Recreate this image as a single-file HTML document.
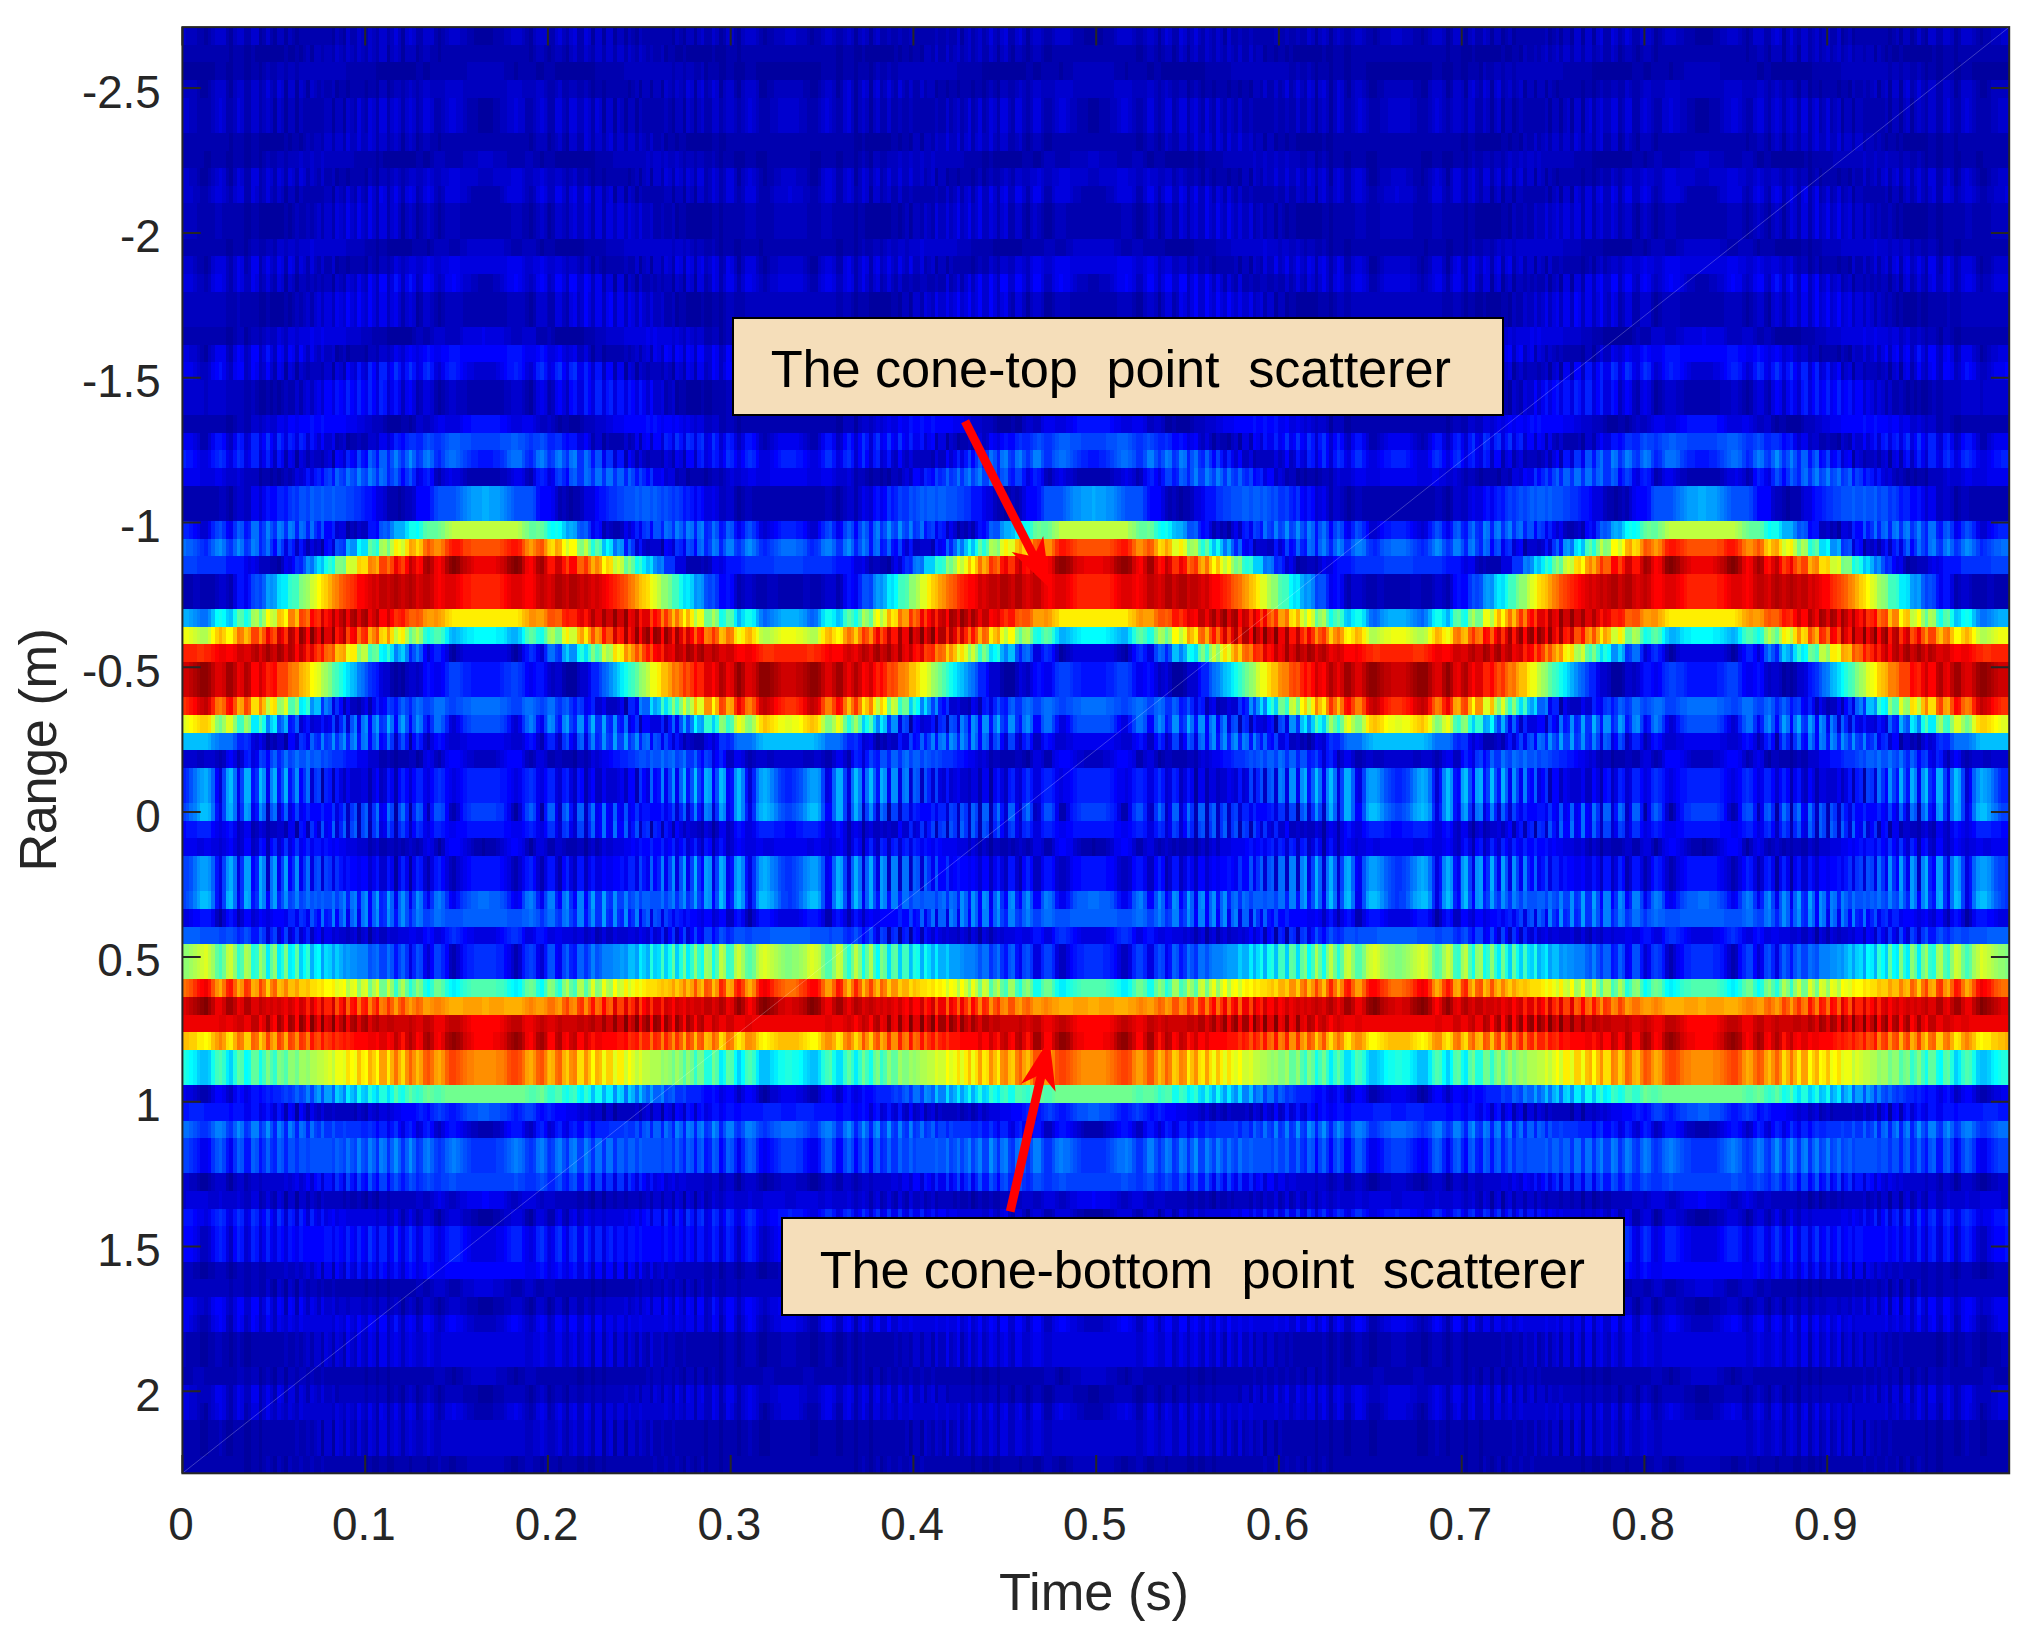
<!DOCTYPE html>
<html lang="en"><head><meta charset="utf-8"><title>Range-time image</title>
<style>
html,body{margin:0;padding:0;background:#fff}
body{width:2044px;height:1640px;position:relative;overflow:hidden;font-family:"Liberation Sans",sans-serif;color:#262626}
#hm{position:absolute;left:182.4px;top:27.1px;width:1826.8px;height:1446.2px;overflow:hidden;background:#0000a0}
.r{position:absolute;left:0;width:500px;transform:scaleX(3.65360);transform-origin:0 0}
.r i{position:absolute;top:0;height:100%;width:51px}
.ov{position:absolute;left:0;top:0}
.xt{position:absolute;top:1499.5px;width:200px;text-align:center;font-size:45.8px;line-height:50px;white-space:nowrap}
.yt{position:absolute;left:0;width:160.8px;text-align:right;font-size:45.8px;line-height:60px;height:60px;white-space:nowrap}
.xl{position:absolute;left:894px;width:400px;top:1562px;text-align:center;font-size:52.4px;line-height:60px;white-space:nowrap}
.yl{position:absolute;left:-162.2px;top:719.5px;letter-spacing:-0.5px;width:400px;height:60px;text-align:center;font-size:52.4px;line-height:60px;white-space:nowrap;transform:rotate(-90deg);transform-origin:50% 50%}
.box{position:absolute;box-sizing:content-box;border:2.2px solid #000;background:#f5deba;color:#000}
.box span{position:absolute;letter-spacing:-0.145px;font-size:52.4px;line-height:60px;white-space:pre}
</style></head>
<body>
<div id="hm">
<div class="r" style="top:0.00px;height:18.24px"><i style="left:0px;background:linear-gradient(90deg,#0000cf 0 1px,#0000bf 0 4px,#0000af 0 6px,#00009f 0 7px,#0000af 0 8px,#0000bf 0 9px,#0000cf 0 12px,#0000af 0 13px,#00009f 0 14px,#0000bf 0 15px,#0000cf 0 17px,#0000af 0 19px,#0000cf 0 21px,#00009f 0 22px,#0000af 0 23px,#0000cf 0 24px,#0000af 0 25px,#00009f 0 26px,#0000bf 0 28px,#00009f 0 29px,#0000bf 0 30px,#0000af 0 31px,#00009f 0 32px,#0000af 0 41px,#00009f 0 42px,#0000bf 0 43px,#0000af 0 44px,#00009f 0 45px,#0000cf 0 46px,#0000af 0 48px,#0000cf 0 49px,#0000bf 0)"></i><i style="left:50px;background:linear-gradient(90deg,#0000af 0 1px,#0000cf 0 2px,#0000bf 0 3px,#0000af 0 4px,#0000cf 0 6px,#0000af 0 7px,#0000bf 0 8px,#0000df 0 9px,#0000bf 0 10px,#00009f 0 11px,#0000cf 0 12px,#0000df 0 13px,#0000cf 0 14px,#0000af 0 16px,#0000cf 0 19px,#0000af 0 20px,#00009f 0 21px,#0000af 0 22px,#0000bf 0 23px,#0000cf 0 26px,#0000bf 0 28px,#0000af 0 30px,#00009f 0 35px,#0000af 0 38px,#0000bf 0 40px,#0000cf 0 43px,#0000bf 0 44px,#0000af 0 45px,#00009f 0 46px,#0000bf 0 47px,#0000cf 0)"></i><i style="left:100px;background:linear-gradient(90deg,#0000af 0 2px,#0000cf 0 3px,#0000df 0 4px,#0000bf 0 5px,#0000af 0 6px,#0000cf 0 7px,#0000df 0 8px,#0000af 0 10px,#0000df 0 11px,#0000cf 0 12px,#00009f 0 13px,#0000cf 0 15px,#00009f 0 16px,#0000cf 0 18px,#00009f 0 19px,#0000bf 0 21px,#00009f 0 22px,#0000bf 0 23px,#0000af 0 24px,#00009f 0 25px,#0000bf 0 26px,#0000af 0 34px,#00009f 0 35px,#0000bf 0 36px,#0000af 0 37px,#00009f 0 38px,#0000bf 0 40px,#00009f 0 41px,#0000bf 0 42px,#0000cf 0 43px,#0000af 0 45px,#0000cf 0 46px,#0000bf 0 47px,#00009f 0 48px,#0000af 0 49px,#0000cf 0)"></i><i style="left:150px;background:linear-gradient(90deg,#0000cf 0 1px,#0000af 0 2px,#00009f 0 3px,#0000bf 0 4px,#0000cf 0 7px,#0000bf 0 8px,#0000af 0 9px,#00009f 0 10px,#0000af 0 12px,#0000bf 0 15px,#0000cf 0 18px,#0000bf 0 21px,#0000af 0 22px,#00009f 0 23px,#0000af 0 25px,#0000bf 0 26px,#0000cf 0 28px,#0000bf 0 29px,#0000af 0 31px,#0000bf 0 32px,#0000cf 0 33px,#0000bf 0 34px,#00009f 0 35px,#0000bf 0 36px,#0000cf 0 37px,#0000bf 0 38px,#00009f 0 39px,#0000bf 0 40px,#0000cf 0 41px,#0000af 0 43px,#0000bf 0 44px,#0000af 0 46px,#0000bf 0 47px,#0000af 0 49px,#0000bf 0)"></i><i style="left:200px;background:linear-gradient(90deg,#0000af 0 6px,#0000bf 0 7px,#0000af 0 9px,#0000bf 0 10px,#0000af 0 12px,#0000cf 0 13px,#00009f 0 14px,#0000bf 0 15px,#0000cf 0 16px,#0000af 0 17px,#0000bf 0 18px,#0000cf 0 19px,#0000af 0 20px,#0000bf 0 21px,#0000df 0 22px,#0000bf 0 23px,#0000af 0 24px,#0000cf 0 25px,#0000df 0 26px,#0000af 0 28px,#0000cf 0 29px,#0000df 0 30px,#0000bf 0 31px,#00009f 0 32px,#0000bf 0 33px,#0000cf 0 35px,#0000bf 0 36px,#0000af 0 38px,#0000bf 0 39px,#0000cf 0 43px,#0000bf 0 44px,#0000af 0 47px,#00009f 0)"></i><i style="left:250px;background:linear-gradient(90deg,#00009f 0 2px,#0000af 0 5px,#0000bf 0 6px,#0000cf 0 10px,#0000bf 0 11px,#0000af 0 13px,#0000bf 0 14px,#0000cf 0 16px,#0000bf 0 17px,#00009f 0 18px,#0000bf 0 19px,#0000df 0 20px,#0000cf 0 21px,#0000af 0 23px,#0000df 0 24px,#0000cf 0 25px,#0000af 0 26px,#0000bf 0 27px,#0000df 0 28px,#0000bf 0 29px,#0000af 0 30px,#0000cf 0 31px,#0000bf 0 32px,#0000af 0 33px,#0000cf 0 34px,#0000bf 0 35px,#00009f 0 36px,#0000cf 0 37px,#0000af 0 39px,#0000bf 0 40px,#0000af 0 42px,#0000bf 0 43px,#0000af 0 49px,#0000bf 0)"></i><i style="left:300px;background:linear-gradient(90deg,#0000af 0 2px,#0000bf 0 3px,#0000af 0 5px,#0000bf 0 6px,#0000af 0 8px,#0000cf 0 9px,#0000bf 0 10px,#00009f 0 11px,#0000bf 0 12px,#0000cf 0 13px,#0000bf 0 14px,#00009f 0 15px,#0000bf 0 16px,#0000cf 0 17px,#0000bf 0 18px,#0000af 0 20px,#0000bf 0 21px,#0000cf 0 23px,#0000bf 0 24px,#0000af 0 26px,#00009f 0 27px,#0000af 0 28px,#0000bf 0 31px,#0000cf 0 34px,#0000bf 0 37px,#0000af 0 39px,#00009f 0 40px,#0000af 0 41px,#0000bf 0 42px,#0000cf 0 45px,#0000bf 0 46px,#00009f 0 47px,#0000af 0 48px,#0000cf 0)"></i><i style="left:350px;background:linear-gradient(90deg,#0000af 0 1px,#00009f 0 2px,#0000bf 0 3px,#0000cf 0 4px,#0000af 0 6px,#0000cf 0 7px,#0000bf 0 8px,#00009f 0 9px,#0000bf 0 11px,#00009f 0 12px,#0000af 0 13px,#0000bf 0 14px,#00009f 0 15px,#0000af 0 23px,#0000bf 0 24px,#00009f 0 25px,#0000af 0 26px,#0000bf 0 27px,#00009f 0 28px,#0000bf 0 30px,#00009f 0 31px,#0000cf 0 33px,#00009f 0 34px,#0000cf 0 36px,#00009f 0 37px,#0000cf 0 38px,#0000df 0 39px,#0000af 0 41px,#0000df 0 42px,#0000cf 0 43px,#0000af 0 44px,#0000bf 0 45px,#0000df 0 46px,#0000cf 0 47px,#0000af 0 49px,#0000cf 0)"></i><i style="left:400px;background:linear-gradient(90deg,#0000cf 0 2px,#0000bf 0 3px,#00009f 0 4px,#0000af 0 5px,#0000bf 0 6px,#0000cf 0 9px,#0000bf 0 11px,#0000af 0 14px,#00009f 0 19px,#0000af 0 21px,#0000bf 0 23px,#0000cf 0 26px,#0000bf 0 27px,#0000af 0 28px,#00009f 0 29px,#0000af 0 30px,#0000cf 0 33px,#0000af 0 35px,#0000cf 0 36px,#0000df 0 37px,#0000cf 0 38px,#00009f 0 39px,#0000bf 0 40px,#0000df 0 41px,#0000bf 0 42px,#0000af 0 43px,#0000cf 0 45px,#0000af 0 46px,#0000bf 0 47px,#0000cf 0 48px,#0000af 0 49px,#0000bf 0)"></i><i style="left:450px;background:linear-gradient(90deg,#0000cf 0 1px,#0000af 0 3px,#0000cf 0 4px,#00009f 0 5px,#0000af 0 6px,#0000bf 0 7px,#00009f 0 8px,#0000af 0 17px,#00009f 0 18px,#0000af 0 19px,#0000bf 0 20px,#00009f 0 21px,#0000bf 0 23px,#00009f 0 24px,#0000af 0 25px,#0000cf 0 26px,#0000af 0 27px,#00009f 0 28px,#0000cf 0 30px,#0000af 0 32px,#0000cf 0 34px,#0000bf 0 35px,#00009f 0 36px,#0000af 0 37px,#0000cf 0 40px,#0000bf 0 41px,#0000af 0 42px,#00009f 0 43px,#0000af 0 45px,#0000bf 0 48px,#0000cf 0)"></i></div>
<div class="r" style="top:17.64px;height:18.24px"><i style="left:0px;background:linear-gradient(90deg,#0000af 0 13px,#00009f 0 14px,#0000af 0 17px,#00009f 0 19px,#0000af 0 20px,#00009f 0 28px,#0000af 0 29px,#00009f 0 31px,#0000af 0 32px,#00009f 0 33px,#0000af 0 34px,#0000bf 0 35px,#00009f 0 36px,#0000bf 0 38px,#0000af 0 39px,#0000bf 0 41px,#0000af 0 42px,#0000cf 0 43px,#0000bf 0 44px,#0000af 0 45px,#0000cf 0 46px,#0000bf 0 47px,#0000af 0 48px,#0000cf 0 49px,#0000bf 0)"></i><i style="left:50px;background:linear-gradient(90deg,#0000af 0 1px,#0000cf 0 2px,#0000bf 0 3px,#0000af 0 4px,#0000cf 0 6px,#00009f 0 7px,#0000bf 0 8px,#0000cf 0 9px,#0000bf 0 10px,#00009f 0 11px,#0000bf 0 14px,#00009f 0 15px,#0000af 0 16px,#0000bf 0 18px,#0000af 0 20px,#00009f 0 21px,#0000af 0 45px,#00009f 0 46px,#0000af 0 47px,#0000bf 0 49px,#0000af 0)"></i><i style="left:100px;background:linear-gradient(90deg,#00009f 0 1px,#0000af 0 2px,#0000bf 0 4px,#0000af 0 5px,#00009f 0 6px,#0000bf 0 7px,#0000cf 0 8px,#0000af 0 10px,#0000cf 0 11px,#0000bf 0 12px,#0000af 0 13px,#0000cf 0 15px,#0000af 0 16px,#0000cf 0 18px,#0000af 0 19px,#0000cf 0 21px,#0000af 0 22px,#0000cf 0 23px,#0000bf 0 24px,#0000af 0 25px,#0000cf 0 26px,#0000bf 0 27px,#0000af 0 28px,#0000bf 0 29px,#0000af 0 31px,#0000bf 0 32px,#00009f 0 33px,#0000af 0 35px,#00009f 0 37px,#0000af 0 38px,#00009f 0 45px,#0000af 0 46px,#00009f 0 49px,#0000af 0)"></i><i style="left:150px;background:linear-gradient(90deg,#0000af 0 2px,#00009f 0 3px,#0000af 0 29px,#00009f 0 31px,#0000af 0 34px,#00009f 0 36px,#0000af 0 37px,#00009f 0 45px,#0000af 0 46px,#00009f 0 47px,#0000af 0 49px,#00009f 0)"></i><i style="left:200px;background:linear-gradient(90deg,#0000af 0 2px,#00009f 0 3px,#0000bf 0 5px,#0000af 0 6px,#0000cf 0 7px,#0000af 0 9px,#0000cf 0 10px,#0000af 0 11px,#0000bf 0 12px,#0000cf 0 13px,#0000af 0 14px,#0000bf 0 15px,#0000cf 0 16px,#0000af 0 17px,#0000bf 0 18px,#0000cf 0 19px,#0000af 0 21px,#0000cf 0 22px,#0000bf 0 23px,#00009f 0 24px,#0000bf 0 25px,#0000cf 0 26px,#0000af 0 27px,#00009f 0 28px,#0000bf 0 30px,#0000af 0 31px,#00009f 0 32px,#0000af 0 33px,#0000bf 0 35px,#0000af 0 36px,#00009f 0 38px,#0000af 0)"></i><i style="left:250px;background:linear-gradient(90deg,#0000af 0 11px,#00009f 0 13px,#0000af 0 14px,#0000bf 0 16px,#0000af 0 17px,#00009f 0 18px,#0000af 0 19px,#0000bf 0 21px,#00009f 0 22px,#0000af 0 23px,#0000cf 0 24px,#0000bf 0 25px,#00009f 0 26px,#0000bf 0 27px,#0000cf 0 28px,#0000af 0 30px,#0000cf 0 31px,#0000bf 0 32px,#0000af 0 33px,#0000cf 0 34px,#0000bf 0 35px,#0000af 0 36px,#0000cf 0 37px,#0000bf 0 38px,#0000af 0 39px,#0000cf 0 40px,#0000af 0 42px,#0000cf 0 43px,#0000af 0 44px,#0000bf 0 46px,#00009f 0 47px,#0000af 0 49px,#00009f 0)"></i><i style="left:300px;background:linear-gradient(90deg,#0000af 0 2px,#00009f 0 3px,#0000af 0 4px,#00009f 0 12px,#0000af 0 13px,#00009f 0 15px,#0000af 0 18px,#00009f 0 20px,#0000af 0 46px,#00009f 0 47px,#0000af 0)"></i><i style="left:350px;background:linear-gradient(90deg,#00009f 0 3px,#0000af 0 4px,#00009f 0 11px,#0000af 0 12px,#00009f 0 14px,#0000af 0 16px,#00009f 0 17px,#0000bf 0 18px,#0000af 0 20px,#0000bf 0 21px,#0000af 0 22px,#0000bf 0 23px,#0000cf 0 24px,#0000af 0 25px,#0000bf 0 26px,#0000cf 0 27px,#0000af 0 28px,#0000cf 0 30px,#0000af 0 31px,#0000cf 0 33px,#0000af 0 34px,#0000cf 0 36px,#0000af 0 37px,#0000bf 0 38px,#0000cf 0 39px,#0000af 0 41px,#0000cf 0 42px,#0000bf 0 43px,#00009f 0 44px,#0000af 0 45px,#0000bf 0 47px,#0000af 0 48px,#00009f 0 49px,#0000af 0)"></i><i style="left:400px;background:linear-gradient(90deg,#0000bf 0 2px,#0000af 0 3px,#00009f 0 4px,#0000af 0 28px,#00009f 0 29px,#0000af 0 31px,#0000bf 0 33px,#0000af 0 34px,#00009f 0 35px,#0000bf 0 38px,#00009f 0 39px,#0000bf 0 40px,#0000cf 0 41px,#0000bf 0 42px,#00009f 0 43px,#0000cf 0 45px,#0000af 0 46px,#0000bf 0 47px,#0000cf 0 48px,#0000af 0 49px,#0000bf 0)"></i><i style="left:450px;background:linear-gradient(90deg,#0000cf 0 1px,#0000af 0 2px,#0000bf 0 3px,#0000cf 0 4px,#0000af 0 5px,#0000bf 0 6px,#0000cf 0 7px,#0000af 0 8px,#0000bf 0 10px,#0000af 0 11px,#0000bf 0 13px,#00009f 0 14px,#0000bf 0 15px,#0000af 0 16px,#00009f 0 17px,#0000af 0 18px,#00009f 0 20px,#0000af 0 21px,#00009f 0 29px,#0000af 0 30px,#00009f 0 32px,#0000af 0 35px,#00009f 0 36px,#0000af 0)"></i></div>
<div class="r" style="top:35.27px;height:18.24px"><i style="left:0px;background:linear-gradient(90deg,#00009f 0 9px,#0000af 0 12px,#00009f 0 14px,#0000af 0 17px,#00009f 0 19px,#0000af 0 21px,#00009f 0 22px,#0000af 0 23px,#0000bf 0 24px,#0000af 0 26px,#0000bf 0 28px,#0000af 0 29px,#0000bf 0 31px,#0000af 0 32px,#0000bf 0 45px,#0000af 0)"></i><i style="left:50px;background:linear-gradient(90deg,#0000af 0 3px,#00009f 0 14px,#0000af 0 16px,#00009f 0 18px,#0000af 0 28px,#0000bf 0 38px,#0000af 0 41px,#00009f 0 42px,#0000af 0 47px,#00009f 0 49px,#0000af 0)"></i><i style="left:100px;background:linear-gradient(90deg,#0000af 0 2px,#00009f 0 13px,#0000af 0 21px,#0000bf 0 34px,#0000af 0 35px,#0000bf 0 37px,#0000af 0 38px,#0000bf 0 40px,#0000af 0 42px,#0000bf 0 43px,#00009f 0 44px,#0000af 0 47px,#00009f 0 49px,#0000af 0)"></i><i style="left:150px;background:linear-gradient(90deg,#0000af 0 1px,#00009f 0 4px,#0000af 0 7px,#00009f 0 25px,#0000af 0 29px,#00009f 0 31px,#0000af 0 34px,#00009f 0 35px,#0000af 0 38px,#00009f 0 39px,#0000af 0 40px,#0000bf 0 41px,#0000af 0 43px,#0000bf 0 44px,#0000af 0 46px,#0000bf 0)"></i><i style="left:200px;background:linear-gradient(90deg,#0000bf 0 12px,#0000af 0 19px,#00009f 0 31px,#0000af 0 33px,#00009f 0 35px,#0000af 0 40px,#00009f 0 41px,#0000af 0 44px,#0000bf 0)"></i><i style="left:250px;background:linear-gradient(90deg,#0000bf 0 5px,#0000af 0 8px,#00009f 0 9px,#0000af 0 14px,#00009f 0 16px,#0000af 0 18px,#00009f 0 30px,#0000af 0 37px,#0000bf 0)"></i><i style="left:300px;background:linear-gradient(90deg,#0000bf 0 3px,#0000af 0 5px,#0000bf 0 6px,#0000af 0 8px,#0000bf 0 9px,#0000af 0 10px,#00009f 0 11px,#0000af 0 14px,#00009f 0 15px,#0000af 0 18px,#00009f 0 20px,#0000af 0 24px,#00009f 0 42px,#0000af 0 45px,#00009f 0 48px,#0000af 0)"></i><i style="left:350px;background:linear-gradient(90deg,#00009f 0 2px,#0000af 0 5px,#00009f 0 6px,#0000bf 0 7px,#0000af 0 9px,#0000bf 0 11px,#0000af 0 12px,#0000bf 0 14px,#0000af 0 15px,#0000bf 0 28px,#0000af 0 36px,#00009f 0 47px,#0000af 0)"></i><i style="left:400px;background:linear-gradient(90deg,#00009f 0 2px,#0000af 0 7px,#00009f 0 8px,#0000af 0 11px,#0000bf 0 21px,#0000af 0 31px,#00009f 0 33px,#0000af 0 35px,#00009f 0 46px,#0000af 0)"></i><i style="left:450px;background:linear-gradient(90deg,#0000af 0 4px,#0000bf 0 17px,#0000af 0 18px,#0000bf 0 20px,#0000af 0 21px,#0000bf 0 23px,#0000af 0 25px,#0000bf 0 26px,#0000af 0 27px,#00009f 0 28px,#0000af 0 30px,#00009f 0 32px,#0000af 0 35px,#00009f 0 37px,#0000af 0 40px,#00009f 0)"></i></div>
<div class="r" style="top:52.91px;height:18.24px"><i style="left:0px;background:linear-gradient(90deg,#0000bf 0 4px,#0000af 0 5px,#00009f 0 7px,#0000af 0 8px,#0000bf 0 9px,#0000cf 0 12px,#0000af 0 13px,#00009f 0 14px,#0000bf 0 15px,#0000cf 0 17px,#0000af 0 19px,#0000cf 0 21px,#0000af 0 22px,#0000bf 0 23px,#0000df 0 24px,#0000bf 0 25px,#0000af 0 26px,#0000df 0 27px,#0000cf 0 28px,#00009f 0 29px,#0000cf 0 31px,#00009f 0 32px,#0000cf 0 33px,#0000bf 0 34px,#00009f 0 35px,#0000cf 0 36px,#0000bf 0 37px,#0000af 0 38px,#0000bf 0 39px,#0000af 0 41px,#0000bf 0 42px,#00009f 0 43px,#0000af 0 45px,#00009f 0 46px,#0000af 0)"></i><i style="left:50px;background:linear-gradient(90deg,#00009f 0 1px,#0000af 0 3px,#00009f 0 4px,#0000bf 0 6px,#00009f 0 7px,#0000af 0 8px,#0000bf 0 10px,#0000af 0 11px,#0000bf 0 12px,#0000cf 0 13px,#0000bf 0 14px,#0000af 0 15px,#0000bf 0 16px,#0000cf 0 18px,#0000bf 0 22px,#0000cf 0 27px,#0000bf 0 39px,#0000cf 0 43px,#0000bf 0 47px,#0000cf 0 49px,#0000bf 0)"></i><i style="left:100px;background:linear-gradient(90deg,#0000af 0 2px,#0000bf 0 3px,#0000cf 0 4px,#0000af 0 6px,#0000bf 0 8px,#0000af 0 10px,#0000bf 0 11px,#0000af 0 12px,#00009f 0 13px,#0000af 0 15px,#00009f 0 16px,#0000af 0 22px,#00009f 0 23px,#0000af 0 24px,#0000bf 0 25px,#00009f 0 26px,#0000bf 0 28px,#00009f 0 29px,#0000bf 0 31px,#00009f 0 32px,#0000cf 0 33px,#0000bf 0 34px,#0000af 0 35px,#0000cf 0 36px,#0000bf 0 37px,#0000af 0 38px,#0000df 0 39px,#0000cf 0 40px,#00009f 0 41px,#0000cf 0 42px,#0000df 0 43px,#0000af 0 44px,#0000bf 0 45px,#0000df 0 46px,#0000cf 0 47px,#00009f 0 48px,#0000bf 0 49px,#0000cf 0)"></i><i style="left:150px;background:linear-gradient(90deg,#0000cf 0 1px,#0000af 0 2px,#00009f 0 3px,#0000bf 0 4px,#0000cf 0 7px,#0000bf 0 8px,#00009f 0 10px,#0000af 0 12px,#0000bf 0 20px,#0000af 0 22px,#00009f 0 24px,#0000af 0 25px,#0000bf 0 26px,#0000cf 0 28px,#0000bf 0 29px,#00009f 0 30px,#0000af 0 31px,#0000cf 0 32px,#0000df 0 33px,#0000bf 0 34px,#00009f 0 35px,#0000bf 0 36px,#0000df 0 37px,#0000cf 0 38px,#00009f 0 39px,#0000cf 0 40px,#0000df 0 41px,#0000af 0 42px,#0000bf 0 43px,#0000df 0 44px,#0000bf 0 45px,#0000af 0 46px,#0000df 0 47px,#0000bf 0 48px,#0000af 0 49px,#0000cf 0)"></i><i style="left:200px;background:linear-gradient(90deg,#0000af 0 2px,#0000cf 0 3px,#0000af 0 4px,#0000bf 0 6px,#00009f 0 7px,#0000af 0 9px,#00009f 0 10px,#0000af 0 12px,#00009f 0 13px,#0000af 0 16px,#00009f 0 17px,#0000af 0 19px,#00009f 0 20px,#0000af 0 21px,#0000bf 0 22px,#0000af 0 23px,#00009f 0 24px,#0000bf 0 26px,#0000af 0 28px,#0000bf 0 29px,#0000cf 0 30px,#0000bf 0 31px,#0000af 0 32px,#0000bf 0 33px,#0000cf 0 35px,#0000bf 0 39px,#0000cf 0 44px,#0000bf 0)"></i><i style="left:250px;background:linear-gradient(90deg,#0000bf 0 5px,#0000cf 0 10px,#0000bf 0 14px,#0000cf 0 16px,#0000bf 0 17px,#0000af 0 18px,#0000bf 0 19px,#0000cf 0 20px,#0000bf 0 21px,#0000af 0 23px,#0000bf 0 25px,#00009f 0 26px,#0000af 0 27px,#0000bf 0 28px,#0000af 0 29px,#00009f 0 30px,#0000af 0 32px,#00009f 0 33px,#0000af 0 36px,#00009f 0 37px,#0000af 0 39px,#00009f 0 40px,#0000af 0 42px,#00009f 0 43px,#0000bf 0 45px,#0000af 0 46px,#0000cf 0 47px,#0000af 0 49px,#0000cf 0)"></i><i style="left:300px;background:linear-gradient(90deg,#0000af 0 1px,#0000bf 0 2px,#0000df 0 3px,#0000af 0 4px,#0000bf 0 5px,#0000df 0 6px,#0000bf 0 7px,#0000af 0 8px,#0000df 0 9px,#0000cf 0 10px,#00009f 0 11px,#0000cf 0 12px,#0000df 0 13px,#0000bf 0 14px,#00009f 0 15px,#0000bf 0 16px,#0000df 0 17px,#0000cf 0 18px,#0000af 0 19px,#00009f 0 20px,#0000bf 0 21px,#0000cf 0 23px,#0000bf 0 24px,#0000af 0 25px,#00009f 0 27px,#0000af 0 29px,#0000bf 0 37px,#0000af 0 39px,#00009f 0 41px,#0000bf 0 42px,#0000cf 0 45px,#0000bf 0 46px,#00009f 0 47px,#0000af 0 48px,#0000cf 0)"></i><i style="left:350px;background:linear-gradient(90deg,#0000bf 0 1px,#00009f 0 2px,#0000cf 0 3px,#0000df 0 4px,#0000bf 0 5px,#0000af 0 6px,#0000df 0 7px,#0000cf 0 8px,#00009f 0 9px,#0000cf 0 10px,#0000df 0 11px,#0000af 0 12px,#0000bf 0 13px,#0000cf 0 14px,#0000af 0 15px,#0000bf 0 16px,#0000cf 0 17px,#00009f 0 18px,#0000bf 0 20px,#00009f 0 21px,#0000bf 0 23px,#00009f 0 24px,#0000bf 0 25px,#0000af 0 26px,#00009f 0 27px,#0000af 0 33px,#00009f 0 34px,#0000af 0 36px,#00009f 0 37px,#0000af 0 38px,#0000bf 0 39px,#0000af 0 41px,#0000bf 0 43px,#0000af 0 45px,#0000cf 0 46px,#0000bf 0 47px,#0000af 0 49px,#0000bf 0)"></i><i style="left:400px;background:linear-gradient(90deg,#0000cf 0 2px,#0000bf 0 6px,#0000cf 0 10px,#0000bf 0 22px,#0000cf 0 27px,#0000bf 0 31px,#0000cf 0 33px,#0000bf 0 34px,#0000af 0 35px,#0000bf 0 36px,#0000cf 0 37px,#0000bf 0 38px,#0000af 0 39px,#0000bf 0 41px,#0000af 0 42px,#00009f 0 43px,#0000bf 0 45px,#00009f 0 46px,#0000af 0 48px,#00009f 0 49px,#0000af 0)"></i><i style="left:450px;background:linear-gradient(90deg,#0000af 0 3px,#00009f 0 4px,#0000af 0 6px,#00009f 0 7px,#0000bf 0 8px,#0000af 0 10px,#0000bf 0 11px,#0000af 0 12px,#0000bf 0 13px,#0000cf 0 14px,#00009f 0 15px,#0000bf 0 16px,#0000cf 0 17px,#00009f 0 18px,#0000cf 0 20px,#00009f 0 21px,#0000cf 0 22px,#0000df 0 23px,#0000af 0 24px,#0000bf 0 25px,#0000df 0 26px,#0000bf 0 27px,#0000af 0 28px,#0000cf 0 30px,#0000af 0 32px,#0000cf 0 34px,#0000bf 0 35px,#00009f 0 36px,#0000af 0 37px,#0000cf 0 40px,#0000bf 0 41px,#0000af 0 42px,#00009f 0 44px,#0000af 0 45px,#0000bf 0)"></i></div>
<div class="r" style="top:70.55px;height:35.87px"><i style="left:0px;background:linear-gradient(90deg,#0000cf 0 2px,#0000bf 0 4px,#0000af 0 8px,#0000bf 0 9px,#0000cf 0 10px,#0000df 0 11px,#0000cf 0 12px,#0000af 0 14px,#0000bf 0 15px,#0000df 0 16px,#0000cf 0 17px,#0000af 0 19px,#0000cf 0 21px,#0000af 0 22px,#0000bf 0 23px,#0000cf 0 24px,#0000bf 0 25px,#00009f 0 26px,#0000cf 0 27px,#0000bf 0 28px,#00009f 0 29px,#0000bf 0 31px,#00009f 0 32px,#0000bf 0 33px,#0000af 0 39px,#0000bf 0 41px,#00009f 0 42px,#0000bf 0 44px,#00009f 0 45px,#0000cf 0 46px,#0000bf 0 47px,#0000af 0 48px,#0000df 0 49px,#0000bf 0)"></i><i style="left:50px;background:linear-gradient(90deg,#0000af 0 1px,#0000df 0 2px,#0000cf 0 3px,#0000af 0 4px,#0000df 0 6px,#0000af 0 7px,#0000cf 0 8px,#0000df 0 9px,#0000cf 0 10px,#0000af 0 11px,#0000cf 0 12px,#0000df 0 13px,#0000cf 0 14px,#0000af 0 15px,#0000bf 0 16px,#0000df 0 18px,#0000cf 0 19px,#0000af 0 21px,#0000bf 0 22px,#0000cf 0 23px,#0000df 0 25px,#0000cf 0 27px,#0000bf 0 28px,#0000af 0 31px,#00009f 0 35px,#0000af 0 37px,#0000bf 0 39px,#0000cf 0 41px,#0000df 0 42px,#0000cf 0 44px,#0000af 0 46px,#0000bf 0 47px,#0000cf 0 48px,#0000df 0 49px,#0000cf 0)"></i><i style="left:100px;background:linear-gradient(90deg,#0000af 0 2px,#0000df 0 4px,#0000bf 0 5px,#0000af 0 6px,#0000df 0 8px,#0000bf 0 10px,#0000df 0 11px,#0000cf 0 12px,#0000af 0 13px,#0000df 0 14px,#0000cf 0 15px,#00009f 0 16px,#0000cf 0 18px,#00009f 0 19px,#0000cf 0 20px,#0000bf 0 21px,#00009f 0 22px,#0000bf 0 24px,#00009f 0 25px,#0000bf 0 26px,#0000af 0 32px,#0000bf 0 33px,#0000af 0 34px,#00009f 0 35px,#0000bf 0 37px,#00009f 0 38px,#0000cf 0 39px,#0000bf 0 40px,#00009f 0 41px,#0000bf 0 42px,#0000cf 0 43px,#0000af 0 45px,#0000cf 0 47px,#0000af 0 48px,#0000bf 0 49px,#0000cf 0)"></i><i style="left:150px;background:linear-gradient(90deg,#0000cf 0 1px,#0000bf 0 2px,#0000af 0 3px,#0000bf 0 4px,#0000cf 0 5px,#0000df 0 6px,#0000cf 0 7px,#0000bf 0 8px,#0000af 0 11px,#0000bf 0 13px,#0000cf 0 19px,#0000bf 0 21px,#0000af 0 24px,#0000bf 0 25px,#0000cf 0 26px,#0000df 0 27px,#0000cf 0 28px,#0000bf 0 29px,#0000af 0 31px,#0000cf 0 32px,#0000df 0 33px,#0000bf 0 34px,#00009f 0 35px,#0000bf 0 36px,#0000cf 0 37px,#0000bf 0 38px,#00009f 0 39px,#0000bf 0 40px,#0000cf 0 41px,#0000af 0 43px,#0000cf 0 44px,#0000af 0 46px,#0000bf 0 47px,#0000af 0 49px,#0000bf 0)"></i><i style="left:200px;background:linear-gradient(90deg,#0000af 0 6px,#0000bf 0 7px,#0000af 0 9px,#0000cf 0 10px,#0000af 0 11px,#0000bf 0 12px,#0000cf 0 13px,#0000af 0 14px,#0000bf 0 15px,#0000df 0 16px,#0000af 0 17px,#0000bf 0 18px,#0000df 0 19px,#0000af 0 20px,#0000bf 0 21px,#0000df 0 22px,#0000cf 0 23px,#0000af 0 24px,#0000df 0 26px,#0000bf 0 27px,#0000af 0 28px,#0000df 0 30px,#0000bf 0 31px,#0000af 0 32px,#0000bf 0 33px,#0000df 0 35px,#0000bf 0 36px,#0000af 0 38px,#0000bf 0 39px,#0000cf 0 40px,#0000df 0 42px,#0000cf 0 43px,#0000bf 0 45px,#0000af 0 48px,#00009f 0)"></i><i style="left:250px;background:linear-gradient(90deg,#00009f 0 1px,#0000af 0 4px,#0000bf 0 6px,#0000cf 0 7px,#0000df 0 9px,#0000cf 0 10px,#0000bf 0 11px,#0000af 0 13px,#0000bf 0 14px,#0000df 0 16px,#0000bf 0 17px,#0000af 0 18px,#0000bf 0 19px,#0000df 0 21px,#0000af 0 22px,#0000bf 0 23px,#0000df 0 25px,#0000af 0 26px,#0000cf 0 27px,#0000df 0 28px,#0000bf 0 29px,#0000af 0 30px,#0000df 0 31px,#0000bf 0 32px,#0000af 0 33px,#0000df 0 34px,#0000bf 0 35px,#0000af 0 36px,#0000cf 0 37px,#0000bf 0 38px,#0000af 0 39px,#0000cf 0 40px,#0000af 0 42px,#0000bf 0 43px,#0000af 0 49px,#0000bf 0)"></i><i style="left:300px;background:linear-gradient(90deg,#0000af 0 2px,#0000bf 0 3px,#0000af 0 5px,#0000cf 0 6px,#0000af 0 8px,#0000cf 0 9px,#0000bf 0 10px,#00009f 0 11px,#0000bf 0 12px,#0000cf 0 13px,#0000bf 0 14px,#00009f 0 15px,#0000bf 0 16px,#0000df 0 17px,#0000cf 0 18px,#0000af 0 20px,#0000bf 0 21px,#0000cf 0 22px,#0000df 0 23px,#0000cf 0 24px,#0000bf 0 25px,#0000af 0 28px,#0000bf 0 30px,#0000cf 0 36px,#0000bf 0 38px,#0000af 0 41px,#0000bf 0 42px,#0000cf 0 43px,#0000df 0 44px,#0000cf 0 45px,#0000bf 0 46px,#0000af 0 47px,#0000bf 0 48px,#0000cf 0)"></i><i style="left:350px;background:linear-gradient(90deg,#0000bf 0 1px,#0000af 0 2px,#0000cf 0 4px,#0000af 0 6px,#0000cf 0 7px,#0000bf 0 8px,#00009f 0 9px,#0000bf 0 10px,#0000cf 0 11px,#00009f 0 12px,#0000bf 0 14px,#00009f 0 15px,#0000af 0 16px,#0000bf 0 17px,#0000af 0 23px,#0000bf 0 24px,#00009f 0 25px,#0000bf 0 27px,#00009f 0 28px,#0000bf 0 29px,#0000cf 0 30px,#00009f 0 31px,#0000cf 0 33px,#00009f 0 34px,#0000cf 0 35px,#0000df 0 36px,#0000af 0 37px,#0000cf 0 38px,#0000df 0 39px,#0000bf 0 41px,#0000df 0 43px,#0000af 0 44px,#0000bf 0 45px,#0000df 0 47px,#0000af 0 49px,#0000cf 0)"></i><i style="left:400px;background:linear-gradient(90deg,#0000df 0 1px,#0000cf 0 2px,#0000bf 0 3px,#0000af 0 5px,#0000cf 0 7px,#0000df 0 8px,#0000cf 0 10px,#0000bf 0 12px,#0000af 0 14px,#00009f 0 18px,#0000af 0 21px,#0000bf 0 22px,#0000cf 0 24px,#0000df 0 26px,#0000cf 0 27px,#0000bf 0 28px,#0000af 0 30px,#0000cf 0 31px,#0000df 0 33px,#0000bf 0 34px,#0000af 0 35px,#0000cf 0 36px,#0000df 0 37px,#0000cf 0 38px,#0000af 0 39px,#0000cf 0 40px,#0000df 0 41px,#0000cf 0 42px,#0000af 0 43px,#0000df 0 45px,#0000af 0 46px,#0000cf 0 47px,#0000df 0 48px,#0000af 0 49px,#0000bf 0)"></i><i style="left:450px;background:linear-gradient(90deg,#0000df 0 1px,#0000af 0 2px,#0000bf 0 3px,#0000cf 0 4px,#00009f 0 5px,#0000bf 0 7px,#00009f 0 8px,#0000bf 0 10px,#0000af 0 16px,#0000bf 0 17px,#00009f 0 18px,#0000bf 0 20px,#00009f 0 21px,#0000bf 0 22px,#0000cf 0 23px,#00009f 0 24px,#0000bf 0 25px,#0000cf 0 26px,#0000bf 0 27px,#0000af 0 28px,#0000cf 0 30px,#0000af 0 32px,#0000cf 0 33px,#0000df 0 34px,#0000bf 0 35px,#0000af 0 37px,#0000cf 0 38px,#0000df 0 39px,#0000cf 0 40px,#0000bf 0 41px,#0000af 0 45px,#0000bf 0 47px,#0000cf 0)"></i></div>
<div class="r" style="top:105.82px;height:18.24px"><i style="left:0px;background:linear-gradient(90deg,#0000af 0 13px,#00009f 0 14px,#0000af 0 17px,#00009f 0 19px,#0000af 0 21px,#00009f 0 28px,#0000af 0 29px,#00009f 0 30px,#0000af 0 32px,#00009f 0 33px,#0000af 0 34px,#0000bf 0 35px,#0000af 0 36px,#0000bf 0 38px,#0000af 0 39px,#0000cf 0 41px,#0000af 0 42px,#0000cf 0 44px,#0000af 0 45px,#0000df 0 46px,#0000bf 0 48px,#0000df 0 49px,#0000bf 0)"></i><i style="left:50px;background:linear-gradient(90deg,#0000bf 0 1px,#0000df 0 2px,#0000cf 0 3px,#0000af 0 4px,#0000cf 0 6px,#0000af 0 7px,#0000bf 0 8px,#0000cf 0 9px,#0000bf 0 10px,#00009f 0 11px,#0000bf 0 12px,#0000cf 0 13px,#0000bf 0 14px,#00009f 0 15px,#0000af 0 16px,#0000bf 0 18px,#0000af 0 20px,#00009f 0 21px,#0000af 0 45px,#00009f 0 46px,#0000af 0 47px,#0000bf 0)"></i><i style="left:100px;background:linear-gradient(90deg,#00009f 0 1px,#0000af 0 2px,#0000bf 0 3px,#0000cf 0 4px,#0000af 0 5px,#00009f 0 6px,#0000cf 0 8px,#0000af 0 10px,#0000df 0 11px,#0000cf 0 12px,#0000af 0 13px,#0000cf 0 15px,#0000af 0 16px,#0000cf 0 17px,#0000df 0 18px,#0000af 0 19px,#0000cf 0 21px,#0000af 0 22px,#0000cf 0 24px,#0000af 0 25px,#0000cf 0 26px,#0000bf 0 27px,#0000af 0 28px,#0000cf 0 29px,#0000af 0 31px,#0000bf 0 32px,#00009f 0 33px,#0000af 0 35px,#00009f 0 36px,#0000af 0 38px,#00009f 0 45px,#0000af 0 47px,#00009f 0 49px,#0000af 0)"></i><i style="left:150px;background:linear-gradient(90deg,#0000af 0 34px,#00009f 0 36px,#0000af 0 37px,#00009f 0 44px,#0000af 0 46px,#00009f 0 47px,#0000af 0 49px,#00009f 0)"></i><i style="left:200px;background:linear-gradient(90deg,#0000bf 0 2px,#00009f 0 3px,#0000bf 0 5px,#0000af 0 6px,#0000cf 0 7px,#0000bf 0 9px,#0000df 0 10px,#0000bf 0 12px,#0000df 0 13px,#0000af 0 14px,#0000cf 0 15px,#0000df 0 16px,#0000af 0 17px,#0000cf 0 18px,#0000df 0 19px,#0000bf 0 21px,#0000df 0 22px,#0000bf 0 23px,#0000af 0 24px,#0000cf 0 26px,#0000af 0 28px,#0000bf 0 29px,#0000cf 0 30px,#0000af 0 31px,#00009f 0 32px,#0000af 0 33px,#0000bf 0 35px,#0000af 0 36px,#00009f 0 38px,#0000af 0)"></i><i style="left:250px;background:linear-gradient(90deg,#0000af 0 11px,#00009f 0 13px,#0000af 0 14px,#0000bf 0 16px,#0000af 0 17px,#00009f 0 18px,#0000af 0 19px,#0000cf 0 20px,#0000bf 0 21px,#0000af 0 23px,#0000cf 0 25px,#0000af 0 26px,#0000bf 0 27px,#0000df 0 28px,#0000bf 0 30px,#0000df 0 31px,#0000cf 0 32px,#0000af 0 33px,#0000df 0 34px,#0000cf 0 35px,#0000af 0 36px,#0000df 0 37px,#0000bf 0 39px,#0000df 0 40px,#0000bf 0 42px,#0000cf 0 43px,#0000af 0 44px,#0000bf 0 46px,#00009f 0 47px,#0000bf 0 49px,#00009f 0)"></i><i style="left:300px;background:linear-gradient(90deg,#0000af 0 2px,#00009f 0 3px,#0000af 0 5px,#00009f 0 12px,#0000af 0 13px,#00009f 0 15px,#0000af 0)"></i><i style="left:350px;background:linear-gradient(90deg,#00009f 0 2px,#0000af 0 4px,#00009f 0 11px,#0000af 0 13px,#00009f 0 14px,#0000af 0 16px,#00009f 0 17px,#0000bf 0 18px,#0000af 0 20px,#0000cf 0 21px,#0000af 0 22px,#0000bf 0 23px,#0000cf 0 24px,#0000af 0 25px,#0000cf 0 27px,#0000af 0 28px,#0000cf 0 30px,#0000af 0 31px,#0000df 0 32px,#0000cf 0 33px,#0000af 0 34px,#0000cf 0 36px,#0000af 0 37px,#0000cf 0 38px,#0000df 0 39px,#0000af 0 41px,#0000cf 0 43px,#00009f 0 44px,#0000af 0 45px,#0000cf 0 46px,#0000bf 0 47px,#0000af 0 48px,#00009f 0 49px,#0000bf 0)"></i><i style="left:400px;background:linear-gradient(90deg,#0000bf 0 2px,#0000af 0 3px,#00009f 0 4px,#0000af 0 28px,#00009f 0 29px,#0000af 0 31px,#0000bf 0 33px,#0000af 0 34px,#00009f 0 35px,#0000bf 0 36px,#0000cf 0 37px,#0000bf 0 38px,#00009f 0 39px,#0000bf 0 40px,#0000cf 0 41px,#0000bf 0 42px,#0000af 0 43px,#0000cf 0 45px,#0000af 0 46px,#0000cf 0 47px,#0000df 0 48px,#0000bf 0)"></i><i style="left:450px;background:linear-gradient(90deg,#0000df 0 1px,#0000bf 0 3px,#0000df 0 4px,#0000af 0 5px,#0000cf 0 7px,#0000af 0 8px,#0000cf 0 10px,#0000af 0 11px,#0000bf 0 13px,#0000af 0 14px,#0000bf 0 15px,#0000af 0 16px,#00009f 0 17px,#0000af 0 19px,#00009f 0 20px,#0000af 0 21px,#00009f 0 28px,#0000af 0 30px,#00009f 0 32px,#0000af 0 35px,#00009f 0 36px,#0000af 0)"></i></div>
<div class="r" style="top:123.46px;height:18.24px"><i style="left:0px;background:linear-gradient(90deg,#0000af 0 6px,#00009f 0 8px,#0000af 0 12px,#00009f 0 14px,#0000af 0 17px,#00009f 0 19px,#0000af 0 21px,#00009f 0 22px,#0000af 0 23px,#0000bf 0 24px,#0000af 0 26px,#0000bf 0 28px,#0000af 0 29px,#0000bf 0 32px,#0000cf 0 33px,#0000bf 0 35px,#0000cf 0 36px,#0000bf 0 38px,#0000cf 0 39px,#0000bf 0 47px,#0000af 0)"></i><i style="left:50px;background:linear-gradient(90deg,#0000af 0 3px,#00009f 0 4px,#0000af 0 5px,#00009f 0 14px,#0000af 0 16px,#00009f 0 18px,#0000af 0 19px,#0000bf 0 22px,#0000af 0 27px,#0000bf 0 31px,#0000cf 0 35px,#0000bf 0 39px,#0000af 0 44px,#0000bf 0 46px,#0000af 0 48px,#00009f 0 49px,#0000af 0)"></i><i style="left:100px;background:linear-gradient(90deg,#0000af 0 2px,#00009f 0 13px,#0000af 0 18px,#0000bf 0 27px,#0000cf 0 28px,#0000bf 0 29px,#0000cf 0 31px,#0000bf 0 32px,#0000cf 0 33px,#0000bf 0 35px,#0000cf 0 36px,#0000bf 0 37px,#0000af 0 38px,#0000bf 0 40px,#0000af 0 41px,#0000bf 0 43px,#0000af 0 45px,#0000bf 0 46px,#0000af 0 47px,#00009f 0 48px,#0000af 0)"></i><i style="left:150px;background:linear-gradient(90deg,#0000af 0 1px,#00009f 0 4px,#0000af 0 7px,#00009f 0 10px,#0000af 0 22px,#00009f 0 25px,#0000af 0 29px,#00009f 0 31px,#0000af 0 34px,#00009f 0 35px,#0000af 0 36px,#0000bf 0 37px,#0000af 0 38px,#00009f 0 39px,#0000bf 0 41px,#0000af 0 43px,#0000bf 0 46px,#0000cf 0 47px,#0000bf 0 49px,#0000cf 0)"></i><i style="left:200px;background:linear-gradient(90deg,#0000bf 0 2px,#0000cf 0 3px,#0000bf 0 5px,#0000cf 0 6px,#0000bf 0 14px,#0000af 0 19px,#00009f 0 21px,#0000af 0 22px,#00009f 0 30px,#0000af 0 33px,#00009f 0 35px,#0000af 0 36px,#0000bf 0 39px,#0000af 0 43px,#0000bf 0 48px,#0000cf 0)"></i><i style="left:250px;background:linear-gradient(90deg,#0000cf 0 1px,#0000bf 0 6px,#0000af 0 10px,#0000bf 0 13px,#0000af 0 14px,#00009f 0 16px,#0000af 0 19px,#00009f 0 27px,#0000af 0 28px,#00009f 0 30px,#0000af 0 35px,#0000bf 0 43px,#0000cf 0 44px,#0000bf 0 46px,#0000cf 0 47px,#0000bf 0 49px,#0000cf 0)"></i><i style="left:300px;background:linear-gradient(90deg,#0000bf 0 2px,#0000cf 0 3px,#0000bf 0 6px,#0000af 0 8px,#0000bf 0 10px,#00009f 0 11px,#0000af 0 12px,#0000bf 0 13px,#0000af 0 14px,#00009f 0 15px,#0000af 0 18px,#00009f 0 20px,#0000af 0 24px,#00009f 0 27px,#0000af 0 39px,#00009f 0 42px,#0000af 0 45px,#00009f 0 48px,#0000af 0)"></i><i style="left:350px;background:linear-gradient(90deg,#0000af 0 1px,#00009f 0 2px,#0000af 0 3px,#0000bf 0 4px,#0000af 0 6px,#0000bf 0 8px,#0000af 0 9px,#0000bf 0 11px,#0000af 0 12px,#0000bf 0 13px,#0000cf 0 14px,#0000bf 0 16px,#0000cf 0 17px,#0000bf 0 18px,#0000cf 0 20px,#0000bf 0 21px,#0000cf 0 22px,#0000bf 0 31px,#0000af 0 36px,#00009f 0 47px,#0000af 0)"></i><i style="left:400px;background:linear-gradient(90deg,#00009f 0 1px,#0000af 0 3px,#0000bf 0 5px,#0000af 0 10px,#0000bf 0 14px,#0000cf 0 18px,#0000bf 0 22px,#0000af 0 27px,#0000bf 0 30px,#0000af 0 31px,#00009f 0 33px,#0000af 0 35px,#00009f 0 44px,#0000af 0 45px,#00009f 0 46px,#0000af 0)"></i><i style="left:450px;background:linear-gradient(90deg,#0000af 0 2px,#0000bf 0 10px,#0000cf 0 11px,#0000bf 0 13px,#0000cf 0 14px,#0000bf 0 16px,#0000cf 0 17px,#0000bf 0 20px,#0000af 0 21px,#0000bf 0 23px,#0000af 0 25px,#0000bf 0 26px,#0000af 0 27px,#00009f 0 28px,#0000af 0 30px,#00009f 0 32px,#0000af 0 35px,#00009f 0 37px,#0000af 0 41px,#00009f 0 43px,#0000af 0)"></i></div>
<div class="r" style="top:141.09px;height:18.24px"><i style="left:0px;background:linear-gradient(90deg,#0000cf 0 2px,#0000bf 0 4px,#0000af 0 5px,#00009f 0 7px,#0000af 0 8px,#0000bf 0 9px,#0000cf 0 10px,#0000df 0 11px,#0000cf 0 12px,#0000af 0 13px,#00009f 0 14px,#0000bf 0 15px,#0000df 0 16px,#0000cf 0 17px,#0000af 0 19px,#0000df 0 21px,#0000af 0 22px,#0000bf 0 23px,#0000df 0 24px,#0000cf 0 25px,#0000af 0 26px,#0000df 0 27px,#0000cf 0 28px,#0000af 0 29px,#0000df 0 30px,#0000cf 0 31px,#0000af 0 32px,#0000df 0 33px,#0000cf 0 34px,#0000af 0 35px,#0000cf 0 36px,#0000bf 0 37px,#0000af 0 38px,#0000cf 0 39px,#0000af 0 41px,#0000bf 0 42px,#00009f 0 43px,#0000af 0 45px,#00009f 0 46px,#0000af 0)"></i><i style="left:50px;background:linear-gradient(90deg,#00009f 0 1px,#0000bf 0 2px,#0000af 0 3px,#00009f 0 4px,#0000bf 0 6px,#0000af 0 7px,#0000bf 0 8px,#0000cf 0 9px,#0000bf 0 10px,#0000af 0 11px,#0000bf 0 12px,#0000cf 0 14px,#0000bf 0 16px,#0000cf 0 17px,#0000df 0 18px,#0000cf 0 19px,#0000bf 0 21px,#0000cf 0 23px,#0000df 0 26px,#0000cf 0 31px,#0000bf 0 35px,#0000cf 0 40px,#0000df 0 43px,#0000cf 0 44px,#0000bf 0 46px,#0000cf 0 48px,#0000df 0 49px,#0000cf 0)"></i><i style="left:100px;background:linear-gradient(90deg,#0000bf 0 2px,#0000cf 0 4px,#0000bf 0 5px,#0000af 0 6px,#0000bf 0 7px,#0000cf 0 8px,#0000af 0 10px,#0000bf 0 11px,#0000af 0 12px,#00009f 0 13px,#0000af 0 15px,#00009f 0 16px,#0000af 0 22px,#00009f 0 23px,#0000af 0 24px,#0000bf 0 25px,#00009f 0 26px,#0000bf 0 27px,#0000cf 0 28px,#00009f 0 29px,#0000cf 0 31px,#0000af 0 32px,#0000df 0 33px,#0000cf 0 34px,#0000af 0 35px,#0000df 0 36px,#0000cf 0 37px,#0000af 0 38px,#0000df 0 39px,#0000cf 0 40px,#0000af 0 41px,#0000df 0 43px,#0000af 0 44px,#0000bf 0 45px,#0000df 0 46px,#0000cf 0 47px,#0000af 0 48px,#0000bf 0 49px,#0000df 0)"></i><i style="left:150px;background:linear-gradient(90deg,#0000df 0 1px,#0000bf 0 2px,#00009f 0 3px,#0000bf 0 4px,#0000cf 0 5px,#0000df 0 6px,#0000cf 0 7px,#0000bf 0 8px,#0000af 0 9px,#00009f 0 10px,#0000af 0 12px,#0000bf 0 14px,#0000cf 0 18px,#0000bf 0 21px,#0000af 0 22px,#00009f 0 24px,#0000af 0 25px,#0000cf 0 26px,#0000df 0 28px,#0000cf 0 29px,#0000af 0 31px,#0000cf 0 32px,#0000df 0 33px,#0000cf 0 34px,#00009f 0 35px,#0000bf 0 36px,#0000df 0 37px,#0000cf 0 38px,#0000af 0 39px,#0000cf 0 40px,#0000df 0 41px,#0000af 0 42px,#0000bf 0 43px,#0000df 0 44px,#0000bf 0 46px,#0000df 0 47px,#0000bf 0 49px,#0000df 0)"></i><i style="left:200px;background:linear-gradient(90deg,#0000bf 0 2px,#0000cf 0 3px,#0000af 0 4px,#0000bf 0 5px,#0000cf 0 6px,#00009f 0 7px,#0000bf 0 9px,#00009f 0 10px,#0000af 0 12px,#00009f 0 13px,#0000af 0 16px,#00009f 0 17px,#0000af 0 18px,#0000bf 0 19px,#00009f 0 20px,#0000af 0 21px,#0000bf 0 22px,#0000af 0 24px,#0000bf 0 25px,#0000cf 0 26px,#0000bf 0 27px,#0000af 0 28px,#0000cf 0 30px,#0000bf 0 32px,#0000cf 0 34px,#0000df 0 35px,#0000cf 0 36px,#0000bf 0 38px,#0000cf 0 40px,#0000df 0 43px,#0000cf 0 48px,#0000bf 0)"></i><i style="left:250px;background:linear-gradient(90deg,#0000bf 0 1px,#0000cf 0 6px,#0000df 0 9px,#0000cf 0 11px,#0000bf 0 13px,#0000cf 0 14px,#0000df 0 15px,#0000cf 0 17px,#0000bf 0 19px,#0000cf 0 21px,#0000af 0 22px,#0000bf 0 23px,#0000cf 0 24px,#0000bf 0 25px,#0000af 0 27px,#0000bf 0 28px,#0000af 0 29px,#00009f 0 30px,#0000bf 0 31px,#0000af 0 32px,#00009f 0 33px,#0000af 0 36px,#00009f 0 37px,#0000af 0 39px,#00009f 0 40px,#0000bf 0 42px,#00009f 0 43px,#0000cf 0 44px,#0000bf 0 45px,#0000af 0 46px,#0000cf 0 47px,#0000bf 0 49px,#0000df 0)"></i><i style="left:300px;background:linear-gradient(90deg,#0000bf 0 2px,#0000df 0 3px,#0000bf 0 5px,#0000df 0 6px,#0000bf 0 7px,#0000af 0 8px,#0000df 0 9px,#0000cf 0 10px,#0000af 0 11px,#0000cf 0 12px,#0000df 0 13px,#0000bf 0 14px,#00009f 0 15px,#0000cf 0 16px,#0000df 0 17px,#0000cf 0 18px,#0000af 0 20px,#0000cf 0 21px,#0000df 0 23px,#0000cf 0 24px,#0000af 0 25px,#00009f 0 27px,#0000af 0 28px,#0000bf 0 31px,#0000cf 0 35px,#0000bf 0 37px,#0000af 0 39px,#00009f 0 40px,#0000af 0 41px,#0000bf 0 42px,#0000cf 0 43px,#0000df 0 44px,#0000cf 0 45px,#0000bf 0 46px,#00009f 0 47px,#0000bf 0 48px,#0000df 0)"></i><i style="left:350px;background:linear-gradient(90deg,#0000bf 0 1px,#0000af 0 2px,#0000cf 0 3px,#0000df 0 4px,#0000bf 0 5px,#0000af 0 6px,#0000df 0 8px,#0000af 0 9px,#0000cf 0 10px,#0000df 0 11px,#0000af 0 12px,#0000cf 0 13px,#0000df 0 14px,#0000af 0 15px,#0000cf 0 16px,#0000df 0 17px,#0000af 0 18px,#0000cf 0 20px,#00009f 0 21px,#0000cf 0 22px,#0000bf 0 23px,#00009f 0 24px,#0000bf 0 25px,#0000af 0 26px,#00009f 0 27px,#0000af 0 33px,#00009f 0 34px,#0000af 0 36px,#00009f 0 37px,#0000af 0 38px,#0000bf 0 39px,#0000af 0 41px,#0000cf 0 42px,#0000bf 0 43px,#0000af 0 44px,#0000bf 0 45px,#0000cf 0 47px,#0000bf 0 49px,#0000cf 0)"></i><i style="left:400px;background:linear-gradient(90deg,#0000df 0 1px,#0000cf 0 3px,#0000bf 0 5px,#0000cf 0 6px,#0000df 0 9px,#0000cf 0 14px,#0000bf 0 18px,#0000cf 0 23px,#0000df 0 26px,#0000cf 0 28px,#0000bf 0 30px,#0000cf 0 31px,#0000df 0 32px,#0000cf 0 33px,#0000bf 0 35px,#0000cf 0 37px,#0000bf 0 38px,#0000af 0 39px,#0000bf 0 40px,#0000cf 0 41px,#0000bf 0 42px,#0000af 0 43px,#0000bf 0 45px,#00009f 0 46px,#0000af 0 47px,#0000bf 0 48px,#00009f 0 49px,#0000af 0)"></i><i style="left:450px;background:linear-gradient(90deg,#0000af 0 3px,#00009f 0 4px,#0000af 0 6px,#00009f 0 7px,#0000bf 0 8px,#0000af 0 10px,#0000cf 0 11px,#0000af 0 12px,#0000bf 0 13px,#0000cf 0 14px,#0000af 0 15px,#0000cf 0 16px,#0000df 0 17px,#0000af 0 18px,#0000cf 0 19px,#0000df 0 20px,#0000af 0 21px,#0000cf 0 22px,#0000df 0 23px,#0000af 0 24px,#0000cf 0 25px,#0000df 0 26px,#0000bf 0 27px,#0000af 0 28px,#0000df 0 30px,#0000af 0 32px,#0000cf 0 33px,#0000df 0 34px,#0000bf 0 35px,#00009f 0 36px,#0000af 0 37px,#0000cf 0 38px,#0000df 0 39px,#0000cf 0 40px,#0000bf 0 41px,#0000af 0 42px,#00009f 0 44px,#0000af 0 45px,#0000bf 0 47px,#0000cf 0)"></i></div>
<div class="r" style="top:158.73px;height:18.24px"><i style="left:0px;background:linear-gradient(90deg,#0000cf 0 3px,#0000bf 0 5px,#0000af 0 7px,#0000bf 0 8px,#0000cf 0 9px,#0000df 0 11px,#0000cf 0 12px,#0000bf 0 13px,#0000af 0 14px,#0000cf 0 15px,#0000df 0 17px,#0000af 0 19px,#0000df 0 20px,#0000cf 0 21px,#0000af 0 22px,#0000bf 0 23px,#0000df 0 24px,#0000bf 0 25px,#0000af 0 26px,#0000cf 0 27px,#0000bf 0 28px,#00009f 0 29px,#0000bf 0 31px,#00009f 0 32px,#0000bf 0 33px,#0000af 0 39px,#0000bf 0 41px,#00009f 0 42px,#0000cf 0 43px,#0000bf 0 44px,#0000af 0 45px,#0000df 0 46px,#0000bf 0 47px,#0000af 0 48px,#0000df 0 49px,#0000bf 0)"></i><i style="left:50px;background:linear-gradient(90deg,#0000af 0 1px,#0000ef 0 2px,#0000cf 0 3px,#0000af 0 4px,#0000ef 0 5px,#0000df 0 6px,#0000af 0 7px,#0000cf 0 8px,#0000ef 0 9px,#0000cf 0 10px,#0000af 0 11px,#0000df 0 12px,#0000ef 0 13px,#0000df 0 14px,#0000af 0 15px,#0000bf 0 16px,#0000df 0 17px,#0000ef 0 18px,#0000df 0 19px,#0000bf 0 20px,#0000af 0 21px,#0000bf 0 22px,#0000df 0 26px,#0000cf 0 28px,#0000bf 0 29px,#0000af 0 37px,#0000bf 0 38px,#0000cf 0 39px,#0000df 0 43px,#0000cf 0 44px,#0000bf 0 45px,#0000af 0 46px,#0000bf 0 47px,#0000df 0 48px,#0000ef 0 49px,#0000df 0)"></i><i style="left:100px;background:linear-gradient(90deg,#0000bf 0 2px,#0000ef 0 4px,#0000cf 0 5px,#0000af 0 6px,#0000df 0 7px,#0000ef 0 8px,#0000bf 0 10px,#0000ef 0 11px,#0000df 0 12px,#0000af 0 13px,#0000df 0 15px,#0000af 0 16px,#0000cf 0 17px,#0000df 0 18px,#00009f 0 19px,#0000cf 0 21px,#00009f 0 22px,#0000cf 0 23px,#0000bf 0 24px,#00009f 0 25px,#0000bf 0 26px,#0000af 0 32px,#0000bf 0 34px,#00009f 0 35px,#0000bf 0 37px,#00009f 0 38px,#0000cf 0 39px,#0000bf 0 40px,#00009f 0 41px,#0000cf 0 43px,#0000af 0 44px,#0000bf 0 45px,#0000df 0 46px,#0000cf 0 47px,#0000af 0 48px,#0000bf 0 49px,#0000df 0)"></i><i style="left:150px;background:linear-gradient(90deg,#0000df 0 1px,#0000bf 0 2px,#0000af 0 3px,#0000bf 0 4px,#0000df 0 7px,#0000bf 0 8px,#0000af 0 11px,#0000bf 0 12px,#0000cf 0 16px,#0000df 0 17px,#0000cf 0 20px,#0000bf 0 22px,#0000af 0 24px,#0000bf 0 25px,#0000cf 0 26px,#0000df 0 28px,#0000cf 0 29px,#0000af 0 31px,#0000cf 0 32px,#0000df 0 33px,#0000cf 0 34px,#0000af 0 35px,#0000bf 0 36px,#0000df 0 37px,#0000cf 0 38px,#00009f 0 39px,#0000cf 0 41px,#0000af 0 42px,#0000bf 0 43px,#0000cf 0 44px,#0000af 0 46px,#0000cf 0 47px,#0000af 0 49px,#0000bf 0)"></i><i style="left:200px;background:linear-gradient(90deg,#0000af 0 6px,#0000bf 0 7px,#0000af 0 9px,#0000cf 0 10px,#0000af 0 11px,#0000bf 0 12px,#0000df 0 13px,#0000af 0 14px,#0000cf 0 15px,#0000df 0 16px,#0000af 0 17px,#0000cf 0 18px,#0000ef 0 19px,#0000bf 0 21px,#0000ef 0 22px,#0000cf 0 23px,#0000af 0 24px,#0000df 0 25px,#0000ef 0 26px,#0000bf 0 28px,#0000ef 0 30px,#0000cf 0 31px,#0000af 0 32px,#0000cf 0 33px,#0000ef 0 35px,#0000cf 0 36px,#0000af 0 38px,#0000cf 0 39px,#0000df 0 43px,#0000cf 0 44px,#0000bf 0 46px,#0000af 0)"></i><i style="left:250px;background:linear-gradient(90deg,#0000af 0 3px,#0000bf 0 5px,#0000cf 0 6px,#0000df 0 10px,#0000cf 0 11px,#0000af 0 13px,#0000cf 0 14px,#0000ef 0 16px,#0000cf 0 17px,#0000af 0 18px,#0000cf 0 19px,#0000ef 0 21px,#0000bf 0 23px,#0000ef 0 24px,#0000df 0 25px,#0000af 0 26px,#0000cf 0 27px,#0000ef 0 28px,#0000bf 0 30px,#0000ef 0 31px,#0000cf 0 32px,#0000af 0 33px,#0000df 0 34px,#0000cf 0 35px,#0000af 0 36px,#0000df 0 37px,#0000bf 0 38px,#0000af 0 39px,#0000cf 0 40px,#0000af 0 42px,#0000bf 0 43px,#0000af 0 49px,#0000bf 0)"></i><i style="left:300px;background:linear-gradient(90deg,#0000af 0 2px,#0000cf 0 3px,#0000af 0 5px,#0000cf 0 6px,#0000bf 0 7px,#0000af 0 8px,#0000cf 0 10px,#00009f 0 11px,#0000cf 0 12px,#0000df 0 13px,#0000bf 0 14px,#0000af 0 15px,#0000cf 0 16px,#0000df 0 17px,#0000cf 0 18px,#0000af 0 20px,#0000cf 0 21px,#0000df 0 23px,#0000cf 0 24px,#0000bf 0 25px,#0000af 0 27px,#0000bf 0 29px,#0000cf 0 32px,#0000df 0 33px,#0000cf 0 37px,#0000bf 0 38px,#0000af 0 41px,#0000bf 0 42px,#0000df 0 45px,#0000bf 0 46px,#0000af 0 47px,#0000bf 0 48px,#0000df 0)"></i><i style="left:350px;background:linear-gradient(90deg,#0000bf 0 1px,#0000af 0 2px,#0000cf 0 3px,#0000df 0 4px,#0000bf 0 5px,#0000af 0 6px,#0000cf 0 8px,#00009f 0 9px,#0000bf 0 10px,#0000cf 0 11px,#00009f 0 12px,#0000bf 0 14px,#00009f 0 15px,#0000bf 0 17px,#0000af 0 23px,#0000bf 0 24px,#00009f 0 25px,#0000bf 0 26px,#0000cf 0 27px,#00009f 0 28px,#0000cf 0 30px,#00009f 0 31px,#0000df 0 32px,#0000cf 0 33px,#0000af 0 34px,#0000df 0 36px,#0000af 0 37px,#0000df 0 38px,#0000ef 0 39px,#0000bf 0 41px,#0000ef 0 42px,#0000df 0 43px,#0000af 0 44px,#0000cf 0 45px,#0000ef 0 47px,#0000bf 0 49px,#0000df 0)"></i><i style="left:400px;background:linear-gradient(90deg,#0000ef 0 1px,#0000df 0 2px,#0000bf 0 3px,#0000af 0 4px,#0000bf 0 5px,#0000cf 0 6px,#0000df 0 10px,#0000cf 0 11px,#0000bf 0 12px,#0000af 0 20px,#0000bf 0 21px,#0000cf 0 23px,#0000df 0 27px,#0000bf 0 28px,#0000af 0 29px,#0000bf 0 30px,#0000df 0 31px,#0000ef 0 32px,#0000df 0 33px,#0000bf 0 34px,#0000af 0 35px,#0000df 0 36px,#0000ef 0 37px,#0000df 0 38px,#0000af 0 39px,#0000cf 0 40px,#0000ef 0 41px,#0000cf 0 42px,#0000af 0 43px,#0000df 0 44px,#0000ef 0 45px,#0000af 0 46px,#0000cf 0 47px,#0000ef 0 48px,#0000af 0 49px,#0000bf 0)"></i><i style="left:450px;background:linear-gradient(90deg,#0000df 0 1px,#0000af 0 2px,#0000bf 0 3px,#0000df 0 4px,#0000af 0 5px,#0000bf 0 6px,#0000cf 0 7px,#00009f 0 8px,#0000bf 0 10px,#0000af 0 16px,#0000bf 0 17px,#00009f 0 18px,#0000bf 0 20px,#00009f 0 21px,#0000bf 0 22px,#0000cf 0 23px,#0000af 0 24px,#0000bf 0 25px,#0000df 0 26px,#0000bf 0 27px,#0000af 0 28px,#0000cf 0 29px,#0000df 0 30px,#0000af 0 32px,#0000df 0 34px,#0000cf 0 35px,#0000af 0 36px,#0000bf 0 37px,#0000cf 0 38px,#0000df 0 40px,#0000cf 0 41px,#0000bf 0 42px,#0000af 0 44px,#0000bf 0 46px,#0000cf 0 49px,#0000df 0)"></i></div>
<div class="r" style="top:176.37px;height:35.87px"><i style="left:0px;background:linear-gradient(90deg,#0000bf 0 4px,#0000af 0 9px,#0000bf 0 11px,#0000af 0 17px,#00009f 0 19px,#0000af 0 21px,#00009f 0 28px,#0000af 0 29px,#00009f 0 30px,#0000af 0 31px,#0000bf 0 32px,#0000af 0 34px,#0000bf 0 35px,#0000af 0 36px,#0000bf 0 37px,#0000cf 0 38px,#0000af 0 39px,#0000cf 0 41px,#0000af 0 42px,#0000df 0 43px,#0000cf 0 44px,#0000bf 0 45px,#0000ef 0 46px,#0000cf 0 47px,#0000bf 0 48px,#0000ef 0 49px,#0000cf 0)"></i><i style="left:50px;background:linear-gradient(90deg,#0000bf 0 1px,#0000ef 0 2px,#0000cf 0 3px,#0000af 0 4px,#0000df 0 6px,#0000af 0 7px,#0000cf 0 8px,#0000df 0 9px,#0000bf 0 10px,#00009f 0 11px,#0000bf 0 12px,#0000cf 0 13px,#0000bf 0 14px,#00009f 0 15px,#0000af 0 16px,#0000bf 0 17px,#0000cf 0 18px,#0000bf 0 19px,#0000af 0 20px,#00009f 0 21px,#0000af 0 22px,#0000bf 0 26px,#0000af 0 40px,#0000bf 0 43px,#0000af 0 45px,#00009f 0 46px,#0000af 0 47px,#0000bf 0 48px,#0000cf 0 49px,#0000bf 0)"></i><i style="left:100px;background:linear-gradient(90deg,#00009f 0 1px,#0000af 0 2px,#0000cf 0 4px,#0000bf 0 5px,#0000af 0 6px,#0000cf 0 7px,#0000df 0 8px,#0000bf 0 10px,#0000df 0 11px,#0000cf 0 12px,#0000af 0 13px,#0000df 0 15px,#0000af 0 16px,#0000df 0 18px,#0000bf 0 19px,#0000df 0 21px,#0000bf 0 22px,#0000df 0 23px,#0000cf 0 24px,#0000bf 0 25px,#0000df 0 26px,#0000bf 0 28px,#0000cf 0 29px,#0000af 0 31px,#0000bf 0 32px,#0000af 0 34px,#0000bf 0 35px,#00009f 0 36px,#0000af 0 38px,#00009f 0 45px,#0000af 0 47px,#00009f 0 48px,#0000af 0)"></i><i style="left:150px;background:linear-gradient(90deg,#0000af 0 4px,#0000bf 0 7px,#0000af 0 12px,#0000bf 0 21px,#0000af 0 25px,#0000bf 0 28px,#0000af 0 34px,#00009f 0 35px,#0000af 0 37px,#00009f 0 44px,#0000af 0 46px,#00009f 0 47px,#0000af 0 48px,#0000bf 0 49px,#00009f 0)"></i><i style="left:200px;background:linear-gradient(90deg,#0000bf 0 2px,#0000af 0 3px,#0000cf 0 4px,#0000bf 0 5px,#0000af 0 6px,#0000df 0 7px,#0000bf 0 9px,#0000df 0 10px,#0000bf 0 11px,#0000cf 0 12px,#0000ef 0 13px,#0000bf 0 14px,#0000cf 0 15px,#0000ef 0 16px,#0000bf 0 17px,#0000cf 0 18px,#0000ef 0 19px,#0000bf 0 21px,#0000df 0 22px,#0000cf 0 23px,#0000af 0 24px,#0000cf 0 25px,#0000df 0 26px,#0000af 0 28px,#0000cf 0 30px,#0000af 0 31px,#00009f 0 32px,#0000bf 0 33px,#0000cf 0 34px,#0000bf 0 35px,#0000af 0 36px,#00009f 0 38px,#0000af 0 39px,#0000bf 0 42px,#0000af 0)"></i><i style="left:250px;background:linear-gradient(90deg,#0000af 0 7px,#0000bf 0 10px,#0000af 0 11px,#00009f 0 13px,#0000af 0 14px,#0000bf 0 15px,#0000cf 0 16px,#0000bf 0 17px,#00009f 0 18px,#0000af 0 19px,#0000cf 0 21px,#0000af 0 23px,#0000df 0 24px,#0000cf 0 25px,#0000af 0 26px,#0000cf 0 27px,#0000df 0 28px,#0000bf 0 30px,#0000ef 0 31px,#0000cf 0 32px,#0000bf 0 33px,#0000ef 0 34px,#0000cf 0 35px,#0000bf 0 36px,#0000ef 0 37px,#0000cf 0 38px,#0000bf 0 39px,#0000df 0 40px,#0000bf 0 42px,#0000df 0 43px,#0000af 0 44px,#0000bf 0 45px,#0000cf 0 46px,#0000af 0 47px,#0000bf 0 49px,#00009f 0)"></i><i style="left:300px;background:linear-gradient(90deg,#0000bf 0 1px,#0000af 0 2px,#00009f 0 3px,#0000af 0 5px,#00009f 0 12px,#0000af 0 14px,#00009f 0 15px,#0000af 0 21px,#0000bf 0 24px,#0000af 0 28px,#0000bf 0 37px,#0000af 0 42px,#0000bf 0 45px,#0000af 0)"></i><i style="left:350px;background:linear-gradient(90deg,#0000af 0 1px,#00009f 0 2px,#0000af 0 4px,#00009f 0 11px,#0000af 0 13px,#00009f 0 14px,#0000bf 0 15px,#0000af 0 17px,#0000bf 0 18px,#0000af 0 20px,#0000cf 0 21px,#0000bf 0 23px,#0000df 0 24px,#0000bf 0 25px,#0000cf 0 26px,#0000df 0 27px,#0000bf 0 28px,#0000df 0 30px,#0000bf 0 31px,#0000df 0 33px,#0000af 0 34px,#0000df 0 36px,#0000af 0 37px,#0000cf 0 38px,#0000df 0 39px,#0000bf 0 41px,#0000df 0 42px,#0000cf 0 43px,#0000af 0 44px,#0000bf 0 45px,#0000cf 0 47px,#0000af 0 48px,#00009f 0 49px,#0000bf 0)"></i><i style="left:400px;background:linear-gradient(90deg,#0000cf 0 1px,#0000bf 0 2px,#0000af 0 3px,#00009f 0 4px,#0000af 0 6px,#0000bf 0 9px,#0000af 0 23px,#0000bf 0 27px,#0000af 0 28px,#00009f 0 29px,#0000af 0 30px,#0000bf 0 31px,#0000cf 0 32px,#0000bf 0 33px,#0000af 0 34px,#00009f 0 35px,#0000bf 0 36px,#0000cf 0 37px,#0000bf 0 38px,#00009f 0 39px,#0000bf 0 40px,#0000df 0 41px,#0000cf 0 42px,#0000af 0 43px,#0000df 0 45px,#0000af 0 46px,#0000cf 0 47px,#0000ef 0 48px,#0000bf 0 49px,#0000cf 0)"></i><i style="left:450px;background:linear-gradient(90deg,#0000ef 0 1px,#0000bf 0 2px,#0000cf 0 3px,#0000ef 0 4px,#0000bf 0 5px,#0000cf 0 6px,#0000df 0 7px,#0000af 0 8px,#0000cf 0 10px,#0000af 0 11px,#0000cf 0 12px,#0000bf 0 13px,#0000af 0 14px,#0000bf 0 15px,#0000af 0 17px,#0000bf 0 18px,#0000af 0 19px,#00009f 0 20px,#0000af 0 21px,#00009f 0 28px,#0000af 0 30px,#00009f 0 32px,#0000af 0 38px,#0000bf 0 40px,#0000af 0 45px,#0000bf 0)"></i></div>
<div class="r" style="top:211.64px;height:18.24px"><i style="left:0px;background:linear-gradient(90deg,#0000af 0 12px,#00009f 0 14px,#0000af 0 17px,#00009f 0 18px,#0000af 0 19px,#0000bf 0 21px,#0000af 0 23px,#0000bf 0 25px,#0000af 0 26px,#0000cf 0 28px,#0000bf 0 29px,#0000cf 0 31px,#0000bf 0 32px,#0000cf 0 35px,#0000df 0 36px,#0000cf 0 45px,#0000bf 0)"></i><i style="left:50px;background:linear-gradient(90deg,#0000af 0 3px,#00009f 0 4px,#0000af 0 6px,#00009f 0 13px,#0000af 0 17px,#00009f 0 18px,#0000af 0 19px,#0000bf 0 23px,#0000af 0 26px,#0000bf 0 28px,#0000cf 0 38px,#0000bf 0 40px,#0000af 0 43px,#0000bf 0 47px,#0000af 0 48px,#00009f 0 49px,#0000af 0)"></i><i style="left:100px;background:linear-gradient(90deg,#0000af 0 2px,#00009f 0 10px,#0000af 0 16px,#0000bf 0 21px,#0000cf 0 34px,#0000bf 0 35px,#0000cf 0 37px,#0000bf 0 38px,#0000cf 0 39px,#0000bf 0 40px,#0000af 0 41px,#0000bf 0 43px,#0000af 0 45px,#0000bf 0 46px,#0000af 0 47px,#00009f 0 48px,#0000af 0)"></i><i style="left:150px;background:linear-gradient(90deg,#0000af 0 1px,#00009f 0 3px,#0000af 0 8px,#00009f 0 9px,#0000af 0 29px,#00009f 0 31px,#0000af 0 34px,#00009f 0 35px,#0000af 0 36px,#0000bf 0 37px,#0000af 0 39px,#0000bf 0 41px,#0000af 0 42px,#0000bf 0 43px,#0000cf 0 44px,#0000bf 0 46px,#0000cf 0 48px,#0000bf 0 49px,#0000cf 0)"></i><i style="left:200px;background:linear-gradient(90deg,#0000cf 0 2px,#0000df 0 3px,#0000cf 0 12px,#0000bf 0 16px,#0000af 0 22px,#00009f 0 30px,#0000af 0 36px,#0000bf 0 39px,#0000af 0 42px,#0000bf 0 44px,#0000cf 0)"></i><i style="left:250px;background:linear-gradient(90deg,#0000cf 0 5px,#0000bf 0 7px,#0000af 0 10px,#0000bf 0 13px,#0000af 0 19px,#00009f 0 27px,#0000af 0 33px,#0000bf 0 37px,#0000cf 0 46px,#0000df 0 47px,#0000cf 0)"></i><i style="left:300px;background:linear-gradient(90deg,#0000bf 0 1px,#0000cf 0 3px,#0000bf 0 5px,#0000cf 0 6px,#0000bf 0 7px,#0000af 0 8px,#0000bf 0 10px,#0000af 0 12px,#0000bf 0 13px,#0000af 0 14px,#00009f 0 15px,#0000af 0 18px,#00009f 0 20px,#0000af 0 40px,#00009f 0 41px,#0000af 0 46px,#00009f 0 48px,#0000af 0)"></i><i style="left:350px;background:linear-gradient(90deg,#0000af 0 1px,#00009f 0 2px,#0000af 0 3px,#0000bf 0 4px,#0000af 0 6px,#0000bf 0 8px,#0000af 0 9px,#0000bf 0 10px,#0000cf 0 11px,#0000bf 0 12px,#0000cf 0 14px,#0000bf 0 15px,#0000cf 0 28px,#0000bf 0 33px,#0000af 0 39px,#00009f 0 47px,#0000af 0)"></i><i style="left:400px;background:linear-gradient(90deg,#00009f 0 1px,#0000af 0 2px,#0000bf 0 6px,#0000af 0 9px,#0000bf 0 11px,#0000cf 0 21px,#0000bf 0 23px,#0000af 0 26px,#0000bf 0 30px,#0000af 0 31px,#00009f 0 32px,#0000af 0 36px,#00009f 0 43px,#0000af 0 45px,#00009f 0 46px,#0000af 0 49px,#0000bf 0)"></i><i style="left:450px;background:linear-gradient(90deg,#0000bf 0 4px,#0000cf 0 13px,#0000df 0 14px,#0000cf 0 17px,#0000bf 0 18px,#0000cf 0 20px,#0000bf 0 21px,#0000cf 0 23px,#0000af 0 24px,#0000bf 0 26px,#0000af 0 28px,#0000bf 0 30px,#0000af 0 31px,#00009f 0 32px,#0000af 0 35px,#00009f 0 37px,#0000af 0)"></i></div>
<div class="r" style="top:229.28px;height:18.24px"><i style="left:0px;background:linear-gradient(90deg,#0000cf 0 3px,#0000bf 0 4px,#0000af 0 6px,#00009f 0 7px,#0000af 0 8px,#0000cf 0 9px,#0000df 0 12px,#0000bf 0 13px,#0000af 0 14px,#0000cf 0 15px,#0000ef 0 16px,#0000df 0 17px,#0000af 0 18px,#0000bf 0 19px,#0000ef 0 21px,#0000af 0 22px,#0000cf 0 23px,#0000ef 0 24px,#0000cf 0 25px,#0000bf 0 26px,#0000ef 0 27px,#0000df 0 28px,#0000af 0 29px,#0000ef 0 30px,#0000df 0 31px,#0000af 0 32px,#0000df 0 33px,#0000cf 0 34px,#0000af 0 35px,#0000df 0 36px,#0000bf 0 37px,#0000af 0 38px,#0000cf 0 39px,#0000af 0 41px,#0000cf 0 42px,#00009f 0 43px,#0000af 0 45px,#00009f 0 46px,#0000af 0)"></i><i style="left:50px;background:linear-gradient(90deg,#00009f 0 1px,#0000bf 0 2px,#0000af 0 3px,#00009f 0 4px,#0000bf 0 6px,#0000af 0 7px,#0000bf 0 8px,#0000df 0 9px,#0000cf 0 10px,#0000bf 0 11px,#0000cf 0 12px,#0000df 0 14px,#0000cf 0 16px,#0000df 0 17px,#0000ef 0 18px,#0000df 0 19px,#0000cf 0 21px,#0000df 0 23px,#0000ef 0 26px,#0000df 0 39px,#0000ef 0 43px,#0000df 0 44px,#0000cf 0 46px,#0000df 0 48px,#0000ef 0 49px,#0000df 0)"></i><i style="left:100px;background:linear-gradient(90deg,#0000cf 0 2px,#0000df 0 4px,#0000cf 0 5px,#0000bf 0 6px,#0000cf 0 8px,#0000bf 0 9px,#0000af 0 10px,#0000cf 0 11px,#0000bf 0 12px,#00009f 0 13px,#0000bf 0 14px,#0000af 0 15px,#00009f 0 16px,#0000af 0 21px,#0000bf 0 22px,#0000af 0 24px,#0000cf 0 25px,#00009f 0 26px,#0000bf 0 27px,#0000cf 0 28px,#00009f 0 29px,#0000cf 0 31px,#0000af 0 32px,#0000df 0 33px,#0000cf 0 34px,#0000af 0 35px,#0000ef 0 36px,#0000df 0 37px,#0000af 0 38px,#0000ef 0 39px,#0000df 0 40px,#0000af 0 41px,#0000df 0 42px,#0000ef 0 43px,#0000bf 0 44px,#0000cf 0 45px,#0000ef 0 46px,#0000df 0 47px,#0000af 0 48px,#0000bf 0 49px,#0000ef 0)"></i><i style="left:150px;background:linear-gradient(90deg,#0000df 0 1px,#0000bf 0 2px,#00009f 0 3px,#0000bf 0 4px,#0000df 0 7px,#0000bf 0 8px,#0000af 0 9px,#00009f 0 10px,#0000af 0 11px,#0000bf 0 13px,#0000cf 0 20px,#0000bf 0 21px,#0000af 0 22px,#00009f 0 24px,#0000bf 0 25px,#0000cf 0 26px,#0000df 0 28px,#0000cf 0 29px,#0000af 0 31px,#0000df 0 32px,#0000ef 0 33px,#0000cf 0 34px,#0000af 0 35px,#0000cf 0 36px,#0000ef 0 37px,#0000df 0 38px,#0000af 0 39px,#0000df 0 40px,#0000ef 0 41px,#0000bf 0 42px,#0000cf 0 43px,#0000ef 0 44px,#0000cf 0 45px,#0000bf 0 46px,#0000ef 0 47px,#0000cf 0 48px,#0000bf 0 49px,#0000ef 0)"></i><i style="left:200px;background:linear-gradient(90deg,#0000bf 0 2px,#0000df 0 3px,#0000af 0 4px,#0000bf 0 5px,#0000cf 0 6px,#00009f 0 7px,#0000bf 0 9px,#00009f 0 10px,#0000bf 0 11px,#0000af 0 16px,#00009f 0 17px,#0000af 0 18px,#0000bf 0 19px,#0000af 0 21px,#0000cf 0 22px,#0000bf 0 23px,#0000af 0 24px,#0000cf 0 26px,#0000bf 0 28px,#0000df 0 30px,#0000cf 0 31px,#0000bf 0 32px,#0000df 0 33px,#0000ef 0 35px,#0000df 0 36px,#0000cf 0 38px,#0000df 0 39px,#0000ef 0 43px,#0000df 0)"></i><i style="left:250px;background:linear-gradient(90deg,#0000df 0 6px,#0000ef 0 10px,#0000df 0 11px,#0000cf 0 13px,#0000df 0 14px,#0000ef 0 16px,#0000df 0 17px,#0000bf 0 18px,#0000cf 0 19px,#0000df 0 21px,#0000bf 0 23px,#0000cf 0 25px,#0000af 0 26px,#0000bf 0 27px,#0000cf 0 28px,#0000af 0 30px,#0000bf 0 31px,#0000af 0 32px,#00009f 0 33px,#0000af 0 38px,#0000bf 0 39px,#00009f 0 40px,#0000bf 0 42px,#00009f 0 43px,#0000cf 0 44px,#0000bf 0 45px,#0000af 0 46px,#0000df 0 47px,#0000bf 0 49px,#0000ef 0)"></i><i style="left:300px;background:linear-gradient(90deg,#0000bf 0 1px,#0000cf 0 2px,#0000ef 0 3px,#0000bf 0 4px,#0000cf 0 5px,#0000ef 0 6px,#0000cf 0 7px,#0000bf 0 8px,#0000ef 0 9px,#0000df 0 10px,#0000af 0 11px,#0000df 0 12px,#0000ef 0 13px,#0000cf 0 14px,#0000af 0 15px,#0000cf 0 16px,#0000ef 0 17px,#0000df 0 18px,#0000af 0 20px,#0000cf 0 21px,#0000df 0 23px,#0000cf 0 24px,#0000bf 0 25px,#00009f 0 27px,#0000af 0 28px,#0000bf 0 29px,#0000cf 0 36px,#0000bf 0 38px,#0000af 0 39px,#00009f 0 40px,#0000af 0 41px,#0000bf 0 42px,#0000df 0 45px,#0000bf 0 46px,#00009f 0 47px,#0000bf 0 48px,#0000df 0 49px,#0000ef 0)"></i><i style="left:350px;background:linear-gradient(90deg,#0000bf 0 1px,#0000af 0 2px,#0000df 0 3px,#0000ef 0 4px,#0000cf 0 5px,#0000bf 0 6px,#0000ef 0 7px,#0000df 0 8px,#0000af 0 9px,#0000df 0 10px,#0000ef 0 11px,#0000af 0 12px,#0000df 0 13px,#0000ef 0 14px,#0000af 0 15px,#0000cf 0 16px,#0000df 0 17px,#0000af 0 18px,#0000cf 0 20px,#00009f 0 21px,#0000cf 0 22px,#0000bf 0 23px,#00009f 0 24px,#0000cf 0 25px,#0000af 0 27px,#0000bf 0 28px,#0000af 0 33px,#00009f 0 34px,#0000af 0 35px,#0000bf 0 36px,#00009f 0 37px,#0000bf 0 38px,#0000cf 0 39px,#0000af 0 40px,#0000bf 0 41px,#0000cf 0 43px,#0000bf 0 44px,#0000cf 0 45px,#0000df 0 47px,#0000cf 0 49px,#0000df 0)"></i><i style="left:400px;background:linear-gradient(90deg,#0000ef 0 1px,#0000df 0 3px,#0000cf 0 5px,#0000df 0 6px,#0000ef 0 10px,#0000df 0 23px,#0000ef 0 26px,#0000df 0 28px,#0000cf 0 30px,#0000df 0 31px,#0000ef 0 32px,#0000df 0 33px,#0000cf 0 35px,#0000df 0 37px,#0000cf 0 38px,#0000bf 0 39px,#0000cf 0 40px,#0000df 0 41px,#0000bf 0 42px,#0000af 0 43px,#0000bf 0 45px,#00009f 0 46px,#0000af 0 47px,#0000bf 0 48px,#00009f 0 49px,#0000af 0)"></i><i style="left:450px;background:linear-gradient(90deg,#0000af 0 3px,#00009f 0 4px,#0000af 0 6px,#00009f 0 7px,#0000cf 0 8px,#0000af 0 10px,#0000cf 0 11px,#0000af 0 12px,#0000bf 0 13px,#0000df 0 14px,#0000af 0 15px,#0000cf 0 16px,#0000df 0 17px,#0000af 0 18px,#0000df 0 19px,#0000ef 0 20px,#0000af 0 21px,#0000df 0 22px,#0000ef 0 23px,#0000bf 0 24px,#0000cf 0 25px,#0000ef 0 26px,#0000cf 0 27px,#0000af 0 28px,#0000ef 0 30px,#0000bf 0 31px,#0000af 0 32px,#0000df 0 33px,#0000ef 0 34px,#0000cf 0 35px,#0000af 0 36px,#0000bf 0 37px,#0000df 0 40px,#0000cf 0 41px,#0000af 0 42px,#00009f 0 43px,#0000af 0 45px,#0000bf 0 46px,#0000cf 0)"></i></div>
<div class="r" style="top:246.91px;height:18.24px"><i style="left:0px;background:linear-gradient(90deg,#0000df 0 3px,#0000cf 0 4px,#0000bf 0 6px,#0000af 0 7px,#0000bf 0 8px,#0000df 0 9px,#0000ef 0 11px,#0000df 0 12px,#0000bf 0 13px,#0000af 0 14px,#0000cf 0 15px,#0000ef 0 16px,#0000df 0 17px,#0000bf 0 19px,#0000ef 0 20px,#0000df 0 21px,#0000af 0 22px,#0000bf 0 23px,#0000df 0 24px,#0000bf 0 25px,#0000af 0 26px,#0000df 0 27px,#0000cf 0 28px,#00009f 0 29px,#0000cf 0 30px,#0000bf 0 31px,#00009f 0 32px,#0000bf 0 34px,#0000af 0 35px,#0000bf 0 36px,#0000af 0 37px,#0000bf 0 38px,#0000af 0 39px,#0000bf 0 41px,#00009f 0 42px,#0000cf 0 43px,#0000bf 0 44px,#0000af 0 45px,#0000df 0 46px,#0000cf 0 47px,#0000bf 0 48px,#0000ef 0 49px,#0000cf 0)"></i><i style="left:50px;background:linear-gradient(90deg,#0000bf 0 1px,#00f 0 2px,#0000df 0 3px,#0000bf 0 4px,#00f 0 6px,#0000bf 0 7px,#0000df 0 8px,#0010ff 0 9px,#0000ef 0 10px,#0000bf 0 11px,#0000ef 0 12px,#0010ff 0 13px,#0000ef 0 14px,#0000bf 0 15px,#0000cf 0 16px,#00f 0 18px,#0000ef 0 19px,#0000cf 0 20px,#0000bf 0 21px,#0000cf 0 22px,#0000ef 0 24px,#00f 0 25px,#0000ef 0 26px,#0000df 0 27px,#0000cf 0 29px,#0000bf 0 31px,#0000af 0 35px,#0000bf 0 37px,#0000cf 0 38px,#0000df 0 39px,#0000ef 0 41px,#00f 0 42px,#0000ef 0 43px,#0000df 0 44px,#0000cf 0 45px,#0000bf 0 46px,#0000cf 0 47px,#0000ef 0 48px,#00f 0 49px,#0000ef 0)"></i><i style="left:100px;background:linear-gradient(90deg,#0000bf 0 1px,#0000cf 0 2px,#00f 0 4px,#0000df 0 5px,#0000bf 0 6px,#00f 0 8px,#0000cf 0 10px,#00f 0 11px,#0000ef 0 12px,#0000bf 0 13px,#0000ef 0 15px,#0000af 0 16px,#0000df 0 18px,#00009f 0 19px,#0000df 0 21px,#00009f 0 22px,#0000cf 0 23px,#0000bf 0 24px,#00009f 0 25px,#0000cf 0 26px,#0000af 0 28px,#0000bf 0 29px,#0000af 0 30px,#0000bf 0 31px,#0000af 0 32px,#0000bf 0 34px,#00009f 0 35px,#0000cf 0 36px,#0000bf 0 37px,#00009f 0 38px,#0000df 0 39px,#0000cf 0 40px,#00009f 0 41px,#0000df 0 43px,#0000af 0 44px,#0000bf 0 45px,#0000ef 0 46px,#0000df 0 47px,#0000af 0 48px,#0000cf 0 49px,#0000ef 0)"></i><i style="left:150px;background:linear-gradient(90deg,#0000ef 0 1px,#0000cf 0 2px,#0000af 0 3px,#0000cf 0 4px,#0000ef 0 6px,#0000df 0 7px,#0000cf 0 8px,#0000bf 0 9px,#0000af 0 10px,#0000bf 0 11px,#0000cf 0 13px,#0000df 0 20px,#0000cf 0 21px,#0000bf 0 22px,#0000af 0 24px,#0000cf 0 25px,#0000df 0 26px,#0000ef 0 28px,#0000df 0 29px,#0000bf 0 31px,#0000df 0 32px,#0000ef 0 33px,#0000df 0 34px,#0000af 0 35px,#0000cf 0 36px,#0000ef 0 37px,#0000cf 0 38px,#0000af 0 39px,#0000cf 0 40px,#0000df 0 41px,#0000af 0 42px,#0000bf 0 43px,#0000df 0 44px,#0000bf 0 45px,#0000af 0 46px,#0000cf 0 47px,#0000af 0 49px,#0000bf 0)"></i><i style="left:200px;background:linear-gradient(90deg,#0000af 0 2px,#0000bf 0 4px,#0000af 0 6px,#0000bf 0 7px,#0000af 0 9px,#0000df 0 10px,#0000af 0 11px,#0000bf 0 12px,#0000df 0 13px,#0000af 0 14px,#0000cf 0 15px,#0000ef 0 16px,#0000bf 0 17px,#0000df 0 18px,#00f 0 19px,#0000cf 0 21px,#00f 0 22px,#0000df 0 23px,#0000bf 0 24px,#00f 0 26px,#0000cf 0 28px,#00f 0 30px,#0000df 0 31px,#0000bf 0 32px,#0000df 0 33px,#00f 0 35px,#0000df 0 36px,#0000bf 0 38px,#0000df 0 39px,#0000ef 0 40px,#00f 0 41px,#0000ef 0 43px,#0000df 0 44px,#0000cf 0 45px,#0000bf 0 48px,#0000af 0)"></i><i style="left:250px;background:linear-gradient(90deg,#0000af 0 1px,#0000bf 0 4px,#0000cf 0 5px,#0000df 0 6px,#0000ef 0 8px,#00f 0 9px,#0000ef 0 10px,#0000df 0 11px,#0000bf 0 13px,#0000df 0 14px,#00f 0 16px,#0000df 0 17px,#0000bf 0 18px,#0000df 0 19px,#00f 0 21px,#0000cf 0 23px,#00f 0 25px,#0000bf 0 26px,#0000df 0 27px,#00f 0 28px,#0000cf 0 30px,#00f 0 31px,#0000df 0 32px,#0000bf 0 33px,#0000ef 0 34px,#0000cf 0 35px,#0000af 0 36px,#0000df 0 37px,#0000bf 0 38px,#0000af 0 39px,#0000df 0 40px,#0000af 0 42px,#0000bf 0 43px,#0000af 0 45px,#0000bf 0 47px,#0000af 0 49px,#0000bf 0)"></i><i style="left:300px;background:linear-gradient(90deg,#0000af 0 2px,#0000cf 0 3px,#0000af 0 4px,#0000bf 0 5px,#0000df 0 6px,#0000bf 0 7px,#0000af 0 8px,#0000df 0 9px,#0000cf 0 10px,#0000af 0 11px,#0000cf 0 12px,#0000ef 0 13px,#0000cf 0 14px,#0000af 0 15px,#0000df 0 16px,#0000ef 0 17px,#0000df 0 18px,#0000bf 0 20px,#0000df 0 21px,#0000ef 0 23px,#0000df 0 24px,#0000cf 0 25px,#0000af 0 27px,#0000bf 0 28px,#0000cf 0 29px,#0000df 0 36px,#0000cf 0 38px,#0000bf 0 39px,#0000af 0 40px,#0000bf 0 41px,#0000cf 0 42px,#0000df 0 43px,#0000ef 0 45px,#0000cf 0 46px,#0000af 0 47px,#0000cf 0 48px,#0000ef 0)"></i><i style="left:350px;background:linear-gradient(90deg,#0000cf 0 1px,#0000af 0 2px,#0000df 0 3px,#0000ef 0 4px,#0000bf 0 5px,#0000af 0 6px,#0000df 0 8px,#00009f 0 9px,#0000cf 0 10px,#0000df 0 11px,#00009f 0 12px,#0000bf 0 13px,#0000cf 0 14px,#00009f 0 15px,#0000bf 0 17px,#0000af 0 18px,#0000bf 0 19px,#0000af 0 20px,#0000bf 0 21px,#0000af 0 23px,#0000cf 0 24px,#00009f 0 25px,#0000bf 0 26px,#0000cf 0 27px,#00009f 0 28px,#0000df 0 30px,#00009f 0 31px,#0000df 0 33px,#0000af 0 34px,#0000ef 0 36px,#0000bf 0 37px,#0000ef 0 38px,#00f 0 39px,#0000cf 0 41px,#00f 0 43px,#0000bf 0 44px,#0000df 0 45px,#00f 0 47px,#0000cf 0 48px,#0000bf 0 49px,#0000ef 0)"></i><i style="left:400px;background:linear-gradient(90deg,#00f 0 1px,#0000ef 0 2px,#0000cf 0 3px,#0000bf 0 4px,#0000cf 0 5px,#0000df 0 6px,#0000ef 0 7px,#00f 0 8px,#0000ef 0 10px,#0000df 0 11px,#0000cf 0 12px,#0000bf 0 14px,#0000af 0 18px,#0000bf 0 20px,#0000cf 0 22px,#0000df 0 23px,#0000ef 0 24px,#00f 0 25px,#0000ef 0 27px,#0000cf 0 28px,#0000bf 0 29px,#0000cf 0 30px,#0000ef 0 31px,#00f 0 33px,#0000cf 0 34px,#0000bf 0 35px,#0000ef 0 36px,#0010ff 0 37px,#0000ef 0 38px,#0000bf 0 39px,#0000ef 0 40px,#0010ff 0 41px,#0000df 0 42px,#0000bf 0 43px,#00f 0 45px,#0000bf 0 46px,#0000df 0 47px,#00f 0 48px,#0000bf 0 49px,#0000cf 0)"></i><i style="left:450px;background:linear-gradient(90deg,#0000ef 0 1px,#0000bf 0 2px,#0000cf 0 3px,#0000df 0 4px,#0000af 0 5px,#0000bf 0 6px,#0000cf 0 7px,#00009f 0 8px,#0000bf 0 10px,#0000af 0 11px,#0000bf 0 12px,#0000af 0 13px,#0000bf 0 14px,#0000af 0 15px,#0000bf 0 17px,#00009f 0 18px,#0000bf 0 19px,#0000cf 0 20px,#00009f 0 21px,#0000cf 0 22px,#0000df 0 23px,#0000af 0 24px,#0000bf 0 25px,#0000df 0 26px,#0000bf 0 27px,#0000af 0 28px,#0000df 0 29px,#0000ef 0 30px,#0000bf 0 32px,#0000df 0 33px,#0000ef 0 34px,#0000cf 0 35px,#0000af 0 36px,#0000bf 0 37px,#0000df 0 38px,#0000ef 0 40px,#0000df 0 41px,#0000bf 0 42px,#0000af 0 43px,#0000bf 0 45px,#0000cf 0 46px,#0000df 0)"></i></div>
<div class="r" style="top:264.55px;height:35.87px"><i style="left:0px;background:linear-gradient(90deg,#0000bf 0 12px,#0000af 0 15px,#0000bf 0 16px,#0000af 0 21px,#00009f 0 23px,#0000af 0 24px,#00009f 0 28px,#0000af 0 29px,#00009f 0 30px,#0000af 0 31px,#0000bf 0 32px,#0000af 0 33px,#0000bf 0 34px,#0000cf 0 35px,#0000af 0 36px,#0000cf 0 37px,#0000df 0 38px,#0000bf 0 39px,#0000df 0 41px,#0000bf 0 42px,#0000ef 0 43px,#0000df 0 44px,#0000cf 0 45px,#00f 0 46px,#0000df 0 47px,#0000cf 0 48px,#00f 0 49px,#0000df 0)"></i><i style="left:50px;background:linear-gradient(90deg,#0000cf 0 1px,#00f 0 2px,#0000df 0 3px,#0000bf 0 4px,#0000ef 0 6px,#0000bf 0 7px,#0000df 0 8px,#0000ef 0 9px,#0000cf 0 10px,#0000af 0 11px,#0000cf 0 12px,#0000df 0 13px,#0000cf 0 14px,#00009f 0 15px,#0000af 0 16px,#0000cf 0 18px,#0000bf 0 19px,#0000af 0 20px,#00009f 0 21px,#0000af 0 22px,#0000bf 0 27px,#0000af 0 39px,#0000bf 0 44px,#0000af 0 45px,#00009f 0 46px,#0000af 0 47px,#0000cf 0)"></i><i style="left:100px;background:linear-gradient(90deg,#0000af 0 2px,#0000df 0 4px,#0000bf 0 5px,#0000af 0 6px,#0000df 0 7px,#0000ef 0 8px,#0000bf 0 9px,#0000cf 0 10px,#00f 0 11px,#0000df 0 12px,#0000bf 0 13px,#0000ef 0 15px,#0000bf 0 16px,#0000ef 0 17px,#00f 0 18px,#0000bf 0 19px,#0000ef 0 21px,#0000bf 0 22px,#0000ef 0 23px,#0000df 0 24px,#0000bf 0 25px,#0000ef 0 26px,#0000cf 0 27px,#0000bf 0 28px,#0000df 0 29px,#0000bf 0 31px,#0000cf 0 32px,#0000af 0 34px,#0000bf 0 35px,#00009f 0 36px,#0000af 0 38px,#00009f 0 42px,#0000af 0 43px,#00009f 0 45px,#0000af 0 47px,#00009f 0 48px,#0000af 0 49px,#0000bf 0)"></i><i style="left:150px;background:linear-gradient(90deg,#0000bf 0 1px,#0000af 0 4px,#0000bf 0 29px,#0000af 0 31px,#0000bf 0 33px,#0000af 0 34px,#00009f 0 35px,#0000af 0 38px,#00009f 0 44px,#0000af 0 46px,#00009f 0 47px,#0000bf 0 49px,#00009f 0)"></i><i style="left:200px;background:linear-gradient(90deg,#0000cf 0 2px,#0000af 0 3px,#0000df 0 4px,#0000cf 0 5px,#0000bf 0 6px,#0000ef 0 7px,#0000cf 0 9px,#0000ef 0 10px,#0000cf 0 11px,#0000df 0 12px,#00f 0 13px,#0000cf 0 14px,#0000df 0 15px,#00f 0 16px,#0000cf 0 17px,#0000df 0 18px,#00f 0 19px,#0000cf 0 21px,#00f 0 22px,#0000df 0 23px,#0000bf 0 24px,#0000df 0 25px,#0000ef 0 26px,#0000bf 0 27px,#0000af 0 28px,#0000df 0 30px,#0000bf 0 31px,#00009f 0 32px,#0000bf 0 33px,#0000cf 0 35px,#0000bf 0 36px,#00009f 0 38px,#0000af 0 39px,#0000bf 0 43px,#0000af 0)"></i><i style="left:250px;background:linear-gradient(90deg,#0000af 0 6px,#0000bf 0 10px,#0000af 0 11px,#00009f 0 13px,#0000bf 0 14px,#0000cf 0 16px,#0000bf 0 17px,#00009f 0 18px,#0000bf 0 19px,#0000df 0 21px,#0000af 0 22px,#0000bf 0 23px,#0000ef 0 24px,#0000df 0 25px,#0000bf 0 26px,#0000df 0 27px,#00f 0 28px,#0000cf 0 30px,#00f 0 31px,#0000df 0 32px,#0000cf 0 33px,#00f 0 34px,#0000df 0 35px,#0000cf 0 36px,#00f 0 37px,#0000df 0 38px,#0000cf 0 39px,#0000ef 0 40px,#0000cf 0 42px,#0000ef 0 43px,#0000bf 0 44px,#0000cf 0 45px,#0000df 0 46px,#0000af 0 47px,#0000cf 0 49px,#00009f 0)"></i><i style="left:300px;background:linear-gradient(90deg,#0000bf 0 2px,#00009f 0 3px,#0000af 0 5px,#00009f 0 11px,#0000af 0 14px,#00009f 0 15px,#0000af 0 16px,#0000bf 0 18px,#0000af 0 20px,#0000bf 0 45px,#0000af 0 48px,#0000bf 0)"></i><i style="left:350px;background:linear-gradient(90deg,#0000af 0 1px,#00009f 0 2px,#0000af 0 4px,#00009f 0 6px,#0000af 0 7px,#00009f 0 11px,#0000af 0 13px,#00009f 0 14px,#0000bf 0 15px,#0000af 0 17px,#0000cf 0 18px,#0000bf 0 20px,#0000df 0 21px,#0000bf 0 22px,#0000cf 0 23px,#0000ef 0 24px,#0000bf 0 25px,#0000df 0 26px,#0000ef 0 27px,#0000bf 0 28px,#0000ef 0 30px,#0000bf 0 31px,#00f 0 32px,#0000ef 0 33px,#0000bf 0 34px,#0000ef 0 36px,#0000bf 0 37px,#0000df 0 38px,#00f 0 39px,#0000cf 0 40px,#0000bf 0 41px,#0000ef 0 42px,#0000df 0 43px,#0000af 0 44px,#0000bf 0 45px,#0000df 0 47px,#0000af 0 49px,#0000cf 0)"></i><i style="left:400px;background:linear-gradient(90deg,#0000cf 0 2px,#0000af 0 3px,#00009f 0 4px,#0000af 0 5px,#0000bf 0 10px,#0000af 0 22px,#0000bf 0 27px,#0000af 0 28px,#00009f 0 29px,#0000af 0 30px,#0000bf 0 31px,#0000cf 0 33px,#0000af 0 34px,#00009f 0 35px,#0000cf 0 36px,#0000df 0 37px,#0000cf 0 38px,#0000af 0 39px,#0000cf 0 40px,#0000ef 0 41px,#0000df 0 42px,#0000bf 0 43px,#0000ef 0 45px,#0000bf 0 46px,#0000df 0 47px,#00f 0 48px,#0000cf 0 49px,#0000df 0)"></i><i style="left:450px;background:linear-gradient(90deg,#00f 0 1px,#0000cf 0 2px,#0000df 0 3px,#00f 0 4px,#0000cf 0 5px,#0000df 0 6px,#0000ef 0 7px,#0000bf 0 8px,#0000df 0 10px,#0000bf 0 11px,#0000df 0 12px,#0000cf 0 13px,#0000af 0 14px,#0000cf 0 15px,#0000bf 0 16px,#0000af 0 17px,#0000bf 0 18px,#0000af 0 19px,#00009f 0 20px,#0000af 0 21px,#00009f 0 25px,#0000af 0 26px,#00009f 0 28px,#0000af 0 33px,#0000bf 0 34px,#0000af 0 37px,#0000bf 0)"></i></div>
<div class="r" style="top:299.82px;height:18.24px"><i style="left:0px;background:linear-gradient(90deg,#0000af 0 12px,#00009f 0 14px,#0000af 0 15px,#0000bf 0 17px,#00009f 0 18px,#0000af 0 19px,#0000bf 0 21px,#0000af 0 22px,#0000bf 0 23px,#0000cf 0 24px,#0000bf 0 26px,#0000df 0 27px,#0000cf 0 28px,#0000bf 0 29px,#0000df 0 31px,#0000cf 0 32px,#0000df 0 35px,#0000ef 0 36px,#0000df 0 38px,#0000ef 0 39px,#0000df 0 45px,#0000cf 0 49px,#0000bf 0)"></i><i style="left:50px;background:linear-gradient(90deg,#0000bf 0 2px,#0000af 0 6px,#00009f 0 13px,#0000af 0 14px,#0000bf 0 16px,#0000af 0 18px,#0000bf 0 19px,#0000cf 0 22px,#0000bf 0 26px,#0000cf 0 27px,#0000df 0 32px,#0000ef 0 33px,#0000df 0 38px,#0000cf 0 40px,#0000bf 0 43px,#0000cf 0 47px,#0000af 0)"></i><i style="left:100px;background:linear-gradient(90deg,#0000bf 0 1px,#0000af 0 2px,#00009f 0 10px,#0000af 0 13px,#0000bf 0 16px,#0000cf 0 21px,#0000df 0 27px,#0000ef 0 28px,#0000df 0 29px,#0000ef 0 30px,#0000df 0 34px,#0000cf 0 35px,#0000df 0 36px,#0000cf 0 37px,#0000bf 0 38px,#0000df 0 39px,#0000cf 0 40px,#0000bf 0 41px,#0000cf 0 43px,#0000af 0 45px,#0000bf 0 47px,#00009f 0 48px,#0000af 0 49px,#0000bf 0)"></i><i style="left:150px;background:linear-gradient(90deg,#0000af 0 2px,#00009f 0 3px,#0000af 0 29px,#00009f 0 31px,#0000af 0 32px,#0000bf 0 33px,#0000af 0 34px,#00009f 0 35px,#0000af 0 36px,#0000bf 0 38px,#0000af 0 39px,#0000bf 0 40px,#0000cf 0 41px,#0000bf 0 43px,#0000df 0 44px,#0000cf 0 46px,#0000df 0 47px,#0000cf 0 49px,#0000ef 0)"></i><i style="left:200px;background:linear-gradient(90deg,#0000df 0 2px,#0000ef 0 3px,#0000df 0 5px,#0000ef 0 6px,#0000df 0 12px,#0000cf 0 16px,#0000bf 0 19px,#0000af 0 23px,#00009f 0 27px,#0000af 0 28px,#00009f 0 30px,#0000af 0 31px,#0000bf 0 33px,#0000af 0 35px,#0000bf 0 36px,#0000cf 0 39px,#0000bf 0 42px,#0000cf 0 44px,#0000df 0 49px,#0000ef 0)"></i><i style="left:250px;background:linear-gradient(90deg,#0000df 0 5px,#0000cf 0 7px,#0000bf 0 10px,#0000cf 0 13px,#0000bf 0 14px,#0000af 0 16px,#0000bf 0 18px,#0000af 0 19px,#00009f 0 21px,#0000af 0 22px,#00009f 0 26px,#0000af 0 30px,#0000bf 0 33px,#0000cf 0 37px,#0000df 0 43px,#0000ef 0 44px,#0000df 0 46px,#0000ef 0 47px,#0000df 0 49px,#0000ef 0)"></i><i style="left:300px;background:linear-gradient(90deg,#0000cf 0 2px,#0000df 0 3px,#0000cf 0 5px,#0000df 0 6px,#0000bf 0 8px,#0000cf 0 9px,#0000bf 0 10px,#0000af 0 11px,#0000bf 0 13px,#0000af 0 14px,#00009f 0 15px,#0000af 0 16px,#0000bf 0 17px,#0000af 0 18px,#00009f 0 20px,#0000af 0 46px,#00009f 0 47px,#0000af 0 49px,#0000bf 0)"></i><i style="left:350px;background:linear-gradient(90deg,#0000af 0 1px,#00009f 0 2px,#0000bf 0 4px,#0000af 0 6px,#0000cf 0 8px,#0000bf 0 9px,#0000cf 0 10px,#0000df 0 11px,#0000bf 0 12px,#0000cf 0 13px,#0000df 0 14px,#0000cf 0 15px,#0000df 0 19px,#0000ef 0 20px,#0000df 0 21px,#0000ef 0 22px,#0000df 0 28px,#0000cf 0 33px,#0000bf 0 36px,#0000af 0 39px,#00009f 0 47px,#0000af 0 48px,#0000bf 0 49px,#0000af 0)"></i><i style="left:400px;background:linear-gradient(90deg,#0000af 0 2px,#0000cf 0 6px,#0000bf 0 9px,#0000cf 0 11px,#0000df 0 16px,#0000ef 0 17px,#0000df 0 22px,#0000cf 0 23px,#0000bf 0 27px,#0000cf 0 30px,#0000bf 0 31px,#0000af 0 33px,#0000bf 0 35px,#0000af 0 36px,#00009f 0 43px,#0000af 0 47px,#0000bf 0)"></i><i style="left:450px;background:linear-gradient(90deg,#0000cf 0 4px,#0000df 0 10px,#0000ef 0 11px,#0000df 0 13px,#0000ef 0 14px,#0000df 0 17px,#0000cf 0 18px,#0000df 0 20px,#0000bf 0 21px,#0000cf 0 22px,#0000df 0 23px,#0000bf 0 25px,#0000cf 0 26px,#0000bf 0 27px,#0000af 0 28px,#0000bf 0 30px,#0000af 0 31px,#00009f 0 32px,#0000bf 0 34px,#0000af 0 35px,#00009f 0 37px,#0000af 0)"></i></div>
<div class="r" style="top:317.46px;height:18.24px"><i style="left:0px;background:linear-gradient(90deg,#0000df 0 2px,#0000cf 0 4px,#0000bf 0 5px,#0000af 0 6px,#00009f 0 7px,#0000bf 0 8px,#0000cf 0 9px,#0000ef 0 12px,#0000bf 0 13px,#0000af 0 14px,#0000df 0 15px,#00f 0 16px,#0000ef 0 17px,#0000bf 0 18px,#0000cf 0 19px,#00f 0 21px,#0000bf 0 22px,#0000df 0 23px,#0010ff 0 24px,#0000df 0 25px,#0000bf 0 26px,#00f 0 27px,#0000ef 0 28px,#0000bf 0 29px,#00f 0 30px,#0000ef 0 31px,#0000bf 0 32px,#00f 0 33px,#0000df 0 34px,#0000bf 0 35px,#0000ef 0 36px,#0000cf 0 37px,#0000bf 0 38px,#0000df 0 39px,#0000bf 0 41px,#0000cf 0 42px,#00009f 0 43px,#0000af 0 44px,#0000bf 0 45px,#00009f 0 46px,#0000af 0)"></i><i style="left:50px;background:linear-gradient(90deg,#00009f 0 1px,#0000bf 0 3px,#0000af 0 4px,#0000cf 0 6px,#0000bf 0 7px,#0000cf 0 8px,#0000ef 0 9px,#0000df 0 10px,#0000cf 0 11px,#0000ef 0 12px,#00f 0 13px,#0000ef 0 14px,#0000df 0 15px,#0000ef 0 16px,#00f 0 17px,#0010ff 0 18px,#00f 0 19px,#0000ef 0 21px,#00f 0 23px,#0010ff 0 26px,#00f 0 39px,#0010ff 0 43px,#00f 0 44px,#0000ef 0 47px,#00f 0 48px,#0010ff 0 49px,#00f 0)"></i><i style="left:100px;background:linear-gradient(90deg,#0000df 0 2px,#0000ef 0 3px,#00f 0 4px,#0000df 0 5px,#0000cf 0 6px,#0000df 0 7px,#0000ef 0 8px,#0000bf 0 10px,#0000df 0 11px,#0000bf 0 12px,#00009f 0 13px,#0000bf 0 15px,#00009f 0 16px,#0000af 0 21px,#0000bf 0 22px,#0000af 0 23px,#0000bf 0 24px,#0000cf 0 25px,#0000af 0 26px,#0000cf 0 27px,#0000df 0 28px,#0000af 0 29px,#0000ef 0 30px,#0000df 0 31px,#0000bf 0 32px,#00f 0 33px,#0000ef 0 34px,#0000bf 0 35px,#00f 0 36px,#0000ef 0 37px,#0000bf 0 38px,#00f 0 39px,#0000ef 0 40px,#0000bf 0 41px,#00f 0 43px,#0000cf 0 45px,#00f 0 46px,#0000ef 0 47px,#0000bf 0 48px,#0000cf 0 49px,#00f 0)"></i><i style="left:150px;background:linear-gradient(90deg,#0000ef 0 1px,#0000cf 0 2px,#0000af 0 3px,#0000cf 0 4px,#0000ef 0 7px,#0000cf 0 8px,#0000af 0 9px,#00009f 0 10px,#0000af 0 11px,#0000bf 0 12px,#0000cf 0 13px,#0000df 0 19px,#0000cf 0 20px,#0000bf 0 21px,#0000af 0 24px,#0000bf 0 25px,#0000df 0 26px,#0000ef 0 28px,#0000df 0 29px,#0000af 0 30px,#0000bf 0 31px,#0000ef 0 32px,#00f 0 33px,#0000df 0 34px,#0000af 0 35px,#0000df 0 36px,#00f 0 37px,#0000ef 0 38px,#0000bf 0 39px,#0000ef 0 40px,#00f 0 41px,#0000cf 0 42px,#0000df 0 43px,#0010ff 0 44px,#0000df 0 45px,#0000cf 0 46px,#00f 0 47px,#0000df 0 48px,#0000cf 0 49px,#00f 0)"></i><i style="left:200px;background:linear-gradient(90deg,#0000cf 0 2px,#0000ef 0 3px,#0000bf 0 4px,#0000cf 0 5px,#0000df 0 6px,#00009f 0 7px,#0000cf 0 9px,#00009f 0 10px,#0000bf 0 11px,#0000af 0 16px,#00009f 0 17px,#0000af 0 18px,#0000cf 0 19px,#0000af 0 20px,#0000bf 0 21px,#0000df 0 22px,#0000cf 0 23px,#0000bf 0 24px,#0000df 0 25px,#0000ef 0 26px,#0000cf 0 28px,#0000ef 0 29px,#00f 0 30px,#0000ef 0 31px,#0000df 0 32px,#0000ef 0 33px,#00f 0 36px,#0000ef 0 38px,#00f 0 39px,#0010ff 0 43px,#00f 0)"></i><i style="left:250px;background:linear-gradient(90deg,#00f 0 6px,#0010ff 0 10px,#00f 0 11px,#0000ef 0 13px,#00f 0 16px,#0000ef 0 17px,#0000df 0 18px,#0000ef 0 19px,#00f 0 20px,#0000ef 0 21px,#0000cf 0 23px,#0000ef 0 24px,#0000df 0 25px,#0000bf 0 26px,#0000cf 0 27px,#0000df 0 28px,#0000bf 0 29px,#0000af 0 30px,#0000cf 0 31px,#0000af 0 32px,#00009f 0 33px,#0000af 0 38px,#0000bf 0 39px,#00009f 0 40px,#0000cf 0 42px,#00009f 0 43px,#0000df 0 44px,#0000cf 0 45px,#0000bf 0 46px,#0000ef 0 47px,#0000cf 0 49px,#00f 0)"></i><i style="left:300px;background:linear-gradient(90deg,#0000cf 0 1px,#0000df 0 2px,#00f 0 3px,#0000cf 0 4px,#0000df 0 5px,#0010ff 0 6px,#0000df 0 7px,#0000cf 0 8px,#00f 0 9px,#0000ef 0 10px,#0000bf 0 11px,#0000ef 0 12px,#00f 0 13px,#0000df 0 14px,#0000af 0 15px,#0000df 0 16px,#00f 0 17px,#0000ef 0 18px,#0000bf 0 19px,#0000af 0 20px,#0000df 0 21px,#0000ef 0 23px,#0000df 0 24px,#0000bf 0 25px,#0000af 0 28px,#0000bf 0 29px,#0000cf 0 30px,#0000df 0 36px,#0000cf 0 37px,#0000bf 0 38px,#0000af 0 39px,#00009f 0 40px,#0000af 0 41px,#0000cf 0 42px,#0000ef 0 45px,#0000cf 0 46px,#0000af 0 47px,#0000cf 0 48px,#0000ef 0 49px,#00f 0)"></i><i style="left:350px;background:linear-gradient(90deg,#0000cf 0 1px,#0000bf 0 2px,#0000ef 0 3px,#00f 0 4px,#0000cf 0 6px,#00f 0 8px,#0000bf 0 9px,#0000ef 0 10px,#00f 0 11px,#0000bf 0 12px,#0000ef 0 13px,#00f 0 14px,#0000bf 0 15px,#0000ef 0 16px,#00f 0 17px,#0000bf 0 18px,#0000df 0 19px,#0000ef 0 20px,#0000af 0 21px,#0000df 0 22px,#0000cf 0 23px,#0000af 0 24px,#0000cf 0 25px,#0000bf 0 26px,#0000af 0 27px,#0000bf 0 28px,#0000af 0 33px,#00009f 0 34px,#0000bf 0 36px,#00009f 0 37px,#0000bf 0 38px,#0000df 0 39px,#0000bf 0 41px,#0000ef 0 42px,#0000df 0 43px,#0000cf 0 44px,#0000df 0 45px,#00f 0 46px,#0000ef 0 47px,#0000df 0 49px,#00f 0)"></i><i style="left:400px;background:linear-gradient(90deg,#0010ff 0 1px,#00f 0 2px,#0000ef 0 5px,#00f 0 6px,#0010ff 0 10px,#00f 0 23px,#0010ff 0 26px,#00f 0 28px,#0000ef 0 30px,#00f 0 31px,#0010ff 0 32px,#00f 0 33px,#0000ef 0 34px,#0000df 0 35px,#0000ef 0 36px,#00f 0 37px,#0000ef 0 38px,#0000cf 0 39px,#0000df 0 40px,#0000ef 0 41px,#0000cf 0 42px,#0000bf 0 43px,#0000cf 0 45px,#0000af 0 46px,#0000bf 0 48px,#00009f 0 49px,#0000af 0)"></i><i style="left:450px;background:linear-gradient(90deg,#0000af 0 3px,#00009f 0 4px,#0000bf 0 5px,#0000af 0 6px,#00009f 0 7px,#0000cf 0 8px,#0000bf 0 10px,#0000df 0 11px,#0000bf 0 12px,#0000cf 0 13px,#0000ef 0 14px,#0000bf 0 15px,#0000df 0 16px,#00f 0 17px,#0000bf 0 18px,#0000ef 0 19px,#00f 0 20px,#0000bf 0 21px,#0000ef 0 22px,#00f 0 23px,#0000bf 0 24px,#0000df 0 25px,#0010ff 0 26px,#0000df 0 27px,#0000bf 0 28px,#00f 0 30px,#0000cf 0 31px,#0000bf 0 32px,#0000ef 0 33px,#00f 0 34px,#0000df 0 35px,#0000af 0 36px,#0000bf 0 37px,#0000ef 0 40px,#0000cf 0 41px,#0000bf 0 42px,#00009f 0 43px,#0000af 0 44px,#0000bf 0 45px,#0000cf 0 47px,#0000df 0)"></i></div>
<div class="r" style="top:335.10px;height:18.24px"><i style="left:0px;background:linear-gradient(90deg,#0000ef 0 3px,#0000df 0 4px,#0000cf 0 5px,#0000bf 0 7px,#0000cf 0 8px,#0000ef 0 9px,#00f 0 10px,#0010ff 0 11px,#0000ef 0 12px,#0000cf 0 13px,#0000bf 0 14px,#0000ef 0 15px,#00f 0 17px,#0000bf 0 18px,#0000cf 0 19px,#00f 0 20px,#0000ef 0 21px,#0000bf 0 22px,#0000cf 0 23px,#00f 0 24px,#0000cf 0 25px,#0000af 0 26px,#0000ef 0 27px,#0000df 0 28px,#00009f 0 29px,#0000df 0 30px,#0000cf 0 31px,#00009f 0 32px,#0000cf 0 33px,#0000bf 0 34px,#0000af 0 35px,#0000bf 0 38px,#0000af 0 39px,#0000cf 0 41px,#00009f 0 42px,#0000df 0 43px,#0000cf 0 44px,#0000af 0 45px,#00f 0 46px,#0000df 0 47px,#0000cf 0 48px,#0010ff 0 49px,#0000df 0)"></i><i style="left:50px;background:linear-gradient(90deg,#0000cf 0 1px,#0020ff 0 2px,#00f 0 3px,#0000cf 0 4px,#0020ff 0 6px,#0000df 0 7px,#00f 0 8px,#0030ff 0 9px,#0010ff 0 10px,#0000df 0 11px,#0010ff 0 12px,#0030ff 0 13px,#0010ff 0 14px,#0000df 0 15px,#0000ef 0 16px,#0020ff 0 17px,#0030ff 0 18px,#0010ff 0 19px,#0000df 0 20px,#0000cf 0 21px,#0000ef 0 22px,#0010ff 0 23px,#0020ff 0 25px,#0010ff 0 26px,#00f 0 27px,#0000ef 0 28px,#0000df 0 30px,#0000cf 0 36px,#0000df 0 37px,#0000ef 0 38px,#00f 0 39px,#0010ff 0 41px,#0020ff 0 42px,#0010ff 0 43px,#00f 0 44px,#0000df 0 45px,#0000cf 0 46px,#0000ef 0 47px,#0020ff 0 48px,#0030ff 0 49px,#0010ff 0)"></i><i style="left:100px;background:linear-gradient(90deg,#0000df 0 1px,#0000ef 0 2px,#0020ff 0 3px,#0030ff 0 4px,#00f 0 5px,#0000df 0 6px,#0020ff 0 7px,#0030ff 0 8px,#0000ef 0 10px,#0020ff 0 11px,#00f 0 12px,#0000cf 0 13px,#0010ff 0 15px,#0000bf 0 16px,#00f 0 18px,#0000af 0 19px,#0000ef 0 21px,#00009f 0 22px,#0000df 0 23px,#0000cf 0 24px,#00009f 0 25px,#0000cf 0 26px,#0000bf 0 27px,#0000af 0 28px,#0000bf 0 31px,#0000af 0 32px,#0000cf 0 33px,#0000bf 0 34px,#00009f 0 35px,#0000df 0 36px,#0000cf 0 37px,#0000af 0 38px,#0000ef 0 39px,#0000df 0 40px,#0000af 0 41px,#0000ef 0 43px,#0000bf 0 44px,#0000cf 0 45px,#00f 0 46px,#0000ef 0 47px,#0000bf 0 48px,#0000df 0 49px,#00f 0)"></i><i style="left:150px;background:linear-gradient(90deg,#00f 0 1px,#0000df 0 2px,#0000bf 0 3px,#0000df 0 4px,#00f 0 5px,#0010ff 0 6px,#00f 0 7px,#0000df 0 8px,#0000cf 0 9px,#0000bf 0 10px,#0000cf 0 11px,#0000df 0 13px,#0000ef 0 15px,#00f 0 17px,#0000ef 0 20px,#0000df 0 21px,#0000cf 0 22px,#0000bf 0 24px,#0000df 0 25px,#0000ef 0 26px,#00f 0 28px,#0000ef 0 29px,#0000bf 0 30px,#0000cf 0 31px,#0000ef 0 32px,#00f 0 33px,#0000ef 0 34px,#0000bf 0 35px,#0000df 0 36px,#00f 0 37px,#0000df 0 38px,#0000af 0 39px,#0000ef 0 41px,#0000bf 0 42px,#0000cf 0 43px,#0000ef 0 44px,#0000bf 0 45px,#0000af 0 46px,#0000df 0 47px,#0000bf 0 48px,#0000af 0 49px,#0000cf 0)"></i><i style="left:200px;background:linear-gradient(90deg,#0000af 0 2px,#0000bf 0 5px,#0000af 0 6px,#0000cf 0 7px,#0000bf 0 9px,#0000df 0 10px,#0000bf 0 11px,#0000cf 0 12px,#00f 0 13px,#0000bf 0 14px,#0000df 0 15px,#0010ff 0 16px,#0000cf 0 17px,#0000ef 0 18px,#0020ff 0 19px,#0000df 0 20px,#0000ef 0 21px,#0020ff 0 22px,#00f 0 23px,#0000df 0 24px,#0020ff 0 25px,#0030ff 0 26px,#0000ef 0 28px,#0020ff 0 29px,#0030ff 0 30px,#00f 0 31px,#0000df 0 32px,#00f 0 33px,#0020ff 0 35px,#00f 0 36px,#0000df 0 38px,#00f 0 39px,#0010ff 0 40px,#0020ff 0 42px,#0010ff 0 43px,#00f 0 44px,#0000ef 0 45px,#0000df 0 46px,#0000cf 0)"></i><i style="left:250px;background:linear-gradient(90deg,#0000cf 0 3px,#0000df 0 4px,#0000ef 0 5px,#00f 0 6px,#0010ff 0 7px,#0020ff 0 9px,#0010ff 0 10px,#00f 0 11px,#0000df 0 13px,#00f 0 14px,#0020ff 0 16px,#00f 0 17px,#0000df 0 18px,#00f 0 19px,#0030ff 0 20px,#0020ff 0 21px,#0000ef 0 23px,#0030ff 0 24px,#0020ff 0 25px,#0000df 0 26px,#00f 0 27px,#0020ff 0 28px,#0000ef 0 29px,#0000df 0 30px,#0020ff 0 31px,#0000ef 0 32px,#0000cf 0 33px,#0010ff 0 34px,#0000df 0 35px,#0000bf 0 36px,#00f 0 37px,#0000cf 0 38px,#0000bf 0 39px,#0000df 0 40px,#0000bf 0 42px,#0000cf 0 43px,#0000af 0 44px,#0000bf 0 47px,#0000af 0 49px,#0000cf 0)"></i><i style="left:300px;background:linear-gradient(90deg,#0000af 0 1px,#0000bf 0 2px,#0000df 0 3px,#0000af 0 4px,#0000bf 0 5px,#0000ef 0 6px,#0000cf 0 7px,#0000bf 0 8px,#0000ef 0 10px,#0000af 0 11px,#0000df 0 12px,#00f 0 13px,#0000df 0 14px,#0000bf 0 15px,#0000ef 0 16px,#00f 0 17px,#0000ef 0 18px,#0000cf 0 19px,#0000bf 0 20px,#0000ef 0 21px,#00f 0 23px,#0000ef 0 24px,#0000df 0 25px,#0000bf 0 27px,#0000cf 0 28px,#0000df 0 29px,#0000ef 0 32px,#00f 0 34px,#0000ef 0 36px,#0000df 0 38px,#0000cf 0 39px,#0000bf 0 40px,#0000cf 0 41px,#0000df 0 42px,#00f 0 43px,#0010ff 0 44px,#00f 0 45px,#0000df 0 46px,#0000bf 0 47px,#0000df 0 48px,#00f 0)"></i><i style="left:350px;background:linear-gradient(90deg,#0000df 0 1px,#0000bf 0 2px,#0000ef 0 3px,#00f 0 4px,#0000cf 0 5px,#0000bf 0 6px,#0000ef 0 8px,#0000af 0 9px,#0000df 0 10px,#0000ef 0 11px,#0000af 0 12px,#0000cf 0 13px,#0000df 0 14px,#00009f 0 15px,#0000bf 0 16px,#0000cf 0 17px,#0000af 0 18px,#0000bf 0 21px,#0000af 0 22px,#0000bf 0 23px,#0000cf 0 24px,#00009f 0 25px,#0000cf 0 26px,#0000df 0 27px,#00009f 0 28px,#0000ef 0 30px,#0000af 0 31px,#00f 0 33px,#0000bf 0 34px,#0010ff 0 36px,#0000cf 0 37px,#00f 0 38px,#0020ff 0 39px,#0000ef 0 41px,#0030ff 0 42px,#0020ff 0 43px,#0000df 0 44px,#00f 0 45px,#0030ff 0 46px,#0020ff 0 47px,#0000ef 0 48px,#0000df 0 49px,#0010ff 0)"></i><i style="left:400px;background:linear-gradient(90deg,#0030ff 0 1px,#0020ff 0 2px,#0000ef 0 3px,#0000cf 0 4px,#0000df 0 5px,#00f 0 6px,#0010ff 0 7px,#0020ff 0 8px,#0010ff 0 10px,#00f 0 11px,#0000ef 0 12px,#0000df 0 13px,#0000cf 0 19px,#0000df 0 21px,#0000ef 0 22px,#00f 0 23px,#0010ff 0 24px,#0020ff 0 26px,#0010ff 0 27px,#0000ef 0 28px,#0000cf 0 29px,#0000df 0 30px,#0010ff 0 31px,#0030ff 0 32px,#0020ff 0 33px,#0000ef 0 34px,#0000df 0 35px,#0010ff 0 36px,#0030ff 0 37px,#0010ff 0 38px,#0000df 0 39px,#0010ff 0 40px,#0030ff 0 41px,#00f 0 42px,#0000df 0 43px,#0020ff 0 45px,#0000cf 0 46px,#00f 0 47px,#0020ff 0 48px,#0000cf 0 49px,#0000df 0)"></i><i style="left:450px;background:linear-gradient(90deg,#0010ff 0 1px,#0000cf 0 2px,#0000df 0 3px,#00f 0 4px,#0000af 0 5px,#0000cf 0 6px,#0000df 0 7px,#00009f 0 8px,#0000cf 0 10px,#0000af 0 11px,#0000bf 0 14px,#0000af 0 15px,#0000bf 0 16px,#0000cf 0 17px,#00009f 0 18px,#0000cf 0 19px,#0000df 0 20px,#00009f 0 21px,#0000df 0 22px,#0000ef 0 23px,#0000af 0 24px,#0000cf 0 25px,#00f 0 26px,#0000cf 0 27px,#0000bf 0 28px,#0000ef 0 29px,#00f 0 30px,#0000cf 0 31px,#0000bf 0 32px,#00f 0 34px,#0000ef 0 35px,#0000bf 0 36px,#0000cf 0 37px,#0000ef 0 38px,#0010ff 0 39px,#00f 0 40px,#0000ef 0 41px,#0000cf 0 42px,#0000bf 0 44px,#0000cf 0 45px,#0000df 0 46px,#0000ef 0 49px,#00f 0)"></i></div>
<div class="r" style="top:352.73px;height:35.87px"><i style="left:0px;background:linear-gradient(90deg,#0000cf 0 6px,#0000bf 0 7px,#0000cf 0 12px,#0000bf 0 17px,#0000af 0 19px,#0000bf 0 20px,#0000af 0 21px,#00009f 0 23px,#0000af 0 24px,#00009f 0 25px,#0000af 0 26px,#00009f 0 27px,#0000af 0 28px,#0000bf 0 29px,#0000af 0 31px,#0000cf 0 32px,#0000af 0 33px,#0000cf 0 34px,#0000df 0 35px,#0000bf 0 36px,#0000df 0 37px,#0000ef 0 38px,#0000cf 0 39px,#00f 0 41px,#0000df 0 42px,#0010ff 0 43px,#00f 0 44px,#0000ef 0 45px,#0020ff 0 46px,#00f 0 47px,#0000ef 0 48px,#0020ff 0 49px,#00f 0)"></i><i style="left:50px;background:linear-gradient(90deg,#0000ef 0 1px,#0020ff 0 2px,#00f 0 3px,#0000df 0 4px,#0020ff 0 5px,#0010ff 0 6px,#0000cf 0 7px,#0000ef 0 8px,#0010ff 0 9px,#0000ef 0 10px,#0000bf 0 11px,#0000ef 0 12px,#00f 0 13px,#0000df 0 14px,#0000af 0 15px,#0000bf 0 16px,#0000df 0 18px,#0000cf 0 19px,#0000af 0 20px,#00009f 0 21px,#0000af 0 22px,#0000bf 0 23px,#0000cf 0 25px,#0000bf 0 28px,#0000af 0 38px,#0000bf 0 40px,#0000cf 0 43px,#0000bf 0 44px,#0000af 0 45px,#00009f 0 46px,#0000bf 0 47px,#0000df 0 48px,#0000ef 0 49px,#0000df 0)"></i><i style="left:100px;background:linear-gradient(90deg,#0000af 0 1px,#0000bf 0 2px,#0000ef 0 3px,#00f 0 4px,#0000df 0 5px,#0000bf 0 6px,#00f 0 7px,#0010ff 0 8px,#0000df 0 10px,#0020ff 0 11px,#00f 0 12px,#0000df 0 13px,#0020ff 0 15px,#0000df 0 16px,#0010ff 0 17px,#0020ff 0 18px,#0000df 0 19px,#0010ff 0 21px,#0000df 0 22px,#0010ff 0 23px,#00f 0 24px,#0000df 0 25px,#0010ff 0 26px,#0000ef 0 27px,#0000cf 0 28px,#00f 0 29px,#0000cf 0 31px,#0000df 0 32px,#0000af 0 33px,#0000bf 0 34px,#0000cf 0 35px,#00009f 0 36px,#0000af 0 38px,#00009f 0 42px,#0000af 0 43px,#00009f 0 45px,#0000af 0 49px,#0000bf 0)"></i><i style="left:150px;background:linear-gradient(90deg,#0000bf 0 4px,#0000cf 0 8px,#0000bf 0 10px,#0000cf 0 23px,#0000bf 0 24px,#0000cf 0 28px,#0000bf 0 34px,#0000af 0 36px,#0000bf 0 37px,#0000af 0 38px,#00009f 0 39px,#0000af 0 41px,#00009f 0 42px,#0000af 0 43px,#00009f 0 44px,#0000af 0 45px,#0000bf 0 46px,#00009f 0 47px,#0000bf 0 48px,#0000cf 0 49px,#0000af 0)"></i><i style="left:200px;background:linear-gradient(90deg,#0000df 0 2px,#0000bf 0 3px,#0000ef 0 4px,#0000df 0 5px,#0000cf 0 6px,#0010ff 0 7px,#0000ef 0 9px,#0020ff 0 10px,#0000ef 0 11px,#00f 0 12px,#0020ff 0 13px,#0000ef 0 14px,#0010ff 0 15px,#0020ff 0 16px,#0000ef 0 17px,#00f 0 18px,#0020ff 0 19px,#0000ef 0 21px,#0020ff 0 22px,#00f 0 23px,#0000cf 0 24px,#00f 0 25px,#0010ff 0 26px,#0000df 0 27px,#0000cf 0 28px,#00f 0 30px,#0000cf 0 31px,#0000af 0 32px,#0000cf 0 33px,#0000ef 0 34px,#0000df 0 35px,#0000bf 0 36px,#00009f 0 38px,#0000bf 0 39px,#0000cf 0 42px,#0000bf 0 44px,#0000af 0)"></i><i style="left:250px;background:linear-gradient(90deg,#0000af 0 5px,#0000bf 0 7px,#0000cf 0 10px,#0000bf 0 11px,#00009f 0 13px,#0000bf 0 14px,#0000df 0 15px,#0000ef 0 16px,#0000cf 0 17px,#0000af 0 18px,#0000cf 0 19px,#00f 0 21px,#0000cf 0 22px,#0000df 0 23px,#0010ff 0 24px,#00f 0 25px,#0000cf 0 26px,#00f 0 27px,#0020ff 0 28px,#0000ef 0 30px,#0020ff 0 31px,#00f 0 32px,#0000ef 0 33px,#0020ff 0 34px,#0010ff 0 35px,#0000ef 0 36px,#0020ff 0 37px,#00f 0 38px,#0000ef 0 39px,#0020ff 0 40px,#0000ef 0 42px,#0010ff 0 43px,#0000cf 0 44px,#0000df 0 45px,#0000ef 0 46px,#0000bf 0 47px,#0000df 0 49px,#0000af 0)"></i><i style="left:300px;background:linear-gradient(90deg,#0000cf 0 1px,#0000bf 0 2px,#00009f 0 3px,#0000bf 0 4px,#0000af 0 5px,#00009f 0 6px,#0000af 0 7px,#00009f 0 8px,#0000af 0 10px,#00009f 0 11px,#0000af 0 12px,#0000bf 0 13px,#0000af 0 15px,#0000bf 0 21px,#0000cf 0 25px,#0000bf 0 26px,#0000cf 0 39px,#0000bf 0 41px,#0000cf 0 45px,#0000bf 0)"></i><i style="left:350px;background:linear-gradient(90deg,#0000af 0 4px,#00009f 0 6px,#0000af 0 7px,#00009f 0 11px,#0000af 0 13px,#00009f 0 14px,#0000cf 0 15px,#0000bf 0 16px,#0000af 0 17px,#0000df 0 18px,#0000cf 0 20px,#00f 0 21px,#0000cf 0 22px,#0000ef 0 23px,#0010ff 0 24px,#0000df 0 25px,#00f 0 26px,#0010ff 0 27px,#0000df 0 28px,#0010ff 0 30px,#0000df 0 31px,#0020ff 0 32px,#0010ff 0 33px,#0000df 0 34px,#0020ff 0 36px,#0000df 0 37px,#00f 0 38px,#0020ff 0 39px,#0000df 0 41px,#0010ff 0 42px,#00f 0 43px,#0000bf 0 44px,#0000df 0 45px,#00f 0 46px,#0000ef 0 47px,#0000bf 0 48px,#0000af 0 49px,#0000df 0)"></i><i style="left:400px;background:linear-gradient(90deg,#0000ef 0 1px,#0000df 0 2px,#0000bf 0 3px,#00009f 0 4px,#0000af 0 5px,#0000bf 0 6px,#0000cf 0 9px,#0000bf 0 11px,#0000af 0 21px,#0000bf 0 24px,#0000cf 0 26px,#0000bf 0 27px,#0000af 0 28px,#00009f 0 29px,#0000af 0 30px,#0000cf 0 31px,#0000df 0 33px,#0000bf 0 34px,#0000af 0 35px,#0000df 0 36px,#00f 0 37px,#0000ef 0 38px,#0000bf 0 39px,#0000ef 0 40px,#0010ff 0 41px,#0000ef 0 42px,#0000cf 0 43px,#0010ff 0 44px,#0020ff 0 45px,#0000df 0 46px,#00f 0 47px,#0020ff 0 48px,#0000ef 0 49px,#00f 0)"></i><i style="left:450px;background:linear-gradient(90deg,#0020ff 0 1px,#0000ef 0 2px,#00f 0 3px,#0020ff 0 4px,#0000ef 0 5px,#00f 0 6px,#0010ff 0 7px,#0000df 0 8px,#00f 0 10px,#0000cf 0 11px,#0000ef 0 12px,#0000df 0 13px,#0000bf 0 14px,#0000df 0 15px,#0000cf 0 16px,#0000af 0 17px,#0000cf 0 18px,#0000af 0 20px,#0000bf 0 21px,#0000af 0 22px,#00009f 0 23px,#0000af 0 24px,#00009f 0 25px,#0000af 0 26px,#00009f 0 28px,#0000af 0 29px,#0000bf 0 30px,#0000af 0 32px,#0000bf 0 37px,#0000cf 0 42px,#0000bf 0 43px,#0000cf 0)"></i></div>
<div class="r" style="top:388.00px;height:18.24px"><i style="left:0px;background:linear-gradient(90deg,#0000af 0 12px,#00009f 0 14px,#0000af 0 15px,#0000bf 0 17px,#0000af 0 19px,#0000cf 0 21px,#0000bf 0 22px,#0000cf 0 23px,#0000df 0 24px,#0000cf 0 26px,#0000ef 0 28px,#0000df 0 29px,#00f 0 31px,#0000ef 0 32px,#00f 0 35px,#0010ff 0 36px,#00f 0 38px,#0010ff 0 39px,#00f 0 45px,#0000ef 0 48px,#0000df 0)"></i><i style="left:50px;background:linear-gradient(90deg,#0000cf 0 2px,#0000bf 0 5px,#0000af 0 6px,#00009f 0 10px,#0000af 0 12px,#00009f 0 13px,#0000af 0 14px,#0000cf 0 16px,#0000bf 0 18px,#0000cf 0 19px,#0000df 0 20px,#0000ef 0 22px,#0000df 0 26px,#0000ef 0 27px,#00f 0 29px,#0010ff 0 37px,#00f 0 39px,#0000ef 0 40px,#0000df 0 43px,#0000ef 0 46px,#0000df 0 47px,#0000cf 0 48px,#0000bf 0)"></i><i style="left:100px;background:linear-gradient(90deg,#0000cf 0 1px,#0000bf 0 2px,#0000af 0 3px,#00009f 0 4px,#0000af 0 6px,#00009f 0 9px,#0000af 0 10px,#0000bf 0 13px,#0000cf 0 16px,#0000df 0 18px,#0000ef 0 21px,#00f 0 27px,#0010ff 0 28px,#00f 0 29px,#0010ff 0 30px,#00f 0 31px,#0000ef 0 32px,#00f 0 34px,#0000ef 0 35px,#00f 0 36px,#0000ef 0 37px,#0000df 0 38px,#0000ef 0 39px,#0000df 0 40px,#0000cf 0 41px,#0000df 0 43px,#0000bf 0 45px,#0000cf 0 47px,#0000af 0 49px,#0000bf 0)"></i><i style="left:150px;background:linear-gradient(90deg,#0000bf 0 1px,#0000af 0 2px,#00009f 0 3px,#0000af 0 29px,#00009f 0 31px,#0000bf 0 34px,#00009f 0 35px,#0000bf 0 36px,#0000cf 0 38px,#0000bf 0 39px,#0000cf 0 40px,#0000df 0 41px,#0000cf 0 42px,#0000df 0 43px,#0000ef 0 44px,#0000df 0 46px,#00f 0 47px,#0000ef 0 49px,#0010ff 0)"></i><i style="left:200px;background:linear-gradient(90deg,#00f 0 2px,#0010ff 0 3px,#00f 0 5px,#0010ff 0 6px,#00f 0 11px,#0000ef 0 14px,#0000df 0 16px,#0000cf 0 19px,#0000bf 0 22px,#0000af 0 23px,#00009f 0 27px,#0000af 0 28px,#00009f 0 30px,#0000bf 0 31px,#0000cf 0 33px,#0000bf 0 35px,#0000df 0 36px,#0000ef 0 39px,#0000df 0 42px,#0000ef 0 44px,#00f 0 45px,#0010ff 0)"></i><i style="left:250px;background:linear-gradient(90deg,#0010ff 0 4px,#00f 0 5px,#0000ef 0 7px,#0000df 0 10px,#0000ef 0 13px,#0000df 0 14px,#0000bf 0 16px,#0000cf 0 18px,#0000bf 0 19px,#00009f 0 21px,#0000af 0 22px,#00009f 0 26px,#0000af 0 27px,#0000bf 0 30px,#0000cf 0 33px,#0000df 0 35px,#0000ef 0 38px,#00f 0 43px,#0010ff 0 44px,#00f 0 46px,#0010ff 0 47px,#00f 0 49px,#0010ff 0)"></i><i style="left:300px;background:linear-gradient(90deg,#0000ef 0 2px,#00f 0 3px,#0000df 0 5px,#0000ef 0 6px,#0000df 0 7px,#0000cf 0 8px,#0000df 0 9px,#0000cf 0 10px,#0000bf 0 11px,#0000cf 0 13px,#0000bf 0 14px,#00009f 0 15px,#0000bf 0 18px,#00009f 0 20px,#0000af 0 46px,#00009f 0 47px,#0000af 0 48px,#0000bf 0)"></i><i style="left:350px;background:linear-gradient(90deg,#0000af 0 2px,#0000cf 0 4px,#0000bf 0 6px,#0000df 0 8px,#0000cf 0 9px,#0000df 0 10px,#0000ef 0 11px,#0000df 0 12px,#0000ef 0 13px,#00f 0 14px,#0000ef 0 15px,#00f 0 17px,#0000ef 0 18px,#00f 0 19px,#0010ff 0 20px,#00f 0 21px,#0010ff 0 22px,#00f 0 28px,#0000ef 0 31px,#0000df 0 33px,#0000cf 0 36px,#0000bf 0 39px,#0000af 0 40px,#00009f 0 43px,#0000af 0 45px,#00009f 0 46px,#0000af 0 47px,#0000bf 0 48px,#0000cf 0 49px,#0000bf 0)"></i><i style="left:400px;background:linear-gradient(90deg,#0000bf 0 1px,#0000cf 0 2px,#0000df 0 3px,#0000ef 0 6px,#0000df 0 9px,#0000ef 0 10px,#00f 0 12px,#0010ff 0 20px,#00f 0 22px,#0000ef 0 23px,#0000df 0 27px,#0000ef 0 29px,#0000df 0 30px,#0000cf 0 31px,#0000bf 0 33px,#0000cf 0 35px,#0000af 0 36px,#00009f 0 37px,#0000af 0 39px,#00009f 0 43px,#0000af 0 44px,#0000bf 0 47px,#0000cf 0 49px,#0000df 0)"></i><i style="left:450px;background:linear-gradient(90deg,#0000df 0 1px,#0000ef 0 4px,#00f 0 10px,#0010ff 0 11px,#00f 0 13px,#0010ff 0 14px,#00f 0 17px,#0000ef 0 18px,#00f 0 20px,#0000df 0 21px,#0000ef 0 23px,#0000cf 0 25px,#0000df 0 26px,#0000cf 0 27px,#0000bf 0 28px,#0000cf 0 30px,#0000af 0 32px,#0000bf 0 34px,#0000af 0 35px,#00009f 0 37px,#0000af 0)"></i></div>
<div class="r" style="top:405.64px;height:18.24px"><i style="left:0px;background:linear-gradient(90deg,#0000ef 0 3px,#0000df 0 4px,#0000cf 0 5px,#0000af 0 7px,#0000cf 0 8px,#0000ef 0 9px,#0010ff 0 11px,#00f 0 12px,#0000cf 0 13px,#0000bf 0 14px,#0000ef 0 15px,#0020ff 0 16px,#0010ff 0 17px,#0000cf 0 18px,#0000df 0 19px,#0020ff 0 21px,#0000df 0 22px,#00f 0 23px,#0030ff 0 24px,#00f 0 25px,#0000df 0 26px,#0030ff 0 27px,#0010ff 0 28px,#0000df 0 29px,#0020ff 0 30px,#0010ff 0 31px,#0000df 0 32px,#0020ff 0 33px,#0010ff 0 34px,#0000cf 0 35px,#0010ff 0 36px,#0000ef 0 37px,#0000cf 0 38px,#00f 0 39px,#0000cf 0 41px,#0000ef 0 42px,#0000af 0 43px,#0000bf 0 44px,#0000cf 0 45px,#00009f 0 46px,#0000af 0 48px,#0000bf 0 49px,#0000af 0)"></i><i style="left:50px;background:linear-gradient(90deg,#0000af 0 1px,#0000cf 0 3px,#0000bf 0 4px,#0000ef 0 6px,#0000cf 0 7px,#0000ef 0 8px,#0020ff 0 9px,#0010ff 0 10px,#00f 0 11px,#0020ff 0 12px,#0030ff 0 14px,#0020ff 0 16px,#0040ff 0 17px,#0050ff 0 18px,#0040ff 0 19px,#0030ff 0 21px,#0040ff 0 22px,#0050ff 0 23px,#0060ff 0 26px,#0050ff 0 29px,#0040ff 0 37px,#0050ff 0 40px,#0060ff 0 42px,#0050ff 0 44px,#0040ff 0 45px,#0030ff 0 46px,#0040ff 0 48px,#0050ff 0 49px,#0040ff 0)"></i><i style="left:100px;background:linear-gradient(90deg,#0020ff 0 2px,#0030ff 0 4px,#0010ff 0 5px,#00f 0 6px,#0010ff 0 8px,#0000df 0 10px,#00f 0 11px,#0000df 0 12px,#0000af 0 13px,#0000cf 0 15px,#00009f 0 16px,#0000bf 0 17px,#0000af 0 21px,#0000cf 0 22px,#0000af 0 23px,#0000bf 0 24px,#0000ef 0 25px,#0000af 0 26px,#0000ef 0 27px,#00f 0 28px,#0000bf 0 29px,#00f 0 31px,#0000cf 0 32px,#0020ff 0 33px,#0010ff 0 34px,#0000df 0 35px,#0030ff 0 36px,#0010ff 0 37px,#0000df 0 38px,#0030ff 0 39px,#0020ff 0 40px,#0000df 0 41px,#0020ff 0 42px,#0030ff 0 43px,#0000df 0 44px,#0000ef 0 45px,#0030ff 0 46px,#0010ff 0 47px,#0000cf 0 48px,#0000ef 0 49px,#0020ff 0)"></i><i style="left:150px;background:linear-gradient(90deg,#0010ff 0 1px,#0000df 0 2px,#0000bf 0 3px,#0000df 0 4px,#0010ff 0 6px,#00f 0 7px,#0000df 0 8px,#0000bf 0 9px,#0000af 0 10px,#0000bf 0 11px,#0000cf 0 12px,#0000df 0 13px,#0000ef 0 19px,#0000df 0 20px,#0000cf 0 21px,#0000bf 0 22px,#0000af 0 24px,#0000cf 0 25px,#0000ef 0 26px,#0010ff 0 28px,#0000ef 0 29px,#0000bf 0 30px,#0000cf 0 31px,#00f 0 32px,#0020ff 0 33px,#00f 0 34px,#0000cf 0 35px,#00f 0 36px,#0030ff 0 37px,#0010ff 0 38px,#0000cf 0 39px,#0010ff 0 40px,#0030ff 0 41px,#0000ef 0 42px,#00f 0 43px,#0030ff 0 44px,#00f 0 45px,#0000ef 0 46px,#0030ff 0 47px,#00f 0 48px,#0000ef 0 49px,#0020ff 0)"></i><i style="left:200px;background:linear-gradient(90deg,#0000ef 0 2px,#0010ff 0 3px,#0000cf 0 4px,#0000ef 0 5px,#00f 0 6px,#0000af 0 7px,#0000df 0 9px,#00009f 0 10px,#0000cf 0 11px,#0000bf 0 12px,#00009f 0 13px,#0000af 0 15px,#0000bf 0 16px,#00009f 0 17px,#0000bf 0 18px,#0000df 0 19px,#0000bf 0 20px,#0000cf 0 21px,#00f 0 22px,#0000ef 0 23px,#0000df 0 24px,#00f 0 25px,#0010ff 0 26px,#00f 0 28px,#0020ff 0 29px,#0030ff 0 30px,#0020ff 0 32px,#0030ff 0 33px,#0040ff 0 34px,#0050ff 0 35px,#0040ff 0 36px,#0030ff 0 38px,#0040ff 0 39px,#0050ff 0 40px,#0060ff 0 43px,#0050ff 0 46px,#0040ff 0)"></i><i style="left:250px;background:linear-gradient(90deg,#0040ff 0 3px,#0050ff 0 6px,#0060ff 0 9px,#0050ff 0 10px,#0040ff 0 11px,#0030ff 0 13px,#0040ff 0 14px,#0050ff 0 15px,#0040ff 0 16px,#0030ff 0 17px,#0020ff 0 19px,#0030ff 0 20px,#0020ff 0 21px,#00f 0 23px,#0010ff 0 24px,#00f 0 25px,#0000df 0 26px,#0000ef 0 27px,#00f 0 28px,#0000cf 0 29px,#0000bf 0 30px,#0000df 0 31px,#0000bf 0 32px,#00009f 0 33px,#0000bf 0 34px,#0000af 0 36px,#00009f 0 37px,#0000bf 0 38px,#0000cf 0 39px,#00009f 0 40px,#0000df 0 42px,#0000af 0 43px,#00f 0 44px,#0000ef 0 45px,#0000cf 0 46px,#0010ff 0 47px,#0000ef 0 49px,#0020ff 0)"></i><i style="left:300px;background:linear-gradient(90deg,#0000ef 0 1px,#00f 0 2px,#0030ff 0 3px,#0000ef 0 4px,#00f 0 5px,#0030ff 0 6px,#00f 0 7px,#0000ef 0 8px,#0030ff 0 9px,#0010ff 0 10px,#0000cf 0 11px,#0010ff 0 12px,#0030ff 0 13px,#00f 0 14px,#0000cf 0 15px,#00f 0 16px,#0020ff 0 17px,#00f 0 18px,#0000cf 0 19px,#0000bf 0 20px,#0000ef 0 21px,#0010ff 0 23px,#0000ef 0 24px,#0000cf 0 25px,#0000af 0 27px,#0000bf 0 28px,#0000cf 0 29px,#0000df 0 30px,#0000ef 0 36px,#0000df 0 37px,#0000cf 0 38px,#0000bf 0 39px,#0000af 0 40px,#0000bf 0 41px,#0000df 0 42px,#00f 0 43px,#0010ff 0 45px,#0000df 0 46px,#0000bf 0 47px,#0000df 0 48px,#0010ff 0 49px,#0020ff 0)"></i><i style="left:350px;background:linear-gradient(90deg,#0000ef 0 1px,#0000cf 0 2px,#0010ff 0 3px,#0030ff 0 4px,#0000ef 0 5px,#0000df 0 6px,#0030ff 0 7px,#0020ff 0 8px,#0000df 0 9px,#0020ff 0 10px,#0030ff 0 11px,#0000df 0 12px,#0010ff 0 13px,#0030ff 0 14px,#0000df 0 15px,#0010ff 0 16px,#0020ff 0 17px,#0000cf 0 18px,#00f 0 20px,#0000bf 0 21px,#00f 0 22px,#0000ef 0 23px,#0000af 0 24px,#0000ef 0 25px,#0000bf 0 26px,#0000af 0 27px,#0000cf 0 28px,#0000af 0 32px,#0000bf 0 33px,#00009f 0 34px,#0000cf 0 36px,#0000af 0 37px,#0000df 0 38px,#00f 0 39px,#0000df 0 41px,#0010ff 0 43px,#00f 0 44px,#0010ff 0 45px,#0030ff 0 47px,#0020ff 0 49px,#0040ff 0)"></i><i style="left:400px;background:linear-gradient(90deg,#0050ff 0 1px,#0040ff 0 3px,#0030ff 0 4px,#0040ff 0 5px,#0050ff 0 7px,#0060ff 0 9px,#0050ff 0 12px,#0040ff 0 20px,#0050ff 0 23px,#0060ff 0 26px,#0050ff 0 27px,#0040ff 0 28px,#0030ff 0 30px,#0040ff 0 31px,#0050ff 0 32px,#0040ff 0 33px,#0020ff 0 35px,#0030ff 0 37px,#0020ff 0 38px,#00f 0 39px,#0010ff 0 40px,#0020ff 0 41px,#0000ef 0 42px,#0000cf 0 43px,#0000ef 0 45px,#0000bf 0 46px,#0000cf 0 48px,#0000af 0)"></i><i style="left:450px;background:linear-gradient(90deg,#0000bf 0 1px,#0000af 0 3px,#00009f 0 4px,#0000cf 0 5px,#0000bf 0 6px,#0000af 0 7px,#0000ef 0 8px,#0000cf 0 10px,#00f 0 11px,#0000cf 0 12px,#0000ef 0 13px,#0010ff 0 14px,#0000cf 0 15px,#0010ff 0 16px,#0020ff 0 17px,#0000df 0 18px,#0010ff 0 19px,#0020ff 0 20px,#0000df 0 21px,#0010ff 0 22px,#0030ff 0 23px,#0000df 0 24px,#00f 0 25px,#0030ff 0 26px,#00f 0 27px,#0000df 0 28px,#0020ff 0 30px,#0000df 0 31px,#0000cf 0 32px,#0010ff 0 33px,#0020ff 0 34px,#0000ef 0 35px,#0000bf 0 36px,#0000cf 0 37px,#00f 0 38px,#0010ff 0 40px,#0000ef 0 41px,#0000cf 0 42px,#0000af 0 44px,#0000cf 0 45px,#0000df 0 46px,#0000ef 0)"></i></div>
<div class="r" style="top:423.28px;height:18.24px"><i style="left:0px;background:linear-gradient(90deg,#0020ff 0 1px,#0010ff 0 3px,#00f 0 4px,#0000ef 0 5px,#0000df 0 7px,#0000ef 0 8px,#0010ff 0 9px,#0020ff 0 10px,#0030ff 0 11px,#0020ff 0 12px,#0000ef 0 13px,#0000df 0 14px,#0010ff 0 15px,#0030ff 0 16px,#0020ff 0 17px,#0000df 0 18px,#0000ef 0 19px,#0020ff 0 21px,#0000cf 0 22px,#0000ef 0 23px,#0020ff 0 24px,#0000ef 0 25px,#0000bf 0 26px,#0010ff 0 27px,#0000ef 0 28px,#0000af 0 29px,#0000ef 0 30px,#0000df 0 31px,#00009f 0 32px,#0000df 0 33px,#0000cf 0 34px,#0000af 0 35px,#0000cf 0 36px,#0000bf 0 38px,#0000af 0 39px,#0000cf 0 40px,#0000df 0 41px,#00009f 0 42px,#00f 0 43px,#0000ef 0 44px,#0000cf 0 45px,#0020ff 0 46px,#00f 0 47px,#0000ef 0 48px,#0040ff 0 49px,#0010ff 0)"></i><i style="left:50px;background:linear-gradient(90deg,#00f 0 1px,#0060ff 0 2px,#0040ff 0 3px,#0010ff 0 4px,#0060ff 0 6px,#0020ff 0 7px,#0050ff 0 8px,#0080ff 0 9px,#0050ff 0 10px,#0030ff 0 11px,#0060ff 0 12px,#008fff 0 13px,#0060ff 0 14px,#0030ff 0 15px,#0040ff 0 16px,#0070ff 0 17px,#0080ff 0 18px,#0060ff 0 19px,#0030ff 0 20px,#0020ff 0 21px,#0040ff 0 22px,#0060ff 0 23px,#0070ff 0 25px,#0060ff 0 26px,#0050ff 0 27px,#0040ff 0 28px,#0030ff 0 29px,#0020ff 0 31px,#0010ff 0 35px,#0020ff 0 37px,#0030ff 0 38px,#0040ff 0 39px,#0060ff 0 40px,#0070ff 0 43px,#0050ff 0 44px,#0030ff 0 45px,#0020ff 0 46px,#0040ff 0 47px,#0070ff 0 48px,#0080ff 0 49px,#0060ff 0)"></i><i style="left:100px;background:linear-gradient(90deg,#0030ff 0 1px,#0040ff 0 2px,#0070ff 0 3px,#0080ff 0 4px,#0050ff 0 5px,#0030ff 0 6px,#0070ff 0 7px,#0080ff 0 8px,#0030ff 0 10px,#0070ff 0 11px,#0050ff 0 12px,#0010ff 0 13px,#0050ff 0 15px,#0000ef 0 16px,#0030ff 0 18px,#0000cf 0 19px,#0010ff 0 21px,#0000af 0 22px,#00f 0 23px,#0000df 0 24px,#0000af 0 25px,#0000df 0 26px,#0000bf 0 27px,#0000af 0 28px,#0000bf 0 31px,#0000af 0 32px,#0000df 0 33px,#0000cf 0 34px,#0000af 0 35px,#0000ef 0 36px,#0000df 0 37px,#0000af 0 38px,#00f 0 40px,#0000bf 0 41px,#0010ff 0 42px,#0020ff 0 43px,#0000df 0 44px,#0000ef 0 45px,#0020ff 0 46px,#0010ff 0 47px,#0000df 0 48px,#00f 0 49px,#0030ff 0)"></i><i style="left:150px;background:linear-gradient(90deg,#0020ff 0 1px,#00f 0 2px,#0000df 0 3px,#00f 0 4px,#0020ff 0 5px,#0030ff 0 6px,#0020ff 0 7px,#00f 0 8px,#0000df 0 11px,#0000ef 0 12px,#00f 0 13px,#0010ff 0 14px,#0020ff 0 18px,#0010ff 0 20px,#00f 0 21px,#0000ef 0 22px,#0000df 0 24px,#0000ef 0 25px,#0010ff 0 26px,#0030ff 0 28px,#0010ff 0 29px,#0000df 0 30px,#0000ef 0 31px,#0020ff 0 32px,#0030ff 0 33px,#0010ff 0 34px,#0000cf 0 35px,#00f 0 36px,#0030ff 0 37px,#00f 0 38px,#0000cf 0 39px,#0010ff 0 40px,#0020ff 0 41px,#0000cf 0 42px,#0000df 0 43px,#0010ff 0 44px,#0000cf 0 45px,#0000bf 0 46px,#00f 0 47px,#0000cf 0 48px,#0000bf 0 49px,#0000df 0)"></i><i style="left:200px;background:linear-gradient(90deg,#0000bf 0 5px,#0000af 0 6px,#0000df 0 7px,#0000bf 0 9px,#00f 0 10px,#0000cf 0 11px,#0000ef 0 12px,#0020ff 0 13px,#0000df 0 14px,#0010ff 0 15px,#0040ff 0 16px,#00f 0 17px,#0030ff 0 18px,#0060ff 0 19px,#0020ff 0 20px,#0030ff 0 21px,#0070ff 0 22px,#0050ff 0 23px,#0020ff 0 24px,#0070ff 0 25px,#0080ff 0 26px,#0040ff 0 27px,#0030ff 0 28px,#0070ff 0 29px,#0080ff 0 30px,#0050ff 0 31px,#0030ff 0 32px,#0050ff 0 33px,#0080ff 0 35px,#0050ff 0 36px,#0030ff 0 38px,#0050ff 0 39px,#0060ff 0 40px,#0070ff 0 42px,#0060ff 0 43px,#0050ff 0 44px,#0040ff 0 45px,#0030ff 0 46px,#0020ff 0 48px,#0010ff 0)"></i><i style="left:250px;background:linear-gradient(90deg,#0010ff 0 1px,#0020ff 0 3px,#0030ff 0 4px,#0040ff 0 5px,#0050ff 0 6px,#0060ff 0 7px,#0070ff 0 9px,#0060ff 0 10px,#0050ff 0 11px,#0030ff 0 13px,#0050ff 0 14px,#0080ff 0 16px,#0050ff 0 17px,#0030ff 0 18px,#0050ff 0 19px,#0080ff 0 20px,#0070ff 0 21px,#0030ff 0 22px,#0040ff 0 23px,#0080ff 0 24px,#0070ff 0 25px,#0020ff 0 26px,#0050ff 0 27px,#0070ff 0 28px,#0030ff 0 29px,#0020ff 0 30px,#0060ff 0 31px,#0030ff 0 32px,#00f 0 33px,#0040ff 0 34px,#0010ff 0 35px,#0000df 0 36px,#0020ff 0 37px,#0000ef 0 38px,#0000cf 0 39px,#00f 0 40px,#0000bf 0 42px,#0000df 0 43px,#0000af 0 44px,#0000bf 0 49px,#0000df 0)"></i><i style="left:300px;background:linear-gradient(90deg,#0000bf 0 1px,#0000cf 0 2px,#00f 0 3px,#0000bf 0 4px,#0000cf 0 5px,#0010ff 0 6px,#0000df 0 7px,#0000cf 0 8px,#0020ff 0 9px,#0010ff 0 10px,#0000cf 0 11px,#00f 0 12px,#0030ff 0 13px,#00f 0 14px,#0000cf 0 15px,#0010ff 0 16px,#0030ff 0 17px,#0020ff 0 18px,#0000ef 0 19px,#0000df 0 20px,#0010ff 0 21px,#0030ff 0 23px,#0010ff 0 24px,#0000ef 0 25px,#0000df 0 27px,#0000ef 0 28px,#00f 0 29px,#0010ff 0 31px,#0020ff 0 35px,#0010ff 0 36px,#00f 0 37px,#0000ef 0 38px,#0000df 0 41px,#00f 0 42px,#0020ff 0 43px,#0030ff 0 44px,#0020ff 0 45px,#00f 0 46px,#0000df 0 47px,#00f 0 48px,#0020ff 0 49px,#0030ff 0)"></i><i style="left:350px;background:linear-gradient(90deg,#00f 0 1px,#0000df 0 2px,#0010ff 0 3px,#0020ff 0 4px,#0000ef 0 5px,#0000df 0 6px,#0020ff 0 7px,#0010ff 0 8px,#0000bf 0 9px,#00f 0 11px,#0000af 0 12px,#0000df 0 13px,#0000ef 0 14px,#0000af 0 15px,#0000cf 0 16px,#0000df 0 17px,#0000af 0 18px,#0000bf 0 21px,#0000af 0 22px,#0000bf 0 23px,#0000df 0 24px,#0000af 0 25px,#0000df 0 26px,#00f 0 27px,#0000af 0 28px,#0010ff 0 30px,#0000cf 0 31px,#0030ff 0 33px,#0000ef 0 34px,#0050ff 0 36px,#0010ff 0 37px,#0050ff 0 38px,#0070ff 0 39px,#0030ff 0 41px,#0080ff 0 42px,#0070ff 0 43px,#0030ff 0 44px,#0050ff 0 45px,#0080ff 0 46px,#0070ff 0 47px,#0040ff 0 48px,#0030ff 0 49px,#0060ff 0)"></i><i style="left:400px;background:linear-gradient(90deg,#0080ff 0 1px,#0070ff 0 2px,#0040ff 0 3px,#0020ff 0 4px,#0030ff 0 5px,#0050ff 0 6px,#0070ff 0 9px,#0060ff 0 10px,#0040ff 0 11px,#0030ff 0 12px,#0020ff 0 14px,#0010ff 0 18px,#0020ff 0 20px,#0030ff 0 21px,#0040ff 0 22px,#0050ff 0 23px,#0060ff 0 24px,#0070ff 0 26px,#0060ff 0 27px,#0040ff 0 28px,#0020ff 0 29px,#0030ff 0 30px,#0060ff 0 31px,#0080ff 0 32px,#0070ff 0 33px,#0040ff 0 34px,#0030ff 0 35px,#0060ff 0 36px,#008fff 0 37px,#0060ff 0 38px,#0030ff 0 39px,#0050ff 0 40px,#0080ff 0 41px,#0050ff 0 42px,#0020ff 0 43px,#0060ff 0 45px,#0010ff 0 46px,#0040ff 0 47px,#0060ff 0 48px,#00f 0 49px,#0010ff 0)"></i><i style="left:450px;background:linear-gradient(90deg,#0040ff 0 1px,#0000ef 0 2px,#00f 0 3px,#0020ff 0 4px,#0000cf 0 5px,#0000ef 0 6px,#00f 0 7px,#00009f 0 8px,#0000df 0 9px,#0000cf 0 10px,#0000af 0 11px,#0000bf 0 13px,#0000cf 0 14px,#0000af 0 15px,#0000cf 0 16px,#0000df 0 17px,#00009f 0 18px,#0000df 0 19px,#0000ef 0 20px,#0000af 0 21px,#0000ef 0 22px,#0010ff 0 23px,#0000bf 0 24px,#0000ef 0 25px,#0020ff 0 26px,#0000ef 0 27px,#0000cf 0 28px,#0020ff 0 30px,#0000ef 0 31px,#0000df 0 32px,#0020ff 0 33px,#0030ff 0 34px,#0010ff 0 35px,#0000df 0 36px,#0000ef 0 37px,#0020ff 0 38px,#0030ff 0 39px,#0020ff 0 40px,#0010ff 0 41px,#0000ef 0 42px,#0000df 0 44px,#0000ef 0 45px,#00f 0 46px,#0010ff 0 48px,#0020ff 0)"></i></div>
<div class="r" style="top:440.91px;height:18.24px"><i style="left:0px;background:linear-gradient(90deg,#0000ef 0 5px,#0000df 0 9px,#0000ef 0 11px,#0000df 0 12px,#0000cf 0 15px,#0000df 0 16px,#0000cf 0 17px,#0000bf 0 21px,#00009f 0 22px,#0000af 0 24px,#00009f 0 25px,#0000af 0 26px,#00009f 0 27px,#0000af 0 28px,#0000bf 0 29px,#0000af 0 30px,#0000bf 0 31px,#0000df 0 32px,#0000cf 0 33px,#0000df 0 34px,#0010ff 0 35px,#0000df 0 36px,#0010ff 0 37px,#0020ff 0 38px,#00f 0 39px,#0030ff 0 40px,#0040ff 0 41px,#0010ff 0 42px,#0060ff 0 43px,#0040ff 0 44px,#0030ff 0 45px,#0070ff 0 46px,#0050ff 0 47px,#0040ff 0 48px,#0080ff 0 49px,#0050ff 0)"></i><i style="left:50px;background:linear-gradient(90deg,#0040ff 0 1px,#0080ff 0 2px,#0060ff 0 3px,#0030ff 0 4px,#0070ff 0 5px,#0060ff 0 6px,#0020ff 0 7px,#0040ff 0 8px,#0060ff 0 9px,#0030ff 0 10px,#00f 0 11px,#0030ff 0 12px,#0050ff 0 13px,#0020ff 0 14px,#0000df 0 15px,#0000ef 0 16px,#0010ff 0 17px,#0020ff 0 18px,#00f 0 19px,#0000bf 0 20px,#0000af 0 21px,#0000cf 0 22px,#0000df 0 23px,#0000ef 0 24px,#0000df 0 26px,#0000cf 0 27px,#0000bf 0 28px,#0000af 0 37px,#0000bf 0 39px,#0000cf 0 40px,#0000df 0 41px,#0000ef 0 43px,#0000df 0 44px,#0000bf 0 45px,#0000af 0 46px,#0000df 0 47px,#0010ff 0 48px,#0020ff 0 49px,#0010ff 0)"></i><i style="left:100px;background:linear-gradient(90deg,#0000df 0 1px,#0000ef 0 2px,#0030ff 0 3px,#0040ff 0 4px,#0020ff 0 5px,#00f 0 6px,#0050ff 0 7px,#0060ff 0 8px,#0030ff 0 10px,#0070ff 0 11px,#0060ff 0 12px,#0030ff 0 13px,#0070ff 0 15px,#0030ff 0 16px,#0070ff 0 18px,#0030ff 0 19px,#0060ff 0 21px,#0020ff 0 22px,#0060ff 0 23px,#0040ff 0 24px,#0010ff 0 25px,#0040ff 0 26px,#0020ff 0 27px,#00f 0 28px,#0030ff 0 29px,#0000ef 0 31px,#00f 0 32px,#0000cf 0 33px,#0000df 0 35px,#0000af 0 36px,#0000bf 0 38px,#00009f 0 39px,#0000af 0 43px,#00009f 0 44px,#0000af 0 45px,#0000bf 0 47px,#0000af 0 48px,#0000bf 0 49px,#0000cf 0)"></i><i style="left:150px;background:linear-gradient(90deg,#0000df 0 1px,#0000cf 0 3px,#0000df 0 5px,#0000ef 0 7px,#0000df 0 11px,#0000ef 0 21px,#0000df 0 25px,#0000ef 0 28px,#0000df 0 29px,#0000cf 0 32px,#0000df 0 33px,#0000cf 0 34px,#0000af 0 35px,#0000bf 0 37px,#0000af 0 38px,#00009f 0 39px,#0000af 0 41px,#00009f 0 42px,#0000af 0 43px,#00009f 0 44px,#0000bf 0 46px,#0000af 0 47px,#0000cf 0 48px,#0000df 0 49px,#0000bf 0)"></i><i style="left:200px;background:linear-gradient(90deg,#00f 0 2px,#0000df 0 3px,#0020ff 0 4px,#0010ff 0 5px,#00f 0 6px,#0040ff 0 7px,#0020ff 0 8px,#0030ff 0 9px,#0060ff 0 10px,#0030ff 0 11px,#0040ff 0 12px,#0070ff 0 13px,#0030ff 0 14px,#0060ff 0 15px,#0080ff 0 16px,#0040ff 0 17px,#0060ff 0 18px,#0080ff 0 19px,#0040ff 0 21px,#0080ff 0 22px,#0050ff 0 23px,#0020ff 0 24px,#0050ff 0 25px,#0060ff 0 26px,#0020ff 0 27px,#0010ff 0 28px,#0040ff 0 30px,#0010ff 0 31px,#0000df 0 32px,#00f 0 33px,#0020ff 0 34px,#0010ff 0 35px,#0000ef 0 36px,#0000bf 0 37px,#0000af 0 38px,#0000cf 0 39px,#0000df 0 40px,#0000ef 0 41px,#0000df 0 42px,#0000cf 0 44px,#0000bf 0 45px,#0000af 0)"></i><i style="left:250px;background:linear-gradient(90deg,#0000af 0 4px,#0000bf 0 5px,#0000cf 0 7px,#0000df 0 8px,#0000ef 0 9px,#0000df 0 10px,#0000cf 0 11px,#0000af 0 12px,#0000bf 0 13px,#0000ef 0 14px,#0010ff 0 15px,#0020ff 0 16px,#00f 0 17px,#0000df 0 18px,#0010ff 0 19px,#0040ff 0 21px,#0010ff 0 22px,#0020ff 0 23px,#0060ff 0 24px,#0050ff 0 25px,#0020ff 0 26px,#0050ff 0 27px,#0080ff 0 28px,#0040ff 0 30px,#0080ff 0 31px,#0060ff 0 32px,#0040ff 0 33px,#0080ff 0 34px,#0060ff 0 35px,#0030ff 0 36px,#0070ff 0 37px,#0040ff 0 38px,#0030ff 0 39px,#0060ff 0 40px,#0030ff 0 41px,#0020ff 0 42px,#0040ff 0 43px,#00f 0 44px,#0010ff 0 45px,#0020ff 0 46px,#0000df 0 47px,#00f 0 49px,#0000bf 0)"></i><i style="left:300px;background:linear-gradient(90deg,#0000df 0 1px,#0000cf 0 2px,#0000af 0 3px,#0000bf 0 5px,#00009f 0 6px,#0000af 0 7px,#00009f 0 8px,#0000af 0 10px,#00009f 0 11px,#0000af 0 12px,#0000bf 0 14px,#0000af 0 15px,#0000cf 0 16px,#0000df 0 17px,#0000cf 0 20px,#0000df 0 21px,#0000ef 0 24px,#0000df 0 28px,#0000ef 0 38px,#0000df 0 42px,#0000ef 0 44px,#0000df 0 46px,#0000cf 0 48px,#0000df 0 49px,#0000cf 0)"></i><i style="left:350px;background:linear-gradient(90deg,#0000bf 0 1px,#0000af 0 2px,#0000bf 0 4px,#0000af 0 5px,#00009f 0 6px,#0000af 0 10px,#00009f 0 11px,#0000bf 0 13px,#0000af 0 14px,#0000df 0 16px,#0000cf 0 17px,#00f 0 18px,#0000ef 0 20px,#0030ff 0 21px,#00f 0 22px,#0020ff 0 23px,#0040ff 0 24px,#0010ff 0 25px,#0040ff 0 26px,#0060ff 0 27px,#0020ff 0 28px,#0060ff 0 30px,#0030ff 0 31px,#0070ff 0 33px,#0030ff 0 34px,#0070ff 0 36px,#0030ff 0 37px,#0060ff 0 38px,#0070ff 0 39px,#0030ff 0 41px,#0060ff 0 42px,#0050ff 0 43px,#00f 0 44px,#0020ff 0 45px,#0040ff 0 46px,#0030ff 0 47px,#0000ef 0 48px,#0000df 0 49px,#0010ff 0)"></i><i style="left:400px;background:linear-gradient(90deg,#0020ff 0 1px,#0010ff 0 2px,#0000df 0 3px,#0000af 0 4px,#0000bf 0 5px,#0000df 0 6px,#0000ef 0 8px,#0000df 0 9px,#0000cf 0 10px,#0000bf 0 12px,#0000af 0 21px,#0000bf 0 22px,#0000cf 0 23px,#0000df 0 25px,#0000ef 0 26px,#0000df 0 27px,#0000cf 0 28px,#0000af 0 29px,#0000bf 0 30px,#00f 0 31px,#0020ff 0 32px,#0010ff 0 33px,#0000ef 0 34px,#0000df 0 35px,#0020ff 0 36px,#0050ff 0 37px,#0030ff 0 38px,#00f 0 39px,#0030ff 0 40px,#0060ff 0 41px,#0040ff 0 42px,#0020ff 0 43px,#0060ff 0 44px,#0070ff 0 45px,#0030ff 0 46px,#0060ff 0 47px,#0080ff 0 48px,#0040ff 0 49px,#0050ff 0)"></i><i style="left:450px;background:linear-gradient(90deg,#0080ff 0 1px,#0040ff 0 2px,#0050ff 0 3px,#0070ff 0 4px,#0030ff 0 5px,#0040ff 0 6px,#0060ff 0 7px,#0010ff 0 8px,#0040ff 0 9px,#0030ff 0 10px,#00f 0 11px,#0020ff 0 12px,#0010ff 0 13px,#0000df 0 14px,#0010ff 0 15px,#0000df 0 16px,#0000cf 0 17px,#0000df 0 18px,#0000bf 0 19px,#0000af 0 20px,#0000bf 0 21px,#0000af 0 22px,#00009f 0 23px,#0000af 0 24px,#00009f 0 25px,#0000af 0 27px,#00009f 0 28px,#0000bf 0 32px,#0000cf 0 33px,#0000df 0 34px,#0000cf 0 37px,#0000df 0 38px,#0000ef 0 40px,#0000df 0 44px,#0000ef 0)"></i></div>
<div class="r" style="top:458.55px;height:35.87px"><i style="left:0px;background:linear-gradient(90deg,#0000af 0 10px,#0000bf 0 12px,#0000af 0 13px,#00009f 0 14px,#0000bf 0 15px,#0000cf 0 17px,#0000bf 0 19px,#0000ef 0 21px,#0000cf 0 22px,#0000ef 0 23px,#0010ff 0 24px,#00f 0 26px,#0020ff 0 28px,#0010ff 0 29px,#0030ff 0 30px,#0040ff 0 31px,#0030ff 0 32px,#0050ff 0 34px,#0040ff 0 35px,#0060ff 0 36px,#0050ff 0 38px,#0060ff 0 39px,#0050ff 0 41px,#0060ff 0 42px,#0050ff 0 45px,#0040ff 0 47px,#0030ff 0 49px,#0020ff 0)"></i><i style="left:50px;background:linear-gradient(90deg,#0010ff 0 2px,#00f 0 3px,#0000df 0 5px,#0000cf 0 6px,#0000af 0 9px,#00009f 0 10px,#0000af 0 11px,#0000bf 0 13px,#0000cf 0 14px,#00f 0 18px,#0020ff 0 19px,#0040ff 0 20px,#0050ff 0 25px,#0060ff 0 26px,#0070ff 0 27px,#0080ff 0 28px,#008fff 0 29px,#009fff 0 32px,#00afff 0 34px,#009fff 0 37px,#008fff 0 38px,#0080ff 0 39px,#0070ff 0 40px,#0060ff 0 41px,#0050ff 0 46px,#0040ff 0 47px,#0010ff 0 48px,#00f 0)"></i><i style="left:100px;background:linear-gradient(90deg,#00f 0 1px,#0000ef 0 2px,#0000cf 0 3px,#0000af 0 4px,#0000bf 0 5px,#0000af 0 6px,#00009f 0 7px,#0000af 0 9px,#0000bf 0 10px,#0000df 0 13px,#00f 0 14px,#0010ff 0 16px,#0020ff 0 17px,#0030ff 0 19px,#0040ff 0 21px,#0050ff 0 24px,#0060ff 0 25px,#0050ff 0 26px,#0060ff 0 28px,#0050ff 0 29px,#0060ff 0 30px,#0050ff 0 31px,#0040ff 0 32px,#0050ff 0 33px,#0040ff 0 34px,#0030ff 0 35px,#0040ff 0 36px,#0030ff 0 37px,#0010ff 0 38px,#0020ff 0 39px,#0010ff 0 40px,#0000ef 0 41px,#0010ff 0 42px,#00f 0 43px,#0000df 0 45px,#0000ef 0 46px,#0000df 0 47px,#0000bf 0 49px,#0000cf 0)"></i><i style="left:150px;background:linear-gradient(90deg,#0000cf 0 1px,#0000af 0 2px,#00009f 0 3px,#0000af 0 4px,#0000bf 0 6px,#0000af 0 26px,#0000bf 0 28px,#0000af 0 29px,#00009f 0 30px,#0000af 0 31px,#0000bf 0 32px,#0000cf 0 34px,#0000af 0 35px,#0000cf 0 36px,#0000ef 0 37px,#0000df 0 38px,#0000cf 0 39px,#00f 0 40px,#0010ff 0 41px,#0000ef 0 42px,#00f 0 43px,#0030ff 0 44px,#0010ff 0 45px,#0020ff 0 46px,#0040ff 0 47px,#0030ff 0 49px,#0050ff 0)"></i><i style="left:200px;background:linear-gradient(90deg,#0040ff 0 1px,#0050ff 0 2px,#0060ff 0 3px,#0050ff 0 4px,#0060ff 0 6px,#0050ff 0 7px,#0060ff 0 9px,#0050ff 0 12px,#0040ff 0 14px,#0030ff 0 16px,#0010ff 0 19px,#0000ef 0 20px,#0000df 0 22px,#0000bf 0 23px,#0000af 0 25px,#00009f 0 26px,#0000af 0 27px,#0000bf 0 28px,#0000af 0 29px,#0000bf 0 30px,#0000df 0 31px,#00f 0 34px,#0010ff 0 35px,#0030ff 0 36px,#0050ff 0 41px,#0060ff 0 42px,#0070ff 0 43px,#0080ff 0 44px,#008fff 0 46px,#009fff 0 49px,#00afff 0)"></i><i style="left:250px;background:linear-gradient(90deg,#009fff 0 3px,#008fff 0 5px,#0080ff 0 6px,#0070ff 0 7px,#0060ff 0 8px,#0050ff 0 13px,#0030ff 0 14px,#0010ff 0 15px,#00f 0 18px,#0000df 0 19px,#0000bf 0 20px,#0000af 0 21px,#0000bf 0 22px,#0000af 0 23px,#00009f 0 24px,#0000af 0 26px,#0000bf 0 27px,#0000df 0 29px,#0000ef 0 30px,#0010ff 0 33px,#0030ff 0 35px,#0040ff 0 37px,#0050ff 0 40px,#0060ff 0 42px,#0050ff 0 43px,#0060ff 0 45px,#0050ff 0 46px,#0060ff 0 47px,#0050ff 0 48px,#0040ff 0 49px,#0050ff 0)"></i><i style="left:300px;background:linear-gradient(90deg,#0030ff 0 2px,#0040ff 0 3px,#0020ff 0 4px,#0010ff 0 5px,#0030ff 0 6px,#00f 0 7px,#0000ef 0 8px,#0010ff 0 9px,#00f 0 10px,#0000cf 0 11px,#0000df 0 12px,#0000ef 0 13px,#0000cf 0 14px,#0000af 0 15px,#0000cf 0 17px,#0000bf 0 18px,#0000af 0 19px,#00009f 0 20px,#0000af 0 21px,#0000bf 0 23px,#0000af 0 43px,#0000bf 0 45px,#0000af 0 46px,#00009f 0 47px,#0000af 0 48px,#0000cf 0)"></i><i style="left:350px;background:linear-gradient(90deg,#0000bf 0 2px,#0000df 0 3px,#0000ef 0 4px,#0000df 0 6px,#00f 0 7px,#0010ff 0 8px,#0000ef 0 9px,#0010ff 0 10px,#0020ff 0 11px,#0010ff 0 12px,#0030ff 0 13px,#0040ff 0 14px,#0030ff 0 15px,#0040ff 0 16px,#0050ff 0 17px,#0040ff 0 18px,#0050ff 0 19px,#0060ff 0 20px,#0050ff 0 21px,#0060ff 0 23px,#0050ff 0 24px,#0060ff 0 25px,#0050ff 0 28px,#0040ff 0 30px,#0030ff 0 32px,#0020ff 0 33px,#0010ff 0 35px,#00f 0 36px,#0000df 0 39px,#0000bf 0 40px,#0000af 0 42px,#00009f 0 43px,#0000af 0 44px,#0000bf 0 45px,#0000af 0 46px,#0000cf 0 47px,#0000ef 0 48px,#00f 0)"></i><i style="left:400px;background:linear-gradient(90deg,#00f 0 1px,#0010ff 0 2px,#0040ff 0 3px,#0050ff 0 8px,#0060ff 0 9px,#0070ff 0 10px,#0080ff 0 11px,#008fff 0 12px,#009fff 0 15px,#00afff 0 17px,#009fff 0 20px,#008fff 0 21px,#0080ff 0 22px,#0070ff 0 23px,#0060ff 0 24px,#0050ff 0 29px,#0040ff 0 30px,#0020ff 0 31px,#00f 0 35px,#0000cf 0 36px,#0000bf 0 38px,#0000af 0 39px,#00009f 0 40px,#0000af 0 43px,#0000cf 0 44px,#0000df 0 46px,#00f 0 47px,#0010ff 0 49px,#0020ff 0)"></i><i style="left:450px;background:linear-gradient(90deg,#0030ff 0 2px,#0040ff 0 4px,#0050ff 0 7px,#0060ff 0 8px,#0050ff 0 10px,#0060ff 0 11px,#0050ff 0 13px,#0060ff 0 14px,#0040ff 0 15px,#0050ff 0 17px,#0030ff 0 18px,#0040ff 0 19px,#0030ff 0 20px,#0010ff 0 21px,#0020ff 0 23px,#00f 0 25px,#0010ff 0 26px,#0000ef 0 27px,#0000cf 0 28px,#0000ef 0 30px,#0000bf 0 32px,#0000cf 0 34px,#0000bf 0 35px,#00009f 0 36px,#0000af 0 37px,#0000bf 0 39px,#0000af 0)"></i></div>
<div class="r" style="top:493.82px;height:18.24px"><i style="left:0px;background:linear-gradient(90deg,#0020ff 0 2px,#0010ff 0 3px,#00f 0 4px,#0000ef 0 5px,#0000cf 0 7px,#0000ef 0 8px,#0020ff 0 9px,#0040ff 0 10px,#0050ff 0 11px,#0030ff 0 12px,#00f 0 13px,#0000ef 0 14px,#0030ff 0 15px,#0060ff 0 16px,#0050ff 0 17px,#0010ff 0 18px,#0020ff 0 19px,#0070ff 0 21px,#0020ff 0 22px,#0040ff 0 23px,#0080ff 0 24px,#0050ff 0 25px,#0030ff 0 26px,#0080ff 0 27px,#0070ff 0 28px,#0030ff 0 29px,#0080ff 0 30px,#0070ff 0 31px,#0020ff 0 32px,#0070ff 0 33px,#0060ff 0 34px,#0020ff 0 35px,#0070ff 0 36px,#0030ff 0 37px,#0010ff 0 38px,#0050ff 0 39px,#00f 0 41px,#0020ff 0 42px,#0000cf 0 43px,#0000df 0 45px,#00009f 0 46px,#0000bf 0 47px,#0000af 0 48px,#0000cf 0 49px,#0000bf 0)"></i><i style="left:50px;background:linear-gradient(90deg,#0000bf 0 1px,#0010ff 0 3px,#00f 0 4px,#0050ff 0 5px,#0060ff 0 6px,#0050ff 0 7px,#0080ff 0 8px,#00afff 0 11px,#00dfff 0 12px,#10ffef 0 14px,#0ff 0 15px,#20ffdf 0 16px,#50ffaf 0 17px,#60ff9f 0 20px,#70ff8f 0 21px,#80ff80 0 22px,#9fff60 0 23px,#afff50 0 24px,#bfff40 0 42px,#afff50 0 43px,#8fff70 0 44px,#80ff80 0 45px,#60ff9f 0 47px,#70ff8f 0 48px,#60ff9f 0 49px,#40ffbf 0)"></i><i style="left:100px;background:linear-gradient(90deg,#10ffef 0 1px,#0ff 0 2px,#10ffef 0 3px,#0ff 0 4px,#00cfff 0 5px,#009fff 0 6px,#00afff 0 7px,#009fff 0 8px,#0060ff 0 9px,#0050ff 0 10px,#0060ff 0 11px,#0030ff 0 12px,#0000ef 0 13px,#0010ff 0 14px,#00f 0 15px,#0000af 0 16px,#0000cf 0 17px,#0000bf 0 18px,#0000af 0 20px,#0000bf 0 21px,#0000ef 0 22px,#0000cf 0 23px,#0000ef 0 24px,#0020ff 0 25px,#0000ef 0 26px,#0030ff 0 27px,#0040ff 0 28px,#00f 0 29px,#0050ff 0 31px,#0020ff 0 32px,#0070ff 0 33px,#0060ff 0 34px,#0030ff 0 35px,#0080ff 0 36px,#0060ff 0 37px,#0030ff 0 38px,#0080ff 0 39px,#0070ff 0 40px,#0020ff 0 41px,#0070ff 0 42px,#0080ff 0 43px,#0020ff 0 44px,#0030ff 0 45px,#0070ff 0 46px,#0050ff 0 47px,#0010ff 0 48px,#0020ff 0 49px,#0060ff 0)"></i><i style="left:150px;background:linear-gradient(90deg,#0050ff 0 1px,#0010ff 0 2px,#0000ef 0 3px,#0010ff 0 4px,#0040ff 0 5px,#0050ff 0 6px,#0030ff 0 7px,#0010ff 0 8px,#0000df 0 9px,#0000cf 0 10px,#0000df 0 11px,#0000ef 0 12px,#00f 0 13px,#0010ff 0 14px,#0020ff 0 18px,#0010ff 0 20px,#00f 0 21px,#0000df 0 22px,#0000cf 0 24px,#00f 0 25px,#0020ff 0 26px,#0040ff 0 27px,#0050ff 0 28px,#0020ff 0 29px,#0000ef 0 30px,#00f 0 31px,#0040ff 0 32px,#0060ff 0 33px,#0040ff 0 34px,#00f 0 35px,#0040ff 0 36px,#0070ff 0 37px,#0050ff 0 38px,#0010ff 0 39px,#0060ff 0 40px,#0080ff 0 41px,#0030ff 0 42px,#0050ff 0 43px,#008fff 0 44px,#0050ff 0 45px,#0040ff 0 46px,#008fff 0 47px,#0050ff 0 48px,#0040ff 0 49px,#0080ff 0)"></i><i style="left:200px;background:linear-gradient(90deg,#0030ff 0 1px,#0040ff 0 2px,#0070ff 0 3px,#0010ff 0 4px,#0030ff 0 5px,#0040ff 0 6px,#0000ef 0 7px,#0020ff 0 8px,#0010ff 0 9px,#0000bf 0 10px,#0000ef 0 11px,#0000cf 0 12px,#00009f 0 13px,#0000bf 0 14px,#0000af 0 15px,#0000cf 0 16px,#0000af 0 17px,#0000df 0 18px,#0010ff 0 19px,#00f 0 20px,#0020ff 0 21px,#0060ff 0 22px,#0050ff 0 24px,#008fff 0 25px,#00afff 0 27px,#00bfff 0 28px,#00efff 0 29px,#10ffef 0 30px,#0ff 0 31px,#10ffef 0 32px,#30ffcf 0 33px,#60ff9f 0 34px,#70ff8f 0 35px,#60ff9f 0 37px,#70ff8f 0 38px,#8fff70 0 39px,#9fff60 0 40px,#bfff40 0)"></i><i style="left:250px;background:linear-gradient(90deg,#bfff40 0 9px,#9fff60 0 10px,#8fff70 0 11px,#70ff8f 0 12px,#60ff9f 0 14px,#70ff8f 0 15px,#60ff9f 0 16px,#30ffcf 0 17px,#10ffef 0 18px,#0ff 0 19px,#10ffef 0 20px,#00efff 0 21px,#00bfff 0 22px,#00afff 0 24px,#008fff 0 25px,#0050ff 0 27px,#0060ff 0 28px,#0020ff 0 29px,#00f 0 30px,#0010ff 0 31px,#0000df 0 32px,#0000af 0 33px,#0000cf 0 34px,#0000af 0 35px,#0000bf 0 36px,#00009f 0 37px,#0000cf 0 38px,#0000ef 0 39px,#0000bf 0 40px,#0010ff 0 41px,#0020ff 0 42px,#0000ef 0 43px,#0040ff 0 44px,#0030ff 0 45px,#0010ff 0 46px,#0070ff 0 47px,#0040ff 0 48px,#0030ff 0 49px,#0080ff 0)"></i><i style="left:300px;background:linear-gradient(90deg,#0040ff 0 1px,#0050ff 0 2px,#008fff 0 3px,#0040ff 0 4px,#0050ff 0 5px,#008fff 0 6px,#0050ff 0 7px,#0030ff 0 8px,#0080ff 0 9px,#0060ff 0 10px,#0010ff 0 11px,#0050ff 0 12px,#0070ff 0 13px,#0040ff 0 14px,#00f 0 15px,#0040ff 0 16px,#0060ff 0 17px,#0040ff 0 18px,#00f 0 19px,#0000ef 0 20px,#0020ff 0 21px,#0050ff 0 22px,#0040ff 0 23px,#0020ff 0 24px,#00f 0 25px,#0000cf 0 27px,#0000df 0 28px,#00f 0 29px,#0010ff 0 31px,#0020ff 0 35px,#0010ff 0 36px,#00f 0 37px,#0000ef 0 38px,#0000df 0 39px,#0000cf 0 40px,#0000df 0 41px,#0010ff 0 42px,#0030ff 0 43px,#0050ff 0 44px,#0040ff 0 45px,#0010ff 0 46px,#0000ef 0 47px,#0010ff 0 48px,#0050ff 0 49px,#0060ff 0)"></i><i style="left:350px;background:linear-gradient(90deg,#0020ff 0 1px,#0010ff 0 2px,#0050ff 0 3px,#0070ff 0 4px,#0030ff 0 5px,#0020ff 0 6px,#0080ff 0 7px,#0070ff 0 8px,#0020ff 0 9px,#0070ff 0 10px,#0080ff 0 11px,#0030ff 0 12px,#0060ff 0 13px,#0080ff 0 14px,#0030ff 0 15px,#0060ff 0 16px,#0070ff 0 17px,#0020ff 0 18px,#0050ff 0 20px,#00f 0 21px,#0040ff 0 22px,#0030ff 0 23px,#0000ef 0 24px,#0020ff 0 25px,#0000ef 0 26px,#0000cf 0 27px,#0000ef 0 28px,#0000bf 0 29px,#0000af 0 31px,#0000bf 0 32px,#0000cf 0 33px,#0000af 0 34px,#00f 0 35px,#0010ff 0 36px,#0000ef 0 37px,#0030ff 0 38px,#0060ff 0 39px,#0050ff 0 40px,#0060ff 0 41px,#009fff 0 42px,#00afff 0 43px,#009fff 0 44px,#00cfff 0 45px,#0ff 0 46px,#10ffef 0 47px,#0ff 0 48px,#10ffef 0 49px,#40ffbf 0)"></i><i style="left:400px;background:linear-gradient(90deg,#60ff9f 0 1px,#70ff8f 0 2px,#60ff9f 0 4px,#80ff80 0 5px,#8fff70 0 6px,#afff50 0 7px,#bfff40 0 25px,#afff50 0 26px,#9fff60 0 27px,#80ff80 0 28px,#70ff8f 0 29px,#60ff9f 0 32px,#50ffaf 0 33px,#20ffdf 0 34px,#0ff 0 35px,#10ffef 0 37px,#00dfff 0 38px,#00afff 0 41px,#0080ff 0 42px,#0050ff 0 43px,#0060ff 0 44px,#0050ff 0 45px,#00f 0 46px,#0010ff 0 48px,#0000bf 0)"></i><i style="left:450px;background:linear-gradient(90deg,#0000cf 0 1px,#0000af 0 2px,#0000bf 0 3px,#00009f 0 4px,#0000df 0 6px,#0000cf 0 7px,#0020ff 0 8px,#00f 0 10px,#0050ff 0 11px,#0010ff 0 12px,#0030ff 0 13px,#0070ff 0 14px,#0020ff 0 15px,#0060ff 0 16px,#0070ff 0 17px,#0020ff 0 18px,#0070ff 0 19px,#0080ff 0 20px,#0030ff 0 21px,#0070ff 0 22px,#0080ff 0 23px,#0030ff 0 24px,#0050ff 0 25px,#0080ff 0 26px,#0040ff 0 27px,#0020ff 0 28px,#0070ff 0 30px,#0020ff 0 31px,#0010ff 0 32px,#0050ff 0 33px,#0060ff 0 34px,#0030ff 0 35px,#0000ef 0 36px,#00f 0 37px,#0030ff 0 38px,#0050ff 0 39px,#0040ff 0 40px,#0020ff 0 41px,#0000ef 0 42px,#0000cf 0 44px,#0000ef 0 45px,#00f 0 46px,#0010ff 0 47px,#0020ff 0)"></i></div>
<div class="r" style="top:511.46px;height:18.24px"><i style="left:0px;background:linear-gradient(90deg,#0070ff 0 1px,#0060ff 0 3px,#0050ff 0 4px,#0040ff 0 5px,#0030ff 0 6px,#0020ff 0 7px,#0040ff 0 8px,#0060ff 0 9px,#0080ff 0 10px,#008fff 0 11px,#0070ff 0 12px,#0040ff 0 13px,#0030ff 0 14px,#0060ff 0 15px,#008fff 0 16px,#0070ff 0 17px,#0030ff 0 18px,#0040ff 0 19px,#0080ff 0 20px,#0070ff 0 21px,#0020ff 0 22px,#0040ff 0 23px,#0070ff 0 24px,#0030ff 0 25px,#00f 0 26px,#0060ff 0 27px,#0030ff 0 28px,#0000df 0 29px,#0030ff 0 30px,#0010ff 0 31px,#0000bf 0 32px,#0010ff 0 33px,#0000df 0 34px,#0000af 0 35px,#0000df 0 36px,#0000bf 0 37px,#0000cf 0 38px,#00009f 0 39px,#00f 0 40px,#0010ff 0 41px,#0000cf 0 42px,#0050ff 0 43px,#0040ff 0 44px,#0030ff 0 45px,#00afff 0 46px,#008fff 0 48px,#0ff 0 49px,#00dfff 0)"></i><i style="left:50px;background:linear-gradient(90deg,#00dfff 0 1px,#60ff9f 0 2px,#40ffbf 0 3px,#20ffdf 0 4px,#9fff60 0 5px,#afff50 0 6px,#70ff8f 0 7px,#bfff40 0 8px,#ffef00 0 9px,#efff10 0 10px,#cfff30 0 11px,#ffdf00 0 12px,#ff9f00 0 13px,#ffaf00 0 14px,#ffdf00 0 15px,#ffbf00 0 16px,#ff7000 0 17px,#ff5000 0 18px,#ff7000 0 19px,#ff8f00 0 21px,#ff7000 0 22px,#ff4000 0 23px,#ff2000 0 24px,#ff1000 0 26px,#ff2000 0 27px,#ff4000 0 29px,#ff5000 0 37px,#ff4000 0 38px,#ff3000 0 39px,#ff2000 0 40px,#ff1000 0 42px,#ff2000 0 43px,#ff5000 0 44px,#ff8000 0 45px,#ff9f00 0 46px,#ff8000 0 47px,#ff6000 0 48px,#ff5000 0 49px,#ff8f00 0)"></i><i style="left:100px;background:linear-gradient(90deg,#ffcf00 0 1px,#ffdf00 0 2px,#ff9f00 0 3px,#ffaf00 0 4px,#ff0 0 5px,#cfff30 0 6px,#ff0 0 8px,#8fff70 0 9px,#80ff80 0 10px,#bfff40 0 11px,#70ff8f 0 12px,#20ffdf 0 13px,#60ff9f 0 14px,#40ffbf 0 15px,#00bfff 0 16px,#0ff 0 17px,#00dfff 0 18px,#0070ff 0 19px,#009fff 0 20px,#008fff 0 21px,#0010ff 0 22px,#0060ff 0 23px,#0030ff 0 24px,#0000cf 0 25px,#0010ff 0 26px,#0000cf 0 27px,#0000bf 0 28px,#0000cf 0 31px,#00009f 0 32px,#00f 0 33px,#0000ef 0 34px,#0000cf 0 35px,#0030ff 0 36px,#0020ff 0 37px,#0000ef 0 38px,#0050ff 0 39px,#0040ff 0 40px,#00f 0 41px,#0060ff 0 42px,#0070ff 0 43px,#0020ff 0 44px,#0040ff 0 45px,#0080ff 0 46px,#0070ff 0 47px,#0020ff 0 48px,#0050ff 0 49px,#0080ff 0)"></i><i style="left:150px;background:linear-gradient(90deg,#0080ff 0 1px,#0040ff 0 2px,#0030ff 0 3px,#0050ff 0 4px,#0080ff 0 5px,#008fff 0 6px,#0070ff 0 7px,#0050ff 0 8px,#0030ff 0 9px,#0020ff 0 10px,#0030ff 0 11px,#0040ff 0 12px,#0050ff 0 13px,#0060ff 0 14px,#0070ff 0 18px,#0060ff 0 20px,#0050ff 0 21px,#0030ff 0 22px,#0020ff 0 23px,#0030ff 0 24px,#0040ff 0 25px,#0070ff 0 26px,#0080ff 0 28px,#0060ff 0 29px,#0030ff 0 31px,#0070ff 0 32px,#008fff 0 33px,#0060ff 0 34px,#0020ff 0 35px,#0050ff 0 36px,#0080ff 0 37px,#0060ff 0 38px,#0010ff 0 39px,#0060ff 0 40px,#0070ff 0 41px,#0010ff 0 42px,#0020ff 0 43px,#0060ff 0 44px,#0010ff 0 45px,#00f 0 46px,#0040ff 0 47px,#0000ef 0 48px,#0000cf 0 49px,#0010ff 0)"></i><i style="left:200px;background:linear-gradient(90deg,#0000bf 0 2px,#0000cf 0 5px,#0000af 0 6px,#0010ff 0 7px,#0000ef 0 8px,#00f 0 9px,#0060ff 0 10px,#0020ff 0 11px,#0060ff 0 12px,#00afff 0 13px,#0070ff 0 14px,#00bfff 0 15px,#10ffef 0 16px,#00bfff 0 17px,#10ffef 0 18px,#60ff9f 0 19px,#20ffdf 0 20px,#50ffaf 0 21px,#afff50 0 22px,#9fff60 0 23px,#80ff80 0 24px,#dfff20 0 25px,#ffef00 0 26px,#dfff20 0 28px,#ffbf00 0 29px,#ff9f00 0 30px,#ffcf00 0 31px,#ffdf00 0 32px,#ff9f00 0 33px,#ff6000 0 34px,#ff5000 0 35px,#ff7000 0 36px,#ff8f00 0 38px,#ff6000 0 39px,#ff3000 0 40px,#ff1000 0 42px,#ff2000 0 43px,#ff3000 0 44px,#ff4000 0 45px,#ff5000 0)"></i><i style="left:250px;background:linear-gradient(90deg,#ff5000 0 4px,#ff4000 0 5px,#ff3000 0 6px,#ff2000 0 7px,#ff1000 0 9px,#ff3000 0 10px,#ff6000 0 11px,#ff8f00 0 13px,#ff7000 0 14px,#ff5000 0 15px,#ff6000 0 16px,#ff9f00 0 17px,#ffdf00 0 18px,#ffcf00 0 19px,#ff9f00 0 20px,#ffbf00 0 21px,#dfff20 0 23px,#ffef00 0 24px,#dfff20 0 25px,#80ff80 0 26px,#9fff60 0 27px,#afff50 0 28px,#50ffaf 0 29px,#20ffdf 0 30px,#60ff9f 0 31px,#10ffef 0 32px,#00bfff 0 33px,#10ffef 0 34px,#00bfff 0 35px,#0070ff 0 36px,#00afff 0 37px,#0060ff 0 38px,#0020ff 0 39px,#0060ff 0 40px,#00f 0 41px,#0000ef 0 42px,#0010ff 0 43px,#0000af 0 44px,#0000cf 0 47px,#0000bf 0 49px,#0010ff 0)"></i><i style="left:300px;background:linear-gradient(90deg,#0000cf 0 1px,#0000ef 0 2px,#0040ff 0 3px,#00f 0 4px,#0010ff 0 5px,#0060ff 0 6px,#0020ff 0 7px,#0010ff 0 8px,#0070ff 0 9px,#0060ff 0 10px,#0010ff 0 11px,#0060ff 0 12px,#0080ff 0 13px,#0050ff 0 14px,#0020ff 0 15px,#0060ff 0 16px,#008fff 0 17px,#0070ff 0 18px,#0030ff 0 20px,#0060ff 0 21px,#0080ff 0 23px,#0070ff 0 24px,#0040ff 0 25px,#0030ff 0 26px,#0020ff 0 27px,#0030ff 0 28px,#0050ff 0 29px,#0060ff 0 31px,#0070ff 0 35px,#0060ff 0 36px,#0050ff 0 37px,#0040ff 0 38px,#0030ff 0 39px,#0020ff 0 40px,#0030ff 0 41px,#0050ff 0 42px,#0070ff 0 43px,#008fff 0 44px,#0080ff 0 45px,#0050ff 0 46px,#0030ff 0 47px,#0040ff 0 48px,#0080ff 0)"></i><i style="left:350px;background:linear-gradient(90deg,#0050ff 0 1px,#0020ff 0 2px,#0070ff 0 3px,#0080ff 0 4px,#0040ff 0 5px,#0020ff 0 6px,#0070ff 0 7px,#0060ff 0 8px,#00f 0 9px,#0040ff 0 10px,#0050ff 0 11px,#0000ef 0 12px,#0020ff 0 13px,#0030ff 0 14px,#0000cf 0 15px,#0000ef 0 16px,#00f 0 17px,#00009f 0 18px,#0000cf 0 21px,#0000bf 0 22px,#0000cf 0 23px,#0010ff 0 24px,#0000cf 0 25px,#0030ff 0 26px,#0060ff 0 27px,#0010ff 0 28px,#008fff 0 29px,#009fff 0 30px,#0070ff 0 31px,#00dfff 0 32px,#0ff 0 33px,#00bfff 0 34px,#40ffbf 0 35px,#60ff9f 0 36px,#20ffdf 0 37px,#70ff8f 0 38px,#bfff40 0 39px,#80ff80 0 40px,#8fff70 0 41px,#ff0 0 43px,#cfff30 0 44px,#ff0 0 45px,#ffaf00 0 46px,#ff9f00 0 47px,#ffdf00 0 48px,#ffcf00 0 49px,#ff8f00 0)"></i><i style="left:400px;background:linear-gradient(90deg,#ff5000 0 1px,#ff6000 0 2px,#ff8000 0 3px,#ff9f00 0 4px,#ff8000 0 5px,#ff5000 0 6px,#ff2000 0 7px,#ff1000 0 9px,#ff2000 0 10px,#ff3000 0 11px,#ff4000 0 12px,#ff5000 0 20px,#ff4000 0 22px,#ff2000 0 23px,#ff1000 0 25px,#ff2000 0 26px,#ff4000 0 27px,#ff7000 0 28px,#ff8f00 0 30px,#ff7000 0 31px,#ff5000 0 32px,#ff7000 0 33px,#ffbf00 0 34px,#ffdf00 0 35px,#ffaf00 0 36px,#ff9f00 0 37px,#ffdf00 0 38px,#cfff30 0 39px,#efff10 0 40px,#ffef00 0 41px,#bfff40 0 42px,#70ff8f 0 43px,#afff50 0 44px,#9fff60 0 45px,#20ffdf 0 46px,#40ffbf 0 47px,#60ff9f 0 48px,#00dfff 0)"></i><i style="left:450px;background:linear-gradient(90deg,#0ff 0 1px,#008fff 0 3px,#00afff 0 4px,#0030ff 0 5px,#0040ff 0 6px,#0050ff 0 7px,#0000cf 0 8px,#0010ff 0 9px,#00f 0 10px,#00009f 0 11px,#0000cf 0 12px,#0000bf 0 13px,#0000df 0 14px,#0000af 0 15px,#0000df 0 16px,#0010ff 0 17px,#0000bf 0 18px,#0010ff 0 19px,#0030ff 0 20px,#0000df 0 21px,#0030ff 0 22px,#0060ff 0 23px,#00f 0 24px,#0030ff 0 25px,#0070ff 0 26px,#0040ff 0 27px,#0020ff 0 28px,#0070ff 0 29px,#0080ff 0 30px,#0040ff 0 31px,#0030ff 0 32px,#0070ff 0 33px,#008fff 0 34px,#0060ff 0 35px,#0030ff 0 36px,#0040ff 0 37px,#0070ff 0 38px,#008fff 0 39px,#0080ff 0 40px,#0060ff 0 41px,#0040ff 0 42px,#0020ff 0 43px,#0030ff 0 44px,#0040ff 0 45px,#0050ff 0 46px,#0060ff 0 48px,#0070ff 0)"></i></div>
<div class="r" style="top:529.10px;height:18.24px"><i style="left:0px;background:linear-gradient(90deg,#0040ff 0 4px,#0030ff 0 12px,#0010ff 0 17px,#0000ef 0 18px,#0000df 0 19px,#0000ef 0 20px,#0000df 0 21px,#0000bf 0 24px,#0000af 0 26px,#00009f 0 27px,#0000bf 0 28px,#0000ef 0 29px,#0000df 0 30px,#00f 0 31px,#0030ff 0 32px,#0020ff 0 33px,#0050ff 0 34px,#008fff 0 35px,#0070ff 0 36px,#00afff 0 37px,#00dfff 0 38px,#00bfff 0 39px,#10ffef 0 40px,#30ffcf 0 41px,#10ffef 0 42px,#80ff80 0 44px,#70ff8f 0 45px,#dfff20 0 46px,#cfff30 0 48px,#ffcf00 0 49px,#ffdf00 0)"></i><i style="left:50px;background:linear-gradient(90deg,#ffdf00 0 1px,#ff8000 0 2px,#ff8f00 0 3px,#ffaf00 0 4px,#ff4000 0 6px,#ff7000 0 7px,#ff4000 0 8px,#ef0000 0 9px,#ff2000 0 10px,#ff4000 0 11px,#f00 0 12px,#bf0000 0 13px,#df0000 0 14px,#ff1000 0 15px,#f00 0 16px,#af0000 0 17px,#9f0000 0 18px,#bf0000 0 19px,#ef0000 0 20px,#f00 0 21px,#df0000 0 22px,#af0000 0 23px,#8f0000 0 24px,#800000 0 25px,#8f0000 0 26px,#af0000 0 27px,#bf0000 0 28px,#cf0000 0 29px,#df0000 0 30px,#ef0000 0 36px,#df0000 0 37px,#cf0000 0 38px,#bf0000 0 39px,#9f0000 0 40px,#8f0000 0 41px,#800000 0 42px,#8f0000 0 43px,#bf0000 0 44px,#ef0000 0 45px,#f00 0 46px,#df0000 0 47px,#af0000 0 48px,#9f0000 0 49px,#cf0000 0)"></i><i style="left:100px;background:linear-gradient(90deg,#ff1000 0 2px,#cf0000 0 4px,#ff1000 0 5px,#ff4000 0 6px,#f00 0 8px,#ff6000 0 10px,#ff3000 0 11px,#ff7000 0 12px,#ffaf00 0 13px,#ff8000 0 14px,#ff9f00 0 15px,#ff0 0 16px,#ffcf00 0 17px,#ffdf00 0 18px,#bfff40 0 19px,#dfff20 0 20px,#bfff40 0 21px,#60ff9f 0 22px,#8fff70 0 23px,#60ff9f 0 24px,#10ffef 0 25px,#30ffcf 0 26px,#00efff 0 27px,#00bfff 0 28px,#00dfff 0 29px,#008fff 0 30px,#0070ff 0 31px,#0080ff 0 32px,#0030ff 0 35px,#0000df 0 38px,#0000af 0 42px,#0000bf 0 43px,#0000af 0 44px,#0000bf 0 45px,#0000ef 0 47px,#0000df 0 48px,#0000ef 0 49px,#0010ff 0)"></i><i style="left:150px;background:linear-gradient(90deg,#0010ff 0 3px,#0020ff 0 4px,#0030ff 0 12px,#0040ff 0 20px,#0030ff 0 28px,#0020ff 0 29px,#0010ff 0 33px,#00f 0 34px,#0000df 0 36px,#0000ef 0 37px,#0000cf 0 38px,#0000af 0 39px,#0000bf 0 41px,#0000af 0 43px,#00009f 0 44px,#0000cf 0 45px,#0000ef 0 46px,#0000cf 0 47px,#0010ff 0 48px,#0030ff 0 49px,#0020ff 0)"></i><i style="left:200px;background:linear-gradient(90deg,#0070ff 0 1px,#0080ff 0 2px,#0070ff 0 3px,#00cfff 0 6px,#30ffcf 0 7px,#20ffdf 0 8px,#30ffcf 0 9px,#8fff70 0 10px,#70ff8f 0 11px,#9fff60 0 12px,#efff10 0 13px,#bfff40 0 14px,#efff10 0 15px,#ffbf00 0 16px,#ff0 0 17px,#ffbf00 0 18px,#ff7000 0 19px,#ffaf00 0 20px,#ff8f00 0 21px,#ff3000 0 22px,#ff5000 0 23px,#ff7000 0 24px,#ff1000 0 25px,#ef0000 0 26px,#ff3000 0 28px,#df0000 0 29px,#bf0000 0 30px,#f00 0 31px,#ff1000 0 32px,#df0000 0 33px,#9f0000 0 35px,#cf0000 0 36px,#f00 0 37px,#ef0000 0 38px,#cf0000 0 39px,#9f0000 0 40px,#8f0000 0 42px,#9f0000 0 43px,#af0000 0 44px,#cf0000 0 45px,#df0000 0 47px,#ef0000 0)"></i><i style="left:250px;background:linear-gradient(90deg,#ef0000 0 2px,#df0000 0 4px,#cf0000 0 5px,#af0000 0 6px,#9f0000 0 7px,#8f0000 0 9px,#9f0000 0 10px,#cf0000 0 11px,#ef0000 0 12px,#f00 0 13px,#cf0000 0 14px,#9f0000 0 16px,#df0000 0 17px,#ff1000 0 18px,#f00 0 19px,#bf0000 0 20px,#df0000 0 21px,#ff3000 0 23px,#ef0000 0 24px,#ff1000 0 25px,#ff7000 0 26px,#ff5000 0 27px,#ff3000 0 28px,#ff8f00 0 29px,#ffaf00 0 30px,#ff7000 0 31px,#ffbf00 0 32px,#ff0 0 33px,#ffbf00 0 34px,#efff10 0 35px,#bfff40 0 36px,#efff10 0 37px,#9fff60 0 38px,#70ff8f 0 39px,#8fff70 0 40px,#30ffcf 0 41px,#20ffdf 0 42px,#30ffcf 0 43px,#00cfff 0 46px,#0070ff 0 47px,#0080ff 0 48px,#0070ff 0 49px,#0020ff 0)"></i><i style="left:300px;background:linear-gradient(90deg,#0030ff 0 1px,#0010ff 0 2px,#0000cf 0 3px,#0000ef 0 4px,#0000cf 0 5px,#00009f 0 6px,#0000af 0 8px,#0000bf 0 10px,#0000af 0 11px,#0000cf 0 12px,#0000ef 0 13px,#0000df 0 15px,#00f 0 16px,#0010ff 0 20px,#0020ff 0 21px,#0030ff 0 29px,#0040ff 0 37px,#0030ff 0 45px,#0020ff 0 46px,#0010ff 0)"></i><i style="left:350px;background:linear-gradient(90deg,#0000ef 0 1px,#0000df 0 2px,#0000ef 0 4px,#0000bf 0 5px,#0000af 0 6px,#0000bf 0 7px,#0000af 0 11px,#0000df 0 14px,#0030ff 0 17px,#0080ff 0 18px,#0070ff 0 19px,#008fff 0 20px,#00dfff 0 21px,#00bfff 0 22px,#00efff 0 23px,#30ffcf 0 24px,#10ffef 0 25px,#60ff9f 0 26px,#8fff70 0 27px,#60ff9f 0 28px,#bfff40 0 29px,#dfff20 0 30px,#bfff40 0 31px,#ffdf00 0 32px,#ffcf00 0 33px,#ff0 0 34px,#ff9f00 0 35px,#ff8000 0 36px,#ffaf00 0 37px,#ff7000 0 38px,#ff3000 0 39px,#ff6000 0 41px,#f00 0 43px,#ff4000 0 44px,#ff1000 0 45px,#cf0000 0 47px,#ff1000 0 49px,#cf0000 0)"></i><i style="left:400px;background:linear-gradient(90deg,#9f0000 0 1px,#af0000 0 2px,#df0000 0 3px,#f00 0 4px,#ef0000 0 5px,#bf0000 0 6px,#8f0000 0 7px,#800000 0 8px,#8f0000 0 9px,#9f0000 0 10px,#bf0000 0 11px,#cf0000 0 12px,#df0000 0 13px,#ef0000 0 19px,#df0000 0 20px,#cf0000 0 21px,#bf0000 0 22px,#af0000 0 23px,#8f0000 0 24px,#800000 0 25px,#8f0000 0 26px,#af0000 0 27px,#df0000 0 28px,#f00 0 29px,#ef0000 0 30px,#bf0000 0 31px,#9f0000 0 32px,#af0000 0 33px,#f00 0 34px,#ff1000 0 35px,#df0000 0 36px,#bf0000 0 37px,#f00 0 38px,#ff4000 0 39px,#ff2000 0 40px,#ef0000 0 41px,#ff4000 0 42px,#ff7000 0 43px,#ff4000 0 45px,#ffaf00 0 46px,#ff8f00 0 47px,#ff8000 0 48px,#ffdf00 0)"></i><i style="left:450px;background:linear-gradient(90deg,#ffcf00 0 1px,#cfff30 0 3px,#dfff20 0 4px,#70ff8f 0 5px,#80ff80 0 7px,#10ffef 0 8px,#30ffcf 0 9px,#10ffef 0 10px,#00bfff 0 11px,#00dfff 0 12px,#00afff 0 13px,#0070ff 0 14px,#008fff 0 15px,#0050ff 0 16px,#0020ff 0 17px,#0030ff 0 18px,#00f 0 19px,#0000df 0 20px,#0000ef 0 21px,#0000bf 0 22px,#00009f 0 23px,#0000af 0 25px,#0000bf 0 28px,#0000df 0 29px,#0000ef 0 30px,#0000df 0 31px,#0000ef 0 32px,#0010ff 0 37px,#0030ff 0 45px,#0040ff 0)"></i></div>
<div class="r" style="top:546.73px;height:35.87px"><i style="left:0px;background:linear-gradient(90deg,#0000af 0 3px,#0000bf 0 5px,#0000af 0 9px,#0000bf 0 10px,#0000cf 0 12px,#0000bf 0 13px,#0000af 0 14px,#0000df 0 15px,#0010ff 0 17px,#0000ef 0 18px,#0010ff 0 19px,#0040ff 0 20px,#0050ff 0 21px,#0040ff 0 22px,#0060ff 0 23px,#009fff 0 24px,#008fff 0 25px,#009fff 0 26px,#00dfff 0 27px,#00efff 0 29px,#30ffcf 0 30px,#40ffbf 0 32px,#80ff80 0 33px,#8fff70 0 34px,#9fff60 0 35px,#cfff30 0 36px,#dfff20 0 37px,#ff0 0 38px,#ffdf00 0 39px,#ffcf00 0 40px,#ffaf00 0 41px,#ff8f00 0 42px,#ff8000 0 43px,#ff6000 0 44px,#ff5000 0 45px,#ff4000 0 46px,#ff3000 0 47px,#ff2000 0 48px,#f00 0)"></i><i style="left:50px;background:linear-gradient(90deg,#ef0000 0 1px,#df0000 0 2px,#cf0000 0 3px,#df0000 0 4px,#bf0000 0 6px,#cf0000 0 7px,#bf0000 0 8px,#af0000 0 9px,#bf0000 0 10px,#cf0000 0 11px,#bf0000 0 12px,#af0000 0 13px,#bf0000 0 14px,#df0000 0 15px,#cf0000 0 16px,#bf0000 0 18px,#cf0000 0 19px,#ef0000 0 20px,#f00 0 21px,#ef0000 0 22px,#df0000 0 25px,#ef0000 0 26px,#f00 0 27px,#ff1000 0 29px,#ff2000 0 37px,#ff1000 0 38px,#f00 0 39px,#ef0000 0 40px,#df0000 0 43px,#ef0000 0 44px,#f00 0 46px,#ef0000 0 47px,#cf0000 0 48px,#bf0000 0 49px,#cf0000 0)"></i><i style="left:100px;background:linear-gradient(90deg,#df0000 0 1px,#cf0000 0 2px,#af0000 0 4px,#bf0000 0 5px,#cf0000 0 6px,#af0000 0 8px,#bf0000 0 9px,#cf0000 0 10px,#bf0000 0 11px,#cf0000 0 12px,#df0000 0 13px,#cf0000 0 14px,#df0000 0 15px,#ef0000 0 16px,#f00 0 17px,#ff1000 0 18px,#ff2000 0 19px,#ff3000 0 20px,#ff4000 0 21px,#ff5000 0 22px,#ff7000 0 23px,#ff8000 0 24px,#ff9f00 0 25px,#ffbf00 0 26px,#ffcf00 0 27px,#ffdf00 0 28px,#efff10 0 29px,#dfff20 0 30px,#bfff40 0 31px,#8fff70 0 33px,#70ff8f 0 34px,#40ffbf 0 36px,#10ffef 0 37px,#00dfff 0 38px,#00efff 0 39px,#00cfff 0 40px,#008fff 0 41px,#009fff 0 42px,#008fff 0 43px,#0050ff 0 44px,#0040ff 0 45px,#0050ff 0 46px,#0030ff 0 47px,#00f 0 49px,#0010ff 0)"></i><i style="left:150px;background:linear-gradient(90deg,#00f 0 1px,#0000cf 0 2px,#0000af 0 3px,#0000bf 0 4px,#0000cf 0 6px,#0000bf 0 7px,#0000af 0 10px,#0000bf 0 13px,#0000af 0 20px,#0000bf 0 22px,#0000af 0 25px,#0000bf 0 26px,#0000cf 0 29px,#0000af 0 30px,#0000bf 0 31px,#0000ef 0 32px,#0010ff 0 33px,#00f 0 34px,#0000ef 0 35px,#0020ff 0 36px,#0050ff 0 38px,#0040ff 0 39px,#0080ff 0 40px,#009fff 0 41px,#008fff 0 42px,#00afff 0 43px,#00efff 0 44px,#00dfff 0 45px,#0ff 0 46px,#40ffbf 0 48px,#50ffaf 0 49px,#8fff70 0)"></i><i style="left:200px;background:linear-gradient(90deg,#8fff70 0 1px,#afff50 0 2px,#dfff20 0 4px,#ffef00 0 5px,#ffcf00 0 6px,#ffbf00 0 7px,#ff9f00 0 8px,#ff8f00 0 9px,#ff7000 0 10px,#ff6000 0 11px,#ff5000 0 12px,#ff3000 0 13px,#ff2000 0 14px,#ff1000 0 15px,#f00 0 17px,#ef0000 0 18px,#cf0000 0 19px,#df0000 0 20px,#cf0000 0 21px,#bf0000 0 23px,#cf0000 0 24px,#af0000 0 26px,#bf0000 0 27px,#cf0000 0 28px,#af0000 0 30px,#cf0000 0 31px,#df0000 0 32px,#cf0000 0 33px,#bf0000 0 35px,#df0000 0 36px,#ef0000 0 37px,#f00 0 38px,#ef0000 0 39px,#df0000 0 42px,#ef0000 0 43px,#f00 0 44px,#ff1000 0 45px,#ff2000 0)"></i><i style="left:250px;background:linear-gradient(90deg,#ff2000 0 4px,#ff1000 0 5px,#f00 0 6px,#ef0000 0 7px,#df0000 0 10px,#ef0000 0 11px,#f00 0 12px,#ef0000 0 13px,#df0000 0 14px,#bf0000 0 16px,#cf0000 0 17px,#df0000 0 18px,#cf0000 0 19px,#af0000 0 21px,#cf0000 0 22px,#bf0000 0 23px,#af0000 0 25px,#cf0000 0 26px,#bf0000 0 28px,#cf0000 0 29px,#df0000 0 30px,#cf0000 0 31px,#ef0000 0 32px,#f00 0 34px,#ff1000 0 35px,#ff2000 0 36px,#ff3000 0 37px,#ff5000 0 38px,#ff6000 0 39px,#ff7000 0 40px,#ff8f00 0 41px,#ff9f00 0 42px,#ffbf00 0 43px,#ffcf00 0 44px,#ffef00 0 45px,#dfff20 0 47px,#afff50 0 48px,#8fff70 0)"></i><i style="left:300px;background:linear-gradient(90deg,#50ffaf 0 1px,#40ffbf 0 3px,#0ff 0 4px,#00dfff 0 5px,#00efff 0 6px,#00afff 0 7px,#008fff 0 8px,#009fff 0 9px,#0080ff 0 10px,#0040ff 0 11px,#0050ff 0 13px,#0020ff 0 14px,#0000ef 0 15px,#00f 0 16px,#0010ff 0 17px,#0000ef 0 18px,#0000bf 0 19px,#0000af 0 20px,#0000cf 0 23px,#0000bf 0 24px,#0000af 0 27px,#0000bf 0 29px,#0000af 0 36px,#0000bf 0 39px,#0000af 0 42px,#0000bf 0 43px,#0000cf 0 45px,#0000bf 0 46px,#0000af 0 47px,#0000cf 0 48px,#00f 0 49px,#0010ff 0)"></i><i style="left:350px;background:linear-gradient(90deg,#00f 0 2px,#0030ff 0 3px,#0050ff 0 4px,#0040ff 0 5px,#0050ff 0 6px,#008fff 0 7px,#009fff 0 8px,#008fff 0 9px,#00cfff 0 10px,#00efff 0 11px,#00dfff 0 12px,#10ffef 0 13px,#40ffbf 0 15px,#70ff8f 0 16px,#8fff70 0 18px,#bfff40 0 19px,#dfff20 0 20px,#efff10 0 21px,#ffdf00 0 22px,#ffcf00 0 23px,#ffbf00 0 24px,#ff9f00 0 25px,#ff8000 0 26px,#ff7000 0 27px,#ff5000 0 28px,#ff4000 0 29px,#ff3000 0 30px,#ff2000 0 31px,#ff1000 0 32px,#f00 0 33px,#ef0000 0 34px,#df0000 0 35px,#cf0000 0 36px,#df0000 0 37px,#cf0000 0 38px,#bf0000 0 39px,#cf0000 0 40px,#bf0000 0 41px,#af0000 0 43px,#cf0000 0 44px,#bf0000 0 45px,#af0000 0 47px,#cf0000 0 48px,#df0000 0 49px,#cf0000 0)"></i><i style="left:400px;background:linear-gradient(90deg,#bf0000 0 1px,#cf0000 0 2px,#ef0000 0 3px,#f00 0 5px,#ef0000 0 6px,#df0000 0 9px,#ef0000 0 10px,#f00 0 11px,#ff1000 0 12px,#ff2000 0 20px,#ff1000 0 22px,#f00 0 23px,#ef0000 0 24px,#df0000 0 27px,#ef0000 0 28px,#f00 0 29px,#ef0000 0 30px,#cf0000 0 31px,#bf0000 0 33px,#cf0000 0 34px,#df0000 0 35px,#bf0000 0 36px,#af0000 0 37px,#bf0000 0 38px,#cf0000 0 39px,#bf0000 0 40px,#af0000 0 41px,#bf0000 0 42px,#cf0000 0 43px,#bf0000 0 45px,#df0000 0 46px,#cf0000 0 47px,#df0000 0 48px,#ef0000 0 49px,#f00 0)"></i><i style="left:450px;background:linear-gradient(90deg,#f00 0 1px,#ff2000 0 2px,#ff3000 0 3px,#ff4000 0 4px,#ff5000 0 5px,#ff6000 0 6px,#ff8000 0 7px,#ff8f00 0 8px,#ffaf00 0 9px,#ffcf00 0 10px,#ffdf00 0 11px,#ff0 0 12px,#dfff20 0 13px,#cfff30 0 14px,#9fff60 0 15px,#8fff70 0 16px,#80ff80 0 17px,#40ffbf 0 19px,#30ffcf 0 20px,#00efff 0 22px,#00dfff 0 23px,#009fff 0 24px,#008fff 0 25px,#009fff 0 26px,#0060ff 0 27px,#0040ff 0 28px,#0050ff 0 29px,#0040ff 0 30px,#0010ff 0 31px,#0000ef 0 32px,#0010ff 0 34px,#0000df 0 35px,#0000af 0 36px,#0000bf 0 37px,#0000cf 0 39px,#0000bf 0 40px,#0000af 0 44px,#0000bf 0 46px,#0000af 0)"></i></div>
<div class="r" style="top:582.01px;height:18.24px"><i style="left:0px;background:linear-gradient(90deg,#00afff 0 2px,#009fff 0 3px,#008fff 0 4px,#0080ff 0 5px,#0070ff 0 7px,#008fff 0 8px,#00bfff 0 9px,#0ff 0 10px,#10ffef 0 11px,#0ff 0 12px,#00cfff 0 13px,#00bfff 0 14px,#10ffef 0 15px,#60ff9f 0 16px,#50ffaf 0 17px,#10ffef 0 18px,#30ffcf 0 19px,#9fff60 0 20px,#afff50 0 21px,#60ff9f 0 22px,#9fff60 0 23px,#ff0 0 24px,#cfff30 0 25px,#bfff40 0 26px,#ffbf00 0 27px,#ffcf00 0 28px,#ff0 0 29px,#ff8000 0 31px,#ffbf00 0 32px,#ff4000 0 33px,#ff5000 0 34px,#ff7000 0 35px,#f00 0 36px,#ff2000 0 37px,#ff3000 0 38px,#cf0000 0 39px,#ff1000 0 40px,#ef0000 0 41px,#af0000 0 42px,#ef0000 0 43px,#bf0000 0 44px,#9f0000 0 45px,#ef0000 0 46px,#af0000 0 47px,#9f0000 0 48px,#df0000 0 49px,#af0000 0)"></i><i style="left:50px;background:linear-gradient(90deg,#9f0000 0 1px,#ef0000 0 2px,#cf0000 0 3px,#af0000 0 4px,#f00 0 6px,#cf0000 0 7px,#f00 0 8px,#ff3000 0 9px,#ff2000 0 10px,#ff1000 0 11px,#ff4000 0 12px,#ff6000 0 14px,#ff5000 0 15px,#ff6000 0 16px,#ff8f00 0 17px,#ff9f00 0 19px,#ff8f00 0 20px,#ff9f00 0 21px,#ffaf00 0 22px,#ffcf00 0 23px,#ffdf00 0 24px,#ffef00 0 42px,#ffdf00 0 43px,#ffbf00 0 44px,#ffaf00 0 45px,#ff8f00 0 47px,#ff9f00 0 49px,#ff8000 0)"></i><i style="left:100px;background:linear-gradient(90deg,#ff5000 0 2px,#ff6000 0 4px,#ff2000 0 5px,#ff1000 0 6px,#ff2000 0 8px,#ef0000 0 9px,#df0000 0 10px,#ff1000 0 11px,#df0000 0 12px,#af0000 0 13px,#df0000 0 15px,#9f0000 0 16px,#cf0000 0 18px,#8f0000 0 19px,#cf0000 0 21px,#8f0000 0 22px,#ef0000 0 23px,#df0000 0 24px,#af0000 0 25px,#ff1000 0 26px,#df0000 0 28px,#ff4000 0 29px,#f00 0 30px,#ff2000 0 31px,#ff8000 0 32px,#ff3000 0 33px,#ff7000 0 34px,#ffbf00 0 35px,#ff7000 0 36px,#ffaf00 0 37px,#ff0 0 38px,#ffaf00 0 39px,#ffef00 0 40px,#afff50 0 41px,#efff10 0 43px,#70ff8f 0 45px,#afff50 0 46px,#80ff80 0 47px,#10ffef 0 48px,#20ffdf 0 49px,#60ff9f 0)"></i><i style="left:150px;background:linear-gradient(90deg,#50ffaf 0 1px,#00efff 0 2px,#00afff 0 3px,#00dfff 0 4px,#10ffef 0 6px,#00efff 0 7px,#00afff 0 8px,#0080ff 0 9px,#0060ff 0 10px,#0070ff 0 11px,#0080ff 0 12px,#008fff 0 13px,#009fff 0 14px,#00afff 0 19px,#009fff 0 20px,#008fff 0 21px,#0070ff 0 22px,#0060ff 0 23px,#0070ff 0 24px,#009fff 0 25px,#00dfff 0 26px,#10ffef 0 28px,#00efff 0 29px,#00bfff 0 30px,#00cfff 0 31px,#30ffcf 0 32px,#60ff9f 0 33px,#40ffbf 0 34px,#10ffef 0 35px,#50ffaf 0 36px,#afff50 0 37px,#8fff70 0 38px,#60ff9f 0 39px,#cfff30 0 40px,#ff0 0 41px,#afff50 0 42px,#dfff20 0 43px,#ffaf00 0 44px,#ffef00 0 45px,#ffdf00 0 46px,#ff7000 0 47px,#ff9f00 0 49px,#ff3000 0)"></i><i style="left:200px;background:linear-gradient(90deg,#ff7000 0 1px,#ff5000 0 2px,#ef0000 0 3px,#ff4000 0 4px,#f00 0 5px,#cf0000 0 6px,#ff2000 0 7px,#cf0000 0 8px,#bf0000 0 9px,#f00 0 10px,#9f0000 0 11px,#af0000 0 12px,#df0000 0 13px,#8f0000 0 14px,#af0000 0 15px,#df0000 0 16px,#9f0000 0 17px,#bf0000 0 18px,#ef0000 0 19px,#bf0000 0 21px,#f00 0 22px,#ef0000 0 23px,#df0000 0 24px,#ff1000 0 25px,#ff3000 0 26px,#ff1000 0 28px,#ff5000 0 29px,#ff6000 0 30px,#ff5000 0 32px,#ff7000 0 33px,#ff9f00 0 36px,#ff8f00 0 37px,#ff9f00 0 38px,#ffbf00 0 39px,#ffcf00 0 40px,#ffef00 0)"></i><i style="left:250px;background:linear-gradient(90deg,#ffef00 0 9px,#ffcf00 0 10px,#ffbf00 0 11px,#ff9f00 0 12px,#ff8f00 0 13px,#ff9f00 0 16px,#ff7000 0 17px,#ff5000 0 19px,#ff6000 0 20px,#ff5000 0 21px,#ff1000 0 23px,#ff3000 0 24px,#ff1000 0 25px,#df0000 0 26px,#ef0000 0 27px,#f00 0 28px,#bf0000 0 30px,#ef0000 0 31px,#bf0000 0 32px,#9f0000 0 33px,#df0000 0 34px,#af0000 0 35px,#8f0000 0 36px,#df0000 0 37px,#af0000 0 38px,#9f0000 0 39px,#f00 0 40px,#bf0000 0 41px,#cf0000 0 42px,#ff2000 0 43px,#cf0000 0 44px,#f00 0 45px,#ff4000 0 46px,#ef0000 0 47px,#ff5000 0 48px,#ff7000 0 49px,#ff3000 0)"></i><i style="left:300px;background:linear-gradient(90deg,#ff9f00 0 2px,#ff7000 0 3px,#ffdf00 0 4px,#ffef00 0 5px,#ffaf00 0 6px,#dfff20 0 7px,#afff50 0 8px,#ff0 0 9px,#cfff30 0 10px,#60ff9f 0 11px,#8fff70 0 12px,#afff50 0 13px,#50ffaf 0 14px,#10ffef 0 15px,#40ffbf 0 16px,#60ff9f 0 17px,#30ffcf 0 18px,#00cfff 0 19px,#00bfff 0 20px,#00efff 0 21px,#10ffef 0 23px,#00dfff 0 24px,#009fff 0 25px,#0070ff 0 26px,#0060ff 0 27px,#0070ff 0 28px,#008fff 0 29px,#009fff 0 30px,#00afff 0 35px,#009fff 0 36px,#008fff 0 37px,#0080ff 0 38px,#0070ff 0 39px,#0060ff 0 40px,#0080ff 0 41px,#00afff 0 42px,#00efff 0 43px,#10ffef 0 45px,#00dfff 0 46px,#00afff 0 47px,#00efff 0 48px,#50ffaf 0 49px,#60ff9f 0)"></i><i style="left:350px;background:linear-gradient(90deg,#20ffdf 0 1px,#10ffef 0 2px,#80ff80 0 3px,#afff50 0 4px,#70ff8f 0 6px,#efff10 0 8px,#afff50 0 9px,#ffef00 0 10px,#ffaf00 0 11px,#ff0 0 12px,#ffaf00 0 13px,#ff7000 0 14px,#ffbf00 0 15px,#ff7000 0 16px,#ff3000 0 17px,#ff8000 0 18px,#ff2000 0 19px,#f00 0 20px,#ff4000 0 21px,#df0000 0 23px,#ff1000 0 24px,#af0000 0 25px,#df0000 0 26px,#ef0000 0 27px,#8f0000 0 28px,#cf0000 0 30px,#8f0000 0 31px,#cf0000 0 33px,#9f0000 0 34px,#df0000 0 36px,#af0000 0 37px,#df0000 0 38px,#ff1000 0 39px,#df0000 0 40px,#ef0000 0 41px,#ff2000 0 43px,#ff1000 0 44px,#ff2000 0 45px,#ff6000 0 47px,#ff5000 0 49px,#ff8000 0)"></i><i style="left:400px;background:linear-gradient(90deg,#ff9f00 0 2px,#ff8f00 0 4px,#ffaf00 0 5px,#ffbf00 0 6px,#ffdf00 0 7px,#ffef00 0 25px,#ffdf00 0 26px,#ffcf00 0 27px,#ffaf00 0 28px,#ff9f00 0 29px,#ff8f00 0 30px,#ff9f00 0 32px,#ff8f00 0 33px,#ff6000 0 34px,#ff5000 0 35px,#ff6000 0 37px,#ff4000 0 38px,#ff1000 0 39px,#ff2000 0 40px,#ff3000 0 41px,#f00 0 42px,#cf0000 0 43px,#f00 0 45px,#af0000 0 46px,#cf0000 0 47px,#ef0000 0 48px,#9f0000 0 49px,#af0000 0)"></i><i style="left:450px;background:linear-gradient(90deg,#df0000 0 1px,#9f0000 0 2px,#af0000 0 3px,#ef0000 0 4px,#9f0000 0 5px,#bf0000 0 6px,#ef0000 0 7px,#af0000 0 8px,#ef0000 0 9px,#ff1000 0 10px,#cf0000 0 11px,#ff3000 0 12px,#ff2000 0 13px,#f00 0 14px,#ff7000 0 15px,#ff5000 0 16px,#ff4000 0 17px,#ffbf00 0 18px,#ff8000 0 20px,#ff0 0 21px,#ffcf00 0 22px,#ffbf00 0 23px,#bfff40 0 24px,#cfff30 0 25px,#ff0 0 26px,#9fff60 0 27px,#60ff9f 0 28px,#afff50 0 29px,#9fff60 0 30px,#30ffcf 0 31px,#10ffef 0 32px,#50ffaf 0 33px,#60ff9f 0 34px,#10ffef 0 35px,#00bfff 0 36px,#00cfff 0 37px,#0ff 0 38px,#10ffef 0 39px,#0ff 0 40px,#00bfff 0 41px,#008fff 0 42px,#0070ff 0 44px,#0080ff 0 45px,#008fff 0 46px,#009fff 0 47px,#00afff 0)"></i></div>
<div class="r" style="top:599.64px;height:18.24px"><i style="left:0px;background:linear-gradient(90deg,#efff10 0 2px,#dfff20 0 3px,#cfff30 0 4px,#bfff40 0 5px,#afff50 0 7px,#cfff30 0 8px,#ff0 0 9px,#ffcf00 0 10px,#ffaf00 0 11px,#ffcf00 0 12px,#ff0 0 14px,#ffbf00 0 15px,#ff7000 0 16px,#ff8000 0 17px,#ffbf00 0 18px,#ff9f00 0 19px,#ff4000 0 21px,#ff8f00 0 22px,#ff5000 0 23px,#ef0000 0 24px,#ff3000 0 25px,#ff5000 0 26px,#cf0000 0 27px,#ef0000 0 28px,#ff3000 0 29px,#af0000 0 30px,#bf0000 0 31px,#ff1000 0 32px,#8f0000 0 33px,#af0000 0 34px,#f00 0 35px,#800000 0 36px,#bf0000 0 37px,#ef0000 0 38px,#800000 0 39px,#df0000 0 41px,#8f0000 0 42px,#ff1000 0 43px,#df0000 0 44px,#af0000 0 45px,#ff4000 0 46px,#f00 0 47px,#ef0000 0 48px,#ff7000 0 49px,#ff3000 0)"></i><i style="left:50px;background:linear-gradient(90deg,#ff2000 0 1px,#ffaf00 0 2px,#ff8000 0 3px,#ff5000 0 4px,#ffcf00 0 5px,#ffdf00 0 6px,#ff8f00 0 7px,#ffdf00 0 8px,#bfff40 0 9px,#efff10 0 10px,#ffef00 0 11px,#afff50 0 12px,#60ff9f 0 13px,#8fff70 0 14px,#bfff40 0 15px,#8fff70 0 16px,#30ffcf 0 17px,#10ffef 0 18px,#30ffcf 0 19px,#50ffaf 0 21px,#30ffcf 0 22px,#00efff 0 23px,#00bfff 0 24px,#00afff 0 25px,#00bfff 0 26px,#00cfff 0 27px,#00dfff 0 28px,#00efff 0 30px,#0ff 0 36px,#00efff 0 38px,#00dfff 0 39px,#00bfff 0 40px,#00afff 0 42px,#00cfff 0 43px,#0ff 0 44px,#40ffbf 0 45px,#60ff9f 0 46px,#50ffaf 0 47px,#20ffdf 0 48px,#10ffef 0 49px,#50ffaf 0)"></i><i style="left:100px;background:linear-gradient(90deg,#9fff60 0 1px,#afff50 0 2px,#70ff8f 0 4px,#dfff20 0 5px,#ffef00 0 6px,#cfff30 0 8px,#ffbf00 0 9px,#ff9f00 0 10px,#ffef00 0 11px,#ff9f00 0 12px,#ff5000 0 13px,#ff9f00 0 14px,#ff8000 0 15px,#ff1000 0 16px,#ff5000 0 18px,#cf0000 0 19px,#ff2000 0 20px,#ff1000 0 21px,#9f0000 0 22px,#ff1000 0 23px,#df0000 0 24px,#8f0000 0 25px,#f00 0 26px,#af0000 0 27px,#8f0000 0 28px,#f00 0 29px,#8f0000 0 30px,#9f0000 0 31px,#f00 0 32px,#8f0000 0 33px,#bf0000 0 34px,#ff1000 0 35px,#9f0000 0 36px,#df0000 0 37px,#ff3000 0 38px,#cf0000 0 39px,#f00 0 40px,#ff6000 0 41px,#ff1000 0 42px,#f00 0 43px,#ff8000 0 44px,#ff7000 0 45px,#ff3000 0 46px,#ff6000 0 47px,#ffbf00 0 48px,#ffaf00 0 49px,#ff7000 0)"></i><i style="left:150px;background:linear-gradient(90deg,#ff8000 0 1px,#ffdf00 0 2px,#efff10 0 3px,#ffef00 0 4px,#ffbf00 0 5px,#ffaf00 0 6px,#ffdf00 0 7px,#efff10 0 8px,#bfff40 0 9px,#afff50 0 11px,#bfff40 0 12px,#cfff30 0 13px,#dfff20 0 14px,#efff10 0 18px,#dfff20 0 20px,#cfff30 0 21px,#bfff40 0 22px,#afff50 0 24px,#dfff20 0 25px,#ffef00 0 26px,#ffbf00 0 27px,#ffaf00 0 28px,#ffdf00 0 29px,#ff0 0 30px,#ffef00 0 31px,#ff9f00 0 32px,#ff7000 0 33px,#ff8f00 0 34px,#ffcf00 0 35px,#ff8000 0 36px,#ff3000 0 37px,#ff5000 0 38px,#ff8f00 0 39px,#ff3000 0 40px,#ef0000 0 41px,#ff5000 0 42px,#ff2000 0 43px,#bf0000 0 44px,#ff1000 0 46px,#9f0000 0 47px,#ef0000 0 49px,#800000 0)"></i><i style="left:200px;background:linear-gradient(90deg,#df0000 0 1px,#cf0000 0 2px,#800000 0 3px,#ef0000 0 4px,#bf0000 0 5px,#800000 0 6px,#f00 0 7px,#af0000 0 9px,#ff2000 0 10px,#af0000 0 11px,#df0000 0 12px,#ff4000 0 13px,#cf0000 0 14px,#ff2000 0 15px,#ff7000 0 16px,#ff1000 0 17px,#ff5000 0 18px,#ffaf00 0 19px,#ff6000 0 20px,#ff7000 0 21px,#ffef00 0 22px,#ffbf00 0 23px,#ff9f00 0 24px,#efff10 0 25px,#bfff40 0 26px,#ff0 0 28px,#8fff70 0 29px,#60ff9f 0 30px,#9fff60 0 31px,#afff50 0 32px,#70ff8f 0 33px,#20ffdf 0 34px,#10ffef 0 35px,#40ffbf 0 36px,#60ff9f 0 37px,#50ffaf 0 38px,#20ffdf 0 39px,#00dfff 0 40px,#00afff 0 42px,#00bfff 0 43px,#00cfff 0 44px,#00dfff 0 45px,#00efff 0 46px,#0ff 0)"></i><i style="left:250px;background:linear-gradient(90deg,#0ff 0 3px,#00efff 0 4px,#00dfff 0 5px,#00cfff 0 6px,#00bfff 0 7px,#00afff 0 9px,#00dfff 0 10px,#20ffdf 0 11px,#50ffaf 0 12px,#60ff9f 0 13px,#40ffbf 0 14px,#10ffef 0 15px,#20ffdf 0 16px,#70ff8f 0 17px,#afff50 0 18px,#9fff60 0 19px,#60ff9f 0 20px,#8fff70 0 21px,#ff0 0 23px,#bfff40 0 24px,#efff10 0 25px,#ff9f00 0 26px,#ffbf00 0 27px,#ffef00 0 28px,#ff7000 0 29px,#ff6000 0 30px,#ffaf00 0 31px,#ff5000 0 32px,#ff1000 0 33px,#ff7000 0 34px,#ff2000 0 35px,#cf0000 0 36px,#ff4000 0 37px,#df0000 0 38px,#af0000 0 39px,#ff2000 0 40px,#af0000 0 42px,#f00 0 43px,#800000 0 44px,#bf0000 0 45px,#ef0000 0 46px,#800000 0 47px,#cf0000 0 48px,#df0000 0 49px,#800000 0)"></i><i style="left:300px;background:linear-gradient(90deg,#ef0000 0 2px,#9f0000 0 3px,#ff1000 0 5px,#bf0000 0 6px,#ff2000 0 7px,#ff5000 0 8px,#ef0000 0 9px,#ff3000 0 10px,#ff8f00 0 11px,#ff5000 0 12px,#ff3000 0 13px,#ff8000 0 14px,#ffcf00 0 15px,#ff8f00 0 16px,#ff7000 0 17px,#ff9f00 0 18px,#ffef00 0 19px,#ff0 0 20px,#ffdf00 0 21px,#ffaf00 0 22px,#ffbf00 0 23px,#ffef00 0 24px,#dfff20 0 25px,#afff50 0 27px,#bfff40 0 28px,#cfff30 0 29px,#dfff20 0 31px,#efff10 0 35px,#dfff20 0 36px,#cfff30 0 37px,#bfff40 0 38px,#afff50 0 40px,#bfff40 0 41px,#efff10 0 42px,#ffdf00 0 43px,#ffaf00 0 44px,#ffbf00 0 45px,#ffef00 0 46px,#efff10 0 47px,#ffdf00 0 48px,#ff8000 0 49px,#ff7000 0)"></i><i style="left:350px;background:linear-gradient(90deg,#ffaf00 0 1px,#ffbf00 0 2px,#ff6000 0 3px,#ff3000 0 4px,#ff7000 0 5px,#ff8000 0 6px,#f00 0 7px,#ff1000 0 8px,#ff6000 0 9px,#f00 0 10px,#cf0000 0 11px,#ff3000 0 12px,#df0000 0 13px,#9f0000 0 14px,#ff1000 0 15px,#bf0000 0 16px,#8f0000 0 17px,#f00 0 18px,#9f0000 0 19px,#8f0000 0 20px,#f00 0 21px,#8f0000 0 22px,#af0000 0 23px,#f00 0 24px,#8f0000 0 25px,#df0000 0 26px,#ff1000 0 27px,#9f0000 0 28px,#ff1000 0 29px,#ff2000 0 30px,#cf0000 0 31px,#ff5000 0 33px,#ff1000 0 34px,#ff8000 0 35px,#ff9f00 0 36px,#ff5000 0 37px,#ff9f00 0 38px,#ffef00 0 39px,#ff9f00 0 40px,#ffbf00 0 41px,#cfff30 0 43px,#ffef00 0 44px,#dfff20 0 45px,#70ff8f 0 47px,#afff50 0 48px,#9fff60 0 49px,#50ffaf 0)"></i><i style="left:400px;background:linear-gradient(90deg,#10ffef 0 1px,#20ffdf 0 2px,#50ffaf 0 3px,#60ff9f 0 4px,#40ffbf 0 5px,#0ff 0 6px,#00cfff 0 7px,#00afff 0 9px,#00bfff 0 10px,#00dfff 0 11px,#00efff 0 13px,#0ff 0 19px,#00efff 0 21px,#00dfff 0 22px,#00cfff 0 23px,#00bfff 0 24px,#00afff 0 25px,#00bfff 0 26px,#00efff 0 27px,#30ffcf 0 28px,#50ffaf 0 30px,#30ffcf 0 31px,#10ffef 0 32px,#30ffcf 0 33px,#8fff70 0 34px,#bfff40 0 35px,#8fff70 0 36px,#60ff9f 0 37px,#afff50 0 38px,#ffef00 0 39px,#efff10 0 40px,#bfff40 0 41px,#ffdf00 0 42px,#ff8f00 0 43px,#ffdf00 0 44px,#ffcf00 0 45px,#ff5000 0 46px,#ff8000 0 47px,#ffaf00 0 48px,#ff2000 0 49px,#ff3000 0)"></i><i style="left:450px;background:linear-gradient(90deg,#ff7000 0 1px,#ef0000 0 2px,#f00 0 3px,#ff4000 0 4px,#af0000 0 5px,#df0000 0 6px,#ff1000 0 7px,#8f0000 0 8px,#df0000 0 10px,#800000 0 11px,#ef0000 0 12px,#bf0000 0 13px,#800000 0 14px,#f00 0 15px,#af0000 0 16px,#8f0000 0 17px,#ff1000 0 18px,#bf0000 0 19px,#af0000 0 20px,#ff3000 0 21px,#ef0000 0 22px,#cf0000 0 23px,#ff5000 0 24px,#ff3000 0 25px,#ef0000 0 26px,#ff5000 0 27px,#ff8f00 0 28px,#ff4000 0 30px,#ff9f00 0 31px,#ffbf00 0 32px,#ff8000 0 33px,#ff7000 0 34px,#ffbf00 0 35px,#ff0 0 37px,#ffcf00 0 38px,#ffaf00 0 39px,#ffcf00 0 40px,#ff0 0 41px,#cfff30 0 42px,#afff50 0 44px,#bfff40 0 45px,#cfff30 0 46px,#dfff20 0 47px,#efff10 0)"></i></div>
<div class="r" style="top:617.28px;height:18.24px"><i style="left:0px;background:linear-gradient(90deg,#ff2000 0 4px,#ff3000 0 6px,#ff2000 0 8px,#ff1000 0 9px,#f00 0 10px,#ef0000 0 12px,#f00 0 14px,#ef0000 0 15px,#cf0000 0 17px,#df0000 0 19px,#bf0000 0 20px,#af0000 0 21px,#df0000 0 22px,#bf0000 0 23px,#9f0000 0 24px,#bf0000 0 25px,#cf0000 0 26px,#9f0000 0 27px,#af0000 0 28px,#df0000 0 29px,#af0000 0 30px,#bf0000 0 31px,#f00 0 32px,#bf0000 0 33px,#df0000 0 34px,#ff2000 0 35px,#df0000 0 36px,#ff2000 0 37px,#ff4000 0 38px,#ff1000 0 39px,#ff6000 0 40px,#ff7000 0 41px,#ff5000 0 42px,#ffbf00 0 43px,#ffaf00 0 44px,#ff9f00 0 45px,#efff10 0 46px,#ffef00 0 48px,#8fff70 0 49px,#bfff40 0)"></i><i style="left:50px;background:linear-gradient(90deg,#bfff40 0 1px,#40ffbf 0 2px,#60ff9f 0 3px,#70ff8f 0 4px,#0ff 0 5px,#00efff 0 6px,#30ffcf 0 7px,#00dfff 0 8px,#0080ff 0 9px,#00afff 0 10px,#00cfff 0 11px,#0080ff 0 12px,#0020ff 0 13px,#0050ff 0 14px,#0080ff 0 15px,#0050ff 0 16px,#00f 0 17px,#0000cf 0 18px,#00f 0 19px,#0020ff 0 21px,#00f 0 22px,#0000df 0 23px,#0000af 0 24px,#00009f 0 25px,#0000bf 0 26px,#0000cf 0 27px,#0000df 0 39px,#0000cf 0 40px,#0000af 0 41px,#00009f 0 42px,#0000bf 0 43px,#0000ef 0 44px,#0010ff 0 45px,#0030ff 0 46px,#0020ff 0 47px,#0000ef 0 48px,#0000cf 0 49px,#0020ff 0)"></i><i style="left:100px;background:linear-gradient(90deg,#0070ff 0 2px,#0040ff 0 3px,#0030ff 0 4px,#009fff 0 5px,#00cfff 0 6px,#008fff 0 8px,#0ff 0 9px,#20ffdf 0 10px,#00dfff 0 11px,#30ffcf 0 12px,#80ff80 0 13px,#40ffbf 0 14px,#60ff9f 0 15px,#cfff30 0 16px,#9fff60 0 17px,#afff50 0 18px,#ffdf00 0 19px,#efff10 0 20px,#ffef00 0 21px,#ff8f00 0 22px,#ffbf00 0 23px,#ff8f00 0 24px,#ff5000 0 25px,#ff8f00 0 26px,#ff4000 0 27px,#ff1000 0 28px,#ff5000 0 29px,#f00 0 30px,#ef0000 0 31px,#ff2000 0 32px,#cf0000 0 33px,#df0000 0 34px,#ef0000 0 35px,#af0000 0 36px,#bf0000 0 37px,#df0000 0 38px,#9f0000 0 39px,#af0000 0 40px,#df0000 0 41px,#af0000 0 42px,#9f0000 0 43px,#cf0000 0 45px,#af0000 0 46px,#bf0000 0 47px,#df0000 0 49px,#cf0000 0)"></i><i style="left:150px;background:linear-gradient(90deg,#cf0000 0 1px,#ef0000 0 2px,#f00 0 4px,#ef0000 0 6px,#f00 0 7px,#ff1000 0 8px,#ff2000 0 9px,#ff3000 0 12px,#ff2000 0 21px,#ff3000 0 23px,#ff2000 0 25px,#ff1000 0 26px,#f00 0 27px,#ef0000 0 28px,#f00 0 31px,#df0000 0 32px,#cf0000 0 33px,#df0000 0 34px,#ef0000 0 35px,#cf0000 0 36px,#af0000 0 37px,#bf0000 0 38px,#df0000 0 39px,#af0000 0 40px,#9f0000 0 41px,#cf0000 0 42px,#bf0000 0 43px,#9f0000 0 44px,#cf0000 0 45px,#df0000 0 46px,#9f0000 0 47px,#df0000 0 48px,#ef0000 0 49px,#bf0000 0)"></i><i style="left:200px;background:linear-gradient(90deg,#f00 0 1px,#ff1000 0 2px,#df0000 0 3px,#ff4000 0 4px,#ff3000 0 5px,#ff2000 0 6px,#ff8000 0 7px,#ff6000 0 8px,#ff7000 0 9px,#ffcf00 0 10px,#ff8f00 0 11px,#ffbf00 0 12px,#dfff20 0 13px,#ffdf00 0 14px,#dfff20 0 15px,#8fff70 0 16px,#cfff30 0 17px,#8fff70 0 18px,#30ffcf 0 19px,#80ff80 0 20px,#50ffaf 0 21px,#00dfff 0 22px,#0ff 0 23px,#20ffdf 0 24px,#00afff 0 25px,#0080ff 0 26px,#00bfff 0 28px,#0050ff 0 29px,#0020ff 0 30px,#0060ff 0 31px,#0070ff 0 32px,#0040ff 0 33px,#0000df 0 35px,#0010ff 0 36px,#0030ff 0 37px,#0020ff 0 38px,#00f 0 39px,#0000cf 0 40px,#00009f 0 41px,#0000af 0 42px,#0000bf 0 43px,#0000cf 0 44px,#0000df 0)"></i><i style="left:250px;background:linear-gradient(90deg,#0000df 0 5px,#0000cf 0 6px,#0000bf 0 7px,#0000af 0 8px,#00009f 0 9px,#0000cf 0 10px,#00f 0 11px,#0020ff 0 12px,#0030ff 0 13px,#0010ff 0 14px,#0000df 0 16px,#0040ff 0 17px,#0070ff 0 18px,#0060ff 0 19px,#0020ff 0 20px,#0050ff 0 21px,#00bfff 0 23px,#0080ff 0 24px,#00afff 0 25px,#20ffdf 0 26px,#0ff 0 27px,#00dfff 0 28px,#50ffaf 0 29px,#80ff80 0 30px,#30ffcf 0 31px,#8fff70 0 32px,#cfff30 0 33px,#8fff70 0 34px,#dfff20 0 35px,#ffdf00 0 36px,#dfff20 0 37px,#ffbf00 0 38px,#ff8f00 0 39px,#ffcf00 0 40px,#ff7000 0 41px,#ff6000 0 42px,#ff8000 0 43px,#ff2000 0 44px,#ff3000 0 45px,#ff4000 0 46px,#df0000 0 47px,#ff1000 0 48px,#f00 0 49px,#bf0000 0)"></i><i style="left:300px;background:linear-gradient(90deg,#ef0000 0 1px,#df0000 0 2px,#9f0000 0 3px,#df0000 0 4px,#cf0000 0 5px,#9f0000 0 6px,#bf0000 0 7px,#cf0000 0 8px,#9f0000 0 9px,#af0000 0 10px,#df0000 0 11px,#bf0000 0 12px,#af0000 0 13px,#cf0000 0 14px,#ef0000 0 15px,#df0000 0 16px,#cf0000 0 17px,#df0000 0 18px,#f00 0 21px,#ef0000 0 22px,#f00 0 23px,#ff1000 0 24px,#ff2000 0 26px,#ff3000 0 28px,#ff2000 0 37px,#ff3000 0 40px,#ff2000 0 41px,#ff1000 0 42px,#f00 0 43px,#ef0000 0 45px,#f00 0 47px,#ef0000 0 48px,#cf0000 0)"></i><i style="left:350px;background:linear-gradient(90deg,#df0000 0 2px,#bf0000 0 3px,#af0000 0 4px,#cf0000 0 6px,#9f0000 0 7px,#af0000 0 8px,#df0000 0 9px,#af0000 0 10px,#9f0000 0 11px,#df0000 0 12px,#bf0000 0 13px,#af0000 0 14px,#ef0000 0 15px,#df0000 0 16px,#cf0000 0 17px,#ff2000 0 18px,#ef0000 0 19px,#f00 0 20px,#ff5000 0 21px,#ff1000 0 22px,#ff4000 0 23px,#ff8f00 0 24px,#ff5000 0 25px,#ff8f00 0 26px,#ffbf00 0 27px,#ff8f00 0 28px,#ffef00 0 29px,#efff10 0 30px,#ffdf00 0 31px,#afff50 0 32px,#9fff60 0 33px,#cfff30 0 34px,#60ff9f 0 35px,#40ffbf 0 36px,#80ff80 0 37px,#30ffcf 0 38px,#00dfff 0 39px,#20ffdf 0 40px,#0ff 0 41px,#008fff 0 43px,#00cfff 0 44px,#009fff 0 45px,#0030ff 0 46px,#0040ff 0 47px,#0070ff 0 49px,#0020ff 0)"></i><i style="left:400px;background:linear-gradient(90deg,#0000cf 0 1px,#0000ef 0 2px,#0020ff 0 3px,#0030ff 0 4px,#0010ff 0 5px,#0000ef 0 6px,#0000bf 0 7px,#00009f 0 8px,#0000af 0 9px,#0000cf 0 10px,#0000df 0 22px,#0000cf 0 23px,#0000bf 0 24px,#00009f 0 25px,#0000af 0 26px,#0000df 0 27px,#00f 0 28px,#0020ff 0 30px,#00f 0 31px,#0000cf 0 32px,#00f 0 33px,#0050ff 0 34px,#0080ff 0 35px,#0050ff 0 36px,#0020ff 0 37px,#0080ff 0 38px,#00cfff 0 39px,#00afff 0 40px,#0080ff 0 41px,#00dfff 0 42px,#30ffcf 0 43px,#00efff 0 44px,#0ff 0 45px,#70ff8f 0 46px,#60ff9f 0 47px,#40ffbf 0 48px,#bfff40 0)"></i><i style="left:450px;background:linear-gradient(90deg,#8fff70 0 1px,#ffef00 0 3px,#efff10 0 4px,#ff9f00 0 5px,#ffaf00 0 6px,#ffbf00 0 7px,#ff5000 0 8px,#ff7000 0 9px,#ff6000 0 10px,#ff1000 0 11px,#ff4000 0 12px,#ff2000 0 13px,#df0000 0 14px,#ff2000 0 15px,#df0000 0 16px,#bf0000 0 17px,#f00 0 18px,#bf0000 0 19px,#af0000 0 20px,#df0000 0 21px,#af0000 0 22px,#9f0000 0 23px,#cf0000 0 24px,#bf0000 0 25px,#9f0000 0 26px,#bf0000 0 27px,#df0000 0 28px,#af0000 0 29px,#bf0000 0 30px,#df0000 0 32px,#cf0000 0 34px,#ef0000 0 35px,#f00 0 37px,#ef0000 0 39px,#f00 0 40px,#ff1000 0 41px,#ff2000 0 43px,#ff3000 0 45px,#ff2000 0)"></i></div>
<div class="r" style="top:634.92px;height:35.87px"><i style="left:0px;background:linear-gradient(90deg,#cf0000 0 2px,#bf0000 0 3px,#af0000 0 4px,#9f0000 0 5px,#8f0000 0 7px,#9f0000 0 8px,#bf0000 0 9px,#df0000 0 11px,#cf0000 0 12px,#9f0000 0 14px,#bf0000 0 15px,#ef0000 0 16px,#df0000 0 17px,#af0000 0 18px,#bf0000 0 19px,#f00 0 21px,#cf0000 0 22px,#ef0000 0 23px,#ff2000 0 24px,#ff1000 0 25px,#f00 0 26px,#ff4000 0 29px,#ff7000 0 30px,#ff8000 0 32px,#ffaf00 0 33px,#ffbf00 0 34px,#ffcf00 0 35px,#ff0 0 36px,#efff10 0 37px,#dfff20 0 38px,#afff50 0 39px,#9fff60 0 40px,#80ff80 0 41px,#50ffaf 0 42px,#40ffbf 0 43px,#20ffdf 0 44px,#0ff 0 45px,#00dfff 0 46px,#00bfff 0 47px,#00afff 0 48px,#0080ff 0 49px,#0070ff 0)"></i><i style="left:50px;background:linear-gradient(90deg,#0050ff 0 1px,#0030ff 0 2px,#0020ff 0 3px,#0010ff 0 4px,#0000df 0 5px,#0000cf 0 7px,#0000af 0 8px,#00009f 0 9px,#0000af 0 10px,#00009f 0 11px,#0000bf 0 12px,#0000cf 0 14px,#0000bf 0 15px,#0000cf 0 16px,#00f 0 17px,#0010ff 0 18px,#00f 0 19px,#0000ef 0 21px,#00f 0 22px,#0020ff 0 23px,#0040ff 0 26px,#0030ff 0 27px,#0020ff 0 29px,#0010ff 0 37px,#0020ff 0 38px,#0030ff 0 40px,#0040ff 0 42px,#0030ff 0 43px,#0020ff 0 44px,#00f 0 45px,#0000ef 0 46px,#00f 0 47px,#0010ff 0 49px,#0000ef 0)"></i><i style="left:100px;background:linear-gradient(90deg,#0000cf 0 1px,#0000bf 0 2px,#0000cf 0 4px,#0000af 0 5px,#00009f 0 8px,#0000bf 0 9px,#0000cf 0 11px,#0000ef 0 12px,#0020ff 0 14px,#0040ff 0 15px,#0060ff 0 16px,#0070ff 0 17px,#008fff 0 18px,#00afff 0 19px,#00cfff 0 20px,#00efff 0 21px,#10ffef 0 22px,#30ffcf 0 23px,#40ffbf 0 24px,#60ff9f 0 25px,#8fff70 0 26px,#9fff60 0 27px,#bfff40 0 28px,#efff10 0 30px,#ffef00 0 31px,#ffbf00 0 33px,#ff9f00 0 34px,#ff7000 0 35px,#ff8000 0 36px,#ff6000 0 37px,#ff3000 0 38px,#ff5000 0 39px,#ff3000 0 40px,#f00 0 41px,#ff2000 0 43px,#df0000 0 45px,#f00 0 46px,#df0000 0 47px,#af0000 0 48px,#bf0000 0 49px,#ef0000 0)"></i><i style="left:150px;background:linear-gradient(90deg,#df0000 0 1px,#af0000 0 2px,#8f0000 0 3px,#af0000 0 4px,#df0000 0 6px,#cf0000 0 7px,#af0000 0 8px,#8f0000 0 11px,#9f0000 0 12px,#af0000 0 13px,#bf0000 0 14px,#cf0000 0 18px,#bf0000 0 20px,#af0000 0 21px,#9f0000 0 22px,#8f0000 0 24px,#9f0000 0 25px,#bf0000 0 26px,#df0000 0 28px,#bf0000 0 29px,#9f0000 0 31px,#cf0000 0 32px,#ef0000 0 33px,#cf0000 0 34px,#af0000 0 35px,#cf0000 0 36px,#f00 0 37px,#ef0000 0 38px,#cf0000 0 39px,#f00 0 40px,#ff2000 0 41px,#f00 0 42px,#ff2000 0 43px,#ff5000 0 44px,#ff4000 0 45px,#ff5000 0 46px,#ff8000 0 48px,#ff8f00 0 49px,#ffbf00 0)"></i><i style="left:200px;background:linear-gradient(90deg,#ffbf00 0 1px,#ffdf00 0 2px,#efff10 0 4px,#cfff30 0 5px,#9fff60 0 6px,#8fff70 0 7px,#70ff8f 0 8px,#50ffaf 0 9px,#30ffcf 0 10px,#10ffef 0 11px,#00efff 0 12px,#00cfff 0 13px,#00bfff 0 14px,#009fff 0 15px,#0080ff 0 16px,#0070ff 0 17px,#0050ff 0 18px,#0020ff 0 20px,#00f 0 21px,#0000cf 0 24px,#0000af 0 25px,#00009f 0 28px,#0000bf 0 29px,#0000df 0 30px,#0000cf 0 31px,#0000bf 0 32px,#0000df 0 33px,#00f 0 34px,#0010ff 0 35px,#00f 0 36px,#0000ef 0 38px,#0010ff 0 39px,#0030ff 0 40px,#0040ff 0 43px,#0030ff 0 44px,#0020ff 0 46px,#0010ff 0)"></i><i style="left:250px;background:linear-gradient(90deg,#0010ff 0 3px,#0020ff 0 5px,#0030ff 0 6px,#0040ff 0 9px,#0030ff 0 10px,#0010ff 0 11px,#0000ef 0 13px,#00f 0 14px,#0010ff 0 15px,#00f 0 16px,#0000df 0 17px,#0000bf 0 18px,#0000cf 0 19px,#0000df 0 20px,#0000bf 0 21px,#00009f 0 24px,#0000af 0 25px,#0000cf 0 28px,#00f 0 29px,#0020ff 0 31px,#0050ff 0 32px,#0070ff 0 33px,#0080ff 0 34px,#009fff 0 35px,#00bfff 0 36px,#00cfff 0 37px,#00efff 0 38px,#10ffef 0 39px,#30ffcf 0 40px,#50ffaf 0 41px,#70ff8f 0 42px,#8fff70 0 43px,#9fff60 0 44px,#cfff30 0 45px,#efff10 0 47px,#ffdf00 0 48px,#ffbf00 0)"></i><i style="left:300px;background:linear-gradient(90deg,#ff8f00 0 1px,#ff8000 0 3px,#ff5000 0 4px,#ff4000 0 5px,#ff5000 0 6px,#ff2000 0 7px,#f00 0 8px,#ff2000 0 9px,#f00 0 10px,#cf0000 0 11px,#ef0000 0 12px,#f00 0 13px,#cf0000 0 14px,#af0000 0 15px,#cf0000 0 16px,#ef0000 0 17px,#cf0000 0 18px,#9f0000 0 20px,#bf0000 0 21px,#df0000 0 23px,#bf0000 0 24px,#9f0000 0 25px,#8f0000 0 27px,#9f0000 0 28px,#af0000 0 29px,#bf0000 0 31px,#cf0000 0 35px,#bf0000 0 36px,#af0000 0 37px,#9f0000 0 38px,#8f0000 0 41px,#af0000 0 42px,#cf0000 0 43px,#df0000 0 45px,#af0000 0 46px,#8f0000 0 47px,#af0000 0 48px,#df0000 0 49px,#ef0000 0)"></i><i style="left:350px;background:linear-gradient(90deg,#bf0000 0 1px,#af0000 0 2px,#df0000 0 3px,#f00 0 4px,#df0000 0 6px,#ff2000 0 8px,#f00 0 9px,#ff3000 0 10px,#ff5000 0 11px,#ff3000 0 12px,#ff6000 0 13px,#ff8000 0 14px,#ff7000 0 15px,#ff9f00 0 16px,#ffbf00 0 18px,#ffef00 0 19px,#efff10 0 21px,#bfff40 0 22px,#9fff60 0 23px,#8fff70 0 24px,#60ff9f 0 25px,#40ffbf 0 26px,#30ffcf 0 27px,#10ffef 0 28px,#00efff 0 29px,#00cfff 0 30px,#00afff 0 31px,#008fff 0 32px,#0070ff 0 33px,#0060ff 0 34px,#0040ff 0 35px,#0020ff 0 37px,#0000ef 0 38px,#0000cf 0 40px,#0000bf 0 41px,#00009f 0 44px,#0000af 0 45px,#0000cf 0 47px,#0000bf 0 48px,#0000cf 0 49px,#0000ef 0)"></i><i style="left:400px;background:linear-gradient(90deg,#0010ff 0 2px,#00f 0 3px,#0000ef 0 4px,#00f 0 5px,#0020ff 0 6px,#0030ff 0 7px,#0040ff 0 9px,#0030ff 0 11px,#0020ff 0 12px,#0010ff 0 20px,#0020ff 0 22px,#0030ff 0 23px,#0040ff 0 26px,#0020ff 0 27px,#00f 0 28px,#0000ef 0 30px,#00f 0 31px,#0010ff 0 32px,#00f 0 33px,#0000cf 0 34px,#0000bf 0 35px,#0000cf 0 37px,#0000bf 0 38px,#00009f 0 39px,#0000af 0 40px,#00009f 0 41px,#0000af 0 42px,#0000cf 0 44px,#0000df 0 45px,#0010ff 0 46px,#0020ff 0 47px,#0030ff 0 48px,#0050ff 0 49px,#0070ff 0)"></i><i style="left:450px;background:linear-gradient(90deg,#0080ff 0 1px,#00afff 0 2px,#00bfff 0 3px,#00dfff 0 4px,#0ff 0 5px,#20ffdf 0 6px,#40ffbf 0 7px,#50ffaf 0 8px,#80ff80 0 9px,#9fff60 0 10px,#afff50 0 11px,#dfff20 0 12px,#efff10 0 13px,#ff0 0 14px,#ffcf00 0 15px,#ffbf00 0 16px,#ffaf00 0 17px,#ff8000 0 19px,#ff7000 0 20px,#ff4000 0 23px,#f00 0 24px,#ff1000 0 25px,#ff2000 0 26px,#ef0000 0 27px,#cf0000 0 28px,#f00 0 30px,#bf0000 0 31px,#af0000 0 32px,#df0000 0 33px,#ef0000 0 34px,#bf0000 0 35px,#9f0000 0 37px,#cf0000 0 38px,#df0000 0 40px,#bf0000 0 41px,#9f0000 0 42px,#8f0000 0 44px,#9f0000 0 45px,#af0000 0 46px,#bf0000 0 47px,#cf0000 0)"></i></div>
<div class="r" style="top:670.19px;height:18.24px"><i style="left:0px;background:linear-gradient(90deg,#ff3000 0 1px,#ff2000 0 2px,#ff1000 0 3px,#f00 0 4px,#df0000 0 5px,#cf0000 0 6px,#bf0000 0 7px,#df0000 0 8px,#ff2000 0 9px,#ff7000 0 10px,#ff8000 0 11px,#ff6000 0 12px,#ff1000 0 13px,#f00 0 14px,#ff5000 0 15px,#ffaf00 0 16px,#ff9f00 0 17px,#ff4000 0 18px,#ff6000 0 19px,#ffdf00 0 21px,#ff8000 0 22px,#ffbf00 0 23px,#bfff40 0 24px,#ffef00 0 25px,#ffdf00 0 26px,#8fff70 0 27px,#9fff60 0 28px,#dfff20 0 29px,#50ffaf 0 31px,#8fff70 0 32px,#00efff 0 33px,#0ff 0 34px,#30ffcf 0 35px,#008fff 0 36px,#00bfff 0 38px,#0030ff 0 39px,#0080ff 0 40px,#0060ff 0 41px,#0000df 0 42px,#0030ff 0 43px,#00f 0 44px,#0000af 0 45px,#0000ef 0 46px,#0000bf 0 48px,#0000af 0 49px,#0000cf 0)"></i><i style="left:50px;background:linear-gradient(90deg,#0000ef 0 1px,#0000af 0 2px,#0000ef 0 3px,#0020ff 0 4px,#0000ef 0 5px,#00f 0 6px,#0040ff 0 7px,#0030ff 0 8px,#0010ff 0 9px,#0040ff 0 10px,#0060ff 0 11px,#0040ff 0 12px,#0020ff 0 13px,#0050ff 0 14px,#0070ff 0 15px,#0060ff 0 16px,#0040ff 0 18px,#0050ff 0 19px,#0070ff 0 22px,#0050ff 0 23px,#0040ff 0 25px,#0050ff 0 27px,#0060ff 0 29px,#0070ff 0 37px,#0060ff 0 39px,#0050ff 0 40px,#0040ff 0 43px,#0060ff 0 44px,#0070ff 0 46px,#0060ff 0 47px,#0050ff 0 48px,#0040ff 0 49px,#0050ff 0)"></i><i style="left:100px;background:linear-gradient(90deg,#0070ff 0 2px,#0040ff 0 3px,#0030ff 0 4px,#0050ff 0 5px,#0060ff 0 6px,#0030ff 0 7px,#0010ff 0 8px,#0040ff 0 9px,#0030ff 0 10px,#0000ef 0 11px,#00f 0 12px,#0020ff 0 13px,#0000cf 0 15px,#0000ef 0 16px,#0000bf 0 19px,#0000cf 0 20px,#0000ef 0 21px,#00009f 0 22px,#0020ff 0 24px,#0000ef 0 25px,#0080ff 0 26px,#0060ff 0 28px,#00dfff 0 29px,#009fff 0 30px,#00bfff 0 31px,#40ffbf 0 32px,#00dfff 0 33px,#30ffcf 0 34px,#8fff70 0 35px,#30ffcf 0 36px,#80ff80 0 37px,#dfff20 0 38px,#80ff80 0 39px,#bfff40 0 40px,#ffbf00 0 41px,#dfff20 0 43px,#ff8f00 0 45px,#ff0 0 46px,#ffaf00 0 47px,#ff4000 0 48px,#ff5000 0 49px,#ffaf00 0)"></i><i style="left:150px;background:linear-gradient(90deg,#ff9f00 0 1px,#ff3000 0 2px,#ef0000 0 3px,#ff2000 0 4px,#ff7000 0 5px,#ff8000 0 6px,#ff5000 0 7px,#ff1000 0 8px,#cf0000 0 9px,#bf0000 0 10px,#cf0000 0 11px,#df0000 0 12px,#f00 0 13px,#ff1000 0 14px,#ff2000 0 15px,#ff3000 0 18px,#ff2000 0 19px,#ff1000 0 20px,#ef0000 0 21px,#cf0000 0 22px,#bf0000 0 23px,#cf0000 0 24px,#ef0000 0 25px,#ff4000 0 26px,#ff8000 0 28px,#ff4000 0 29px,#f00 0 30px,#ff1000 0 31px,#ff7000 0 32px,#ffbf00 0 33px,#ff7000 0 34px,#ff3000 0 35px,#ff8000 0 36px,#ffef00 0 37px,#ffbf00 0 38px,#ff8000 0 39px,#ffef00 0 40px,#bfff40 0 41px,#ffcf00 0 42px,#ff0 0 43px,#70ff8f 0 44px,#cfff30 0 45px,#bfff40 0 46px,#30ffcf 0 47px,#70ff8f 0 49px,#00cfff 0)"></i><i style="left:200px;background:linear-gradient(90deg,#30ffcf 0 1px,#0ff 0 2px,#0080ff 0 3px,#00dfff 0 4px,#008fff 0 5px,#0040ff 0 6px,#008fff 0 7px,#0020ff 0 8px,#00f 0 9px,#0030ff 0 10px,#0000cf 0 12px,#0000df 0 13px,#0000bf 0 15px,#0000af 0 16px,#0000ef 0 17px,#0000df 0 18px,#0000af 0 19px,#0010ff 0 20px,#0020ff 0 21px,#0000df 0 22px,#0020ff 0 23px,#0050ff 0 24px,#0020ff 0 25px,#0010ff 0 26px,#0050ff 0 27px,#0060ff 0 28px,#0030ff 0 30px,#0060ff 0 31px,#0070ff 0 32px,#0060ff 0 33px,#0040ff 0 35px,#0060ff 0 36px,#0070ff 0 38px,#0060ff 0 39px,#0050ff 0 40px,#0040ff 0 42px,#0050ff 0 44px,#0060ff 0 46px,#0070ff 0)"></i><i style="left:250px;background:linear-gradient(90deg,#0070ff 0 3px,#0060ff 0 5px,#0050ff 0 7px,#0040ff 0 9px,#0050ff 0 10px,#0060ff 0 11px,#0070ff 0 13px,#0060ff 0 14px,#0040ff 0 16px,#0060ff 0 17px,#0070ff 0 18px,#0060ff 0 19px,#0030ff 0 21px,#0060ff 0 22px,#0050ff 0 23px,#0010ff 0 24px,#0020ff 0 25px,#0050ff 0 26px,#0020ff 0 27px,#0000df 0 28px,#0020ff 0 29px,#0010ff 0 30px,#0000af 0 31px,#0000df 0 32px,#0000ef 0 33px,#0000af 0 34px,#0000bf 0 36px,#0000df 0 37px,#0000cf 0 39px,#0030ff 0 40px,#00f 0 41px,#0020ff 0 42px,#008fff 0 43px,#0040ff 0 44px,#008fff 0 45px,#00dfff 0 46px,#0080ff 0 47px,#0ff 0 48px,#30ffcf 0 49px,#00cfff 0)"></i><i style="left:300px;background:linear-gradient(90deg,#70ff8f 0 2px,#30ffcf 0 3px,#bfff40 0 4px,#cfff30 0 5px,#70ff8f 0 6px,#ff0 0 7px,#ffcf00 0 8px,#bfff40 0 9px,#ffef00 0 10px,#ff8000 0 11px,#ffbf00 0 12px,#ffef00 0 13px,#ff8000 0 14px,#ff3000 0 15px,#ff7000 0 16px,#ffbf00 0 17px,#ff7000 0 18px,#ff1000 0 19px,#f00 0 20px,#ff4000 0 21px,#ff8000 0 23px,#ff4000 0 24px,#ef0000 0 25px,#cf0000 0 26px,#bf0000 0 27px,#cf0000 0 28px,#ef0000 0 29px,#ff1000 0 30px,#ff2000 0 31px,#ff3000 0 34px,#ff2000 0 35px,#ff1000 0 36px,#f00 0 37px,#df0000 0 38px,#cf0000 0 39px,#bf0000 0 40px,#cf0000 0 41px,#ff1000 0 42px,#ff5000 0 43px,#ff8000 0 44px,#ff7000 0 45px,#ff2000 0 46px,#ef0000 0 47px,#ff3000 0 48px,#ff9f00 0 49px,#ffaf00 0)"></i><i style="left:350px;background:linear-gradient(90deg,#ff5000 0 1px,#ff4000 0 2px,#ffaf00 0 3px,#ff0 0 4px,#ff8f00 0 6px,#dfff20 0 8px,#ffbf00 0 9px,#bfff40 0 10px,#80ff80 0 11px,#dfff20 0 12px,#80ff80 0 13px,#30ffcf 0 14px,#8fff70 0 15px,#30ffcf 0 16px,#00dfff 0 17px,#40ffbf 0 18px,#00bfff 0 19px,#009fff 0 20px,#00dfff 0 21px,#0060ff 0 23px,#0080ff 0 24px,#0000ef 0 25px,#0020ff 0 27px,#00009f 0 28px,#0000ef 0 29px,#0000cf 0 30px,#0000bf 0 33px,#0000ef 0 34px,#0000cf 0 36px,#0020ff 0 37px,#00f 0 38px,#0000ef 0 39px,#0030ff 0 40px,#0040ff 0 41px,#0010ff 0 42px,#0030ff 0 43px,#0060ff 0 44px,#0050ff 0 45px,#0030ff 0 46px,#0040ff 0 47px,#0070ff 0 49px,#0050ff 0)"></i><i style="left:400px;background:linear-gradient(90deg,#0040ff 0 1px,#0050ff 0 2px,#0060ff 0 3px,#0070ff 0 5px,#0060ff 0 6px,#0040ff 0 9px,#0050ff 0 10px,#0060ff 0 12px,#0070ff 0 20px,#0060ff 0 22px,#0050ff 0 24px,#0040ff 0 26px,#0050ff 0 27px,#0070ff 0 30px,#0050ff 0 31px,#0040ff 0 33px,#0060ff 0 34px,#0070ff 0 35px,#0050ff 0 36px,#0020ff 0 37px,#0040ff 0 38px,#0060ff 0 39px,#0040ff 0 40px,#0010ff 0 41px,#0030ff 0 42px,#0040ff 0 43px,#00f 0 44px,#0000ef 0 45px,#0020ff 0 46px,#0000ef 0 47px,#0000af 0 48px,#0000ef 0 49px,#0000cf 0)"></i><i style="left:450px;background:linear-gradient(90deg,#0000af 0 1px,#0000bf 0 3px,#0000ef 0 4px,#0000af 0 5px,#00f 0 6px,#0030ff 0 7px,#0000df 0 8px,#0060ff 0 9px,#0080ff 0 10px,#0030ff 0 11px,#00bfff 0 13px,#008fff 0 14px,#30ffcf 0 15px,#0ff 0 16px,#00efff 0 17px,#8fff70 0 18px,#50ffaf 0 20px,#dfff20 0 21px,#9fff60 0 22px,#8fff70 0 23px,#ffdf00 0 24px,#ffef00 0 25px,#bfff40 0 26px,#ffbf00 0 27px,#ff8000 0 28px,#ffdf00 0 30px,#ff6000 0 31px,#ff4000 0 32px,#ff9f00 0 33px,#ffaf00 0 34px,#ff5000 0 35px,#f00 0 36px,#ff1000 0 37px,#ff6000 0 38px,#ff8000 0 39px,#ff7000 0 40px,#ff2000 0 41px,#df0000 0 42px,#bf0000 0 43px,#cf0000 0 44px,#df0000 0 45px,#f00 0 46px,#ff1000 0 47px,#ff2000 0 48px,#ff3000 0)"></i></div>
<div class="r" style="top:687.83px;height:18.24px"><i style="left:0px;background:linear-gradient(90deg,#dfff20 0 1px,#efff10 0 2px,#ff0 0 3px,#ffef00 0 4px,#ffdf00 0 5px,#ffcf00 0 7px,#ffdf00 0 8px,#dfff20 0 9px,#8fff70 0 10px,#70ff8f 0 11px,#9fff60 0 12px,#dfff20 0 14px,#8fff70 0 15px,#30ffcf 0 16px,#40ffbf 0 17px,#9fff60 0 18px,#80ff80 0 19px,#00efff 0 21px,#50ffaf 0 22px,#10ffef 0 23px,#0080ff 0 24px,#00cfff 0 25px,#00efff 0 26px,#0050ff 0 27px,#0070ff 0 28px,#00afff 0 29px,#0010ff 0 30px,#0020ff 0 31px,#0060ff 0 32px,#0000cf 0 33px,#0000ef 0 34px,#0010ff 0 35px,#0000cf 0 36px,#0000df 0 38px,#0010ff 0 39px,#0000df 0 40px,#0000ef 0 41px,#0040ff 0 42px,#0000cf 0 43px,#0020ff 0 44px,#0060ff 0 45px,#0000cf 0 46px,#0050ff 0 47px,#0080ff 0 48px,#0000ef 0 49px,#0070ff 0)"></i><i style="left:50px;background:linear-gradient(90deg,#008fff 0 1px,#00f 0 2px,#0070ff 0 3px,#009fff 0 4px,#0030ff 0 5px,#0040ff 0 6px,#00afff 0 7px,#0070ff 0 8px,#00f 0 9px,#0070ff 0 10px,#009fff 0 11px,#0050ff 0 12px,#00f 0 13px,#0050ff 0 14px,#008fff 0 15px,#0070ff 0 16px,#0020ff 0 17px,#0000ef 0 18px,#0030ff 0 19px,#0070ff 0 21px,#0050ff 0 22px,#0020ff 0 23px,#0000df 0 24px,#0000cf 0 25px,#0000ef 0 26px,#0010ff 0 27px,#0030ff 0 28px,#0040ff 0 29px,#0050ff 0 37px,#0040ff 0 38px,#0030ff 0 39px,#0010ff 0 40px,#0000df 0 41px,#0000cf 0 42px,#0000ef 0 43px,#0030ff 0 44px,#0060ff 0 45px,#0080ff 0 46px,#0060ff 0 47px,#0010ff 0 48px,#0000ef 0 49px,#0040ff 0)"></i><i style="left:100px;background:linear-gradient(90deg,#008fff 0 1px,#0080ff 0 2px,#0030ff 0 3px,#0010ff 0 4px,#0080ff 0 5px,#009fff 0 6px,#0040ff 0 7px,#0020ff 0 8px,#008fff 0 10px,#0010ff 0 11px,#0060ff 0 12px,#00afff 0 13px,#0030ff 0 15px,#009fff 0 16px,#0030ff 0 17px,#0020ff 0 18px,#008fff 0 19px,#0020ff 0 20px,#0010ff 0 21px,#0070ff 0 22px,#0000df 0 23px,#00f 0 24px,#0030ff 0 25px,#0000af 0 26px,#00f 0 28px,#0000df 0 31px,#0020ff 0 32px,#0000bf 0 33px,#0010ff 0 34px,#0060ff 0 35px,#0000ef 0 36px,#0050ff 0 37px,#00afff 0 38px,#0040ff 0 39px,#0080ff 0 40px,#0ff 0 41px,#00afff 0 42px,#009fff 0 43px,#30ffcf 0 45px,#00cfff 0 46px,#20ffdf 0 47px,#8fff70 0 48px,#80ff80 0 49px,#30ffcf 0)"></i><i style="left:150px;background:linear-gradient(90deg,#50ffaf 0 1px,#bfff40 0 2px,#efff10 0 3px,#cfff30 0 4px,#8fff70 0 5px,#80ff80 0 6px,#afff50 0 7px,#efff10 0 8px,#ffdf00 0 9px,#ffbf00 0 10px,#ffcf00 0 11px,#ffdf00 0 12px,#ffef00 0 13px,#efff10 0 15px,#dfff20 0 17px,#efff10 0 19px,#ff0 0 20px,#ffdf00 0 21px,#ffcf00 0 22px,#ffbf00 0 23px,#ffcf00 0 24px,#ffef00 0 25px,#bfff40 0 26px,#80ff80 0 28px,#afff50 0 29px,#efff10 0 30px,#cfff30 0 31px,#70ff8f 0 32px,#20ffdf 0 33px,#60ff9f 0 34px,#9fff60 0 35px,#50ffaf 0 36px,#00cfff 0 37px,#10ffef 0 38px,#50ffaf 0 39px,#00cfff 0 40px,#0080ff 0 41px,#00efff 0 42px,#00bfff 0 43px,#0030ff 0 44px,#008fff 0 46px,#0000df 0 47px,#0050ff 0 48px,#0040ff 0 49px,#00009f 0)"></i><i style="left:200px;background:linear-gradient(90deg,#0010ff 0 1px,#00f 0 2px,#0000cf 0 3px,#0000df 0 5px,#0010ff 0 6px,#0000af 0 7px,#0020ff 0 8px,#0030ff 0 9px,#0000af 0 10px,#0050ff 0 11px,#0040ff 0 12px,#0000df 0 13px,#0080ff 0 14px,#0050ff 0 15px,#00f 0 16px,#008fff 0 17px,#0070ff 0 18px,#00f 0 19px,#008fff 0 21px,#0010ff 0 22px,#0070ff 0 23px,#00afff 0 24px,#0040ff 0 25px,#0020ff 0 26px,#008fff 0 28px,#0030ff 0 29px,#0010ff 0 30px,#0070ff 0 31px,#008fff 0 32px,#0060ff 0 33px,#00f 0 35px,#0050ff 0 36px,#0070ff 0 38px,#0040ff 0 39px,#0010ff 0 40px,#0000df 0 42px,#00f 0 43px,#0020ff 0 44px,#0040ff 0 45px,#0050ff 0)"></i><i style="left:250px;background:linear-gradient(90deg,#0050ff 0 4px,#0040ff 0 5px,#0020ff 0 6px,#00f 0 7px,#0000df 0 9px,#0010ff 0 10px,#0040ff 0 11px,#0070ff 0 13px,#0050ff 0 14px,#00f 0 16px,#0060ff 0 17px,#008fff 0 18px,#0070ff 0 19px,#0010ff 0 20px,#0030ff 0 21px,#008fff 0 23px,#0020ff 0 24px,#0040ff 0 25px,#00afff 0 26px,#0070ff 0 27px,#0010ff 0 28px,#008fff 0 30px,#00f 0 31px,#0070ff 0 32px,#008fff 0 33px,#00f 0 34px,#0050ff 0 35px,#0080ff 0 36px,#0000df 0 37px,#0040ff 0 38px,#0050ff 0 39px,#0000af 0 40px,#0030ff 0 41px,#0020ff 0 42px,#0000af 0 43px,#0010ff 0 44px,#0000df 0 46px,#0000cf 0 47px,#00f 0 48px,#0010ff 0 49px,#00009f 0)"></i><i style="left:300px;background:linear-gradient(90deg,#0040ff 0 1px,#0050ff 0 2px,#0000df 0 3px,#008fff 0 5px,#0030ff 0 6px,#00bfff 0 7px,#00efff 0 8px,#0080ff 0 9px,#00cfff 0 10px,#50ffaf 0 11px,#10ffef 0 12px,#00cfff 0 13px,#50ffaf 0 14px,#9fff60 0 15px,#60ff9f 0 16px,#20ffdf 0 17px,#70ff8f 0 18px,#cfff30 0 19px,#efff10 0 20px,#afff50 0 21px,#80ff80 0 23px,#bfff40 0 24px,#ffef00 0 25px,#ffcf00 0 26px,#ffbf00 0 27px,#ffcf00 0 28px,#ffdf00 0 29px,#ff0 0 30px,#efff10 0 32px,#dfff20 0 34px,#efff10 0 36px,#ffef00 0 37px,#ffdf00 0 38px,#ffcf00 0 39px,#ffbf00 0 40px,#ffdf00 0 41px,#efff10 0 42px,#afff50 0 43px,#80ff80 0 44px,#8fff70 0 45px,#cfff30 0 46px,#efff10 0 47px,#bfff40 0 48px,#50ffaf 0 49px,#30ffcf 0)"></i><i style="left:350px;background:linear-gradient(90deg,#80ff80 0 1px,#8fff70 0 2px,#20ffdf 0 3px,#00cfff 0 4px,#30ffcf 0 6px,#009fff 0 7px,#00afff 0 8px,#0ff 0 9px,#0080ff 0 10px,#0040ff 0 11px,#00afff 0 12px,#0050ff 0 13px,#0000ef 0 14px,#0060ff 0 15px,#0010ff 0 16px,#0000bf 0 17px,#0020ff 0 18px,#0000df 0 21px,#00f 0 23px,#0000af 0 24px,#0030ff 0 25px,#00f 0 26px,#0000df 0 27px,#0070ff 0 28px,#0010ff 0 29px,#0020ff 0 30px,#008fff 0 31px,#0020ff 0 32px,#0030ff 0 33px,#009fff 0 34px,#0030ff 0 36px,#00afff 0 37px,#0060ff 0 38px,#0010ff 0 39px,#008fff 0 41px,#0020ff 0 42px,#0040ff 0 43px,#009fff 0 44px,#0080ff 0 45px,#0010ff 0 46px,#0030ff 0 47px,#0080ff 0 48px,#008fff 0 49px,#0040ff 0)"></i><i style="left:400px;background:linear-gradient(90deg,#0000ef 0 1px,#0010ff 0 2px,#0060ff 0 3px,#0080ff 0 4px,#0060ff 0 5px,#0030ff 0 6px,#0000ef 0 7px,#0000cf 0 8px,#0000df 0 9px,#0010ff 0 10px,#0030ff 0 11px,#0040ff 0 12px,#0050ff 0 20px,#0040ff 0 21px,#0030ff 0 22px,#0010ff 0 23px,#0000ef 0 24px,#0000cf 0 25px,#0000df 0 26px,#0020ff 0 27px,#0050ff 0 28px,#0070ff 0 30px,#0030ff 0 31px,#0000ef 0 32px,#0020ff 0 33px,#0070ff 0 34px,#008fff 0 35px,#0050ff 0 36px,#00f 0 37px,#0050ff 0 38px,#009fff 0 39px,#0070ff 0 40px,#00f 0 41px,#0070ff 0 42px,#00afff 0 43px,#0040ff 0 44px,#0030ff 0 45px,#009fff 0 46px,#0070ff 0 47px,#00f 0 48px,#008fff 0 49px,#0070ff 0)"></i><i style="left:450px;background:linear-gradient(90deg,#0000ef 0 1px,#0080ff 0 2px,#0050ff 0 3px,#0000cf 0 4px,#0060ff 0 5px,#0020ff 0 6px,#0000cf 0 7px,#0040ff 0 8px,#0000ef 0 9px,#0000df 0 10px,#0010ff 0 11px,#0000df 0 13px,#0000cf 0 14px,#0010ff 0 15px,#0000ef 0 16px,#0000cf 0 17px,#0060ff 0 18px,#0020ff 0 19px,#0010ff 0 20px,#00afff 0 21px,#0070ff 0 22px,#0050ff 0 23px,#00efff 0 24px,#00cfff 0 25px,#0080ff 0 26px,#10ffef 0 27px,#50ffaf 0 28px,#00efff 0 30px,#80ff80 0 31px,#9fff60 0 32px,#40ffbf 0 33px,#30ffcf 0 34px,#8fff70 0 35px,#dfff20 0 37px,#9fff60 0 38px,#70ff8f 0 39px,#8fff70 0 40px,#dfff20 0 41px,#ffdf00 0 42px,#ffcf00 0 44px,#ffdf00 0 45px,#ffef00 0 46px,#ff0 0 47px,#efff10 0 48px,#dfff20 0)"></i></div>
<div class="r" style="top:705.46px;height:18.24px"><i style="left:0px;background:linear-gradient(90deg,#00bfff 0 7px,#00afff 0 8px,#008fff 0 9px,#0080ff 0 10px,#0070ff 0 14px,#0050ff 0 15px,#0020ff 0 17px,#0030ff 0 18px,#0020ff 0 19px,#0000df 0 20px,#0000cf 0 21px,#0000ef 0 22px,#0000cf 0 23px,#00009f 0 24px,#0000bf 0 25px,#0000af 0 26px,#0000cf 0 28px,#00009f 0 29px,#00f 0 31px,#0000cf 0 32px,#0030ff 0 33px,#0020ff 0 34px,#0000ef 0 35px,#0060ff 0 36px,#0030ff 0 37px,#0020ff 0 38px,#0080ff 0 39px,#0030ff 0 40px,#0040ff 0 41px,#008fff 0 42px,#0030ff 0 43px,#0060ff 0 44px,#008fff 0 45px,#0020ff 0 46px,#0070ff 0 47px,#008fff 0 48px,#0010ff 0 49px,#0070ff 0)"></i><i style="left:50px;background:linear-gradient(90deg,#0080ff 0 1px,#00f 0 2px,#0050ff 0 3px,#0080ff 0 4px,#00f 0 5px,#0010ff 0 6px,#0070ff 0 7px,#0030ff 0 8px,#0000bf 0 9px,#0020ff 0 10px,#0050ff 0 11px,#0010ff 0 12px,#00009f 0 13px,#00f 0 14px,#0030ff 0 15px,#0010ff 0 16px,#0000cf 0 17px,#0000af 0 18px,#0000df 0 19px,#00f 0 20px,#0010ff 0 21px,#00f 0 22px,#0000df 0 23px,#0000cf 0 26px,#0000df 0 28px,#0000ef 0 38px,#0000df 0 40px,#0000cf 0 43px,#0000df 0 44px,#00f 0 45px,#0010ff 0 46px,#00f 0 47px,#0000cf 0 48px,#0000af 0 49px,#0000ef 0)"></i><i style="left:100px;background:linear-gradient(90deg,#0020ff 0 2px,#0000df 0 3px,#0000bf 0 4px,#0030ff 0 5px,#0050ff 0 6px,#00f 0 7px,#0000df 0 8px,#0050ff 0 9px,#0060ff 0 10px,#0000df 0 11px,#0040ff 0 12px,#0080ff 0 13px,#0020ff 0 14px,#0030ff 0 15px,#008fff 0 16px,#0040ff 0 17px,#0030ff 0 18px,#009fff 0 19px,#0040ff 0 21px,#009fff 0 22px,#0030ff 0 23px,#0050ff 0 24px,#008fff 0 25px,#0020ff 0 26px,#0060ff 0 27px,#0070ff 0 28px,#00f 0 29px,#0050ff 0 30px,#0040ff 0 31px,#0000ef 0 32px,#0040ff 0 33px,#0010ff 0 34px,#0000cf 0 35px,#0010ff 0 36px,#0000df 0 37px,#0000af 0 38px,#0000cf 0 39px,#0000bf 0 40px,#0000af 0 43px,#0000df 0 44px,#0000ef 0 45px,#0000cf 0 46px,#0000ef 0 47px,#0030ff 0 49px,#0020ff 0)"></i><i style="left:150px;background:linear-gradient(90deg,#0030ff 0 1px,#0060ff 0 2px,#0070ff 0 6px,#0080ff 0 7px,#009fff 0 8px,#00afff 0 9px,#00bfff 0 23px,#00afff 0 24px,#009fff 0 25px,#008fff 0 26px,#0070ff 0 30px,#0060ff 0 31px,#0040ff 0 32px,#0020ff 0 34px,#0030ff 0 35px,#0010ff 0 36px,#0000cf 0 37px,#0000df 0 38px,#0000ef 0 39px,#0000bf 0 40px,#00009f 0 41px,#0000bf 0 42px,#0000af 0 43px,#0000cf 0 44px,#0000bf 0 46px,#0010ff 0 47px,#0000df 0 49px,#0040ff 0)"></i><i style="left:200px;background:linear-gradient(90deg,#00f 0 1px,#0010ff 0 2px,#0060ff 0 3px,#0010ff 0 4px,#0040ff 0 5px,#0080ff 0 6px,#0010ff 0 7px,#0070ff 0 8px,#0080ff 0 9px,#0020ff 0 10px,#008fff 0 11px,#0070ff 0 12px,#0020ff 0 13px,#008fff 0 14px,#0060ff 0 15px,#0010ff 0 16px,#008fff 0 17px,#0060ff 0 18px,#00f 0 19px,#0070ff 0 20px,#0060ff 0 21px,#0000df 0 22px,#0040ff 0 23px,#0060ff 0 24px,#00f 0 25px,#0000cf 0 26px,#0040ff 0 28px,#0000df 0 29px,#0000bf 0 30px,#0010ff 0 31px,#0030ff 0 32px,#00f 0 33px,#0000bf 0 35px,#0000ef 0 36px,#0010ff 0 37px,#00f 0 38px,#0000ef 0 39px,#0000cf 0 42px,#0000df 0 44px,#0000ef 0)"></i><i style="left:250px;background:linear-gradient(90deg,#0000ef 0 5px,#0000df 0 7px,#0000cf 0 10px,#0000ef 0 11px,#00f 0 12px,#0010ff 0 13px,#0000ef 0 14px,#0000bf 0 16px,#00f 0 17px,#0030ff 0 18px,#0010ff 0 19px,#0000bf 0 20px,#0000df 0 21px,#0040ff 0 23px,#0000cf 0 24px,#00f 0 25px,#0060ff 0 26px,#0040ff 0 27px,#0000df 0 28px,#0060ff 0 29px,#0070ff 0 30px,#00f 0 31px,#0060ff 0 32px,#008fff 0 33px,#0010ff 0 34px,#0060ff 0 35px,#008fff 0 36px,#0020ff 0 37px,#0070ff 0 38px,#008fff 0 39px,#0020ff 0 40px,#0080ff 0 41px,#0070ff 0 42px,#0010ff 0 43px,#0080ff 0 44px,#0040ff 0 45px,#0010ff 0 46px,#0060ff 0 47px,#0010ff 0 48px,#00f 0 49px,#0040ff 0)"></i><i style="left:300px;background:linear-gradient(90deg,#0000df 0 2px,#0010ff 0 3px,#0000bf 0 5px,#0000cf 0 6px,#0000af 0 7px,#0000bf 0 8px,#00009f 0 9px,#0000bf 0 10px,#0000ef 0 11px,#0000df 0 12px,#0000cf 0 13px,#0010ff 0 14px,#0030ff 0 15px,#0020ff 0 17px,#0040ff 0 18px,#0060ff 0 19px,#0070ff 0 23px,#008fff 0 24px,#009fff 0 25px,#00afff 0 26px,#00bfff 0 40px,#00afff 0 41px,#009fff 0 42px,#0080ff 0 43px,#0070ff 0 47px,#0060ff 0 48px,#0030ff 0 49px,#0020ff 0)"></i><i style="left:350px;background:linear-gradient(90deg,#0030ff 0 2px,#0000ef 0 3px,#0000cf 0 4px,#0000ef 0 5px,#0000df 0 6px,#0000af 0 9px,#0000bf 0 10px,#0000cf 0 11px,#0000af 0 12px,#0000df 0 13px,#0010ff 0 14px,#0000cf 0 15px,#0010ff 0 16px,#0040ff 0 17px,#0000ef 0 18px,#0040ff 0 19px,#0050ff 0 20px,#00f 0 21px,#0070ff 0 22px,#0060ff 0 23px,#0020ff 0 24px,#008fff 0 25px,#0050ff 0 26px,#0030ff 0 27px,#009fff 0 28px,#0040ff 0 30px,#009fff 0 31px,#0030ff 0 32px,#0040ff 0 33px,#008fff 0 34px,#0030ff 0 35px,#0020ff 0 36px,#0080ff 0 37px,#0040ff 0 38px,#0000df 0 39px,#0060ff 0 40px,#0050ff 0 41px,#0000df 0 42px,#00f 0 43px,#0050ff 0 44px,#0030ff 0 45px,#0000bf 0 46px,#0000df 0 47px,#0020ff 0 49px,#0000ef 0)"></i><i style="left:400px;background:linear-gradient(90deg,#0000af 0 1px,#0000cf 0 2px,#00f 0 3px,#0010ff 0 4px,#00f 0 5px,#0000df 0 6px,#0000cf 0 9px,#0000df 0 11px,#0000ef 0 21px,#0000df 0 23px,#0000cf 0 26px,#0000df 0 27px,#00f 0 28px,#0010ff 0 29px,#00f 0 30px,#0000df 0 31px,#0000af 0 32px,#0000cf 0 33px,#0010ff 0 34px,#0030ff 0 35px,#00f 0 36px,#00009f 0 37px,#0010ff 0 38px,#0050ff 0 39px,#0020ff 0 40px,#0000bf 0 41px,#0030ff 0 42px,#0070ff 0 43px,#0010ff 0 44px,#00f 0 45px,#0080ff 0 46px,#0050ff 0 47px,#00f 0 48px,#0080ff 0 49px,#0070ff 0)"></i><i style="left:450px;background:linear-gradient(90deg,#0010ff 0 1px,#008fff 0 2px,#0070ff 0 3px,#0020ff 0 4px,#008fff 0 5px,#0060ff 0 6px,#0030ff 0 7px,#008fff 0 8px,#0040ff 0 9px,#0030ff 0 10px,#0080ff 0 11px,#0020ff 0 12px,#0030ff 0 13px,#0060ff 0 14px,#0000ef 0 15px,#0020ff 0 16px,#0030ff 0 17px,#0000cf 0 18px,#00f 0 20px,#00009f 0 21px,#0000cf 0 23px,#0000af 0 24px,#0000bf 0 25px,#00009f 0 26px,#0000cf 0 27px,#0000ef 0 28px,#0000cf 0 29px,#0000df 0 30px,#0020ff 0 31px,#0030ff 0 32px,#0020ff 0 34px,#0050ff 0 35px,#0070ff 0 39px,#0080ff 0 40px,#008fff 0 41px,#00afff 0 42px,#00bfff 0)"></i></div>
<div class="r" style="top:723.10px;height:18.24px"><i style="left:0px;background:linear-gradient(90deg,#0000cf 0 4px,#0000bf 0 6px,#0000cf 0 9px,#0000bf 0 10px,#0000af 0 11px,#0000bf 0 12px,#0000ef 0 13px,#00f 0 14px,#0000df 0 15px,#0000af 0 16px,#0000cf 0 17px,#0010ff 0 18px,#0020ff 0 19px,#0000df 0 20px,#0000ef 0 21px,#0040ff 0 22px,#0030ff 0 23px,#00f 0 24px,#0040ff 0 25px,#0060ff 0 26px,#0020ff 0 27px,#0040ff 0 28px,#0070ff 0 29px,#0040ff 0 30px,#0050ff 0 31px,#0070ff 0 32px,#0050ff 0 34px,#0070ff 0 35px,#0050ff 0 36px,#0060ff 0 38px,#0040ff 0 39px,#0050ff 0 40px,#0040ff 0 41px,#0030ff 0 44px,#0020ff 0 45px,#0010ff 0 48px,#0000ef 0)"></i><i style="left:50px;background:linear-gradient(90deg,#0000ef 0 1px,#0000cf 0 4px,#0000af 0 6px,#0000bf 0 7px,#0000af 0 8px,#00009f 0 9px,#0000af 0 12px,#0000bf 0 14px,#00009f 0 15px,#0000af 0 16px,#0000df 0 17px,#0000ef 0 18px,#0000df 0 19px,#0000bf 0 20px,#0000af 0 21px,#0000cf 0 22px,#0000ef 0 23px,#00f 0 26px,#0000ef 0 27px,#0000df 0 28px,#0000cf 0 30px,#0000bf 0 36px,#0000cf 0 37px,#0000df 0 38px,#0000ef 0 39px,#00f 0 43px,#0000df 0 44px,#0000bf 0 45px,#0000af 0 46px,#0000bf 0 47px,#0000df 0 49px,#0000cf 0)"></i><i style="left:100px;background:linear-gradient(90deg,#0000af 0 2px,#0000bf 0 4px,#0000af 0 7px,#00009f 0 8px,#0000bf 0 10px,#0000af 0 11px,#0000bf 0 12px,#0000df 0 13px,#0000cf 0 14px,#0000df 0 15px,#0000ef 0 17px,#00f 0 18px,#0010ff 0 20px,#0020ff 0 22px,#0030ff 0 24px,#0040ff 0 25px,#0050ff 0 27px,#0040ff 0 28px,#0060ff 0 29px,#0050ff 0 31px,#0070ff 0 32px,#0050ff 0 33px,#0060ff 0 34px,#0070ff 0 35px,#0040ff 0 36px,#0050ff 0 37px,#0070ff 0 38px,#0030ff 0 40px,#0060ff 0 41px,#0020ff 0 42px,#00f 0 43px,#0040ff 0 44px,#0030ff 0 45px,#0000df 0 46px,#00f 0 47px,#0020ff 0 48px,#00f 0 49px,#0000bf 0)"></i><i style="left:150px;background:linear-gradient(90deg,#0000bf 0 1px,#0000ef 0 3px,#0000df 0 4px,#0000bf 0 5px,#0000af 0 6px,#0000bf 0 7px,#0000cf 0 10px,#0000bf 0 12px,#0000cf 0 20px,#0000bf 0 23px,#0000cf 0 25px,#0000bf 0 26px,#0000af 0 28px,#0000cf 0 29px,#0000ef 0 31px,#0000cf 0 32px,#0000af 0 33px,#0000ef 0 34px,#0020ff 0 35px,#0010ff 0 36px,#0000cf 0 37px,#0010ff 0 38px,#0040ff 0 39px,#0020ff 0 40px,#0010ff 0 41px,#0050ff 0 43px,#0020ff 0 44px,#0060ff 0 46px,#0030ff 0 47px,#0060ff 0 48px,#0070ff 0 49px,#0040ff 0)"></i><i style="left:200px;background:linear-gradient(90deg,#0060ff 0 2px,#0040ff 0 3px,#0060ff 0 4px,#0050ff 0 5px,#0040ff 0 6px,#0050ff 0 7px,#0040ff 0 8px,#0030ff 0 11px,#0020ff 0 12px,#0010ff 0 14px,#00f 0 15px,#0000ef 0 17px,#0000df 0 18px,#0000cf 0 19px,#0000df 0 20px,#0000cf 0 21px,#0000af 0 22px,#0000bf 0 24px,#0000af 0 28px,#0000bf 0 30px,#0000af 0 31px,#00009f 0 32px,#0000bf 0 33px,#0000df 0 35px,#0000cf 0 36px,#0000af 0 38px,#0000df 0 39px,#0000ef 0 40px,#00f 0 43px,#0000ef 0 44px,#0000df 0 45px,#0000cf 0 47px,#0000bf 0)"></i><i style="left:250px;background:linear-gradient(90deg,#0000bf 0 2px,#0000cf 0 4px,#0000df 0 5px,#0000ef 0 6px,#00f 0 9px,#0000ef 0 10px,#0000df 0 11px,#0000af 0 13px,#0000cf 0 14px,#0000df 0 16px,#0000bf 0 17px,#00009f 0 18px,#0000af 0 19px,#0000bf 0 21px,#0000af 0 25px,#0000bf 0 27px,#0000af 0 28px,#0000cf 0 29px,#0000df 0 30px,#0000cf 0 31px,#0000df 0 32px,#0000ef 0 34px,#00f 0 35px,#0010ff 0 37px,#0020ff 0 38px,#0030ff 0 41px,#0040ff 0 42px,#0050ff 0 43px,#0040ff 0 44px,#0050ff 0 45px,#0060ff 0 46px,#0040ff 0 47px,#0060ff 0 49px,#0040ff 0)"></i><i style="left:300px;background:linear-gradient(90deg,#0070ff 0 1px,#0060ff 0 2px,#0030ff 0 3px,#0060ff 0 5px,#0020ff 0 6px,#0050ff 0 8px,#0010ff 0 9px,#0020ff 0 10px,#0040ff 0 11px,#0010ff 0 12px,#0000cf 0 13px,#0010ff 0 14px,#0020ff 0 15px,#0000ef 0 16px,#0000af 0 17px,#0000cf 0 18px,#0000ef 0 20px,#0000cf 0 21px,#0000af 0 23px,#0000bf 0 24px,#0000cf 0 26px,#0000bf 0 29px,#0000cf 0 37px,#0000bf 0 39px,#0000cf 0 42px,#0000bf 0 43px,#0000af 0 44px,#0000bf 0 45px,#0000df 0 46px,#0000ef 0 48px,#0000bf 0)"></i><i style="left:350px;background:linear-gradient(90deg,#00f 0 1px,#0020ff 0 2px,#00f 0 3px,#0000df 0 4px,#0030ff 0 5px,#0040ff 0 6px,#00f 0 7px,#0020ff 0 8px,#0060ff 0 9px,#0030ff 0 11px,#0070ff 0 12px,#0050ff 0 13px,#0040ff 0 14px,#0070ff 0 15px,#0060ff 0 16px,#0050ff 0 17px,#0070ff 0 18px,#0050ff 0 20px,#0060ff 0 21px,#0040ff 0 22px,#0050ff 0 24px,#0040ff 0 25px,#0030ff 0 27px,#0020ff 0 29px,#0010ff 0 31px,#00f 0 32px,#0000ef 0 34px,#0000df 0 35px,#0000cf 0 36px,#0000df 0 37px,#0000bf 0 38px,#0000af 0 39px,#0000bf 0 41px,#00009f 0 42px,#0000af 0 45px,#0000bf 0 47px,#0000af 0 49px,#0000cf 0)"></i><i style="left:400px;background:linear-gradient(90deg,#0000df 0 2px,#0000bf 0 3px,#0000af 0 4px,#0000bf 0 5px,#0000df 0 6px,#00f 0 10px,#0000ef 0 11px,#0000df 0 12px,#0000cf 0 13px,#0000bf 0 19px,#0000cf 0 21px,#0000df 0 22px,#0000ef 0 23px,#00f 0 26px,#0000ef 0 27px,#0000cf 0 28px,#0000af 0 29px,#0000bf 0 30px,#0000df 0 31px,#0000ef 0 32px,#0000df 0 33px,#0000af 0 34px,#00009f 0 35px,#0000bf 0 37px,#0000af 0 40px,#00009f 0 41px,#0000af 0 42px,#0000bf 0 43px,#0000af 0 45px,#0000cf 0 48px,#0000ef 0)"></i><i style="left:450px;background:linear-gradient(90deg,#0000ef 0 1px,#0010ff 0 4px,#0020ff 0 5px,#0030ff 0 8px,#0040ff 0 9px,#0050ff 0 10px,#0040ff 0 11px,#0060ff 0 13px,#0050ff 0 14px,#0070ff 0 15px,#0050ff 0 17px,#0070ff 0 18px,#0050ff 0 19px,#0040ff 0 20px,#0070ff 0 21px,#0040ff 0 22px,#0020ff 0 23px,#0060ff 0 24px,#0040ff 0 25px,#00f 0 26px,#0030ff 0 27px,#0040ff 0 28px,#0000ef 0 29px,#0000df 0 30px,#0020ff 0 31px,#0010ff 0 32px,#0000cf 0 33px,#0000af 0 34px,#0000df 0 35px,#00f 0 36px,#0000ef 0 37px,#0000bf 0 38px,#0000af 0 39px,#0000bf 0 40px,#0000cf 0 43px,#0000bf 0 45px,#0000cf 0)"></i></div>
<div class="r" style="top:740.74px;height:35.87px"><i style="left:0px;background:linear-gradient(90deg,#0020ff 0 1px,#0030ff 0 2px,#0050ff 0 3px,#0070ff 0 4px,#008fff 0 5px,#009fff 0 6px,#00afff 0 7px,#008fff 0 8px,#0060ff 0 9px,#00f 0 10px,#0000cf 0 11px,#0040ff 0 12px,#009fff 0 13px,#00bfff 0 14px,#0070ff 0 15px,#0000ef 0 16px,#0040ff 0 17px,#00afff 0 19px,#0010ff 0 20px,#0030ff 0 21px,#00bfff 0 22px,#008fff 0 23px,#0000ef 0 24px,#0080ff 0 25px,#00afff 0 26px,#0010ff 0 27px,#0050ff 0 28px,#00afff 0 29px,#0010ff 0 30px,#0040ff 0 31px,#008fff 0 32px,#00f 0 33px,#0030ff 0 34px,#0070ff 0 35px,#0000cf 0 36px,#0030ff 0 37px,#0040ff 0 38px,#00009f 0 39px,#0020ff 0 40px,#0010ff 0 41px,#0000af 0 42px,#0010ff 0 43px,#0000df 0 44px,#0000bf 0 45px,#0000ef 0 46px,#0000cf 0 49px,#0000df 0)"></i><i style="left:50px;background:linear-gradient(90deg,#0000df 0 1px,#0000af 0 2px,#0000df 0 3px,#00f 0 4px,#0000bf 0 5px,#0000cf 0 6px,#0010ff 0 7px,#0000ef 0 8px,#0000af 0 9px,#00f 0 10px,#0020ff 0 11px,#00f 0 12px,#0000cf 0 13px,#00f 0 14px,#0020ff 0 16px,#0000ef 0 17px,#0000df 0 18px,#00f 0 19px,#0020ff 0 20px,#0030ff 0 21px,#0020ff 0 22px,#00f 0 23px,#0000ef 0 24px,#0000df 0 25px,#0000ef 0 26px,#00f 0 27px,#0010ff 0 28px,#0020ff 0 37px,#0010ff 0 39px,#00f 0 40px,#0000ef 0 41px,#0000df 0 42px,#0000ef 0 43px,#0010ff 0 44px,#0020ff 0 45px,#0030ff 0 46px,#0020ff 0 47px,#0000ef 0 48px,#0000df 0 49px,#00f 0)"></i><i style="left:100px;background:linear-gradient(90deg,#0020ff 0 2px,#0000df 0 3px,#0000cf 0 4px,#0010ff 0 5px,#0020ff 0 6px,#0000df 0 7px,#0000bf 0 8px,#0010ff 0 9px,#00f 0 10px,#0000af 0 11px,#0000df 0 12px,#00f 0 13px,#0000bf 0 15px,#0000ef 0 16px,#0000cf 0 19px,#0000df 0 20px,#0000ef 0 21px,#0000bf 0 22px,#00f 0 24px,#0000af 0 25px,#0030ff 0 26px,#00f 0 27px,#0000df 0 28px,#0060ff 0 29px,#00f 0 30px,#0010ff 0 31px,#0080ff 0 32px,#0000ef 0 33px,#0040ff 0 34px,#008fff 0 35px,#0000ef 0 36px,#0060ff 0 37px,#00afff 0 38px,#0010ff 0 39px,#0050ff 0 40px,#00bfff 0 41px,#0040ff 0 42px,#0010ff 0 43px,#00afff 0 44px,#009fff 0 45px,#00f 0 46px,#0050ff 0 47px,#00bfff 0 48px,#009fff 0 49px,#00f 0)"></i><i style="left:150px;background:linear-gradient(90deg,#0010ff 0 1px,#008fff 0 2px,#00bfff 0 3px,#0080ff 0 4px,#0010ff 0 5px,#0000cf 0 6px,#0020ff 0 7px,#0070ff 0 8px,#009fff 0 9px,#00afff 0 10px,#009fff 0 11px,#0080ff 0 12px,#0060ff 0 13px,#0040ff 0 14px,#0030ff 0 15px,#0020ff 0 17px,#0030ff 0 18px,#0040ff 0 19px,#0050ff 0 20px,#0070ff 0 21px,#008fff 0 22px,#009fff 0 24px,#008fff 0 25px,#0040ff 0 26px,#0000df 0 27px,#0000ef 0 28px,#0060ff 0 29px,#00afff 0 31px,#0040ff 0 32px,#0000df 0 33px,#0070ff 0 34px,#00bfff 0 35px,#0080ff 0 36px,#0000ef 0 37px,#0070ff 0 38px,#00bfff 0 39px,#0060ff 0 40px,#0010ff 0 41px,#00afff 0 42px,#008fff 0 43px,#0000ef 0 44px,#008fff 0 46px,#0000df 0 47px,#0070ff 0 48px,#0080ff 0 49px,#0000cf 0)"></i><i style="left:200px;background:linear-gradient(90deg,#0060ff 0 1px,#0050ff 0 2px,#0000bf 0 3px,#0050ff 0 4px,#0020ff 0 5px,#0000cf 0 6px,#0040ff 0 7px,#0000df 0 8px,#0000cf 0 9px,#0010ff 0 10px,#0000cf 0 11px,#0000df 0 12px,#0000ef 0 13px,#0000cf 0 15px,#0000bf 0 16px,#0000df 0 18px,#0000af 0 19px,#0000ef 0 21px,#00009f 0 22px,#0000ef 0 23px,#0010ff 0 24px,#0000df 0 25px,#0000bf 0 26px,#0010ff 0 27px,#0020ff 0 28px,#0000df 0 29px,#0000cf 0 30px,#0010ff 0 31px,#0030ff 0 32px,#0010ff 0 33px,#0000df 0 35px,#0010ff 0 36px,#0020ff 0 38px,#0010ff 0 39px,#0000ef 0 40px,#0000df 0 41px,#0000ef 0 43px,#00f 0 44px,#0010ff 0 45px,#0020ff 0)"></i><i style="left:250px;background:linear-gradient(90deg,#0020ff 0 4px,#0010ff 0 5px,#00f 0 6px,#0000ef 0 8px,#0000df 0 9px,#0000ef 0 10px,#0010ff 0 11px,#0020ff 0 13px,#0010ff 0 14px,#0000df 0 16px,#0010ff 0 17px,#0030ff 0 18px,#0010ff 0 19px,#0000cf 0 20px,#0000df 0 21px,#0020ff 0 22px,#0010ff 0 23px,#0000bf 0 24px,#0000df 0 25px,#0010ff 0 26px,#0000ef 0 27px,#00009f 0 28px,#0000ef 0 30px,#0000af 0 31px,#0000df 0 33px,#0000bf 0 34px,#0000cf 0 36px,#0000ef 0 37px,#0000df 0 38px,#0000cf 0 39px,#0010ff 0 40px,#0000cf 0 41px,#0000df 0 42px,#0040ff 0 43px,#0000cf 0 44px,#0020ff 0 45px,#0050ff 0 46px,#0000bf 0 47px,#0050ff 0 48px,#0060ff 0 49px,#0000cf 0)"></i><i style="left:300px;background:linear-gradient(90deg,#0080ff 0 1px,#0070ff 0 2px,#0000df 0 3px,#008fff 0 5px,#0000ef 0 6px,#008fff 0 7px,#00afff 0 8px,#0010ff 0 9px,#0060ff 0 10px,#00bfff 0 11px,#0070ff 0 12px,#0000ef 0 13px,#0080ff 0 14px,#00bfff 0 15px,#0070ff 0 16px,#0000df 0 17px,#0040ff 0 18px,#00afff 0 20px,#0060ff 0 21px,#0000ef 0 22px,#0000df 0 23px,#0040ff 0 24px,#008fff 0 25px,#009fff 0 27px,#008fff 0 28px,#0070ff 0 29px,#0050ff 0 30px,#0040ff 0 31px,#0030ff 0 32px,#0020ff 0 34px,#0030ff 0 35px,#0040ff 0 36px,#0060ff 0 37px,#0080ff 0 38px,#009fff 0 39px,#00afff 0 40px,#009fff 0 41px,#0070ff 0 42px,#0020ff 0 43px,#0000cf 0 44px,#0010ff 0 45px,#0080ff 0 46px,#00bfff 0 47px,#008fff 0 48px,#0010ff 0 49px,#00f 0)"></i><i style="left:350px;background:linear-gradient(90deg,#009fff 0 1px,#00bfff 0 2px,#0050ff 0 3px,#00f 0 4px,#009fff 0 5px,#00afff 0 6px,#0010ff 0 7px,#0040ff 0 8px,#00bfff 0 9px,#0050ff 0 10px,#0010ff 0 11px,#00afff 0 12px,#0060ff 0 13px,#0000ef 0 14px,#008fff 0 15px,#0040ff 0 16px,#0000ef 0 17px,#0080ff 0 18px,#0010ff 0 19px,#00f 0 20px,#0060ff 0 21px,#0000df 0 22px,#00f 0 23px,#0030ff 0 24px,#0000af 0 25px,#00f 0 27px,#0000bf 0 28px,#0000ef 0 29px,#0000df 0 30px,#0000cf 0 33px,#0000ef 0 34px,#0000bf 0 36px,#00f 0 37px,#0000df 0 38px,#0000af 0 39px,#00f 0 40px,#0010ff 0 41px,#0000bf 0 42px,#0000df 0 43px,#0020ff 0 44px,#0010ff 0 45px,#0000cf 0 46px,#0000df 0 47px,#0020ff 0 49px,#00f 0)"></i><i style="left:400px;background:linear-gradient(90deg,#0000df 0 1px,#0000ef 0 2px,#0020ff 0 3px,#0030ff 0 4px,#0020ff 0 5px,#0010ff 0 6px,#0000ef 0 7px,#0000df 0 8px,#0000ef 0 9px,#00f 0 10px,#0010ff 0 12px,#0020ff 0 21px,#0010ff 0 22px,#00f 0 23px,#0000ef 0 24px,#0000df 0 25px,#0000ef 0 26px,#00f 0 27px,#0020ff 0 28px,#0030ff 0 29px,#0020ff 0 30px,#00f 0 31px,#0000df 0 32px,#0000ef 0 33px,#0020ff 0 35px,#00f 0 36px,#0000cf 0 37px,#00f 0 38px,#0020ff 0 39px,#00f 0 40px,#0000af 0 41px,#0000ef 0 42px,#0010ff 0 43px,#0000cf 0 44px,#0000bf 0 45px,#00f 0 46px,#0000df 0 47px,#0000af 0 48px,#0000df 0)"></i><i style="left:450px;background:linear-gradient(90deg,#0000cf 0 3px,#0000ef 0 4px,#0000bf 0 5px,#0000df 0 6px,#0010ff 0 7px,#0000af 0 8px,#0010ff 0 9px,#0020ff 0 10px,#00009f 0 11px,#0040ff 0 12px,#0030ff 0 13px,#0000cf 0 14px,#0070ff 0 15px,#0030ff 0 16px,#00f 0 17px,#008fff 0 18px,#0040ff 0 19px,#0010ff 0 20px,#00afff 0 21px,#0050ff 0 22px,#0010ff 0 23px,#00afff 0 24px,#0080ff 0 25px,#0000ef 0 26px,#008fff 0 27px,#00bfff 0 28px,#0030ff 0 29px,#0010ff 0 30px,#00afff 0 32px,#0040ff 0 33px,#0000ef 0 34px,#0070ff 0 35px,#00bfff 0 36px,#009fff 0 37px,#0040ff 0 38px,#0000cf 0 39px,#00f 0 40px,#0060ff 0 41px,#008fff 0 42px,#00afff 0 43px,#009fff 0 44px,#008fff 0 45px,#0070ff 0 46px,#0050ff 0 47px,#0030ff 0 48px,#0020ff 0)"></i></div>
<div class="r" style="top:776.01px;height:18.24px"><i style="left:0px;background:linear-gradient(90deg,#0040ff 0 1px,#0050ff 0 2px,#0070ff 0 3px,#0080ff 0 4px,#009fff 0 5px,#00bfff 0 7px,#00afff 0 8px,#0070ff 0 9px,#0010ff 0 10px,#0000df 0 11px,#0040ff 0 12px,#009fff 0 13px,#00afff 0 14px,#0070ff 0 15px,#0000df 0 16px,#0030ff 0 17px,#009fff 0 18px,#008fff 0 19px,#0000ef 0 20px,#0010ff 0 21px,#008fff 0 22px,#0060ff 0 23px,#0000af 0 24px,#0050ff 0 25px,#0070ff 0 26px,#0000cf 0 27px,#0010ff 0 28px,#0060ff 0 29px,#0000df 0 30px,#00f 0 31px,#0040ff 0 32px,#0000ef 0 33px,#00f 0 34px,#0020ff 0 35px,#00f 0 38px,#0020ff 0 39px,#00f 0 41px,#0030ff 0 42px,#0000df 0 43px,#0010ff 0 44px,#0040ff 0 45px,#0000bf 0 46px,#0030ff 0 47px,#0050ff 0 48px,#0000af 0 49px,#0040ff 0)"></i><i style="left:50px;background:linear-gradient(90deg,#0060ff 0 1px,#0000bf 0 2px,#0030ff 0 3px,#0070ff 0 4px,#0000ef 0 5px,#00f 0 6px,#0070ff 0 7px,#0040ff 0 8px,#00009f 0 9px,#0040ff 0 10px,#0070ff 0 11px,#0020ff 0 12px,#00009f 0 13px,#0020ff 0 14px,#0060ff 0 15px,#0050ff 0 16px,#0000ef 0 17px,#0000af 0 18px,#0010ff 0 19px,#0050ff 0 21px,#0040ff 0 22px,#00f 0 23px,#0000bf 0 24px,#0000af 0 25px,#0000cf 0 26px,#00f 0 27px,#0020ff 0 28px,#0030ff 0 29px,#0040ff 0 36px,#0030ff 0 38px,#0010ff 0 39px,#0000ef 0 40px,#0000bf 0 41px,#00009f 0 42px,#0000cf 0 43px,#0010ff 0 44px,#0040ff 0 45px,#0060ff 0 46px,#0040ff 0 47px,#0000ef 0 48px,#00009f 0 49px,#0010ff 0)"></i><i style="left:100px;background:linear-gradient(90deg,#0060ff 0 2px,#0000ef 0 3px,#0000bf 0 4px,#0050ff 0 5px,#0070ff 0 6px,#0010ff 0 7px,#0000cf 0 8px,#0060ff 0 10px,#0000bf 0 11px,#0030ff 0 12px,#0070ff 0 13px,#0000ef 0 14px,#00f 0 15px,#0070ff 0 16px,#00f 0 17px,#0000ef 0 18px,#0060ff 0 19px,#00f 0 20px,#0000ef 0 21px,#0050ff 0 22px,#0000ef 0 23px,#00f 0 24px,#0030ff 0 25px,#0000ef 0 26px,#0010ff 0 28px,#00f 0 31px,#0020ff 0 32px,#0000ef 0 33px,#0010ff 0 34px,#0040ff 0 35px,#0000cf 0 36px,#0020ff 0 37px,#0060ff 0 38px,#0000cf 0 39px,#0020ff 0 40px,#0080ff 0 41px,#0010ff 0 42px,#0000df 0 43px,#0080ff 0 44px,#0070ff 0 45px,#0000cf 0 46px,#0030ff 0 47px,#009fff 0 48px,#0080ff 0 49px,#0000ef 0)"></i><i style="left:150px;background:linear-gradient(90deg,#0010ff 0 1px,#008fff 0 2px,#00bfff 0 3px,#0080ff 0 4px,#0020ff 0 5px,#0000df 0 6px,#0030ff 0 7px,#008fff 0 8px,#00afff 0 9px,#00bfff 0 10px,#00afff 0 11px,#009fff 0 12px,#0080ff 0 13px,#0060ff 0 14px,#0050ff 0 15px,#0040ff 0 17px,#0050ff 0 18px,#0060ff 0 19px,#0070ff 0 20px,#008fff 0 21px,#00afff 0 22px,#00bfff 0 24px,#009fff 0 25px,#0050ff 0 26px,#00f 0 28px,#0060ff 0 29px,#00afff 0 31px,#0040ff 0 32px,#0000cf 0 33px,#0060ff 0 34px,#00afff 0 35px,#0070ff 0 36px,#0000bf 0 37px,#0040ff 0 38px,#008fff 0 39px,#0030ff 0 40px,#0000cf 0 41px,#0070ff 0 42px,#0050ff 0 43px,#00009f 0 44px,#0040ff 0 46px,#0000bf 0 47px,#0030ff 0 49px,#0000df 0)"></i><i style="left:200px;background:linear-gradient(90deg,#0020ff 0 1px,#0010ff 0 2px,#00f 0 5px,#0020ff 0 6px,#0000ef 0 7px,#0020ff 0 9px,#0000cf 0 10px,#0040ff 0 11px,#0030ff 0 12px,#0000bf 0 13px,#0050ff 0 14px,#0030ff 0 15px,#0000bf 0 16px,#0060ff 0 17px,#0040ff 0 18px,#0000af 0 19px,#0060ff 0 21px,#0000af 0 22px,#0030ff 0 23px,#0070ff 0 24px,#0010ff 0 25px,#0000cf 0 26px,#0060ff 0 28px,#0000ef 0 29px,#0000bf 0 30px,#0040ff 0 31px,#0070ff 0 32px,#0030ff 0 33px,#0000bf 0 34px,#0000cf 0 35px,#0020ff 0 36px,#0050ff 0 38px,#0030ff 0 39px,#0000ef 0 40px,#0000af 0 42px,#0000df 0 43px,#0010ff 0 44px,#0020ff 0 45px,#0030ff 0 46px,#0040ff 0)"></i><i style="left:250px;background:linear-gradient(90deg,#0040ff 0 3px,#0030ff 0 4px,#0020ff 0 5px,#0010ff 0 6px,#0000df 0 7px,#0000af 0 9px,#0000ef 0 10px,#0030ff 0 11px,#0050ff 0 13px,#0020ff 0 14px,#0000cf 0 15px,#0000bf 0 16px,#0030ff 0 17px,#0070ff 0 18px,#0040ff 0 19px,#0000bf 0 20px,#0000ef 0 21px,#0060ff 0 23px,#0000cf 0 24px,#0010ff 0 25px,#0070ff 0 26px,#0030ff 0 27px,#0000af 0 28px,#0060ff 0 30px,#0000af 0 31px,#0040ff 0 32px,#0060ff 0 33px,#0000bf 0 34px,#0030ff 0 35px,#0050ff 0 36px,#0000bf 0 37px,#0030ff 0 38px,#0040ff 0 39px,#0000cf 0 40px,#0020ff 0 42px,#0000ef 0 43px,#0020ff 0 44px,#00f 0 47px,#0010ff 0 48px,#0020ff 0 49px,#0000df 0)"></i><i style="left:300px;background:linear-gradient(90deg,#0030ff 0 2px,#0000bf 0 3px,#0040ff 0 5px,#00009f 0 6px,#0050ff 0 7px,#0070ff 0 8px,#0000cf 0 9px,#0030ff 0 10px,#008fff 0 11px,#0040ff 0 12px,#0000bf 0 13px,#0070ff 0 14px,#00afff 0 15px,#0060ff 0 16px,#0000cf 0 17px,#0040ff 0 18px,#00afff 0 20px,#0060ff 0 21px,#00f 0 23px,#0050ff 0 24px,#009fff 0 25px,#00bfff 0 27px,#00afff 0 28px,#008fff 0 29px,#0070ff 0 30px,#0060ff 0 31px,#0050ff 0 32px,#0040ff 0 34px,#0050ff 0 35px,#0060ff 0 36px,#0080ff 0 37px,#009fff 0 38px,#00afff 0 39px,#00bfff 0 40px,#00afff 0 41px,#008fff 0 42px,#0030ff 0 43px,#0000df 0 44px,#0020ff 0 45px,#0080ff 0 46px,#00bfff 0 47px,#008fff 0 48px,#0010ff 0 49px,#0000ef 0)"></i><i style="left:350px;background:linear-gradient(90deg,#0080ff 0 1px,#009fff 0 2px,#0030ff 0 3px,#0000cf 0 4px,#0070ff 0 5px,#0080ff 0 6px,#0000df 0 7px,#0010ff 0 8px,#0080ff 0 9px,#0020ff 0 10px,#0000cf 0 11px,#0060ff 0 12px,#0020ff 0 13px,#0000cf 0 14px,#0040ff 0 15px,#0010ff 0 16px,#0000ef 0 17px,#0020ff 0 18px,#00f 0 21px,#0010ff 0 23px,#0000ef 0 24px,#0030ff 0 25px,#00f 0 26px,#0000ef 0 27px,#0050ff 0 28px,#0000ef 0 29px,#00f 0 30px,#0060ff 0 31px,#0000ef 0 32px,#00f 0 33px,#0070ff 0 34px,#00f 0 35px,#0000ef 0 36px,#0070ff 0 37px,#0030ff 0 38px,#0000bf 0 39px,#0060ff 0 41px,#0000cf 0 42px,#0010ff 0 43px,#0070ff 0 44px,#0050ff 0 45px,#0000bf 0 46px,#0000ef 0 47px,#0060ff 0 49px,#0010ff 0)"></i><i style="left:400px;background:linear-gradient(90deg,#00009f 0 1px,#0000ef 0 2px,#0040ff 0 3px,#0060ff 0 4px,#0040ff 0 5px,#0010ff 0 6px,#0000cf 0 7px,#00009f 0 8px,#0000bf 0 9px,#0000ef 0 10px,#0010ff 0 11px,#0030ff 0 13px,#0040ff 0 20px,#0030ff 0 21px,#0020ff 0 22px,#00f 0 23px,#0000cf 0 24px,#0000af 0 25px,#0000bf 0 26px,#00f 0 27px,#0040ff 0 28px,#0050ff 0 30px,#0010ff 0 31px,#0000af 0 32px,#0000ef 0 33px,#0050ff 0 34px,#0060ff 0 35px,#0020ff 0 36px,#00009f 0 37px,#0020ff 0 38px,#0070ff 0 39px,#0040ff 0 40px,#00009f 0 41px,#0040ff 0 42px,#0070ff 0 43px,#00f 0 44px,#0000ef 0 45px,#0070ff 0 46px,#0030ff 0 47px,#0000bf 0 48px,#0060ff 0 49px,#0040ff 0)"></i><i style="left:450px;background:linear-gradient(90deg,#0000af 0 1px,#0050ff 0 2px,#0030ff 0 3px,#0000bf 0 4px,#0040ff 0 5px,#0010ff 0 6px,#0000df 0 7px,#0030ff 0 8px,#00f 0 10px,#0020ff 0 11px,#00f 0 14px,#0020ff 0 15px,#00f 0 16px,#0000ef 0 17px,#0040ff 0 18px,#00f 0 19px,#0000df 0 20px,#0060ff 0 21px,#0010ff 0 22px,#0000cf 0 23px,#0070ff 0 24px,#0050ff 0 25px,#0000af 0 26px,#0060ff 0 27px,#008fff 0 28px,#0010ff 0 29px,#0000ef 0 30px,#008fff 0 31px,#009fff 0 32px,#0030ff 0 33px,#0000df 0 34px,#0070ff 0 35px,#00afff 0 36px,#009fff 0 37px,#0040ff 0 38px,#0000df 0 39px,#0010ff 0 40px,#0070ff 0 41px,#00afff 0 42px,#00bfff 0 44px,#009fff 0 45px,#0080ff 0 46px,#0070ff 0 47px,#0050ff 0 48px,#0040ff 0)"></i></div>
<div class="r" style="top:793.65px;height:18.24px"><i style="left:0px;background:linear-gradient(90deg,#00f 0 1px,#0010ff 0 4px,#0020ff 0 8px,#00f 0 9px,#0000ef 0 10px,#0000df 0 11px,#0000ef 0 12px,#00f 0 13px,#0010ff 0 14px,#0000ef 0 15px,#0000bf 0 16px,#0000cf 0 17px,#0000ef 0 19px,#0000af 0 20px,#0000bf 0 21px,#0000df 0 22px,#0000cf 0 23px,#0000af 0 24px,#0000bf 0 26px,#0000cf 0 28px,#0000af 0 29px,#0000ef 0 31px,#00009f 0 32px,#0010ff 0 33px,#00f 0 34px,#0000af 0 35px,#0030ff 0 36px,#00f 0 37px,#0000cf 0 38px,#0050ff 0 39px,#0000ef 0 40px,#00f 0 41px,#0060ff 0 42px,#0000cf 0 43px,#0020ff 0 44px,#0060ff 0 45px,#0000bf 0 46px,#0040ff 0 47px,#0060ff 0 48px,#0000af 0 49px,#0040ff 0)"></i><i style="left:50px;background:linear-gradient(90deg,#0060ff 0 1px,#0000af 0 2px,#0030ff 0 3px,#0060ff 0 4px,#0000df 0 5px,#0000ef 0 6px,#0050ff 0 7px,#0020ff 0 8px,#0000af 0 9px,#0020ff 0 10px,#0040ff 0 11px,#0010ff 0 12px,#0000bf 0 13px,#00f 0 14px,#0030ff 0 15px,#0020ff 0 16px,#0000ef 0 17px,#0000df 0 18px,#00f 0 19px,#0020ff 0 21px,#0010ff 0 22px,#00f 0 23px,#0000ef 0 25px,#00f 0 28px,#0010ff 0 38px,#00f 0 40px,#0000ef 0 43px,#00f 0 44px,#0010ff 0 45px,#0020ff 0 46px,#0010ff 0 47px,#0000ef 0 48px,#0000df 0 49px,#00f 0)"></i><i style="left:100px;background:linear-gradient(90deg,#0030ff 0 2px,#0000ef 0 3px,#0000cf 0 4px,#0030ff 0 5px,#0040ff 0 6px,#0000ef 0 7px,#0000cf 0 8px,#0040ff 0 10px,#0000bf 0 11px,#0020ff 0 12px,#0060ff 0 13px,#0000ef 0 14px,#00f 0 15px,#0070ff 0 16px,#00f 0 17px,#0000ef 0 18px,#0070ff 0 19px,#00f 0 21px,#0060ff 0 22px,#0000df 0 23px,#0010ff 0 24px,#0050ff 0 25px,#0000bf 0 26px,#0020ff 0 27px,#0030ff 0 28px,#00009f 0 29px,#0020ff 0 30px,#0010ff 0 31px,#0000af 0 32px,#0010ff 0 33px,#0000ef 0 34px,#0000af 0 35px,#00f 0 36px,#0000df 0 37px,#0000bf 0 38px,#0000df 0 39px,#0000cf 0 41px,#0000bf 0 42px,#0000af 0 43px,#0000df 0 44px,#0000cf 0 45px,#00009f 0 46px,#0000bf 0 47px,#0000ef 0 49px,#0000bf 0)"></i><i style="left:150px;background:linear-gradient(90deg,#0000cf 0 1px,#00f 0 2px,#0010ff 0 3px,#00f 0 4px,#0000df 0 6px,#0000ef 0 7px,#0010ff 0 8px,#0020ff 0 12px,#0010ff 0 15px,#00f 0 18px,#0010ff 0 20px,#0020ff 0 24px,#0010ff 0 25px,#00f 0 26px,#0000df 0 28px,#0000ef 0 29px,#0010ff 0 30px,#00f 0 31px,#0000df 0 32px,#0000af 0 33px,#0000df 0 34px,#0000ef 0 35px,#0000df 0 36px,#00009f 0 37px,#0000cf 0 38px,#0000df 0 39px,#0000bf 0 41px,#0000cf 0 42px,#0000bf 0 43px,#0000cf 0 44px,#0000bf 0 46px,#00f 0 47px,#0000cf 0 49px,#0020ff 0)"></i><i style="left:200px;background:linear-gradient(90deg,#0000cf 0 1px,#0000df 0 2px,#0030ff 0 3px,#0000cf 0 4px,#0010ff 0 5px,#0040ff 0 6px,#0000af 0 7px,#0030ff 0 8px,#0040ff 0 9px,#0000af 0 10px,#0050ff 0 11px,#0030ff 0 12px,#0000bf 0 13px,#0060ff 0 14px,#0030ff 0 15px,#0000bf 0 16px,#0060ff 0 17px,#0030ff 0 18px,#0000af 0 19px,#0050ff 0 20px,#0040ff 0 21px,#0000af 0 22px,#0020ff 0 23px,#0050ff 0 24px,#00f 0 25px,#0000cf 0 26px,#0030ff 0 27px,#0040ff 0 28px,#0000ef 0 29px,#0000cf 0 30px,#0020ff 0 31px,#0030ff 0 32px,#0010ff 0 33px,#0000df 0 35px,#0010ff 0 36px,#0020ff 0 38px,#0010ff 0 39px,#00f 0 40px,#0000ef 0 42px,#00f 0 44px,#0010ff 0)"></i><i style="left:250px;background:linear-gradient(90deg,#0010ff 0 5px,#00f 0 7px,#0000ef 0 9px,#00f 0 10px,#0010ff 0 11px,#0020ff 0 13px,#0010ff 0 14px,#0000df 0 16px,#0010ff 0 17px,#0030ff 0 18px,#0020ff 0 19px,#0000cf 0 20px,#0000ef 0 21px,#0040ff 0 22px,#0030ff 0 23px,#0000cf 0 24px,#00f 0 25px,#0050ff 0 26px,#0020ff 0 27px,#0000af 0 28px,#0040ff 0 29px,#0050ff 0 30px,#0000af 0 31px,#0030ff 0 32px,#0060ff 0 33px,#0000bf 0 34px,#0030ff 0 35px,#0060ff 0 36px,#0000bf 0 37px,#0030ff 0 38px,#0050ff 0 39px,#0000af 0 40px,#0040ff 0 41px,#0030ff 0 42px,#0000af 0 43px,#0040ff 0 44px,#0010ff 0 45px,#0000cf 0 46px,#0030ff 0 47px,#0000df 0 48px,#0000cf 0 49px,#0020ff 0)"></i><i style="left:300px;background:linear-gradient(90deg,#0000cf 0 2px,#00f 0 3px,#0000bf 0 5px,#0000cf 0 6px,#0000bf 0 7px,#0000cf 0 8px,#0000bf 0 10px,#0000df 0 11px,#0000cf 0 12px,#00009f 0 13px,#0000df 0 14px,#0000ef 0 15px,#0000df 0 16px,#0000af 0 17px,#0000df 0 18px,#00f 0 19px,#0010ff 0 20px,#0000ef 0 21px,#0000df 0 23px,#00f 0 24px,#0010ff 0 25px,#0020ff 0 29px,#0010ff 0 31px,#00f 0 34px,#0010ff 0 37px,#0020ff 0 41px,#0010ff 0 42px,#0000ef 0 43px,#0000df 0 45px,#00f 0 46px,#0010ff 0 47px,#00f 0 48px,#0000cf 0 49px,#0000bf 0)"></i><i style="left:350px;background:linear-gradient(90deg,#0000ef 0 2px,#0000bf 0 3px,#00009f 0 4px,#0000cf 0 5px,#0000df 0 6px,#0000af 0 7px,#0000bf 0 8px,#0000cf 0 10px,#0000df 0 11px,#0000bf 0 12px,#0000df 0 13px,#00f 0 14px,#0000af 0 15px,#0000ef 0 16px,#0010ff 0 17px,#0000af 0 18px,#0010ff 0 19px,#0020ff 0 20px,#00009f 0 21px,#0030ff 0 22px,#0020ff 0 23px,#0000bf 0 24px,#0050ff 0 25px,#0010ff 0 26px,#0000df 0 27px,#0060ff 0 28px,#00f 0 30px,#0070ff 0 31px,#0000ef 0 32px,#00f 0 33px,#0070ff 0 34px,#00f 0 35px,#0000ef 0 36px,#0060ff 0 37px,#0020ff 0 38px,#0000bf 0 39px,#0040ff 0 41px,#0000cf 0 42px,#0000ef 0 43px,#0040ff 0 44px,#0030ff 0 45px,#0000cf 0 46px,#0000ef 0 47px,#0030ff 0 49px,#00f 0)"></i><i style="left:400px;background:linear-gradient(90deg,#0000df 0 1px,#0000ef 0 2px,#0010ff 0 3px,#0020ff 0 4px,#0010ff 0 5px,#00f 0 6px,#0000ef 0 9px,#00f 0 11px,#0010ff 0 21px,#00f 0 24px,#0000ef 0 26px,#00f 0 27px,#0010ff 0 28px,#0020ff 0 30px,#00f 0 31px,#0000df 0 32px,#0000ef 0 33px,#0020ff 0 34px,#0030ff 0 35px,#00f 0 36px,#0000bf 0 37px,#0010ff 0 38px,#0040ff 0 39px,#0020ff 0 40px,#0000af 0 41px,#0020ff 0 42px,#0050ff 0 43px,#0000ef 0 44px,#0000df 0 45px,#0060ff 0 46px,#0030ff 0 47px,#0000af 0 48px,#0060ff 0 49px,#0040ff 0)"></i><i style="left:450px;background:linear-gradient(90deg,#0000af 0 1px,#0060ff 0 2px,#0040ff 0 3px,#0000bf 0 4px,#0060ff 0 5px,#0020ff 0 6px,#0000cf 0 7px,#0060ff 0 8px,#00f 0 9px,#0000ef 0 10px,#0050ff 0 11px,#0000cf 0 12px,#00f 0 13px,#0030ff 0 14px,#0000af 0 15px,#00f 0 16px,#0010ff 0 17px,#00009f 0 18px,#0000ef 0 20px,#0000af 0 21px,#0000cf 0 23px,#0000bf 0 25px,#0000af 0 26px,#0000cf 0 27px,#0000df 0 28px,#0000bf 0 29px,#0000af 0 30px,#0000ef 0 32px,#0000cf 0 33px,#0000bf 0 34px,#0000ef 0 35px,#0010ff 0 36px,#00f 0 37px,#0000ef 0 38px,#0000df 0 39px,#0000ef 0 40px,#00f 0 41px,#0020ff 0 45px,#0010ff 0 48px,#00f 0)"></i></div>
<div class="r" style="top:811.28px;height:18.24px"><i style="left:0px;background:linear-gradient(90deg,#0000ef 0 4px,#0000df 0 6px,#0000ef 0 8px,#0000df 0 10px,#0000cf 0 11px,#0000df 0 12px,#0000ef 0 13px,#00f 0 14px,#0000df 0 15px,#0000bf 0 16px,#0000cf 0 17px,#00f 0 19px,#0000bf 0 20px,#0000cf 0 21px,#0010ff 0 22px,#00f 0 23px,#0000af 0 24px,#00f 0 25px,#0020ff 0 26px,#0000cf 0 27px,#0000ef 0 28px,#0030ff 0 29px,#0000df 0 30px,#00f 0 31px,#0030ff 0 32px,#0000ef 0 33px,#00f 0 34px,#0020ff 0 35px,#0000ef 0 36px,#0010ff 0 38px,#0000ef 0 39px,#0010ff 0 40px,#00f 0 41px,#0000ef 0 42px,#00f 0 43px,#0000ef 0 45px,#0000df 0 48px,#0000cf 0)"></i><i style="left:50px;background:linear-gradient(90deg,#0000cf 0 1px,#0000af 0 2px,#0000bf 0 3px,#0000cf 0 4px,#0000af 0 6px,#0000bf 0 8px,#0000af 0 9px,#0000bf 0 10px,#0000af 0 11px,#0000bf 0 12px,#0000cf 0 13px,#0000bf 0 14px,#0000af 0 15px,#0000bf 0 16px,#0000df 0 17px,#0000ef 0 18px,#0000df 0 19px,#0000bf 0 20px,#00009f 0 21px,#0000bf 0 22px,#0000ef 0 23px,#00f 0 26px,#0000ef 0 27px,#0000df 0 28px,#0000cf 0 29px,#0000bf 0 30px,#0000af 0 32px,#00009f 0 33px,#0000af 0 36px,#0000bf 0 37px,#0000cf 0 38px,#0000df 0 39px,#0000ef 0 40px,#00f 0 42px,#0000ef 0 43px,#0000df 0 44px,#0000bf 0 45px,#00009f 0 46px,#0000bf 0 47px,#0000df 0 49px,#0000cf 0)"></i><i style="left:100px;background:linear-gradient(90deg,#0000af 0 2px,#0000cf 0 4px,#0000bf 0 5px,#0000af 0 8px,#0000bf 0 10px,#00009f 0 11px,#0000bf 0 12px,#0000cf 0 13px,#0000af 0 14px,#0000bf 0 15px,#0000df 0 16px,#0000cf 0 18px,#0000df 0 21px,#0000ef 0 23px,#00f 0 24px,#0000ef 0 25px,#0010ff 0 26px,#00f 0 28px,#0020ff 0 29px,#00f 0 31px,#0020ff 0 32px,#0000ef 0 33px,#00f 0 34px,#0020ff 0 35px,#0000df 0 36px,#00f 0 37px,#0020ff 0 38px,#0000cf 0 39px,#0000ef 0 40px,#0020ff 0 41px,#0000df 0 42px,#0000bf 0 43px,#0010ff 0 44px,#00f 0 45px,#0000af 0 46px,#0000df 0 47px,#0010ff 0 48px,#0000ef 0 49px,#0000bf 0)"></i><i style="left:150px;background:linear-gradient(90deg,#0000cf 0 1px,#0000ef 0 2px,#00f 0 3px,#0000ef 0 4px,#0000df 0 7px,#0000ef 0 9px,#0000df 0 12px,#0000ef 0 21px,#0000df 0 23px,#0000ef 0 25px,#0000df 0 27px,#0000cf 0 28px,#0000df 0 29px,#0000ef 0 30px,#00f 0 31px,#0000df 0 32px,#0000af 0 33px,#0000df 0 34px,#0010ff 0 35px,#0000ef 0 36px,#00009f 0 37px,#0000ef 0 38px,#0020ff 0 39px,#0000df 0 40px,#0000bf 0 41px,#0020ff 0 42px,#0010ff 0 43px,#0000bf 0 44px,#0010ff 0 45px,#0020ff 0 46px,#0000cf 0 47px,#0010ff 0 48px,#0020ff 0 49px,#0000df 0)"></i><i style="left:200px;background:linear-gradient(90deg,#0020ff 0 1px,#0010ff 0 2px,#0000ef 0 3px,#0010ff 0 4px,#00f 0 5px,#0000ef 0 6px,#0010ff 0 7px,#00f 0 8px,#0000ef 0 12px,#0000df 0 15px,#0000bf 0 16px,#0000df 0 17px,#0000cf 0 18px,#0000af 0 19px,#0000cf 0 20px,#0000bf 0 21px,#00009f 0 22px,#0000bf 0 24px,#0000af 0 26px,#0000bf 0 27px,#0000af 0 28px,#0000bf 0 29px,#0000cf 0 30px,#0000bf 0 31px,#0000af 0 32px,#0000bf 0 33px,#0000df 0 35px,#0000cf 0 36px,#0000af 0 38px,#0000cf 0 39px,#0000ef 0 40px,#00f 0 42px,#0000ef 0 44px,#0000cf 0 45px,#0000bf 0 46px,#0000af 0 49px,#00009f 0)"></i><i style="left:250px;background:linear-gradient(90deg,#0000af 0 3px,#0000bf 0 4px,#0000cf 0 5px,#0000ef 0 7px,#00f 0 9px,#0000ef 0 10px,#0000cf 0 11px,#0000af 0 13px,#0000cf 0 14px,#0000df 0 16px,#0000bf 0 17px,#0000af 0 18px,#0000bf 0 19px,#0000cf 0 20px,#0000bf 0 21px,#0000af 0 22px,#0000bf 0 23px,#0000af 0 25px,#0000bf 0 27px,#00009f 0 28px,#0000bf 0 29px,#0000cf 0 30px,#0000af 0 31px,#0000cf 0 32px,#0000df 0 33px,#0000bf 0 34px,#0000df 0 37px,#0000ef 0 41px,#00f 0 42px,#0010ff 0 43px,#0000ef 0 44px,#00f 0 45px,#0010ff 0 46px,#0000ef 0 47px,#0010ff 0 48px,#0020ff 0 49px,#0000df 0)"></i><i style="left:300px;background:linear-gradient(90deg,#0020ff 0 1px,#0010ff 0 2px,#0000cf 0 3px,#0020ff 0 4px,#0010ff 0 5px,#0000bf 0 6px,#0010ff 0 7px,#0020ff 0 8px,#0000bf 0 9px,#0000df 0 10px,#0020ff 0 11px,#0000ef 0 12px,#00009f 0 13px,#0000ef 0 14px,#0010ff 0 15px,#0000df 0 16px,#0000af 0 17px,#0000df 0 18px,#00f 0 19px,#0000ef 0 20px,#0000df 0 21px,#0000cf 0 22px,#0000df 0 24px,#0000ef 0 26px,#0000df 0 28px,#0000ef 0 37px,#0000df 0 40px,#0000ef 0 42px,#0000df 0 45px,#0000ef 0 46px,#00f 0 47px,#0000ef 0 48px,#0000cf 0 49px,#0000bf 0)"></i><i style="left:350px;background:linear-gradient(90deg,#0000ef 0 1px,#0010ff 0 2px,#0000df 0 3px,#0000af 0 4px,#00f 0 5px,#0010ff 0 6px,#0000bf 0 7px,#0000df 0 8px,#0020ff 0 9px,#0000ef 0 10px,#0000cf 0 11px,#0020ff 0 12px,#00f 0 13px,#0000df 0 14px,#0020ff 0 15px,#00f 0 16px,#0000ef 0 17px,#0020ff 0 18px,#00f 0 20px,#0020ff 0 21px,#00f 0 23px,#0010ff 0 24px,#0000ef 0 25px,#00f 0 26px,#0000ef 0 28px,#0000df 0 31px,#0000cf 0 33px,#0000df 0 34px,#0000bf 0 35px,#0000af 0 36px,#0000cf 0 37px,#0000bf 0 38px,#00009f 0 39px,#0000bf 0 41px,#0000af 0 44px,#0000bf 0 45px,#0000cf 0 47px,#0000af 0 49px,#0000cf 0)"></i><i style="left:400px;background:linear-gradient(90deg,#0000df 0 2px,#0000bf 0 3px,#00009f 0 4px,#0000bf 0 5px,#0000df 0 6px,#0000ef 0 7px,#00f 0 9px,#0000ef 0 10px,#0000df 0 11px,#0000cf 0 12px,#0000bf 0 13px,#0000af 0 16px,#00009f 0 17px,#0000af 0 19px,#0000bf 0 20px,#0000cf 0 21px,#0000df 0 22px,#0000ef 0 23px,#00f 0 26px,#0000ef 0 27px,#0000bf 0 28px,#00009f 0 29px,#0000bf 0 30px,#0000df 0 31px,#0000ef 0 32px,#0000df 0 33px,#0000bf 0 34px,#0000af 0 35px,#0000bf 0 36px,#0000cf 0 37px,#0000bf 0 38px,#0000af 0 39px,#0000bf 0 40px,#0000af 0 41px,#0000bf 0 43px,#0000af 0 45px,#0000cf 0 46px,#0000bf 0 47px,#0000af 0 48px,#0000cf 0)"></i><i style="left:450px;background:linear-gradient(90deg,#0000cf 0 1px,#0000df 0 4px,#0000ef 0 6px,#00f 0 7px,#0000ef 0 8px,#00f 0 9px,#0010ff 0 10px,#0000ef 0 11px,#0010ff 0 13px,#0000ef 0 14px,#0020ff 0 15px,#00f 0 16px,#0000ef 0 17px,#0030ff 0 18px,#00f 0 19px,#0000df 0 20px,#0030ff 0 21px,#0000ef 0 22px,#0000cf 0 23px,#0020ff 0 24px,#00f 0 25px,#0000af 0 26px,#00f 0 27px,#0010ff 0 28px,#0000cf 0 29px,#0000bf 0 30px,#00f 0 32px,#0000cf 0 33px,#0000bf 0 34px,#0000df 0 35px,#00f 0 36px,#0000ef 0 37px,#0000df 0 38px,#0000cf 0 39px,#0000df 0 41px,#0000ef 0 43px,#0000df 0 45px,#0000ef 0)"></i></div>
<div class="r" style="top:828.92px;height:35.87px"><i style="left:0px;background:linear-gradient(90deg,#0040ff 0 2px,#0050ff 0 3px,#0070ff 0 4px,#008fff 0 5px,#009fff 0 7px,#008fff 0 8px,#0060ff 0 9px,#0010ff 0 10px,#0000df 0 11px,#0040ff 0 12px,#008fff 0 13px,#00afff 0 14px,#0070ff 0 15px,#0000df 0 16px,#0030ff 0 17px,#009fff 0 19px,#00f 0 20px,#0020ff 0 21px,#00afff 0 22px,#0080ff 0 23px,#0000bf 0 24px,#0070ff 0 25px,#009fff 0 26px,#0000ef 0 27px,#0040ff 0 28px,#009fff 0 29px,#00f 0 30px,#0030ff 0 31px,#008fff 0 32px,#0000ef 0 33px,#0030ff 0 34px,#0070ff 0 35px,#0000df 0 36px,#0040ff 0 37px,#0050ff 0 38px,#0000cf 0 39px,#0040ff 0 40px,#0030ff 0 41px,#0000df 0 42px,#0030ff 0 43px,#0010ff 0 44px,#0000ef 0 45px,#0010ff 0 46px,#00f 0 48px,#0000ef 0 49px,#00f 0)"></i><i style="left:50px;background:linear-gradient(90deg,#00f 0 1px,#0000cf 0 2px,#0000ef 0 3px,#0010ff 0 4px,#0000cf 0 6px,#0010ff 0 7px,#0000ef 0 8px,#00009f 0 9px,#0000ef 0 10px,#0020ff 0 11px,#0000ef 0 12px,#00009f 0 13px,#0000ef 0 14px,#0020ff 0 15px,#0010ff 0 16px,#0000cf 0 17px,#0000af 0 18px,#0000df 0 19px,#0010ff 0 20px,#0020ff 0 21px,#00f 0 22px,#0000df 0 23px,#0000bf 0 24px,#0000af 0 25px,#0000cf 0 26px,#0000df 0 27px,#0000ef 0 28px,#00f 0 29px,#0010ff 0 37px,#00f 0 38px,#0000ef 0 39px,#0000df 0 40px,#0000bf 0 41px,#0000af 0 42px,#0000cf 0 43px,#0000ef 0 44px,#0010ff 0 45px,#0020ff 0 46px,#00f 0 47px,#0000cf 0 48px,#0000af 0 49px,#0000df 0)"></i><i style="left:100px;background:linear-gradient(90deg,#0010ff 0 2px,#0000cf 0 3px,#0000af 0 4px,#00f 0 5px,#0020ff 0 6px,#0000df 0 7px,#0000bf 0 8px,#0010ff 0 10px,#0000bf 0 11px,#0000ef 0 12px,#0010ff 0 13px,#0000df 0 15px,#00f 0 16px,#0000ef 0 18px,#00f 0 20px,#0010ff 0 21px,#0000ef 0 22px,#0020ff 0 24px,#0000df 0 25px,#0040ff 0 26px,#0010ff 0 27px,#0000ef 0 28px,#0060ff 0 29px,#00f 0 30px,#0020ff 0 31px,#0080ff 0 32px,#0000ef 0 33px,#0040ff 0 34px,#008fff 0 35px,#0000df 0 36px,#0050ff 0 37px,#009fff 0 38px,#0000ef 0 39px,#0040ff 0 40px,#00afff 0 41px,#0030ff 0 42px,#00f 0 43px,#009fff 0 44px,#008fff 0 45px,#0000df 0 46px,#0040ff 0 47px,#00afff 0 48px,#008fff 0 49px,#0000ef 0)"></i><i style="left:150px;background:linear-gradient(90deg,#0010ff 0 1px,#008fff 0 2px,#00afff 0 3px,#0080ff 0 4px,#0010ff 0 5px,#0000df 0 6px,#0030ff 0 7px,#0070ff 0 8px,#009fff 0 9px,#00afff 0 10px,#009fff 0 11px,#0080ff 0 12px,#0070ff 0 13px,#0050ff 0 14px,#0040ff 0 15px,#0030ff 0 17px,#0040ff 0 18px,#0050ff 0 19px,#0060ff 0 20px,#0080ff 0 21px,#008fff 0 22px,#009fff 0 24px,#0080ff 0 25px,#0050ff 0 26px,#0000ef 0 27px,#00f 0 28px,#0060ff 0 29px,#00afff 0 30px,#009fff 0 31px,#0040ff 0 32px,#0000cf 0 33px,#0060ff 0 34px,#00afff 0 35px,#0070ff 0 36px,#0000cf 0 37px,#0060ff 0 38px,#00afff 0 39px,#0040ff 0 40px,#0000df 0 41px,#009fff 0 42px,#0080ff 0 43px,#0000bf 0 44px,#0080ff 0 46px,#0000bf 0 47px,#0070ff 0 49px,#0000bf 0)"></i><i style="left:200px;background:linear-gradient(90deg,#0060ff 0 1px,#0050ff 0 2px,#0000cf 0 3px,#0060ff 0 4px,#0030ff 0 5px,#0000ef 0 6px,#0050ff 0 7px,#00f 0 9px,#0030ff 0 10px,#0000ef 0 11px,#00f 0 12px,#0010ff 0 13px,#00f 0 15px,#0000ef 0 16px,#00f 0 17px,#0000ef 0 18px,#0000cf 0 19px,#00f 0 21px,#0000bf 0 22px,#0000ef 0 23px,#0010ff 0 24px,#0000df 0 25px,#0000bf 0 26px,#0010ff 0 28px,#0000cf 0 29px,#0000af 0 30px,#00f 0 31px,#0020ff 0 32px,#00f 0 33px,#0000bf 0 35px,#0000ef 0 36px,#0010ff 0 38px,#00f 0 39px,#0000cf 0 40px,#0000bf 0 42px,#0000cf 0 43px,#0000ef 0 44px,#00f 0 46px,#0010ff 0)"></i><i style="left:250px;background:linear-gradient(90deg,#0010ff 0 3px,#00f 0 5px,#0000ef 0 6px,#0000cf 0 7px,#0000bf 0 9px,#0000cf 0 10px,#00f 0 11px,#0010ff 0 13px,#0000ef 0 14px,#0000bf 0 16px,#00f 0 17px,#0020ff 0 18px,#00f 0 19px,#0000af 0 20px,#0000cf 0 21px,#0010ff 0 23px,#0000bf 0 24px,#0000df 0 25px,#0010ff 0 26px,#0000ef 0 27px,#0000bf 0 28px,#00f 0 30px,#0000cf 0 31px,#0000ef 0 32px,#00f 0 33px,#0000ef 0 34px,#00f 0 36px,#0010ff 0 37px,#00f 0 38px,#0000ef 0 39px,#0030ff 0 40px,#00f 0 42px,#0050ff 0 43px,#0000ef 0 44px,#0030ff 0 45px,#0060ff 0 46px,#0000cf 0 47px,#0050ff 0 48px,#0060ff 0 49px,#0000bf 0)"></i><i style="left:300px;background:linear-gradient(90deg,#0070ff 0 2px,#0000bf 0 3px,#0080ff 0 5px,#0000bf 0 6px,#0080ff 0 7px,#009fff 0 8px,#0000df 0 9px,#0040ff 0 10px,#00afff 0 11px,#0060ff 0 12px,#0000cf 0 13px,#0070ff 0 14px,#00afff 0 15px,#0060ff 0 16px,#0000cf 0 17px,#0040ff 0 18px,#009fff 0 19px,#00afff 0 20px,#0060ff 0 21px,#00f 0 22px,#0000ef 0 23px,#0050ff 0 24px,#0080ff 0 25px,#009fff 0 27px,#008fff 0 28px,#0080ff 0 29px,#0060ff 0 30px,#0050ff 0 31px,#0040ff 0 32px,#0030ff 0 34px,#0040ff 0 35px,#0050ff 0 36px,#0070ff 0 37px,#0080ff 0 38px,#009fff 0 39px,#00afff 0 40px,#009fff 0 41px,#0070ff 0 42px,#0030ff 0 43px,#0000df 0 44px,#0010ff 0 45px,#0080ff 0 46px,#00afff 0 47px,#008fff 0 48px,#0010ff 0 49px,#0000ef 0)"></i><i style="left:350px;background:linear-gradient(90deg,#008fff 0 1px,#00afff 0 2px,#0040ff 0 3px,#0000df 0 4px,#008fff 0 5px,#009fff 0 6px,#00f 0 7px,#0030ff 0 8px,#00afff 0 9px,#0040ff 0 10px,#0000ef 0 11px,#009fff 0 12px,#0050ff 0 13px,#0000df 0 14px,#008fff 0 15px,#0040ff 0 16px,#0000ef 0 17px,#0080ff 0 18px,#0020ff 0 19px,#00f 0 20px,#0060ff 0 21px,#0000ef 0 22px,#0010ff 0 23px,#0040ff 0 24px,#0000df 0 25px,#0020ff 0 27px,#0000ef 0 28px,#0010ff 0 29px,#00f 0 31px,#0000ef 0 33px,#00f 0 34px,#0000df 0 36px,#0010ff 0 37px,#0000ef 0 38px,#0000bf 0 39px,#0010ff 0 41px,#0000bf 0 42px,#0000df 0 43px,#0020ff 0 44px,#00f 0 45px,#0000af 0 46px,#0000cf 0 47px,#0010ff 0 49px,#0000df 0)"></i><i style="left:400px;background:linear-gradient(90deg,#0000af 0 1px,#0000cf 0 2px,#00f 0 3px,#0020ff 0 4px,#0010ff 0 5px,#0000ef 0 6px,#0000cf 0 7px,#0000af 0 8px,#0000bf 0 9px,#0000df 0 10px,#0000ef 0 11px,#00f 0 12px,#0010ff 0 20px,#00f 0 21px,#0000ef 0 22px,#0000df 0 23px,#0000cf 0 24px,#0000af 0 25px,#0000bf 0 26px,#0000df 0 27px,#00f 0 28px,#0020ff 0 29px,#0010ff 0 30px,#0000df 0 31px,#0000af 0 32px,#0000cf 0 33px,#0010ff 0 34px,#0020ff 0 35px,#0000ef 0 36px,#00009f 0 37px,#0000ef 0 38px,#0020ff 0 39px,#0000ef 0 40px,#00009f 0 41px,#0000ef 0 42px,#0010ff 0 43px,#0000cf 0 45px,#0010ff 0 46px,#0000ef 0 47px,#0000cf 0 48px,#00f 0)"></i><i style="left:450px;background:linear-gradient(90deg,#0000ef 0 1px,#00f 0 3px,#0010ff 0 4px,#0000ef 0 5px,#0010ff 0 6px,#0030ff 0 7px,#0000df 0 8px,#0030ff 0 9px,#0040ff 0 10px,#0000cf 0 11px,#0050ff 0 12px,#0040ff 0 13px,#0000df 0 14px,#0070ff 0 15px,#0030ff 0 16px,#0000ef 0 17px,#008fff 0 18px,#0030ff 0 19px,#00f 0 20px,#009fff 0 21px,#0040ff 0 22px,#0000ef 0 23px,#009fff 0 24px,#0070ff 0 25px,#0000bf 0 26px,#0080ff 0 27px,#00afff 0 28px,#0020ff 0 29px,#00f 0 30px,#009fff 0 32px,#0030ff 0 33px,#0000df 0 34px,#0070ff 0 35px,#00afff 0 36px,#008fff 0 37px,#0040ff 0 38px,#0000df 0 39px,#0010ff 0 40px,#0060ff 0 41px,#008fff 0 42px,#009fff 0 44px,#008fff 0 45px,#0070ff 0 46px,#0050ff 0 47px,#0040ff 0 49px,#0030ff 0)"></i></div>
<div class="r" style="top:864.19px;height:18.24px"><i style="left:0px;background:linear-gradient(90deg,#0040ff 0 1px,#0050ff 0 2px,#0060ff 0 3px,#0080ff 0 4px,#009fff 0 5px,#00bfff 0 7px,#00afff 0 8px,#0070ff 0 9px,#0010ff 0 10px,#0000df 0 11px,#0040ff 0 12px,#00afff 0 13px,#00bfff 0 14px,#0070ff 0 15px,#0000ef 0 16px,#0030ff 0 17px,#00afff 0 18px,#009fff 0 19px,#0010ff 0 20px,#0030ff 0 21px,#00afff 0 22px,#0080ff 0 23px,#00f 0 24px,#0070ff 0 25px,#009fff 0 26px,#0020ff 0 27px,#0050ff 0 28px,#008fff 0 29px,#0040ff 0 30px,#0050ff 0 31px,#0080ff 0 32px,#0040ff 0 33px,#0050ff 0 34px,#0070ff 0 35px,#0050ff 0 36px,#0060ff 0 37px,#0050ff 0 38px,#0060ff 0 39px,#0050ff 0 41px,#0070ff 0 42px,#0040ff 0 43px,#0060ff 0 44px,#0080ff 0 45px,#0020ff 0 46px,#0070ff 0 47px,#0080ff 0 48px,#0010ff 0 49px,#0070ff 0)"></i><i style="left:50px;background:linear-gradient(90deg,#008fff 0 1px,#00f 0 2px,#0060ff 0 3px,#009fff 0 4px,#0020ff 0 5px,#0030ff 0 6px,#009fff 0 7px,#0060ff 0 8px,#0000ef 0 9px,#0060ff 0 10px,#008fff 0 11px,#0050ff 0 12px,#0000ef 0 13px,#0040ff 0 14px,#008fff 0 15px,#0070ff 0 16px,#0020ff 0 17px,#0000ef 0 18px,#0030ff 0 19px,#0070ff 0 20px,#0080ff 0 21px,#0060ff 0 22px,#0030ff 0 23px,#00f 0 24px,#0000ef 0 25px,#0010ff 0 26px,#0030ff 0 27px,#0040ff 0 28px,#0050ff 0 29px,#0060ff 0 31px,#0070ff 0 34px,#0060ff 0 37px,#0050ff 0 38px,#0040ff 0 39px,#0020ff 0 40px,#00f 0 41px,#0000ef 0 42px,#00f 0 43px,#0040ff 0 44px,#0070ff 0 45px,#0080ff 0 46px,#0060ff 0 47px,#0020ff 0 48px,#0000ef 0 49px,#0040ff 0)"></i><i style="left:100px;background:linear-gradient(90deg,#0080ff 0 2px,#0020ff 0 3px,#00f 0 4px,#0070ff 0 5px,#008fff 0 6px,#0030ff 0 7px,#00f 0 8px,#0080ff 0 10px,#00f 0 11px,#0050ff 0 12px,#009fff 0 13px,#0030ff 0 15px,#009fff 0 16px,#0040ff 0 17px,#0030ff 0 18px,#008fff 0 19px,#0040ff 0 21px,#0080ff 0 22px,#0040ff 0 23px,#0050ff 0 24px,#0070ff 0 25px,#0040ff 0 26px,#0060ff 0 28px,#0050ff 0 31px,#0070ff 0 32px,#0040ff 0 33px,#0060ff 0 34px,#0080ff 0 35px,#0030ff 0 36px,#0060ff 0 37px,#008fff 0 38px,#0030ff 0 39px,#0050ff 0 40px,#009fff 0 41px,#0040ff 0 42px,#0020ff 0 43px,#009fff 0 44px,#008fff 0 45px,#00f 0 46px,#0050ff 0 47px,#00bfff 0 48px,#008fff 0 49px,#00f 0)"></i><i style="left:150px;background:linear-gradient(90deg,#0020ff 0 1px,#009fff 0 2px,#00bfff 0 3px,#008fff 0 4px,#0020ff 0 5px,#0000df 0 6px,#0030ff 0 7px,#008fff 0 8px,#00bfff 0 10px,#00afff 0 11px,#009fff 0 12px,#0080ff 0 13px,#0060ff 0 14px,#0040ff 0 16px,#0030ff 0 17px,#0040ff 0 18px,#0050ff 0 19px,#0070ff 0 20px,#008fff 0 21px,#00afff 0 22px,#00bfff 0 24px,#009fff 0 25px,#0050ff 0 26px,#0000ef 0 28px,#0070ff 0 29px,#00bfff 0 30px,#00afff 0 31px,#0050ff 0 32px,#0000df 0 33px,#0070ff 0 34px,#00bfff 0 35px,#0080ff 0 36px,#0000ef 0 37px,#0060ff 0 38px,#00afff 0 39px,#0050ff 0 40px,#0010ff 0 41px,#009fff 0 42px,#0080ff 0 43px,#0010ff 0 44px,#0080ff 0 46px,#0020ff 0 47px,#0070ff 0 49px,#0040ff 0)"></i><i style="left:200px;background:linear-gradient(90deg,#0060ff 0 2px,#0050ff 0 3px,#0060ff 0 6px,#0040ff 0 7px,#0060ff 0 8px,#0070ff 0 9px,#0030ff 0 10px,#0070ff 0 11px,#0060ff 0 12px,#0020ff 0 13px,#008fff 0 14px,#0060ff 0 15px,#0010ff 0 16px,#008fff 0 17px,#0060ff 0 18px,#00f 0 19px,#008fff 0 20px,#0080ff 0 21px,#0000ef 0 22px,#0060ff 0 23px,#009fff 0 24px,#0030ff 0 25px,#00f 0 26px,#0080ff 0 27px,#008fff 0 28px,#0020ff 0 29px,#00f 0 30px,#0060ff 0 31px,#008fff 0 32px,#0050ff 0 33px,#00f 0 35px,#0050ff 0 36px,#0080ff 0 37px,#0070ff 0 38px,#0050ff 0 39px,#0010ff 0 40px,#0000ef 0 42px,#0010ff 0 43px,#0030ff 0 44px,#0050ff 0 45px,#0060ff 0 48px,#0070ff 0)"></i><i style="left:250px;background:linear-gradient(90deg,#0070ff 0 1px,#0060ff 0 4px,#0050ff 0 5px,#0030ff 0 6px,#0010ff 0 7px,#0000ef 0 9px,#0010ff 0 10px,#0050ff 0 11px,#0070ff 0 12px,#0080ff 0 13px,#0050ff 0 14px,#00f 0 16px,#0050ff 0 17px,#008fff 0 18px,#0060ff 0 19px,#00f 0 20px,#0020ff 0 21px,#008fff 0 22px,#0080ff 0 23px,#00f 0 24px,#0030ff 0 25px,#009fff 0 26px,#0060ff 0 27px,#0000ef 0 28px,#0080ff 0 29px,#008fff 0 30px,#00f 0 31px,#0060ff 0 32px,#008fff 0 33px,#0010ff 0 34px,#0060ff 0 35px,#008fff 0 36px,#0020ff 0 37px,#0060ff 0 38px,#0070ff 0 39px,#0030ff 0 40px,#0070ff 0 41px,#0060ff 0 42px,#0040ff 0 43px,#0060ff 0 46px,#0050ff 0 47px,#0060ff 0 49px,#0040ff 0)"></i><i style="left:300px;background:linear-gradient(90deg,#0070ff 0 2px,#0020ff 0 3px,#0080ff 0 5px,#0010ff 0 6px,#0080ff 0 7px,#009fff 0 8px,#0010ff 0 9px,#0050ff 0 10px,#00afff 0 11px,#0060ff 0 12px,#0000ef 0 13px,#0080ff 0 14px,#00bfff 0 15px,#0070ff 0 16px,#0000df 0 17px,#0050ff 0 18px,#00afff 0 19px,#00bfff 0 20px,#0070ff 0 21px,#0000ef 0 23px,#0050ff 0 24px,#009fff 0 25px,#00bfff 0 27px,#00afff 0 28px,#008fff 0 29px,#0070ff 0 30px,#0050ff 0 31px,#0040ff 0 32px,#0030ff 0 33px,#0040ff 0 35px,#0060ff 0 36px,#0080ff 0 37px,#009fff 0 38px,#00afff 0 39px,#00bfff 0 41px,#008fff 0 42px,#0030ff 0 43px,#0000df 0 44px,#0020ff 0 45px,#008fff 0 46px,#00bfff 0 47px,#009fff 0 48px,#0020ff 0 49px,#00f 0)"></i><i style="left:350px;background:linear-gradient(90deg,#008fff 0 1px,#00bfff 0 2px,#0050ff 0 3px,#00f 0 4px,#008fff 0 5px,#009fff 0 6px,#0020ff 0 7px,#0040ff 0 8px,#009fff 0 9px,#0050ff 0 10px,#0030ff 0 11px,#008fff 0 12px,#0060ff 0 13px,#0030ff 0 14px,#0080ff 0 15px,#0060ff 0 16px,#0040ff 0 17px,#0070ff 0 18px,#0050ff 0 21px,#0060ff 0 23px,#0040ff 0 24px,#0070ff 0 25px,#0050ff 0 26px,#0040ff 0 27px,#0080ff 0 28px,#0040ff 0 30px,#008fff 0 31px,#0030ff 0 32px,#0040ff 0 33px,#009fff 0 34px,#0030ff 0 36px,#009fff 0 37px,#0050ff 0 38px,#00f 0 39px,#0080ff 0 41px,#00f 0 42px,#0030ff 0 43px,#008fff 0 44px,#0070ff 0 45px,#00f 0 46px,#0020ff 0 47px,#0080ff 0 49px,#0040ff 0)"></i><i style="left:400px;background:linear-gradient(90deg,#0000ef 0 1px,#0020ff 0 2px,#0060ff 0 3px,#0080ff 0 4px,#0070ff 0 5px,#0040ff 0 6px,#00f 0 7px,#0000ef 0 8px,#00f 0 9px,#0020ff 0 10px,#0040ff 0 11px,#0050ff 0 12px,#0060ff 0 15px,#0070ff 0 18px,#0060ff 0 20px,#0050ff 0 21px,#0040ff 0 22px,#0030ff 0 23px,#0010ff 0 24px,#0000ef 0 25px,#00f 0 26px,#0030ff 0 27px,#0060ff 0 28px,#0080ff 0 29px,#0070ff 0 30px,#0030ff 0 31px,#0000ef 0 32px,#0020ff 0 33px,#0070ff 0 34px,#008fff 0 35px,#0040ff 0 36px,#0000ef 0 37px,#0050ff 0 38px,#008fff 0 39px,#0060ff 0 40px,#0000ef 0 41px,#0060ff 0 42px,#009fff 0 43px,#0030ff 0 44px,#0020ff 0 45px,#009fff 0 46px,#0060ff 0 47px,#00f 0 48px,#008fff 0 49px,#0070ff 0)"></i><i style="left:450px;background:linear-gradient(90deg,#0010ff 0 1px,#0080ff 0 2px,#0070ff 0 3px,#0020ff 0 4px,#0080ff 0 5px,#0060ff 0 6px,#0040ff 0 7px,#0070ff 0 8px,#0050ff 0 10px,#0060ff 0 11px,#0050ff 0 12px,#0060ff 0 13px,#0050ff 0 14px,#0070ff 0 15px,#0050ff 0 16px,#0040ff 0 17px,#0080ff 0 18px,#0050ff 0 19px,#0040ff 0 20px,#008fff 0 21px,#0050ff 0 22px,#0020ff 0 23px,#009fff 0 24px,#0070ff 0 25px,#00f 0 26px,#0080ff 0 27px,#00afff 0 28px,#0030ff 0 29px,#0010ff 0 30px,#009fff 0 31px,#00afff 0 32px,#0030ff 0 33px,#0000ef 0 34px,#0070ff 0 35px,#00bfff 0 36px,#00afff 0 37px,#0040ff 0 38px,#0000df 0 39px,#0010ff 0 40px,#0070ff 0 41px,#00afff 0 42px,#00bfff 0 44px,#009fff 0 45px,#0080ff 0 46px,#0060ff 0 47px,#0050ff 0 48px,#0040ff 0 49px,#0030ff 0)"></i></div>
<div class="r" style="top:881.83px;height:18.24px"><i style="left:0px;background:linear-gradient(90deg,#0000df 0 2px,#0000ef 0 3px,#00f 0 5px,#0010ff 0 8px,#0000ef 0 9px,#0000bf 0 10px,#00009f 0 11px,#0000cf 0 12px,#00f 0 13px,#0010ff 0 14px,#0000ef 0 15px,#0000af 0 16px,#0000cf 0 17px,#00f 0 19px,#0000cf 0 20px,#0000df 0 21px,#00f 0 22px,#0000ef 0 23px,#0000df 0 24px,#0000ef 0 25px,#00f 0 28px,#0000ef 0 29px,#0020ff 0 31px,#0000ef 0 32px,#0030ff 0 33px,#0020ff 0 34px,#0000ef 0 35px,#0050ff 0 36px,#0020ff 0 37px,#00f 0 38px,#0070ff 0 39px,#0010ff 0 40px,#0020ff 0 41px,#0080ff 0 42px,#00f 0 43px,#0050ff 0 44px,#0080ff 0 45px,#0000ef 0 46px,#0060ff 0 47px,#0080ff 0 48px,#0000ef 0 49px,#0070ff 0)"></i><i style="left:50px;background:linear-gradient(90deg,#008fff 0 1px,#00f 0 2px,#0060ff 0 3px,#008fff 0 4px,#0020ff 0 5px,#0030ff 0 6px,#008fff 0 7px,#0060ff 0 8px,#0010ff 0 9px,#0060ff 0 10px,#008fff 0 11px,#0050ff 0 12px,#0020ff 0 13px,#0050ff 0 14px,#0080ff 0 15px,#0070ff 0 16px,#0040ff 0 18px,#0050ff 0 19px,#0070ff 0 21px,#0060ff 0 22px,#0050ff 0 27px,#0060ff 0 39px,#0050ff 0 43px,#0060ff 0 45px,#0070ff 0 46px,#0060ff 0 47px,#0050ff 0 48px,#0030ff 0 49px,#0050ff 0)"></i><i style="left:100px;background:linear-gradient(90deg,#0070ff 0 2px,#0040ff 0 3px,#0030ff 0 4px,#0070ff 0 5px,#0080ff 0 6px,#0040ff 0 7px,#0020ff 0 8px,#0080ff 0 10px,#0010ff 0 11px,#0050ff 0 12px,#008fff 0 13px,#0030ff 0 15px,#009fff 0 16px,#0030ff 0 17px,#0020ff 0 18px,#008fff 0 19px,#0030ff 0 20px,#0020ff 0 21px,#008fff 0 22px,#0010ff 0 23px,#0030ff 0 24px,#0080ff 0 25px,#0000ef 0 26px,#0040ff 0 27px,#0060ff 0 28px,#0000df 0 29px,#0050ff 0 30px,#0040ff 0 31px,#0000df 0 32px,#0040ff 0 33px,#0020ff 0 34px,#0000ef 0 35px,#0020ff 0 36px,#0010ff 0 37px,#0000ef 0 38px,#0010ff 0 39px,#00f 0 41px,#0000ef 0 42px,#0000df 0 43px,#00f 0 45px,#0000cf 0 46px,#0000df 0 47px,#00f 0 49px,#0000bf 0)"></i><i style="left:150px;background:linear-gradient(90deg,#0000bf 0 1px,#00f 0 2px,#0010ff 0 3px,#0000ef 0 4px,#0000bf 0 5px,#00009f 0 6px,#0000cf 0 7px,#0000ef 0 8px,#0010ff 0 11px,#00f 0 12px,#0000ef 0 13px,#0000df 0 19px,#0000ef 0 20px,#00f 0 21px,#0010ff 0 24px,#00f 0 25px,#0000df 0 26px,#0000af 0 28px,#0000ef 0 29px,#0010ff 0 30px,#00f 0 31px,#0000df 0 32px,#0000af 0 33px,#0000df 0 34px,#0010ff 0 35px,#0000ef 0 36px,#0000bf 0 37px,#0000ef 0 38px,#00f 0 39px,#0000ef 0 41px,#00f 0 46px,#0020ff 0 47px,#00f 0 49px,#0040ff 0)"></i><i style="left:200px;background:linear-gradient(90deg,#00f 0 1px,#0010ff 0 2px,#0060ff 0 3px,#0000ef 0 4px,#0030ff 0 5px,#0070ff 0 6px,#0000df 0 7px,#0060ff 0 9px,#0000df 0 10px,#0080ff 0 11px,#0060ff 0 12px,#0000ef 0 13px,#008fff 0 14px,#0060ff 0 15px,#00f 0 16px,#008fff 0 17px,#0060ff 0 18px,#00f 0 19px,#0080ff 0 21px,#00f 0 22px,#0060ff 0 23px,#008fff 0 24px,#0040ff 0 25px,#0020ff 0 26px,#0080ff 0 28px,#0040ff 0 29px,#0030ff 0 30px,#0060ff 0 31px,#0080ff 0 32px,#0060ff 0 33px,#0040ff 0 35px,#0060ff 0 36px,#0070ff 0 38px,#0060ff 0 39px,#0050ff 0 43px,#0060ff 0)"></i><i style="left:250px;background:linear-gradient(90deg,#0060ff 0 6px,#0050ff 0 10px,#0060ff 0 11px,#0070ff 0 13px,#0060ff 0 14px,#0040ff 0 16px,#0060ff 0 17px,#0080ff 0 18px,#0060ff 0 19px,#0030ff 0 20px,#0040ff 0 21px,#0080ff 0 23px,#0020ff 0 24px,#0040ff 0 25px,#008fff 0 26px,#0060ff 0 27px,#00f 0 28px,#0080ff 0 30px,#00f 0 31px,#0060ff 0 32px,#008fff 0 33px,#00f 0 34px,#0060ff 0 35px,#008fff 0 36px,#0000ef 0 37px,#0060ff 0 38px,#0080ff 0 39px,#0000df 0 40px,#0060ff 0 42px,#0000df 0 43px,#0070ff 0 44px,#0030ff 0 45px,#0000ef 0 46px,#0060ff 0 47px,#0010ff 0 48px,#00f 0 49px,#0040ff 0)"></i><i style="left:300px;background:linear-gradient(90deg,#00f 0 2px,#0020ff 0 3px,#00f 0 8px,#0000ef 0 10px,#00f 0 11px,#0000ef 0 12px,#0000bf 0 13px,#0000ef 0 14px,#0010ff 0 15px,#0000df 0 16px,#0000af 0 17px,#0000df 0 18px,#00f 0 19px,#0010ff 0 20px,#0000ef 0 21px,#0000af 0 23px,#0000df 0 24px,#00f 0 25px,#0010ff 0 28px,#00f 0 29px,#0000ef 0 30px,#0000df 0 36px,#0000ef 0 37px,#00f 0 38px,#0010ff 0 41px,#0000ef 0 42px,#0000cf 0 43px,#00009f 0 44px,#0000bf 0 45px,#0000ef 0 46px,#0010ff 0 47px,#00f 0 48px,#0000bf 0)"></i><i style="left:350px;background:linear-gradient(90deg,#00f 0 2px,#0000df 0 3px,#0000cf 0 4px,#00f 0 6px,#0000df 0 7px,#0000ef 0 8px,#00f 0 10px,#0010ff 0 11px,#0000ef 0 12px,#0010ff 0 13px,#0020ff 0 14px,#0000ef 0 15px,#0020ff 0 16px,#0040ff 0 17px,#0000df 0 18px,#0040ff 0 19px,#0050ff 0 20px,#0000df 0 21px,#0060ff 0 22px,#0040ff 0 23px,#0000ef 0 24px,#0080ff 0 25px,#0030ff 0 26px,#0010ff 0 27px,#008fff 0 28px,#0020ff 0 29px,#0030ff 0 30px,#008fff 0 31px,#0020ff 0 32px,#0030ff 0 33px,#009fff 0 34px,#0030ff 0 36px,#008fff 0 37px,#0050ff 0 38px,#0010ff 0 39px,#0080ff 0 41px,#0020ff 0 42px,#0040ff 0 43px,#0080ff 0 44px,#0070ff 0 45px,#0030ff 0 46px,#0040ff 0 47px,#0070ff 0 49px,#0050ff 0)"></i><i style="left:400px;background:linear-gradient(90deg,#0030ff 0 1px,#0050ff 0 2px,#0060ff 0 3px,#0070ff 0 4px,#0060ff 0 6px,#0050ff 0 10px,#0060ff 0 22px,#0050ff 0 27px,#0060ff 0 28px,#0070ff 0 30px,#0050ff 0 31px,#0040ff 0 33px,#0070ff 0 34px,#0080ff 0 35px,#0050ff 0 36px,#0020ff 0 37px,#0050ff 0 38px,#008fff 0 39px,#0060ff 0 40px,#0010ff 0 41px,#0060ff 0 42px,#008fff 0 43px,#0030ff 0 44px,#0020ff 0 45px,#008fff 0 46px,#0060ff 0 47px,#00f 0 48px,#008fff 0 49px,#0070ff 0)"></i><i style="left:450px;background:linear-gradient(90deg,#0000ef 0 1px,#0080ff 0 2px,#0060ff 0 3px,#0000ef 0 4px,#0080ff 0 5px,#0050ff 0 6px,#00f 0 7px,#0080ff 0 8px,#0020ff 0 9px,#0010ff 0 10px,#0070ff 0 11px,#00f 0 12px,#0020ff 0 13px,#0050ff 0 14px,#0000ef 0 15px,#0020ff 0 16px,#0030ff 0 17px,#0000ef 0 18px,#0020ff 0 20px,#0000ef 0 21px,#00f 0 24px,#0000ef 0 25px,#0000df 0 26px,#0000ef 0 27px,#00f 0 28px,#0000df 0 29px,#0000cf 0 30px,#00f 0 32px,#0000cf 0 33px,#0000af 0 34px,#0000ef 0 35px,#0010ff 0 36px,#00f 0 37px,#0000cf 0 38px,#00009f 0 39px,#0000bf 0 40px,#0000ef 0 41px,#0010ff 0 44px,#00f 0 46px,#0000ef 0 47px,#0000df 0)"></i></div>
<div class="r" style="top:899.47px;height:18.24px"><i style="left:0px;background:linear-gradient(90deg,#0060ff 0 5px,#0050ff 0 10px,#0040ff 0 12px,#0050ff 0 14px,#0040ff 0 15px,#0020ff 0 16px,#0030ff 0 17px,#0050ff 0 18px,#0040ff 0 19px,#0010ff 0 21px,#0050ff 0 22px,#0030ff 0 23px,#0000cf 0 24px,#0020ff 0 25px,#0040ff 0 26px,#0000cf 0 27px,#00f 0 28px,#0040ff 0 29px,#0000cf 0 30px,#0000ef 0 31px,#0030ff 0 32px,#0000cf 0 33px,#0000ef 0 34px,#0020ff 0 35px,#0000bf 0 36px,#0000ef 0 37px,#00f 0 38px,#0000bf 0 39px,#0000ef 0 41px,#0000cf 0 42px,#0000df 0 43px,#0000cf 0 45px,#0000bf 0 46px,#0000cf 0 47px,#0000df 0 48px,#0000af 0 49px,#0000cf 0)"></i><i style="left:50px;background:linear-gradient(90deg,#0000df 0 1px,#00009f 0 2px,#0000cf 0 3px,#0000df 0 4px,#0000bf 0 6px,#0000df 0 7px,#0000cf 0 9px,#0000df 0 12px,#0000ef 0 14px,#0000df 0 16px,#00f 0 17px,#0010ff 0 18px,#00f 0 19px,#0000df 0 21px,#0000ef 0 22px,#0010ff 0 23px,#0020ff 0 24px,#0030ff 0 25px,#0020ff 0 26px,#0010ff 0 27px,#00f 0 28px,#0000ef 0 30px,#0000df 0 36px,#0000ef 0 37px,#00f 0 38px,#0010ff 0 39px,#0020ff 0 40px,#0030ff 0 42px,#0020ff 0 43px,#00f 0 44px,#0000df 0 46px,#0000ef 0 47px,#0010ff 0 49px,#00f 0)"></i><i style="left:100px;background:linear-gradient(90deg,#0000df 0 2px,#0000ef 0 4px,#0000df 0 7px,#0000cf 0 8px,#0000df 0 10px,#0000bf 0 11px,#0000cf 0 12px,#0000df 0 13px,#0000af 0 14px,#0000bf 0 15px,#0000df 0 16px,#0000bf 0 18px,#0000df 0 19px,#0000cf 0 22px,#0000df 0 24px,#0000cf 0 25px,#0000ef 0 26px,#0000df 0 27px,#0000cf 0 28px,#0010ff 0 29px,#0000cf 0 30px,#0000df 0 31px,#0020ff 0 32px,#0000bf 0 33px,#00f 0 34px,#0030ff 0 35px,#0000bf 0 36px,#00f 0 37px,#0040ff 0 38px,#0000cf 0 39px,#00f 0 40px,#0040ff 0 41px,#00f 0 42px,#0000ef 0 43px,#0040ff 0 45px,#00f 0 46px,#0020ff 0 47px,#0050ff 0 48px,#0040ff 0 49px,#0020ff 0)"></i><i style="left:150px;background:linear-gradient(90deg,#0030ff 0 1px,#0050ff 0 4px,#0040ff 0 6px,#0050ff 0 11px,#0060ff 0 22px,#0050ff 0 27px,#0040ff 0 28px,#0050ff 0 31px,#0030ff 0 32px,#0020ff 0 33px,#0030ff 0 34px,#0050ff 0 35px,#0030ff 0 36px,#00f 0 37px,#0020ff 0 38px,#0050ff 0 39px,#0010ff 0 40px,#0000df 0 41px,#0040ff 0 42px,#0030ff 0 43px,#0000af 0 44px,#0020ff 0 45px,#0030ff 0 46px,#00009f 0 47px,#0010ff 0 48px,#0020ff 0 49px,#00009f 0)"></i><i style="left:200px;background:linear-gradient(90deg,#0010ff 0 1px,#00f 0 2px,#0000af 0 3px,#0010ff 0 4px,#0000ef 0 5px,#0000cf 0 6px,#00f 0 7px,#0000df 0 8px,#0000cf 0 9px,#0000df 0 10px,#0000cf 0 12px,#0000bf 0 13px,#0000df 0 14px,#0000cf 0 15px,#0000af 0 16px,#0000df 0 17px,#0000cf 0 18px,#00009f 0 19px,#0000df 0 20px,#0000cf 0 21px,#0000af 0 22px,#0000cf 0 23px,#0000df 0 24px,#0000cf 0 25px,#0000df 0 28px,#0000ef 0 30px,#0000df 0 32px,#0000ef 0 33px,#0010ff 0 35px,#00f 0 36px,#0000df 0 38px,#00f 0 39px,#0020ff 0 40px,#0030ff 0 42px,#0020ff 0 43px,#0010ff 0 44px,#00f 0 45px,#0000ef 0 46px,#0000df 0)"></i><i style="left:250px;background:linear-gradient(90deg,#0000df 0 3px,#0000ef 0 4px,#00f 0 5px,#0010ff 0 6px,#0020ff 0 7px,#0030ff 0 9px,#0020ff 0 10px,#00f 0 11px,#0000df 0 13px,#00f 0 14px,#0010ff 0 16px,#0000ef 0 17px,#0000df 0 19px,#0000ef 0 21px,#0000df 0 24px,#0000cf 0 25px,#0000df 0 26px,#0000cf 0 27px,#0000af 0 28px,#0000cf 0 29px,#0000df 0 30px,#00009f 0 31px,#0000cf 0 32px,#0000df 0 33px,#0000af 0 34px,#0000cf 0 35px,#0000df 0 36px,#0000bf 0 37px,#0000cf 0 39px,#0000df 0 40px,#0000cf 0 41px,#0000df 0 42px,#00f 0 43px,#0000cf 0 44px,#0000ef 0 45px,#0010ff 0 46px,#0000af 0 47px,#00f 0 48px,#0010ff 0 49px,#00009f 0)"></i><i style="left:300px;background:linear-gradient(90deg,#0020ff 0 1px,#0010ff 0 2px,#00009f 0 3px,#0030ff 0 4px,#0020ff 0 5px,#0000af 0 6px,#0030ff 0 7px,#0040ff 0 8px,#0000df 0 9px,#0010ff 0 10px,#0050ff 0 11px,#0020ff 0 12px,#00f 0 13px,#0030ff 0 14px,#0050ff 0 15px,#0030ff 0 16px,#0020ff 0 17px,#0030ff 0 18px,#0050ff 0 21px,#0040ff 0 22px,#0050ff 0 27px,#0060ff 0 38px,#0050ff 0 43px,#0040ff 0 45px,#0050ff 0 48px,#0030ff 0 49px,#0020ff 0)"></i><i style="left:350px;background:linear-gradient(90deg,#0040ff 0 1px,#0050ff 0 2px,#0020ff 0 3px,#00f 0 4px,#0040ff 0 6px,#0000ef 0 7px,#00f 0 8px,#0040ff 0 9px,#00f 0 10px,#0000cf 0 11px,#0040ff 0 12px,#00f 0 13px,#0000bf 0 14px,#0030ff 0 15px,#00f 0 16px,#0000bf 0 17px,#0020ff 0 18px,#0000df 0 19px,#0000cf 0 20px,#0010ff 0 21px,#0000cf 0 22px,#0000df 0 23px,#0000ef 0 24px,#0000cf 0 25px,#0000df 0 27px,#0000cf 0 30px,#0000df 0 31px,#0000bf 0 33px,#0000df 0 34px,#0000bf 0 35px,#0000af 0 36px,#0000df 0 37px,#0000cf 0 38px,#0000bf 0 39px,#0000df 0 41px,#0000cf 0 42px,#0000df 0 45px,#0000ef 0 47px,#0000df 0 49px,#00f 0)"></i><i style="left:400px;background:linear-gradient(90deg,#0010ff 0 2px,#0000ef 0 3px,#0000df 0 5px,#00f 0 6px,#0020ff 0 7px,#0030ff 0 9px,#0020ff 0 10px,#0010ff 0 11px,#00f 0 12px,#0000ef 0 13px,#0000df 0 19px,#0000ef 0 21px,#00f 0 22px,#0010ff 0 23px,#0020ff 0 24px,#0030ff 0 25px,#0020ff 0 26px,#0010ff 0 27px,#0000ef 0 28px,#0000df 0 30px,#00f 0 31px,#0010ff 0 32px,#00f 0 33px,#0000df 0 35px,#0000ef 0 37px,#0000df 0 40px,#0000cf 0 42px,#0000df 0 43px,#0000bf 0 45px,#0000df 0 46px,#0000cf 0 47px,#00009f 0 48px,#0000df 0 49px,#0000cf 0)"></i><i style="left:450px;background:linear-gradient(90deg,#0000af 0 1px,#0000df 0 2px,#0000cf 0 3px,#0000bf 0 4px,#0000cf 0 6px,#0000df 0 7px,#0000cf 0 8px,#0000ef 0 10px,#0000bf 0 11px,#00f 0 12px,#0000ef 0 13px,#0000bf 0 14px,#0020ff 0 15px,#0000ef 0 16px,#0000cf 0 17px,#0030ff 0 18px,#0000ef 0 19px,#0000cf 0 20px,#0040ff 0 21px,#00f 0 22px,#0000cf 0 23px,#0040ff 0 24px,#0020ff 0 25px,#0000cf 0 26px,#0030ff 0 27px,#0050ff 0 28px,#0010ff 0 30px,#0040ff 0 31px,#0050ff 0 32px,#0030ff 0 33px,#0020ff 0 34px,#0040ff 0 35px,#0050ff 0 37px,#0040ff 0 39px,#0050ff 0 44px,#0060ff 0)"></i></div>
<div class="r" style="top:917.10px;height:35.87px"><i style="left:0px;background:linear-gradient(90deg,#8fff70 0 2px,#9fff60 0 3px,#afff50 0 4px,#bfff40 0 5px,#cfff30 0 6px,#dfff20 0 7px,#bfff40 0 8px,#9fff60 0 9px,#60ff9f 0 10px,#40ffbf 0 11px,#70ff8f 0 12px,#bfff40 0 13px,#cfff30 0 14px,#8fff70 0 15px,#30ffcf 0 16px,#50ffaf 0 17px,#afff50 0 18px,#9fff60 0 19px,#20ffdf 0 20px,#30ffcf 0 21px,#9fff60 0 22px,#70ff8f 0 23px,#00efff 0 24px,#60ff9f 0 25px,#8fff70 0 26px,#00efff 0 27px,#20ffdf 0 28px,#80ff80 0 29px,#00efff 0 30px,#0ff 0 31px,#60ff9f 0 32px,#00cfff 0 33px,#0ff 0 34px,#30ffcf 0 35px,#00afff 0 36px,#00efff 0 37px,#0ff 0 38px,#009fff 0 39px,#00dfff 0 40px,#00cfff 0 41px,#009fff 0 42px,#00cfff 0 43px,#00afff 0 44px,#008fff 0 45px,#009fff 0 46px,#008fff 0 48px,#0080ff 0)"></i><i style="left:50px;background:linear-gradient(90deg,#0080ff 0 1px,#0050ff 0 2px,#0060ff 0 3px,#0070ff 0 4px,#0040ff 0 6px,#0070ff 0 7px,#0050ff 0 8px,#0010ff 0 9px,#0040ff 0 10px,#0060ff 0 11px,#0030ff 0 12px,#0000df 0 13px,#0020ff 0 14px,#0050ff 0 15px,#0040ff 0 16px,#0000ef 0 17px,#0000cf 0 18px,#00f 0 19px,#0040ff 0 21px,#0020ff 0 22px,#00f 0 23px,#0000bf 0 24px,#0000af 0 25px,#0000cf 0 26px,#0000ef 0 27px,#0010ff 0 28px,#0020ff 0 30px,#0030ff 0 36px,#0020ff 0 38px,#00f 0 39px,#0000ef 0 40px,#0000cf 0 41px,#0000af 0 42px,#0000cf 0 43px,#0010ff 0 44px,#0030ff 0 45px,#0040ff 0 46px,#0030ff 0 47px,#0000ef 0 48px,#0000cf 0 49px,#0010ff 0)"></i><i style="left:100px;background:linear-gradient(90deg,#0050ff 0 2px,#00f 0 3px,#0000ef 0 4px,#0040ff 0 5px,#0060ff 0 6px,#0020ff 0 7px,#0010ff 0 8px,#0060ff 0 10px,#0030ff 0 11px,#0050ff 0 12px,#0080ff 0 13px,#0050ff 0 14px,#0060ff 0 15px,#0080ff 0 18px,#008fff 0 20px,#009fff 0 21px,#008fff 0 22px,#00bfff 0 24px,#009fff 0 25px,#00efff 0 26px,#00cfff 0 27px,#00afff 0 28px,#20ffdf 0 29px,#00cfff 0 30px,#00dfff 0 31px,#40ffbf 0 32px,#00cfff 0 33px,#10ffef 0 34px,#60ff9f 0 35px,#00cfff 0 36px,#20ffdf 0 37px,#70ff8f 0 38px,#00efff 0 39px,#30ffcf 0 40px,#8fff70 0 41px,#30ffcf 0 42px,#10ffef 0 43px,#9fff60 0 44px,#8fff70 0 45px,#10ffef 0 46px,#50ffaf 0 47px,#bfff40 0 48px,#9fff60 0 49px,#30ffcf 0)"></i><i style="left:150px;background:linear-gradient(90deg,#40ffbf 0 1px,#afff50 0 2px,#cfff30 0 3px,#9fff60 0 4px,#60ff9f 0 5px,#50ffaf 0 6px,#70ff8f 0 7px,#afff50 0 8px,#cfff30 0 9px,#dfff20 0 10px,#cfff30 0 11px,#bfff40 0 12px,#afff50 0 13px,#9fff60 0 14px,#8fff70 0 15px,#80ff80 0 17px,#8fff70 0 19px,#9fff60 0 20px,#afff50 0 21px,#cfff30 0 22px,#dfff20 0 23px,#cfff30 0 24px,#bfff40 0 25px,#80ff80 0 26px,#50ffaf 0 28px,#8fff70 0 29px,#cfff30 0 30px,#bfff40 0 31px,#60ff9f 0 32px,#20ffdf 0 33px,#70ff8f 0 34px,#bfff40 0 35px,#80ff80 0 36px,#10ffef 0 37px,#60ff9f 0 38px,#afff50 0 39px,#40ffbf 0 40px,#0ff 0 41px,#80ff80 0 42px,#60ff9f 0 43px,#00dfff 0 44px,#50ffaf 0 45px,#60ff9f 0 46px,#00cfff 0 47px,#40ffbf 0 49px,#00bfff 0)"></i><i style="left:200px;background:linear-gradient(90deg,#20ffdf 0 1px,#10ffef 0 2px,#00afff 0 3px,#10ffef 0 4px,#00dfff 0 5px,#00afff 0 6px,#00efff 0 7px,#00afff 0 9px,#00cfff 0 10px,#009fff 0 13px,#008fff 0 14px,#0080ff 0 17px,#0070ff 0 18px,#0050ff 0 19px,#0070ff 0 21px,#0030ff 0 22px,#0050ff 0 23px,#0070ff 0 24px,#0030ff 0 25px,#0010ff 0 26px,#0050ff 0 27px,#0060ff 0 28px,#0010ff 0 29px,#0000ef 0 30px,#0040ff 0 31px,#0050ff 0 32px,#0030ff 0 33px,#0000df 0 35px,#0020ff 0 36px,#0040ff 0 38px,#0020ff 0 39px,#0000df 0 40px,#0000bf 0 42px,#0000df 0 43px,#00f 0 44px,#0010ff 0 45px,#0020ff 0 47px,#0030ff 0)"></i><i style="left:250px;background:linear-gradient(90deg,#0030ff 0 2px,#0020ff 0 4px,#0010ff 0 5px,#00f 0 6px,#0000df 0 7px,#0000bf 0 9px,#0000df 0 10px,#0020ff 0 11px,#0040ff 0 13px,#0020ff 0 14px,#0000df 0 16px,#0030ff 0 17px,#0050ff 0 18px,#0040ff 0 19px,#0000ef 0 20px,#0010ff 0 21px,#0060ff 0 22px,#0050ff 0 23px,#0010ff 0 24px,#0030ff 0 25px,#0070ff 0 26px,#0050ff 0 27px,#0030ff 0 28px,#0070ff 0 30px,#0050ff 0 31px,#0070ff 0 32px,#0080ff 0 35px,#008fff 0 36px,#009fff 0 39px,#00cfff 0 40px,#00afff 0 42px,#00efff 0 43px,#00afff 0 44px,#00dfff 0 45px,#10ffef 0 46px,#00afff 0 47px,#10ffef 0 48px,#20ffdf 0 49px,#00bfff 0)"></i><i style="left:300px;background:linear-gradient(90deg,#40ffbf 0 2px,#00cfff 0 3px,#60ff9f 0 4px,#50ffaf 0 5px,#00dfff 0 6px,#60ff9f 0 7px,#80ff80 0 8px,#0ff 0 9px,#40ffbf 0 10px,#afff50 0 11px,#60ff9f 0 12px,#10ffef 0 13px,#80ff80 0 14px,#bfff40 0 15px,#70ff8f 0 16px,#20ffdf 0 17px,#60ff9f 0 18px,#bfff40 0 19px,#cfff30 0 20px,#8fff70 0 21px,#50ffaf 0 23px,#80ff80 0 24px,#bfff40 0 25px,#cfff30 0 26px,#dfff20 0 27px,#cfff30 0 28px,#afff50 0 29px,#9fff60 0 30px,#8fff70 0 32px,#80ff80 0 34px,#8fff70 0 35px,#9fff60 0 36px,#afff50 0 37px,#bfff40 0 38px,#cfff30 0 39px,#dfff20 0 40px,#cfff30 0 41px,#afff50 0 42px,#70ff8f 0 43px,#50ffaf 0 44px,#60ff9f 0 45px,#9fff60 0 46px,#cfff30 0 47px,#afff50 0 48px,#40ffbf 0 49px,#30ffcf 0)"></i><i style="left:350px;background:linear-gradient(90deg,#9fff60 0 1px,#bfff40 0 2px,#50ffaf 0 3px,#10ffef 0 4px,#8fff70 0 5px,#9fff60 0 6px,#10ffef 0 7px,#30ffcf 0 8px,#8fff70 0 9px,#30ffcf 0 10px,#00efff 0 11px,#70ff8f 0 12px,#20ffdf 0 13px,#00cfff 0 14px,#60ff9f 0 15px,#10ffef 0 16px,#00cfff 0 17px,#40ffbf 0 18px,#00dfff 0 19px,#00cfff 0 20px,#20ffdf 0 21px,#00afff 0 22px,#00cfff 0 23px,#00efff 0 24px,#009fff 0 25px,#00bfff 0 27px,#008fff 0 28px,#009fff 0 29px,#008fff 0 31px,#0080ff 0 34px,#0060ff 0 35px,#0050ff 0 36px,#0080ff 0 37px,#0050ff 0 38px,#0030ff 0 39px,#0060ff 0 41px,#0010ff 0 42px,#0020ff 0 43px,#0060ff 0 44px,#0040ff 0 45px,#0000ef 0 46px,#00f 0 47px,#0050ff 0 49px,#0010ff 0)"></i><i style="left:400px;background:linear-gradient(90deg,#0000cf 0 1px,#0000ef 0 2px,#0030ff 0 3px,#0040ff 0 4px,#0030ff 0 5px,#0010ff 0 6px,#0000cf 0 7px,#0000af 0 8px,#0000cf 0 9px,#0000ef 0 10px,#00f 0 11px,#0020ff 0 13px,#0030ff 0 19px,#0020ff 0 21px,#0010ff 0 22px,#0000ef 0 23px,#0000cf 0 24px,#0000af 0 25px,#0000bf 0 26px,#00f 0 27px,#0020ff 0 28px,#0040ff 0 30px,#00f 0 31px,#0000cf 0 32px,#0000ef 0 33px,#0040ff 0 34px,#0050ff 0 35px,#0020ff 0 36px,#0000df 0 37px,#0030ff 0 38px,#0060ff 0 39px,#0040ff 0 40px,#0010ff 0 41px,#0050ff 0 42px,#0070ff 0 43px,#0040ff 0 45px,#0070ff 0 46px,#0060ff 0 47px,#0050ff 0 48px,#0080ff 0)"></i><i style="left:450px;background:linear-gradient(90deg,#0080ff 0 1px,#008fff 0 3px,#009fff 0 4px,#008fff 0 5px,#00afff 0 6px,#00cfff 0 7px,#009fff 0 8px,#00cfff 0 9px,#00dfff 0 10px,#009fff 0 11px,#0ff 0 12px,#00efff 0 13px,#00afff 0 14px,#30ffcf 0 15px,#0ff 0 16px,#00cfff 0 17px,#60ff9f 0 18px,#0ff 0 19px,#00efff 0 20px,#80ff80 0 21px,#20ffdf 0 22px,#00efff 0 23px,#8fff70 0 24px,#60ff9f 0 25px,#00efff 0 26px,#70ff8f 0 27px,#9fff60 0 28px,#30ffcf 0 29px,#20ffdf 0 30px,#9fff60 0 31px,#afff50 0 32px,#50ffaf 0 33px,#30ffcf 0 34px,#8fff70 0 35px,#cfff30 0 36px,#bfff40 0 37px,#70ff8f 0 38px,#40ffbf 0 39px,#60ff9f 0 40px,#9fff60 0 41px,#bfff40 0 42px,#dfff20 0 43px,#cfff30 0 44px,#bfff40 0 45px,#afff50 0 46px,#9fff60 0 47px,#8fff70 0 49px,#80ff80 0)"></i></div>
<div class="r" style="top:952.38px;height:18.24px"><i style="left:0px;background:linear-gradient(90deg,#ff7000 0 1px,#ff6000 0 2px,#ff5000 0 3px,#ff3000 0 4px,#ff1000 0 5px,#f00 0 6px,#ef0000 0 7px,#ff1000 0 8px,#ff5000 0 9px,#ff8f00 0 10px,#ffaf00 0 11px,#ff7000 0 12px,#ff2000 0 13px,#ff1000 0 14px,#ff6000 0 15px,#ffaf00 0 16px,#ff8f00 0 17px,#ff3000 0 18px,#ff4000 0 19px,#ffaf00 0 20px,#ff9f00 0 21px,#ff4000 0 22px,#ff7000 0 23px,#ffcf00 0 24px,#ff8000 0 25px,#ff6000 0 26px,#ffbf00 0 27px,#ffaf00 0 28px,#ff8000 0 29px,#ffbf00 0 31px,#ff9f00 0 32px,#ffcf00 0 34px,#ffbf00 0 35px,#ffdf00 0 37px,#ffef00 0 38px,#ffdf00 0 39px,#ff0 0 41px,#ffef00 0 42px,#dfff20 0 43px,#efff10 0 44px,#ff0 0 45px,#afff50 0 46px,#dfff20 0 47px,#efff10 0 48px,#8fff70 0 49px,#cfff30 0)"></i><i style="left:50px;background:linear-gradient(90deg,#dfff20 0 1px,#70ff8f 0 2px,#afff50 0 3px,#dfff20 0 4px,#70ff8f 0 6px,#cfff30 0 7px,#8fff70 0 8px,#30ffcf 0 9px,#80ff80 0 10px,#afff50 0 11px,#60ff9f 0 12px,#20ffdf 0 13px,#50ffaf 0 14px,#8fff70 0 15px,#70ff8f 0 16px,#20ffdf 0 17px,#0ff 0 18px,#30ffcf 0 19px,#70ff8f 0 21px,#50ffaf 0 22px,#20ffdf 0 23px,#0ff 0 24px,#00efff 0 25px,#0ff 0 26px,#20ffdf 0 27px,#30ffcf 0 28px,#40ffbf 0 29px,#50ffaf 0 36px,#40ffbf 0 38px,#30ffcf 0 39px,#10ffef 0 40px,#0ff 0 41px,#00efff 0 42px,#0ff 0 43px,#30ffcf 0 44px,#60ff9f 0 45px,#70ff8f 0 46px,#60ff9f 0 47px,#20ffdf 0 48px,#0ff 0 49px,#40ffbf 0)"></i><i style="left:100px;background:linear-gradient(90deg,#8fff70 0 1px,#80ff80 0 2px,#40ffbf 0 3px,#20ffdf 0 4px,#80ff80 0 5px,#afff50 0 6px,#60ff9f 0 7px,#40ffbf 0 8px,#afff50 0 10px,#50ffaf 0 11px,#8fff70 0 12px,#dfff20 0 13px,#80ff80 0 14px,#8fff70 0 15px,#efff10 0 16px,#afff50 0 17px,#9fff60 0 18px,#ff0 0 19px,#bfff40 0 20px,#cfff30 0 21px,#ffef00 0 22px,#cfff30 0 23px,#efff10 0 24px,#ffef00 0 25px,#efff10 0 26px,#ffef00 0 27px,#ffdf00 0 30px,#ffcf00 0 31px,#ffbf00 0 32px,#ffcf00 0 33px,#ffbf00 0 34px,#ff9f00 0 35px,#ffcf00 0 36px,#ffaf00 0 37px,#ff8000 0 38px,#ffbf00 0 39px,#ff9f00 0 40px,#ff5000 0 41px,#ff9f00 0 42px,#ffbf00 0 43px,#ff5000 0 44px,#ff6000 0 45px,#ffbf00 0 46px,#ff8f00 0 47px,#ff2000 0 48px,#ff4000 0 49px,#ffaf00 0)"></i><i style="left:150px;background:linear-gradient(90deg,#ff9f00 0 1px,#ff3000 0 2px,#ff1000 0 3px,#ff4000 0 4px,#ff8f00 0 5px,#ffaf00 0 6px,#ff8000 0 7px,#ff3000 0 8px,#f00 0 9px,#ef0000 0 10px,#f00 0 11px,#ff2000 0 12px,#ff4000 0 13px,#ff5000 0 14px,#ff6000 0 15px,#ff7000 0 18px,#ff6000 0 19px,#ff4000 0 20px,#ff3000 0 21px,#ff1000 0 22px,#f00 0 24px,#ff2000 0 25px,#ff6000 0 26px,#ff9f00 0 28px,#ff6000 0 29px,#ff1000 0 30px,#ff2000 0 31px,#ff8000 0 32px,#ffbf00 0 33px,#ff7000 0 34px,#ff2000 0 35px,#ff6000 0 36px,#ffbf00 0 37px,#ff8000 0 38px,#ff4000 0 39px,#ff8f00 0 40px,#ffbf00 0 41px,#ff6000 0 42px,#ff8000 0 43px,#ffcf00 0 44px,#ff8f00 0 46px,#ffcf00 0 47px,#ffaf00 0 49px,#ffdf00 0)"></i><i style="left:200px;background:linear-gradient(90deg,#ffbf00 0 1px,#ffcf00 0 2px,#ffdf00 0 4px,#ffef00 0 5px,#ffdf00 0 6px,#ff0 0 7px,#ffef00 0 8px,#ff0 0 9px,#cfff30 0 10px,#ff0 0 11px,#efff10 0 12px,#afff50 0 13px,#ff0 0 14px,#cfff30 0 15px,#8fff70 0 16px,#efff10 0 17px,#bfff40 0 18px,#70ff8f 0 19px,#cfff30 0 20px,#bfff40 0 21px,#50ffaf 0 22px,#8fff70 0 23px,#bfff40 0 24px,#60ff9f 0 25px,#40ffbf 0 26px,#9fff60 0 28px,#40ffbf 0 29px,#20ffdf 0 30px,#70ff8f 0 31px,#8fff70 0 32px,#60ff9f 0 33px,#10ffef 0 35px,#50ffaf 0 36px,#70ff8f 0 38px,#40ffbf 0 39px,#10ffef 0 40px,#00efff 0 42px,#10ffef 0 43px,#20ffdf 0 44px,#30ffcf 0 45px,#40ffbf 0 46px,#50ffaf 0)"></i><i style="left:250px;background:linear-gradient(90deg,#50ffaf 0 3px,#40ffbf 0 4px,#30ffcf 0 5px,#20ffdf 0 6px,#10ffef 0 7px,#00efff 0 9px,#10ffef 0 10px,#40ffbf 0 11px,#70ff8f 0 13px,#50ffaf 0 14px,#10ffef 0 16px,#60ff9f 0 17px,#8fff70 0 18px,#70ff8f 0 19px,#20ffdf 0 20px,#40ffbf 0 21px,#9fff60 0 23px,#40ffbf 0 24px,#60ff9f 0 25px,#bfff40 0 26px,#8fff70 0 27px,#50ffaf 0 28px,#bfff40 0 29px,#cfff30 0 30px,#70ff8f 0 31px,#bfff40 0 32px,#efff10 0 33px,#8fff70 0 34px,#cfff30 0 35px,#ff0 0 36px,#afff50 0 37px,#efff10 0 38px,#ff0 0 39px,#cfff30 0 40px,#ff0 0 41px,#ffef00 0 42px,#ff0 0 43px,#ffdf00 0 44px,#ffef00 0 45px,#ffdf00 0 47px,#ffcf00 0 48px,#ffbf00 0 49px,#ffdf00 0)"></i><i style="left:300px;background:linear-gradient(90deg,#ffaf00 0 2px,#ffcf00 0 3px,#ff8f00 0 5px,#ffcf00 0 6px,#ff8000 0 7px,#ff6000 0 8px,#ffbf00 0 9px,#ff8f00 0 10px,#ff4000 0 11px,#ff8000 0 12px,#ffbf00 0 13px,#ff6000 0 14px,#ff2000 0 15px,#ff7000 0 16px,#ffbf00 0 17px,#ff8000 0 18px,#ff2000 0 19px,#ff1000 0 20px,#ff6000 0 21px,#ff9f00 0 23px,#ff6000 0 24px,#ff2000 0 25px,#f00 0 27px,#ff1000 0 28px,#ff3000 0 29px,#ff4000 0 30px,#ff6000 0 31px,#ff7000 0 34px,#ff6000 0 35px,#ff5000 0 36px,#ff4000 0 37px,#ff2000 0 38px,#f00 0 39px,#ef0000 0 40px,#f00 0 41px,#ff3000 0 42px,#ff8000 0 43px,#ffaf00 0 44px,#ff8f00 0 45px,#ff4000 0 46px,#ff1000 0 47px,#ff3000 0 48px,#ff9f00 0 49px,#ffaf00 0)"></i><i style="left:350px;background:linear-gradient(90deg,#ff4000 0 1px,#ff2000 0 2px,#ff8f00 0 3px,#ffbf00 0 4px,#ff6000 0 5px,#ff5000 0 6px,#ffbf00 0 7px,#ff9f00 0 8px,#ff5000 0 9px,#ff9f00 0 10px,#ffbf00 0 11px,#ff8000 0 12px,#ffaf00 0 13px,#ffcf00 0 14px,#ff9f00 0 15px,#ffbf00 0 16px,#ffcf00 0 17px,#ffbf00 0 18px,#ffcf00 0 19px,#ffdf00 0 22px,#ffef00 0 23px,#efff10 0 24px,#ffef00 0 25px,#efff10 0 26px,#cfff30 0 27px,#ffef00 0 28px,#cfff30 0 29px,#bfff40 0 30px,#ff0 0 31px,#9fff60 0 32px,#afff50 0 33px,#efff10 0 34px,#8fff70 0 35px,#80ff80 0 36px,#dfff20 0 37px,#8fff70 0 38px,#50ffaf 0 39px,#afff50 0 41px,#40ffbf 0 42px,#60ff9f 0 43px,#afff50 0 44px,#80ff80 0 45px,#20ffdf 0 46px,#40ffbf 0 47px,#80ff80 0 48px,#8fff70 0 49px,#40ffbf 0)"></i><i style="left:400px;background:linear-gradient(90deg,#0ff 0 1px,#20ffdf 0 2px,#60ff9f 0 3px,#70ff8f 0 4px,#60ff9f 0 5px,#30ffcf 0 6px,#0ff 0 7px,#00efff 0 8px,#0ff 0 9px,#10ffef 0 10px,#30ffcf 0 11px,#40ffbf 0 13px,#50ffaf 0 20px,#40ffbf 0 21px,#30ffcf 0 22px,#20ffdf 0 23px,#0ff 0 24px,#00efff 0 25px,#0ff 0 26px,#20ffdf 0 27px,#50ffaf 0 28px,#70ff8f 0 30px,#30ffcf 0 31px,#0ff 0 32px,#20ffdf 0 33px,#70ff8f 0 34px,#8fff70 0 35px,#50ffaf 0 36px,#20ffdf 0 37px,#60ff9f 0 38px,#afff50 0 39px,#80ff80 0 40px,#30ffcf 0 41px,#8fff70 0 42px,#cfff30 0 43px,#70ff8f 0 45px,#dfff20 0 46px,#afff50 0 47px,#70ff8f 0 48px,#dfff20 0 49px,#cfff30 0)"></i><i style="left:450px;background:linear-gradient(90deg,#8fff70 0 1px,#efff10 0 2px,#dfff20 0 3px,#afff50 0 4px,#ff0 0 5px,#efff10 0 6px,#dfff20 0 7px,#ffef00 0 8px,#ff0 0 10px,#ffdf00 0 11px,#ffef00 0 12px,#ffdf00 0 14px,#ffbf00 0 15px,#ffcf00 0 17px,#ff9f00 0 18px,#ffbf00 0 20px,#ff8000 0 21px,#ffaf00 0 22px,#ffbf00 0 23px,#ff6000 0 24px,#ff8000 0 25px,#ffcf00 0 26px,#ff7000 0 27px,#ff4000 0 28px,#ff9f00 0 29px,#ffaf00 0 30px,#ff4000 0 31px,#ff3000 0 32px,#ff8f00 0 33px,#ffaf00 0 34px,#ff6000 0 35px,#ff1000 0 36px,#ff2000 0 37px,#ff7000 0 38px,#ffaf00 0 39px,#ff8f00 0 40px,#ff5000 0 41px,#ff1000 0 42px,#ef0000 0 43px,#f00 0 44px,#ff1000 0 45px,#ff3000 0 46px,#ff5000 0 47px,#ff6000 0 48px,#ff7000 0)"></i></div>
<div class="r" style="top:970.01px;height:18.24px"><i style="left:0px;background:linear-gradient(90deg,#df0000 0 1px,#cf0000 0 2px,#bf0000 0 3px,#af0000 0 4px,#9f0000 0 5px,#8f0000 0 6px,#800000 0 7px,#9f0000 0 8px,#bf0000 0 9px,#ef0000 0 11px,#cf0000 0 12px,#9f0000 0 14px,#bf0000 0 15px,#ef0000 0 16px,#df0000 0 17px,#af0000 0 19px,#df0000 0 21px,#bf0000 0 22px,#cf0000 0 23px,#df0000 0 24px,#cf0000 0 25px,#df0000 0 26px,#cf0000 0 27px,#df0000 0 28px,#ef0000 0 29px,#cf0000 0 30px,#df0000 0 31px,#f00 0 32px,#cf0000 0 33px,#df0000 0 34px,#ff2000 0 35px,#cf0000 0 36px,#f00 0 37px,#ff2000 0 38px,#cf0000 0 39px,#ff2000 0 41px,#cf0000 0 42px,#ff5000 0 43px,#ff1000 0 44px,#df0000 0 45px,#ff6000 0 46px,#ff1000 0 47px,#f00 0 48px,#ff7000 0 49px,#ff2000 0)"></i><i style="left:50px;background:linear-gradient(90deg,#ff1000 0 1px,#ff8000 0 2px,#ff4000 0 3px,#ff1000 0 4px,#ff8000 0 5px,#ff7000 0 6px,#ff3000 0 7px,#ff6000 0 8px,#ff9f00 0 9px,#ff6000 0 10px,#ff4000 0 11px,#ff8000 0 12px,#ff9f00 0 13px,#ff8000 0 14px,#ff6000 0 15px,#ff7000 0 16px,#ff9f00 0 18px,#ff8f00 0 19px,#ff8000 0 21px,#ff8f00 0 22px,#ff9f00 0 23px,#ffaf00 0 27px,#ff9f00 0 32px,#ffaf00 0 34px,#ff9f00 0 38px,#ffaf00 0 43px,#ff9f00 0 44px,#ff8f00 0 45px,#ff8000 0 46px,#ff8f00 0 47px,#ff9f00 0 49px,#ff8f00 0)"></i><i style="left:100px;background:linear-gradient(90deg,#ff7000 0 2px,#ff8f00 0 3px,#ff9f00 0 4px,#ff6000 0 5px,#ff4000 0 6px,#ff8000 0 7px,#ff8f00 0 8px,#ff4000 0 9px,#ff3000 0 10px,#ff8f00 0 11px,#ff5000 0 12px,#ff1000 0 13px,#ff7000 0 14px,#ff6000 0 15px,#f00 0 16px,#ff5000 0 17px,#ff6000 0 18px,#df0000 0 19px,#ff4000 0 21px,#df0000 0 22px,#ff4000 0 23px,#ff2000 0 24px,#cf0000 0 25px,#ff4000 0 26px,#f00 0 27px,#df0000 0 28px,#ff3000 0 29px,#df0000 0 31px,#ff2000 0 32px,#cf0000 0 33px,#df0000 0 34px,#f00 0 35px,#cf0000 0 36px,#df0000 0 37px,#ef0000 0 38px,#cf0000 0 39px,#df0000 0 40px,#cf0000 0 42px,#df0000 0 43px,#bf0000 0 45px,#df0000 0 46px,#cf0000 0 47px,#af0000 0 48px,#bf0000 0 49px,#ef0000 0)"></i><i style="left:150px;background:linear-gradient(90deg,#df0000 0 1px,#af0000 0 2px,#8f0000 0 3px,#af0000 0 4px,#df0000 0 5px,#f00 0 6px,#df0000 0 7px,#af0000 0 8px,#8f0000 0 9px,#800000 0 10px,#8f0000 0 11px,#9f0000 0 12px,#af0000 0 13px,#cf0000 0 15px,#df0000 0 17px,#cf0000 0 19px,#bf0000 0 20px,#af0000 0 21px,#8f0000 0 22px,#800000 0 23px,#8f0000 0 24px,#9f0000 0 25px,#cf0000 0 26px,#ef0000 0 28px,#bf0000 0 29px,#9f0000 0 31px,#cf0000 0 32px,#ef0000 0 33px,#cf0000 0 34px,#af0000 0 35px,#bf0000 0 36px,#df0000 0 37px,#cf0000 0 38px,#bf0000 0 39px,#cf0000 0 40px,#df0000 0 41px,#cf0000 0 42px,#df0000 0 43px,#cf0000 0 44px,#df0000 0 45px,#ef0000 0 46px,#cf0000 0 47px,#ef0000 0 48px,#f00 0 49px,#cf0000 0)"></i><i style="left:200px;background:linear-gradient(90deg,#f00 0 2px,#cf0000 0 3px,#ff2000 0 4px,#f00 0 5px,#cf0000 0 6px,#ff4000 0 7px,#ef0000 0 9px,#ff6000 0 10px,#ef0000 0 11px,#ff1000 0 12px,#ff6000 0 13px,#ef0000 0 14px,#ff3000 0 15px,#ff7000 0 16px,#f00 0 17px,#ff3000 0 18px,#ff8000 0 19px,#ff2000 0 20px,#ff3000 0 21px,#ff8f00 0 22px,#ff5000 0 23px,#ff3000 0 24px,#ff8000 0 25px,#ff8f00 0 26px,#ff5000 0 28px,#ff8f00 0 29px,#ff9f00 0 30px,#ff7000 0 31px,#ff6000 0 32px,#ff8000 0 33px,#ff9f00 0 35px,#ff8f00 0 36px,#ff8000 0 37px,#ff8f00 0 38px,#ff9f00 0 40px,#ffaf00 0 44px,#ff9f00 0 48px,#ffaf00 0)"></i><i style="left:250px;background:linear-gradient(90deg,#ffaf00 0 1px,#ff9f00 0 5px,#ffaf00 0 9px,#ff9f00 0 11px,#ff8f00 0 12px,#ff8000 0 13px,#ff8f00 0 14px,#ff9f00 0 16px,#ff8000 0 17px,#ff6000 0 18px,#ff7000 0 19px,#ff9f00 0 20px,#ff8f00 0 21px,#ff5000 0 23px,#ff8f00 0 24px,#ff8000 0 25px,#ff3000 0 26px,#ff5000 0 27px,#ff8f00 0 28px,#ff3000 0 29px,#ff2000 0 30px,#ff8000 0 31px,#ff3000 0 32px,#f00 0 33px,#ff7000 0 34px,#ff3000 0 35px,#ef0000 0 36px,#ff6000 0 37px,#ff1000 0 38px,#ef0000 0 39px,#ff6000 0 40px,#ef0000 0 42px,#ff4000 0 43px,#cf0000 0 44px,#f00 0 45px,#ff2000 0 46px,#cf0000 0 47px,#f00 0 49px,#cf0000 0)"></i><i style="left:300px;background:linear-gradient(90deg,#f00 0 1px,#ef0000 0 2px,#cf0000 0 3px,#ef0000 0 4px,#df0000 0 5px,#cf0000 0 6px,#df0000 0 7px,#cf0000 0 8px,#df0000 0 9px,#cf0000 0 10px,#bf0000 0 11px,#cf0000 0 12px,#df0000 0 13px,#bf0000 0 14px,#af0000 0 15px,#cf0000 0 16px,#ef0000 0 17px,#cf0000 0 18px,#9f0000 0 20px,#bf0000 0 21px,#ef0000 0 23px,#cf0000 0 24px,#9f0000 0 25px,#8f0000 0 26px,#800000 0 27px,#8f0000 0 28px,#af0000 0 29px,#bf0000 0 30px,#cf0000 0 32px,#df0000 0 34px,#cf0000 0 36px,#af0000 0 37px,#9f0000 0 38px,#8f0000 0 39px,#800000 0 40px,#8f0000 0 41px,#af0000 0 42px,#df0000 0 43px,#f00 0 44px,#df0000 0 45px,#af0000 0 46px,#8f0000 0 47px,#af0000 0 48px,#df0000 0 49px,#ef0000 0)"></i><i style="left:350px;background:linear-gradient(90deg,#bf0000 0 1px,#af0000 0 2px,#cf0000 0 3px,#df0000 0 4px,#bf0000 0 6px,#df0000 0 7px,#cf0000 0 9px,#df0000 0 10px,#cf0000 0 11px,#ef0000 0 12px,#df0000 0 13px,#cf0000 0 14px,#f00 0 15px,#df0000 0 16px,#cf0000 0 17px,#ff2000 0 18px,#df0000 0 20px,#ff3000 0 21px,#df0000 0 22px,#f00 0 23px,#ff4000 0 24px,#cf0000 0 25px,#ff2000 0 26px,#ff4000 0 27px,#df0000 0 28px,#ff4000 0 30px,#df0000 0 31px,#ff6000 0 32px,#ff5000 0 33px,#f00 0 34px,#ff6000 0 35px,#ff7000 0 36px,#ff1000 0 37px,#ff5000 0 38px,#ff8f00 0 39px,#ff3000 0 40px,#ff4000 0 41px,#ff8f00 0 42px,#ff8000 0 43px,#ff4000 0 44px,#ff6000 0 45px,#ff9f00 0 46px,#ff8f00 0 47px,#ff7000 0 49px,#ff8f00 0)"></i><i style="left:400px;background:linear-gradient(90deg,#ff9f00 0 2px,#ff8f00 0 3px,#ff8000 0 4px,#ff8f00 0 5px,#ff9f00 0 6px,#ffaf00 0 11px,#ff9f00 0 15px,#ffaf00 0 17px,#ff9f00 0 22px,#ffaf00 0 26px,#ff9f00 0 27px,#ff8f00 0 28px,#ff8000 0 30px,#ff8f00 0 31px,#ff9f00 0 33px,#ff7000 0 34px,#ff6000 0 35px,#ff8000 0 36px,#ff9f00 0 37px,#ff8000 0 38px,#ff4000 0 39px,#ff6000 0 40px,#ff9f00 0 41px,#ff6000 0 42px,#ff3000 0 43px,#ff7000 0 44px,#ff8000 0 45px,#ff1000 0 46px,#ff4000 0 47px,#ff8000 0 48px,#ff1000 0 49px,#ff2000 0)"></i><i style="left:450px;background:linear-gradient(90deg,#ff7000 0 1px,#f00 0 2px,#ff1000 0 3px,#ff6000 0 4px,#df0000 0 5px,#ff1000 0 6px,#ff5000 0 7px,#cf0000 0 8px,#ff2000 0 10px,#cf0000 0 11px,#ff2000 0 12px,#f00 0 13px,#cf0000 0 14px,#ff2000 0 15px,#df0000 0 16px,#cf0000 0 17px,#f00 0 18px,#df0000 0 19px,#cf0000 0 20px,#ef0000 0 21px,#df0000 0 22px,#cf0000 0 23px,#df0000 0 24px,#cf0000 0 25px,#df0000 0 26px,#cf0000 0 27px,#bf0000 0 28px,#df0000 0 30px,#af0000 0 32px,#df0000 0 33px,#ef0000 0 34px,#bf0000 0 35px,#9f0000 0 37px,#cf0000 0 38px,#ef0000 0 40px,#bf0000 0 41px,#9f0000 0 42px,#800000 0 43px,#8f0000 0 44px,#9f0000 0 45px,#af0000 0 46px,#bf0000 0 47px,#cf0000 0 48px,#df0000 0)"></i></div>
<div class="r" style="top:987.65px;height:18.24px"><i style="left:0px;background:linear-gradient(90deg,#ef0000 0 10px,#df0000 0 12px,#ef0000 0 14px,#df0000 0 15px,#cf0000 0 17px,#ef0000 0 19px,#bf0000 0 21px,#f00 0 22px,#df0000 0 23px,#9f0000 0 24px,#df0000 0 25px,#f00 0 26px,#9f0000 0 27px,#bf0000 0 28px,#f00 0 29px,#9f0000 0 30px,#af0000 0 31px,#f00 0 32px,#8f0000 0 33px,#af0000 0 34px,#f00 0 35px,#800000 0 36px,#bf0000 0 37px,#ef0000 0 38px,#800000 0 39px,#df0000 0 40px,#cf0000 0 41px,#800000 0 42px,#ef0000 0 43px,#bf0000 0 44px,#8f0000 0 45px,#ef0000 0 46px,#af0000 0 47px,#9f0000 0 48px,#df0000 0 49px,#af0000 0)"></i><i style="left:50px;background:linear-gradient(90deg,#9f0000 0 1px,#df0000 0 2px,#bf0000 0 3px,#af0000 0 4px,#cf0000 0 6px,#bf0000 0 8px,#cf0000 0 12px,#bf0000 0 13px,#cf0000 0 14px,#df0000 0 16px,#bf0000 0 18px,#cf0000 0 19px,#ef0000 0 22px,#cf0000 0 23px,#bf0000 0 26px,#cf0000 0 27px,#df0000 0 28px,#ef0000 0 29px,#f00 0 37px,#ef0000 0 38px,#df0000 0 39px,#cf0000 0 40px,#bf0000 0 43px,#df0000 0 44px,#ef0000 0 46px,#df0000 0 47px,#cf0000 0 48px,#bf0000 0 49px,#cf0000 0)"></i><i style="left:100px;background:linear-gradient(90deg,#df0000 0 2px,#cf0000 0 3px,#bf0000 0 4px,#cf0000 0 8px,#bf0000 0 10px,#cf0000 0 11px,#bf0000 0 12px,#af0000 0 13px,#cf0000 0 15px,#9f0000 0 16px,#cf0000 0 18px,#8f0000 0 19px,#cf0000 0 21px,#800000 0 22px,#df0000 0 23px,#bf0000 0 24px,#800000 0 25px,#ef0000 0 26px,#af0000 0 27px,#8f0000 0 28px,#f00 0 29px,#8f0000 0 30px,#9f0000 0 31px,#f00 0 32px,#8f0000 0 33px,#bf0000 0 34px,#f00 0 35px,#8f0000 0 36px,#bf0000 0 37px,#f00 0 38px,#9f0000 0 39px,#bf0000 0 40px,#f00 0 41px,#bf0000 0 42px,#af0000 0 43px,#ef0000 0 45px,#bf0000 0 46px,#cf0000 0 47px,#ef0000 0 49px,#cf0000 0)"></i><i style="left:150px;background:linear-gradient(90deg,#cf0000 0 1px,#ef0000 0 4px,#df0000 0 6px,#ef0000 0 26px,#df0000 0 28px,#ef0000 0 31px,#df0000 0 32px,#cf0000 0 33px,#df0000 0 34px,#f00 0 35px,#df0000 0 36px,#bf0000 0 37px,#cf0000 0 38px,#f00 0 39px,#bf0000 0 40px,#af0000 0 41px,#ef0000 0 42px,#df0000 0 43px,#8f0000 0 44px,#df0000 0 45px,#ef0000 0 46px,#8f0000 0 47px,#df0000 0 48px,#ef0000 0 49px,#800000 0)"></i><i style="left:200px;background:linear-gradient(90deg,#df0000 0 2px,#800000 0 3px,#ef0000 0 4px,#bf0000 0 5px,#800000 0 6px,#f00 0 7px,#9f0000 0 9px,#ef0000 0 10px,#8f0000 0 11px,#af0000 0 12px,#ef0000 0 13px,#8f0000 0 14px,#bf0000 0 15px,#df0000 0 16px,#9f0000 0 17px,#bf0000 0 18px,#df0000 0 19px,#af0000 0 21px,#cf0000 0 22px,#bf0000 0 24px,#cf0000 0 29px,#bf0000 0 30px,#cf0000 0 31px,#df0000 0 32px,#cf0000 0 33px,#bf0000 0 35px,#df0000 0 36px,#ef0000 0 38px,#df0000 0 39px,#cf0000 0 40px,#bf0000 0 42px,#cf0000 0 43px,#df0000 0 44px,#ef0000 0 45px,#f00 0)"></i><i style="left:250px;background:linear-gradient(90deg,#f00 0 4px,#ef0000 0 5px,#df0000 0 6px,#cf0000 0 7px,#bf0000 0 9px,#cf0000 0 10px,#df0000 0 11px,#ef0000 0 13px,#df0000 0 14px,#bf0000 0 16px,#cf0000 0 17px,#df0000 0 18px,#cf0000 0 19px,#bf0000 0 20px,#cf0000 0 25px,#bf0000 0 27px,#cf0000 0 28px,#af0000 0 30px,#df0000 0 31px,#bf0000 0 32px,#9f0000 0 33px,#df0000 0 34px,#bf0000 0 35px,#8f0000 0 36px,#ef0000 0 37px,#af0000 0 38px,#8f0000 0 39px,#ef0000 0 40px,#9f0000 0 42px,#f00 0 43px,#800000 0 44px,#bf0000 0 45px,#ef0000 0 46px,#800000 0 47px,#df0000 0 49px,#800000 0)"></i><i style="left:300px;background:linear-gradient(90deg,#ef0000 0 1px,#df0000 0 2px,#8f0000 0 3px,#ef0000 0 4px,#df0000 0 5px,#8f0000 0 6px,#df0000 0 7px,#ef0000 0 8px,#af0000 0 9px,#bf0000 0 10px,#f00 0 11px,#cf0000 0 12px,#bf0000 0 13px,#df0000 0 14px,#f00 0 15px,#df0000 0 16px,#cf0000 0 17px,#df0000 0 18px,#ef0000 0 21px,#df0000 0 23px,#ef0000 0 43px,#df0000 0 45px,#ef0000 0 48px,#cf0000 0)"></i><i style="left:350px;background:linear-gradient(90deg,#ef0000 0 2px,#cf0000 0 3px,#bf0000 0 4px,#ef0000 0 6px,#af0000 0 7px,#bf0000 0 8px,#f00 0 9px,#bf0000 0 10px,#9f0000 0 11px,#f00 0 12px,#bf0000 0 13px,#8f0000 0 14px,#f00 0 15px,#bf0000 0 16px,#8f0000 0 17px,#f00 0 18px,#9f0000 0 19px,#8f0000 0 20px,#f00 0 21px,#8f0000 0 22px,#af0000 0 23px,#ef0000 0 24px,#800000 0 25px,#bf0000 0 26px,#df0000 0 27px,#800000 0 28px,#cf0000 0 30px,#8f0000 0 31px,#cf0000 0 33px,#9f0000 0 34px,#cf0000 0 36px,#af0000 0 37px,#bf0000 0 38px,#cf0000 0 39px,#bf0000 0 41px,#cf0000 0 45px,#bf0000 0 46px,#cf0000 0 47px,#df0000 0 49px,#cf0000 0)"></i><i style="left:400px;background:linear-gradient(90deg,#bf0000 0 1px,#cf0000 0 2px,#df0000 0 3px,#ef0000 0 5px,#df0000 0 6px,#bf0000 0 9px,#cf0000 0 10px,#df0000 0 11px,#ef0000 0 12px,#f00 0 20px,#ef0000 0 21px,#df0000 0 22px,#cf0000 0 23px,#bf0000 0 26px,#cf0000 0 27px,#ef0000 0 30px,#cf0000 0 31px,#bf0000 0 33px,#df0000 0 35px,#cf0000 0 36px,#bf0000 0 37px,#cf0000 0 41px,#bf0000 0 43px,#cf0000 0 45px,#af0000 0 46px,#bf0000 0 47px,#df0000 0 48px,#9f0000 0 49px,#af0000 0)"></i><i style="left:450px;background:linear-gradient(90deg,#df0000 0 1px,#9f0000 0 2px,#af0000 0 3px,#ef0000 0 4px,#8f0000 0 5px,#bf0000 0 6px,#ef0000 0 7px,#800000 0 8px,#cf0000 0 9px,#df0000 0 10px,#800000 0 11px,#ef0000 0 12px,#bf0000 0 13px,#800000 0 14px,#f00 0 15px,#af0000 0 16px,#8f0000 0 17px,#f00 0 18px,#af0000 0 19px,#9f0000 0 20px,#f00 0 21px,#bf0000 0 22px,#9f0000 0 23px,#f00 0 24px,#df0000 0 25px,#9f0000 0 26px,#df0000 0 27px,#f00 0 28px,#bf0000 0 30px,#ef0000 0 32px,#cf0000 0 34px,#df0000 0 35px,#ef0000 0 37px,#df0000 0 39px,#ef0000 0)"></i></div>
<div class="r" style="top:1005.29px;height:18.24px"><i style="left:0px;background:linear-gradient(90deg,#ffbf00 0 2px,#ffcf00 0 4px,#ffef00 0 6px,#ff0 0 7px,#ffef00 0 8px,#ffbf00 0 9px,#ff9f00 0 10px,#ff8000 0 11px,#ff9f00 0 12px,#ffdf00 0 13px,#ffef00 0 14px,#ffaf00 0 15px,#ff7000 0 16px,#ff8000 0 17px,#ffcf00 0 19px,#ff6000 0 20px,#ff7000 0 21px,#ffcf00 0 22px,#ff9f00 0 23px,#ff4000 0 24px,#ff8f00 0 25px,#ffaf00 0 26px,#ff4000 0 27px,#ff6000 0 28px,#ffaf00 0 29px,#ff4000 0 30px,#ff5000 0 31px,#ff8f00 0 32px,#ff3000 0 33px,#ff4000 0 34px,#ff8000 0 35px,#ff1000 0 36px,#ff4000 0 37px,#ff5000 0 38px,#ff1000 0 39px,#ff4000 0 40px,#ff3000 0 41px,#ff1000 0 42px,#ff3000 0 43px,#ff2000 0 44px,#ff1000 0 45px,#ff2000 0 46px,#ff1000 0 47px,#f00 0)"></i><i style="left:50px;background:linear-gradient(90deg,#f00 0 1px,#ef0000 0 3px,#f00 0 4px,#df0000 0 6px,#f00 0 7px,#ef0000 0 8px,#bf0000 0 9px,#df0000 0 10px,#ff1000 0 11px,#cf0000 0 12px,#af0000 0 13px,#cf0000 0 14px,#f00 0 15px,#ef0000 0 16px,#af0000 0 17px,#9f0000 0 18px,#bf0000 0 19px,#ef0000 0 20px,#f00 0 21px,#df0000 0 22px,#af0000 0 23px,#9f0000 0 24px,#8f0000 0 25px,#9f0000 0 26px,#af0000 0 27px,#cf0000 0 28px,#df0000 0 29px,#ef0000 0 30px,#f00 0 35px,#ef0000 0 37px,#df0000 0 38px,#cf0000 0 39px,#af0000 0 40px,#9f0000 0 41px,#8f0000 0 42px,#9f0000 0 43px,#bf0000 0 44px,#ef0000 0 45px,#f00 0 46px,#df0000 0 47px,#af0000 0 48px,#9f0000 0 49px,#bf0000 0)"></i><i style="left:100px;background:linear-gradient(90deg,#f00 0 2px,#bf0000 0 3px,#af0000 0 4px,#ef0000 0 5px,#f00 0 6px,#cf0000 0 7px,#bf0000 0 8px,#f00 0 10px,#cf0000 0 11px,#ef0000 0 12px,#ff1000 0 13px,#ef0000 0 15px,#f00 0 19px,#ff1000 0 21px,#f00 0 22px,#ff3000 0 23px,#ff2000 0 24px,#ff1000 0 25px,#ff5000 0 26px,#ff2000 0 28px,#ff7000 0 29px,#ff2000 0 30px,#ff3000 0 31px,#ff8000 0 32px,#ff2000 0 33px,#ff5000 0 34px,#ff8f00 0 35px,#ff3000 0 36px,#ff6000 0 37px,#ffaf00 0 38px,#ff4000 0 39px,#ff6000 0 40px,#ffbf00 0 41px,#ff6000 0 42px,#ff5000 0 43px,#ffbf00 0 44px,#ffaf00 0 45px,#ff6000 0 46px,#ff8000 0 47px,#ffdf00 0 48px,#ffbf00 0 49px,#ff7000 0)"></i><i style="left:150px;background:linear-gradient(90deg,#ff8000 0 1px,#ffcf00 0 2px,#ffef00 0 3px,#ffcf00 0 4px,#ff8f00 0 6px,#ff9f00 0 7px,#ffcf00 0 8px,#ffef00 0 9px,#ff0 0 10px,#ffef00 0 11px,#ffdf00 0 12px,#ffcf00 0 13px,#ffbf00 0 19px,#ffcf00 0 20px,#ffdf00 0 21px,#ffef00 0 22px,#ff0 0 24px,#ffdf00 0 25px,#ffaf00 0 26px,#ff8f00 0 28px,#ffaf00 0 29px,#ffef00 0 30px,#ffdf00 0 31px,#ff8f00 0 32px,#ff7000 0 33px,#ff9f00 0 34px,#ffdf00 0 35px,#ffaf00 0 36px,#ff5000 0 37px,#ff8f00 0 38px,#ffcf00 0 39px,#ff7000 0 40px,#ff5000 0 41px,#ffaf00 0 42px,#ff8f00 0 43px,#ff3000 0 44px,#ff8f00 0 46px,#ff2000 0 47px,#ff7000 0 48px,#ff8000 0 49px,#ff1000 0)"></i><i style="left:200px;background:linear-gradient(90deg,#ff7000 0 1px,#ff6000 0 2px,#ff1000 0 3px,#ff6000 0 4px,#ff3000 0 5px,#ff1000 0 6px,#ff5000 0 7px,#ff2000 0 8px,#ff1000 0 9px,#ff3000 0 10px,#ff1000 0 13px,#f00 0 18px,#df0000 0 19px,#f00 0 21px,#cf0000 0 22px,#ef0000 0 23px,#ff1000 0 24px,#cf0000 0 25px,#bf0000 0 26px,#ef0000 0 27px,#f00 0 28px,#bf0000 0 29px,#af0000 0 30px,#df0000 0 31px,#ff1000 0 32px,#df0000 0 33px,#9f0000 0 35px,#cf0000 0 36px,#f00 0 38px,#cf0000 0 39px,#af0000 0 40px,#8f0000 0 42px,#9f0000 0 43px,#bf0000 0 44px,#df0000 0 45px,#ef0000 0 47px,#f00 0)"></i><i style="left:250px;background:linear-gradient(90deg,#f00 0 2px,#ef0000 0 4px,#df0000 0 5px,#bf0000 0 6px,#9f0000 0 7px,#8f0000 0 9px,#af0000 0 10px,#cf0000 0 11px,#f00 0 13px,#cf0000 0 14px,#9f0000 0 16px,#df0000 0 17px,#ff1000 0 18px,#df0000 0 19px,#af0000 0 20px,#bf0000 0 21px,#f00 0 22px,#ef0000 0 23px,#bf0000 0 24px,#cf0000 0 25px,#ff1000 0 26px,#ef0000 0 27px,#cf0000 0 28px,#f00 0 30px,#df0000 0 31px,#f00 0 36px,#ff1000 0 39px,#ff3000 0 40px,#ff1000 0 41px,#ff2000 0 42px,#ff5000 0 43px,#ff1000 0 44px,#ff3000 0 45px,#ff6000 0 46px,#ff1000 0 47px,#ff6000 0 48px,#ff7000 0 49px,#ff1000 0)"></i><i style="left:300px;background:linear-gradient(90deg,#ff8000 0 1px,#ff7000 0 2px,#ff2000 0 3px,#ff8f00 0 5px,#ff3000 0 6px,#ff8f00 0 7px,#ffaf00 0 8px,#ff5000 0 9px,#ff7000 0 10px,#ffcf00 0 11px,#ff8f00 0 12px,#ff5000 0 13px,#ffaf00 0 14px,#ffdf00 0 15px,#ff9f00 0 16px,#ff7000 0 17px,#ff8f00 0 18px,#ffdf00 0 19px,#ffef00 0 20px,#ffaf00 0 21px,#ff8f00 0 23px,#ffaf00 0 24px,#ffdf00 0 25px,#ff0 0 27px,#ffef00 0 28px,#ffdf00 0 29px,#ffcf00 0 30px,#ffbf00 0 36px,#ffcf00 0 37px,#ffdf00 0 38px,#ffef00 0 39px,#ff0 0 40px,#ffef00 0 41px,#ffcf00 0 42px,#ff9f00 0 43px,#ff8f00 0 45px,#ffcf00 0 46px,#ffef00 0 47px,#ffcf00 0 48px,#ff8000 0 49px,#ff7000 0)"></i><i style="left:350px;background:linear-gradient(90deg,#ffbf00 0 1px,#ffdf00 0 2px,#ff8000 0 3px,#ff6000 0 4px,#ffaf00 0 5px,#ffbf00 0 6px,#ff5000 0 7px,#ff6000 0 8px,#ffbf00 0 9px,#ff6000 0 10px,#ff4000 0 11px,#ffaf00 0 12px,#ff6000 0 13px,#ff3000 0 14px,#ff8f00 0 15px,#ff5000 0 16px,#ff2000 0 17px,#ff8000 0 18px,#ff3000 0 19px,#ff2000 0 20px,#ff7000 0 21px,#ff2000 0 23px,#ff5000 0 24px,#ff1000 0 25px,#ff2000 0 26px,#ff3000 0 27px,#f00 0 28px,#ff1000 0 30px,#f00 0 34px,#ef0000 0 36px,#ff1000 0 37px,#ef0000 0 38px,#cf0000 0 39px,#f00 0 41px,#bf0000 0 42px,#cf0000 0 43px,#f00 0 44px,#ef0000 0 45px,#af0000 0 46px,#bf0000 0 47px,#f00 0 49px,#bf0000 0)"></i><i style="left:400px;background:linear-gradient(90deg,#9f0000 0 1px,#af0000 0 2px,#df0000 0 3px,#f00 0 4px,#ef0000 0 5px,#bf0000 0 6px,#9f0000 0 7px,#8f0000 0 8px,#9f0000 0 9px,#af0000 0 10px,#cf0000 0 11px,#df0000 0 12px,#ef0000 0 14px,#f00 0 19px,#ef0000 0 20px,#df0000 0 21px,#cf0000 0 22px,#af0000 0 23px,#9f0000 0 24px,#8f0000 0 25px,#9f0000 0 26px,#af0000 0 27px,#df0000 0 28px,#f00 0 29px,#ef0000 0 30px,#bf0000 0 31px,#9f0000 0 32px,#af0000 0 33px,#ef0000 0 34px,#f00 0 35px,#cf0000 0 36px,#af0000 0 37px,#cf0000 0 38px,#ff1000 0 39px,#df0000 0 40px,#bf0000 0 41px,#ef0000 0 42px,#f00 0 43px,#df0000 0 45px,#f00 0 46px,#ef0000 0 48px,#f00 0)"></i><i style="left:450px;background:linear-gradient(90deg,#f00 0 2px,#ff1000 0 3px,#ff2000 0 4px,#ff1000 0 5px,#ff2000 0 6px,#ff3000 0 7px,#ff1000 0 8px,#ff3000 0 9px,#ff4000 0 10px,#ff1000 0 11px,#ff5000 0 12px,#ff4000 0 13px,#ff1000 0 14px,#ff8000 0 15px,#ff4000 0 16px,#ff3000 0 17px,#ff8f00 0 18px,#ff5000 0 19px,#ff4000 0 20px,#ffaf00 0 21px,#ff6000 0 22px,#ff4000 0 23px,#ffaf00 0 24px,#ff8f00 0 25px,#ff4000 0 26px,#ff9f00 0 27px,#ffcf00 0 28px,#ff7000 0 29px,#ff6000 0 30px,#ffcf00 0 32px,#ff8000 0 33px,#ff7000 0 34px,#ffaf00 0 35px,#ffef00 0 36px,#ffdf00 0 37px,#ff9f00 0 38px,#ff8000 0 39px,#ff9f00 0 40px,#ffbf00 0 41px,#ffef00 0 42px,#ff0 0 43px,#ffef00 0 45px,#ffcf00 0 47px,#ffbf00 0 49px,#ffaf00 0)"></i></div>
<div class="r" style="top:1022.92px;height:35.87px"><i style="left:0px;background:linear-gradient(90deg,#20ffdf 0 1px,#10ffef 0 2px,#0ff 0 3px,#00efff 0 4px,#00cfff 0 5px,#00bfff 0 7px,#00cfff 0 8px,#10ffef 0 9px,#40ffbf 0 10px,#50ffaf 0 11px,#30ffcf 0 12px,#00efff 0 13px,#00cfff 0 14px,#20ffdf 0 15px,#60ff9f 0 16px,#50ffaf 0 17px,#0ff 0 18px,#10ffef 0 19px,#60ff9f 0 21px,#10ffef 0 22px,#40ffbf 0 23px,#80ff80 0 24px,#50ffaf 0 25px,#30ffcf 0 26px,#80ff80 0 27px,#70ff8f 0 28px,#50ffaf 0 29px,#8fff70 0 31px,#70ff8f 0 32px,#9fff60 0 34px,#8fff70 0 35px,#afff50 0 37px,#bfff40 0 39px,#cfff30 0 40px,#dfff20 0 41px,#bfff40 0 42px,#efff10 0 44px,#dfff20 0 45px,#ffdf00 0 46px,#ff0 0 47px,#efff10 0 48px,#ffbf00 0 49px,#ffef00 0)"></i><i style="left:50px;background:linear-gradient(90deg,#ff0 0 1px,#ffaf00 0 2px,#ffcf00 0 3px,#ff0 0 4px,#ff9f00 0 6px,#ffef00 0 7px,#ffaf00 0 8px,#ff7000 0 9px,#ffaf00 0 10px,#ffdf00 0 11px,#ff8f00 0 12px,#ff6000 0 13px,#ff8f00 0 14px,#ffbf00 0 15px,#ff9f00 0 16px,#ff6000 0 17px,#ff5000 0 18px,#ff7000 0 19px,#ff9f00 0 20px,#ffaf00 0 21px,#ff8f00 0 22px,#ff6000 0 23px,#ff4000 0 25px,#ff5000 0 26px,#ff6000 0 27px,#ff7000 0 28px,#ff8000 0 30px,#ff8f00 0 36px,#ff8000 0 38px,#ff7000 0 39px,#ff5000 0 40px,#ff4000 0 42px,#ff5000 0 43px,#ff7000 0 44px,#ff9f00 0 45px,#ffaf00 0 46px,#ff8f00 0 47px,#ff6000 0 48px,#ff5000 0 49px,#ff8000 0)"></i><i style="left:100px;background:linear-gradient(90deg,#ffbf00 0 1px,#ffaf00 0 2px,#ff7000 0 3px,#ff6000 0 4px,#ffaf00 0 5px,#ffcf00 0 6px,#ff8f00 0 7px,#ff8000 0 8px,#ffdf00 0 10px,#ff8f00 0 11px,#ffbf00 0 12px,#ff0 0 13px,#ffaf00 0 14px,#ffbf00 0 15px,#efff10 0 16px,#ffcf00 0 18px,#dfff20 0 19px,#ffef00 0 21px,#cfff30 0 22px,#ff0 0 23px,#dfff20 0 24px,#bfff40 0 25px,#dfff20 0 26px,#bfff40 0 28px,#afff50 0 31px,#8fff70 0 32px,#9fff60 0 33px,#8fff70 0 34px,#70ff8f 0 35px,#9fff60 0 36px,#80ff80 0 37px,#50ffaf 0 38px,#8fff70 0 39px,#70ff8f 0 40px,#30ffcf 0 41px,#70ff8f 0 43px,#20ffdf 0 45px,#70ff8f 0 46px,#50ffaf 0 47px,#00efff 0 48px,#10ffef 0 49px,#60ff9f 0)"></i><i style="left:150px;background:linear-gradient(90deg,#50ffaf 0 1px,#0ff 0 2px,#00cfff 0 3px,#0ff 0 4px,#40ffbf 0 5px,#50ffaf 0 6px,#30ffcf 0 7px,#00efff 0 8px,#00bfff 0 11px,#00dfff 0 12px,#00efff 0 13px,#10ffef 0 15px,#20ffdf 0 17px,#10ffef 0 19px,#0ff 0 20px,#00dfff 0 21px,#00cfff 0 22px,#00bfff 0 24px,#00dfff 0 25px,#20ffdf 0 26px,#40ffbf 0 27px,#50ffaf 0 28px,#10ffef 0 29px,#00dfff 0 31px,#30ffcf 0 32px,#60ff9f 0 33px,#30ffcf 0 34px,#00efff 0 35px,#30ffcf 0 36px,#70ff8f 0 37px,#40ffbf 0 38px,#10ffef 0 39px,#60ff9f 0 40px,#80ff80 0 41px,#30ffcf 0 42px,#50ffaf 0 43px,#8fff70 0 44px,#60ff9f 0 46px,#9fff60 0 47px,#80ff80 0 49px,#9fff60 0)"></i><i style="left:200px;background:linear-gradient(90deg,#8fff70 0 1px,#9fff60 0 2px,#afff50 0 4px,#bfff40 0 6px,#dfff20 0 7px,#cfff30 0 9px,#ff0 0 10px,#dfff20 0 11px,#efff10 0 12px,#ffdf00 0 13px,#dfff20 0 14px,#ffef00 0 15px,#ffbf00 0 16px,#efff10 0 17px,#ffdf00 0 18px,#ff9f00 0 19px,#ffef00 0 20px,#ffdf00 0 21px,#ff8f00 0 22px,#ffbf00 0 23px,#ffef00 0 24px,#ff8f00 0 25px,#ff8000 0 26px,#ffbf00 0 27px,#ffcf00 0 28px,#ff8000 0 29px,#ff6000 0 30px,#ff9f00 0 31px,#ffbf00 0 32px,#ff8f00 0 33px,#ff5000 0 35px,#ff8000 0 36px,#ff9f00 0 38px,#ff8000 0 39px,#ff5000 0 40px,#ff4000 0 42px,#ff5000 0 43px,#ff6000 0 44px,#ff7000 0 45px,#ff8000 0 46px,#ff8f00 0)"></i><i style="left:250px;background:linear-gradient(90deg,#ff8f00 0 3px,#ff8000 0 4px,#ff7000 0 5px,#ff6000 0 6px,#ff5000 0 7px,#ff4000 0 9px,#ff5000 0 10px,#ff8000 0 11px,#ff9f00 0 13px,#ff8000 0 14px,#ff5000 0 16px,#ff8f00 0 17px,#ffbf00 0 18px,#ff9f00 0 19px,#ff6000 0 20px,#ff8000 0 21px,#ffcf00 0 22px,#ffbf00 0 23px,#ff8000 0 24px,#ff8f00 0 25px,#ffef00 0 26px,#ffbf00 0 27px,#ff8f00 0 28px,#ffdf00 0 29px,#ffef00 0 30px,#ff9f00 0 31px,#ffdf00 0 32px,#efff10 0 33px,#ffbf00 0 34px,#ffef00 0 35px,#dfff20 0 36px,#ffdf00 0 37px,#efff10 0 38px,#dfff20 0 39px,#ff0 0 40px,#cfff30 0 42px,#dfff20 0 43px,#bfff40 0 45px,#afff50 0 47px,#9fff60 0 48px,#8fff70 0 49px,#9fff60 0)"></i><i style="left:300px;background:linear-gradient(90deg,#80ff80 0 2px,#9fff60 0 3px,#60ff9f 0 5px,#8fff70 0 6px,#50ffaf 0 7px,#30ffcf 0 8px,#80ff80 0 9px,#60ff9f 0 10px,#10ffef 0 11px,#40ffbf 0 12px,#70ff8f 0 13px,#30ffcf 0 14px,#00efff 0 15px,#30ffcf 0 16px,#60ff9f 0 17px,#30ffcf 0 18px,#00dfff 0 20px,#10ffef 0 21px,#50ffaf 0 22px,#40ffbf 0 23px,#20ffdf 0 24px,#00dfff 0 25px,#00bfff 0 27px,#00cfff 0 28px,#00dfff 0 29px,#0ff 0 30px,#10ffef 0 32px,#20ffdf 0 34px,#10ffef 0 36px,#00efff 0 37px,#00dfff 0 38px,#00bfff 0 41px,#00efff 0 42px,#30ffcf 0 43px,#50ffaf 0 44px,#40ffbf 0 45px,#0ff 0 46px,#00cfff 0 47px,#0ff 0 48px,#50ffaf 0 49px,#60ff9f 0)"></i><i style="left:350px;background:linear-gradient(90deg,#10ffef 0 1px,#00efff 0 2px,#50ffaf 0 3px,#70ff8f 0 4px,#20ffdf 0 6px,#70ff8f 0 8px,#30ffcf 0 9px,#70ff8f 0 10px,#8fff70 0 11px,#50ffaf 0 12px,#80ff80 0 13px,#9fff60 0 14px,#70ff8f 0 15px,#8fff70 0 16px,#9fff60 0 17px,#8fff70 0 18px,#afff50 0 21px,#bfff40 0 23px,#dfff20 0 24px,#bfff40 0 25px,#dfff20 0 26px,#ff0 0 27px,#cfff30 0 28px,#ffef00 0 30px,#dfff20 0 31px,#ffcf00 0 33px,#efff10 0 34px,#ffbf00 0 35px,#ffaf00 0 36px,#ff0 0 37px,#ffbf00 0 38px,#ff8f00 0 39px,#ffdf00 0 41px,#ff8000 0 42px,#ff8f00 0 43px,#ffcf00 0 44px,#ffaf00 0 45px,#ff6000 0 46px,#ff7000 0 47px,#ffaf00 0 48px,#ffbf00 0 49px,#ff8000 0)"></i><i style="left:400px;background:linear-gradient(90deg,#ff5000 0 1px,#ff6000 0 2px,#ff8f00 0 3px,#ffaf00 0 4px,#ff9f00 0 5px,#ff7000 0 6px,#ff5000 0 7px,#ff4000 0 9px,#ff5000 0 10px,#ff7000 0 11px,#ff8000 0 13px,#ff8f00 0 19px,#ff8000 0 21px,#ff7000 0 22px,#ff6000 0 23px,#ff5000 0 24px,#ff4000 0 26px,#ff6000 0 27px,#ff8f00 0 28px,#ffaf00 0 29px,#ff9f00 0 30px,#ff7000 0 31px,#ff5000 0 32px,#ff6000 0 33px,#ff9f00 0 34px,#ffbf00 0 35px,#ff8f00 0 36px,#ff6000 0 37px,#ff8f00 0 38px,#ffdf00 0 39px,#ffaf00 0 40px,#ff7000 0 41px,#ffaf00 0 42px,#ffef00 0 43px,#ff9f00 0 45px,#ff0 0 46px,#ffcf00 0 47px,#ffaf00 0 48px,#ff0 0 49px,#ffef00 0)"></i><i style="left:450px;background:linear-gradient(90deg,#ffbf00 0 1px,#efff10 0 2px,#ff0 0 3px,#ffdf00 0 4px,#dfff20 0 5px,#efff10 0 7px,#bfff40 0 8px,#dfff20 0 9px,#cfff30 0 10px,#bfff40 0 12px,#afff50 0 14px,#8fff70 0 15px,#9fff60 0 17px,#70ff8f 0 18px,#8fff70 0 20px,#50ffaf 0 21px,#70ff8f 0 22px,#80ff80 0 23px,#30ffcf 0 24px,#50ffaf 0 25px,#80ff80 0 26px,#40ffbf 0 27px,#10ffef 0 28px,#60ff9f 0 30px,#10ffef 0 31px,#0ff 0 32px,#50ffaf 0 33px,#60ff9f 0 34px,#20ffdf 0 35px,#00cfff 0 36px,#00efff 0 37px,#30ffcf 0 38px,#50ffaf 0 39px,#40ffbf 0 40px,#10ffef 0 41px,#00cfff 0 42px,#00bfff 0 44px,#00cfff 0 45px,#00efff 0 46px,#0ff 0 47px,#10ffef 0 48px,#20ffdf 0)"></i></div>
<div class="r" style="top:1058.20px;height:18.24px"><i style="left:0px;background:linear-gradient(90deg,#0000ef 0 1px,#0000df 0 3px,#0000cf 0 4px,#0000bf 0 5px,#0000af 0 7px,#0000bf 0 8px,#0000df 0 9px,#00f 0 11px,#0000ef 0 12px,#0000cf 0 13px,#0000bf 0 14px,#0000ef 0 15px,#0010ff 0 16px,#00f 0 17px,#0000df 0 18px,#0000ef 0 19px,#0010ff 0 21px,#00f 0 22px,#0010ff 0 23px,#0020ff 0 24px,#0010ff 0 25px,#0020ff 0 27px,#0030ff 0 28px,#0040ff 0 29px,#0030ff 0 30px,#0040ff 0 31px,#0060ff 0 32px,#0040ff 0 33px,#0050ff 0 34px,#0080ff 0 35px,#0040ff 0 36px,#0080ff 0 37px,#009fff 0 38px,#0050ff 0 39px,#009fff 0 41px,#0060ff 0 42px,#00cfff 0 43px,#00afff 0 44px,#0080ff 0 45px,#00efff 0 46px,#00bfff 0 47px,#009fff 0 48px,#10ffef 0 49px,#00cfff 0)"></i><i style="left:50px;background:linear-gradient(90deg,#00bfff 0 1px,#20ffdf 0 2px,#00efff 0 3px,#00cfff 0 4px,#20ffdf 0 6px,#00dfff 0 7px,#10ffef 0 8px,#50ffaf 0 9px,#20ffdf 0 10px,#10ffef 0 11px,#40ffbf 0 12px,#60ff9f 0 13px,#40ffbf 0 14px,#30ffcf 0 15px,#40ffbf 0 16px,#60ff9f 0 17px,#70ff8f 0 18px,#60ff9f 0 19px,#50ffaf 0 21px,#60ff9f 0 22px,#70ff8f 0 44px,#60ff9f 0 45px,#50ffaf 0 47px,#60ff9f 0 48px,#70ff8f 0 49px,#50ffaf 0)"></i><i style="left:100px;background:linear-gradient(90deg,#30ffcf 0 2px,#50ffaf 0 4px,#20ffdf 0 5px,#10ffef 0 6px,#30ffcf 0 7px,#40ffbf 0 8px,#0ff 0 9px,#00efff 0 10px,#30ffcf 0 11px,#10ffef 0 12px,#00bfff 0 13px,#10ffef 0 15px,#00afff 0 16px,#00efff 0 18px,#008fff 0 19px,#00dfff 0 20px,#00cfff 0 21px,#0070ff 0 22px,#00cfff 0 23px,#00afff 0 24px,#0070ff 0 25px,#00bfff 0 26px,#0080ff 0 27px,#0060ff 0 28px,#009fff 0 29px,#0060ff 0 31px,#0080ff 0 32px,#0040ff 0 33px,#0050ff 0 34px,#0060ff 0 35px,#0030ff 0 37px,#0040ff 0 38px,#0020ff 0 42px,#0010ff 0 43px,#00f 0 45px,#0010ff 0 46px,#00f 0 47px,#0000df 0 48px,#0000ef 0 49px,#00f 0)"></i><i style="left:150px;background:linear-gradient(90deg,#00f 0 1px,#0000df 0 2px,#0000bf 0 3px,#0000df 0 4px,#00f 0 6px,#0000ef 0 7px,#0000cf 0 8px,#0000af 0 9px,#00009f 0 10px,#0000af 0 11px,#0000cf 0 13px,#0000df 0 14px,#0000ef 0 18px,#0000df 0 20px,#0000cf 0 21px,#0000bf 0 22px,#0000af 0 24px,#0000cf 0 25px,#0000ef 0 26px,#00f 0 28px,#0000df 0 29px,#0000bf 0 30px,#0000cf 0 31px,#00f 0 32px,#0010ff 0 33px,#0000ef 0 34px,#0000df 0 35px,#0000ef 0 36px,#0010ff 0 37px,#00f 0 39px,#0010ff 0 40px,#0020ff 0 44px,#0030ff 0 45px,#0040ff 0 46px,#0030ff 0 47px,#0050ff 0 48px,#0060ff 0 49px,#0030ff 0)"></i><i style="left:200px;background:linear-gradient(90deg,#0070ff 0 2px,#0040ff 0 3px,#008fff 0 4px,#0080ff 0 5px,#0060ff 0 6px,#00bfff 0 7px,#0080ff 0 9px,#00dfff 0 10px,#008fff 0 11px,#00afff 0 12px,#00efff 0 13px,#009fff 0 14px,#00cfff 0 15px,#10ffef 0 16px,#00afff 0 17px,#00dfff 0 18px,#20ffdf 0 19px,#00cfff 0 20px,#00dfff 0 21px,#30ffcf 0 22px,#10ffef 0 23px,#00efff 0 24px,#30ffcf 0 25px,#40ffbf 0 26px,#10ffef 0 28px,#50ffaf 0 30px,#40ffbf 0 31px,#30ffcf 0 32px,#50ffaf 0 33px,#60ff9f 0 36px,#50ffaf 0 38px,#60ff9f 0 39px,#70ff8f 0)"></i><i style="left:250px;background:linear-gradient(90deg,#70ff8f 0 10px,#60ff9f 0 11px,#50ffaf 0 13px,#60ff9f 0 16px,#50ffaf 0 17px,#30ffcf 0 18px,#40ffbf 0 19px,#50ffaf 0 21px,#10ffef 0 23px,#40ffbf 0 24px,#30ffcf 0 25px,#00efff 0 26px,#10ffef 0 27px,#30ffcf 0 28px,#00dfff 0 29px,#00cfff 0 30px,#20ffdf 0 31px,#00dfff 0 32px,#00afff 0 33px,#10ffef 0 34px,#00cfff 0 35px,#009fff 0 36px,#00efff 0 37px,#00afff 0 38px,#008fff 0 39px,#00dfff 0 40px,#0080ff 0 42px,#00bfff 0 43px,#0060ff 0 44px,#0080ff 0 45px,#008fff 0 46px,#0040ff 0 47px,#0070ff 0 49px,#0030ff 0)"></i><i style="left:300px;background:linear-gradient(90deg,#0060ff 0 1px,#0050ff 0 2px,#0030ff 0 3px,#0040ff 0 4px,#0030ff 0 5px,#0020ff 0 9px,#0010ff 0 10px,#00f 0 12px,#0010ff 0 13px,#0000ef 0 14px,#0000df 0 15px,#0000ef 0 16px,#0010ff 0 17px,#00f 0 18px,#0000cf 0 19px,#0000bf 0 20px,#0000df 0 21px,#00f 0 23px,#0000ef 0 24px,#0000cf 0 25px,#0000af 0 27px,#0000bf 0 28px,#0000cf 0 29px,#0000df 0 31px,#0000ef 0 35px,#0000df 0 36px,#0000cf 0 38px,#0000af 0 39px,#00009f 0 40px,#0000af 0 41px,#0000cf 0 42px,#0000ef 0 43px,#00f 0 45px,#0000df 0 46px,#0000bf 0 47px,#0000df 0 48px,#00f 0)"></i><i style="left:350px;background:linear-gradient(90deg,#0000ef 0 1px,#0000df 0 2px,#00f 0 3px,#0010ff 0 4px,#00f 0 6px,#0010ff 0 7px,#0020ff 0 11px,#0040ff 0 12px,#0030ff 0 14px,#0060ff 0 15px,#0050ff 0 16px,#0040ff 0 17px,#0080ff 0 18px,#0060ff 0 20px,#009fff 0 21px,#0060ff 0 22px,#0080ff 0 23px,#00bfff 0 24px,#0070ff 0 25px,#00afff 0 26px,#00cfff 0 27px,#0070ff 0 28px,#00cfff 0 29px,#00dfff 0 30px,#008fff 0 31px,#00efff 0 33px,#00afff 0 34px,#10ffef 0 36px,#00bfff 0 37px,#10ffef 0 38px,#30ffcf 0 39px,#00efff 0 40px,#0ff 0 41px,#40ffbf 0 42px,#30ffcf 0 43px,#10ffef 0 44px,#20ffdf 0 45px,#50ffaf 0 47px,#30ffcf 0 49px,#50ffaf 0)"></i><i style="left:400px;background:linear-gradient(90deg,#70ff8f 0 1px,#60ff9f 0 2px,#50ffaf 0 4px,#60ff9f 0 5px,#70ff8f 0 27px,#60ff9f 0 28px,#50ffaf 0 30px,#60ff9f 0 31px,#70ff8f 0 32px,#60ff9f 0 33px,#40ffbf 0 34px,#30ffcf 0 35px,#40ffbf 0 36px,#60ff9f 0 37px,#40ffbf 0 38px,#10ffef 0 39px,#20ffdf 0 40px,#50ffaf 0 41px,#10ffef 0 42px,#00dfff 0 43px,#20ffdf 0 45px,#00cfff 0 46px,#00efff 0 47px,#20ffdf 0 48px,#00bfff 0 49px,#00cfff 0)"></i><i style="left:450px;background:linear-gradient(90deg,#10ffef 0 1px,#009fff 0 2px,#00bfff 0 3px,#00efff 0 4px,#0080ff 0 5px,#00afff 0 6px,#00cfff 0 7px,#0060ff 0 8px,#009fff 0 10px,#0050ff 0 11px,#009fff 0 12px,#0080ff 0 13px,#0040ff 0 14px,#0080ff 0 15px,#0050ff 0 16px,#0040ff 0 17px,#0060ff 0 18px,#0040ff 0 19px,#0030ff 0 20px,#0040ff 0 21px,#0030ff 0 22px,#0020ff 0 24px,#0010ff 0 25px,#0020ff 0 26px,#0010ff 0 27px,#00f 0 28px,#0010ff 0 30px,#0000ef 0 31px,#0000df 0 32px,#00f 0 33px,#0010ff 0 34px,#0000ef 0 35px,#0000bf 0 36px,#0000cf 0 37px,#0000ef 0 38px,#00f 0 40px,#0000df 0 41px,#0000bf 0 42px,#0000af 0 44px,#0000bf 0 45px,#0000cf 0 46px,#0000df 0 48px,#0000ef 0)"></i></div>
<div class="r" style="top:1075.83px;height:18.24px"><i style="left:0px;background:linear-gradient(90deg,#0010ff 0 2px,#0020ff 0 6px,#0010ff 0 13px,#00f 0 14px,#0010ff 0 17px,#0000ef 0 19px,#0010ff 0 21px,#0000df 0 22px,#0000ef 0 23px,#0010ff 0 24px,#0000ef 0 25px,#0000cf 0 26px,#0010ff 0 27px,#0000ef 0 28px,#0000af 0 29px,#00f 0 30px,#0000ef 0 31px,#00009f 0 32px,#00f 0 33px,#0000df 0 34px,#0000af 0 35px,#0000ef 0 36px,#0000cf 0 37px,#0000bf 0 38px,#0000df 0 39px,#0000bf 0 41px,#0000cf 0 42px,#0000bf 0 47px,#0000af 0 48px,#0000cf 0 49px,#0000bf 0)"></i><i style="left:50px;background:linear-gradient(90deg,#0000af 0 1px,#0000df 0 2px,#0000cf 0 3px,#0000bf 0 4px,#0000df 0 6px,#0000cf 0 7px,#0000df 0 8px,#0000ef 0 10px,#00f 0 14px,#0010ff 0 15px,#0020ff 0 16px,#0010ff 0 17px,#00f 0 18px,#0020ff 0 19px,#0030ff 0 20px,#0040ff 0 21px,#0030ff 0 22px,#0020ff 0 23px,#0010ff 0 25px,#0020ff 0 26px,#0030ff 0 27px,#0040ff 0 28px,#0050ff 0 31px,#0060ff 0 34px,#0050ff 0 37px,#0040ff 0 39px,#0030ff 0 40px,#0020ff 0 41px,#0010ff 0 42px,#0020ff 0 43px,#0030ff 0 44px,#0040ff 0 46px,#0030ff 0 47px,#0010ff 0 48px,#00f 0 49px,#0010ff 0)"></i><i style="left:100px;background:linear-gradient(90deg,#0020ff 0 1px,#0010ff 0 2px,#00f 0 5px,#0000ef 0 8px,#0000df 0 9px,#0000cf 0 10px,#0000df 0 11px,#0000cf 0 12px,#0000bf 0 13px,#0000cf 0 15px,#00009f 0 16px,#0000cf 0 18px,#00009f 0 19px,#0000bf 0 24px,#0000cf 0 25px,#0000af 0 26px,#0000cf 0 27px,#0000df 0 28px,#0000af 0 29px,#0000df 0 31px,#00009f 0 32px,#0000ef 0 33px,#0000df 0 34px,#0000af 0 35px,#00f 0 36px,#0000ef 0 37px,#0000bf 0 38px,#0010ff 0 39px,#00f 0 40px,#0000bf 0 41px,#00f 0 42px,#0010ff 0 43px,#0000df 0 44px,#0000ef 0 45px,#0010ff 0 47px,#0000ef 0 48px,#00f 0 49px,#0010ff 0)"></i><i style="left:150px;background:linear-gradient(90deg,#0010ff 0 1px,#00f 0 3px,#0010ff 0 9px,#0020ff 0 14px,#0010ff 0 18px,#0020ff 0 23px,#0010ff 0 29px,#00f 0 31px,#0010ff 0 33px,#00f 0 34px,#0000ef 0 35px,#00f 0 36px,#0010ff 0 37px,#00f 0 38px,#0000cf 0 39px,#00f 0 40px,#0010ff 0 41px,#0000cf 0 42px,#0000df 0 43px,#0010ff 0 44px,#0000df 0 45px,#0000cf 0 46px,#0010ff 0 47px,#0000cf 0 48px,#0000bf 0 49px,#00f 0)"></i><i style="left:200px;background:linear-gradient(90deg,#0000bf 0 1px,#0000cf 0 2px,#0000ef 0 3px,#0000af 0 4px,#0000cf 0 5px,#0000df 0 6px,#0000af 0 7px,#0000cf 0 8px,#0000bf 0 12px,#0000cf 0 13px,#0000af 0 14px,#0000bf 0 15px,#0000cf 0 16px,#0000af 0 17px,#0000bf 0 18px,#0000df 0 19px,#0000bf 0 20px,#0000cf 0 21px,#0000df 0 24px,#0000ef 0 27px,#00f 0 30px,#0010ff 0 31px,#0020ff 0 32px,#0010ff 0 33px,#00f 0 34px,#0010ff 0 35px,#0020ff 0 36px,#0030ff 0 37px,#0040ff 0 38px,#0030ff 0 39px,#0020ff 0 40px,#0010ff 0 42px,#0020ff 0 43px,#0030ff 0 44px,#0040ff 0 45px,#0050ff 0 48px,#0060ff 0)"></i><i style="left:250px;background:linear-gradient(90deg,#0060ff 0 1px,#0050ff 0 4px,#0040ff 0 5px,#0030ff 0 6px,#0020ff 0 7px,#0010ff 0 9px,#0020ff 0 10px,#0030ff 0 11px,#0040ff 0 12px,#0030ff 0 13px,#0020ff 0 14px,#0010ff 0 15px,#00f 0 16px,#0010ff 0 17px,#0020ff 0 18px,#0010ff 0 19px,#00f 0 22px,#0000ef 0 25px,#0000df 0 28px,#0000cf 0 29px,#0000bf 0 30px,#0000df 0 31px,#0000bf 0 32px,#0000af 0 33px,#0000cf 0 34px,#0000bf 0 35px,#0000af 0 36px,#0000cf 0 37px,#0000bf 0 41px,#0000cf 0 42px,#0000af 0 43px,#0000df 0 44px,#0000cf 0 45px,#0000af 0 46px,#0000ef 0 47px,#0000cf 0 48px,#0000bf 0 49px,#00f 0)"></i><i style="left:300px;background:linear-gradient(90deg,#0000bf 0 1px,#0000cf 0 2px,#0010ff 0 3px,#0000cf 0 4px,#0000df 0 5px,#0010ff 0 6px,#0000df 0 7px,#0000cf 0 8px,#0010ff 0 9px,#00f 0 10px,#0000cf 0 11px,#00f 0 12px,#0010ff 0 13px,#00f 0 14px,#0000ef 0 15px,#00f 0 16px,#0010ff 0 18px,#00f 0 20px,#0010ff 0 26px,#0020ff 0 31px,#0010ff 0 35px,#0020ff 0 40px,#0010ff 0 46px,#00f 0 48px,#0010ff 0)"></i><i style="left:350px;background:linear-gradient(90deg,#00f 0 1px,#0000ef 0 2px,#0010ff 0 4px,#0000ef 0 5px,#0000df 0 6px,#0010ff 0 7px,#00f 0 8px,#0000bf 0 9px,#00f 0 10px,#0010ff 0 11px,#0000bf 0 12px,#0000ef 0 13px,#00f 0 14px,#0000af 0 15px,#0000df 0 16px,#0000ef 0 17px,#00009f 0 18px,#0000df 0 20px,#0000af 0 21px,#0000df 0 22px,#0000cf 0 23px,#0000af 0 24px,#0000cf 0 25px,#0000bf 0 30px,#00009f 0 31px,#0000cf 0 33px,#00009f 0 34px,#0000cf 0 36px,#0000bf 0 37px,#0000cf 0 38px,#0000df 0 39px,#0000cf 0 40px,#0000df 0 41px,#0000ef 0 44px,#00f 0 47px,#0010ff 0 48px,#0020ff 0 49px,#0010ff 0)"></i><i style="left:400px;background:linear-gradient(90deg,#00f 0 1px,#0010ff 0 2px,#0030ff 0 3px,#0040ff 0 5px,#0030ff 0 6px,#0020ff 0 7px,#0010ff 0 8px,#0020ff 0 9px,#0030ff 0 10px,#0040ff 0 12px,#0050ff 0 15px,#0060ff 0 18px,#0050ff 0 21px,#0040ff 0 22px,#0030ff 0 23px,#0020ff 0 24px,#0010ff 0 26px,#0020ff 0 27px,#0030ff 0 28px,#0040ff 0 29px,#0030ff 0 30px,#0020ff 0 31px,#00f 0 32px,#0010ff 0 33px,#0020ff 0 34px,#0010ff 0 35px,#00f 0 39px,#0000ef 0 41px,#0000df 0 42px,#0000cf 0 43px,#0000df 0 45px,#0000bf 0 46px,#0000cf 0 47px,#0000df 0 48px,#0000af 0 49px,#0000bf 0)"></i><i style="left:450px;background:linear-gradient(90deg,#0000cf 0 1px,#0000af 0 2px,#0000bf 0 7px,#0000cf 0 8px,#0000bf 0 10px,#0000df 0 11px,#0000bf 0 12px,#0000cf 0 13px,#0000ef 0 14px,#0000af 0 15px,#0000df 0 16px,#00f 0 17px,#00009f 0 18px,#0000ef 0 19px,#00f 0 20px,#0000af 0 21px,#0000ef 0 22px,#0010ff 0 23px,#0000cf 0 24px,#0000ef 0 25px,#0010ff 0 26px,#0000ef 0 27px,#0000df 0 28px,#0010ff 0 30px,#0000ef 0 32px,#0010ff 0 35px,#00f 0 36px,#0010ff 0 43px,#0020ff 0 47px,#0010ff 0)"></i></div>
<div class="r" style="top:1093.47px;height:18.24px"><i style="left:0px;background:linear-gradient(90deg,#0070ff 0 2px,#0060ff 0 3px,#0050ff 0 4px,#0040ff 0 5px,#0030ff 0 7px,#0040ff 0 8px,#0060ff 0 9px,#0080ff 0 11px,#0070ff 0 12px,#0040ff 0 13px,#0030ff 0 14px,#0060ff 0 15px,#008fff 0 16px,#0070ff 0 17px,#0030ff 0 18px,#0040ff 0 19px,#0080ff 0 21px,#0030ff 0 22px,#0050ff 0 23px,#008fff 0 24px,#0050ff 0 25px,#0020ff 0 26px,#0080ff 0 27px,#0060ff 0 28px,#0020ff 0 29px,#0080ff 0 30px,#0060ff 0 31px,#0020ff 0 32px,#0070ff 0 33px,#0060ff 0 34px,#0020ff 0 35px,#0070ff 0 36px,#0040ff 0 37px,#0030ff 0 38px,#0060ff 0 39px,#0030ff 0 41px,#0050ff 0 42px,#0030ff 0 44px,#0040ff 0 45px,#0030ff 0 49px,#0020ff 0)"></i><i style="left:50px;background:linear-gradient(90deg,#0020ff 0 1px,#0030ff 0 2px,#0020ff 0 3px,#00f 0 4px,#0020ff 0 6px,#0000ef 0 7px,#0010ff 0 8px,#0030ff 0 9px,#00f 0 10px,#0000df 0 11px,#0010ff 0 12px,#0020ff 0 13px,#00f 0 14px,#0000cf 0 15px,#0000df 0 16px,#0010ff 0 17px,#0020ff 0 18px,#00f 0 19px,#0000cf 0 20px,#0000bf 0 21px,#0000df 0 22px,#00f 0 23px,#0010ff 0 25px,#00f 0 26px,#0000ef 0 27px,#0000df 0 28px,#0000cf 0 29px,#0000bf 0 31px,#0000af 0 35px,#0000bf 0 37px,#0000cf 0 38px,#0000ef 0 39px,#00f 0 40px,#0010ff 0 43px,#0000ef 0 44px,#0000cf 0 45px,#0000bf 0 46px,#0000df 0 47px,#0010ff 0 48px,#0020ff 0 49px,#00f 0)"></i><i style="left:100px;background:linear-gradient(90deg,#0000cf 0 1px,#0000df 0 2px,#0010ff 0 3px,#0020ff 0 4px,#0000ef 0 5px,#0000df 0 6px,#0010ff 0 7px,#0020ff 0 8px,#00f 0 10px,#0030ff 0 11px,#0020ff 0 12px,#00f 0 13px,#0020ff 0 17px,#0030ff 0 21px,#0040ff 0 22px,#0030ff 0 24px,#0050ff 0 25px,#0020ff 0 26px,#0050ff 0 27px,#0060ff 0 28px,#0020ff 0 29px,#0060ff 0 31px,#0020ff 0 32px,#0070ff 0 33px,#0050ff 0 34px,#0020ff 0 35px,#0080ff 0 36px,#0060ff 0 37px,#0020ff 0 38px,#0080ff 0 39px,#0070ff 0 40px,#0020ff 0 41px,#0070ff 0 42px,#0080ff 0 43px,#0030ff 0 44px,#0040ff 0 45px,#008fff 0 46px,#0070ff 0 47px,#0020ff 0 48px,#0050ff 0 49px,#0080ff 0)"></i><i style="left:150px;background:linear-gradient(90deg,#0080ff 0 1px,#0040ff 0 2px,#0030ff 0 3px,#0050ff 0 4px,#0080ff 0 6px,#0070ff 0 7px,#0050ff 0 8px,#0040ff 0 9px,#0030ff 0 10px,#0040ff 0 11px,#0050ff 0 12px,#0060ff 0 14px,#0070ff 0 18px,#0060ff 0 20px,#0050ff 0 21px,#0040ff 0 22px,#0030ff 0 24px,#0050ff 0 25px,#0070ff 0 26px,#0080ff 0 28px,#0060ff 0 29px,#0030ff 0 31px,#0070ff 0 32px,#008fff 0 33px,#0060ff 0 34px,#0020ff 0 35px,#0050ff 0 36px,#008fff 0 37px,#0060ff 0 38px,#0020ff 0 39px,#0070ff 0 40px,#008fff 0 41px,#0030ff 0 42px,#0040ff 0 43px,#008fff 0 44px,#0040ff 0 45px,#0030ff 0 46px,#0080ff 0 47px,#0040ff 0 48px,#0030ff 0 49px,#0080ff 0)"></i><i style="left:200px;background:linear-gradient(90deg,#0030ff 0 1px,#0040ff 0 2px,#0070ff 0 3px,#0030ff 0 4px,#0040ff 0 5px,#0060ff 0 6px,#0020ff 0 7px,#0040ff 0 9px,#0020ff 0 10px,#0040ff 0 11px,#0030ff 0 16px,#0020ff 0 18px,#0030ff 0 19px,#0010ff 0 21px,#0030ff 0 22px,#0010ff 0 23px,#0000ef 0 24px,#0020ff 0 26px,#0000ef 0 27px,#0000df 0 28px,#0010ff 0 29px,#0020ff 0 30px,#0000ef 0 31px,#0000cf 0 32px,#0000ef 0 33px,#0010ff 0 35px,#0000ef 0 36px,#0000bf 0 38px,#0000df 0 39px,#00f 0 40px,#0010ff 0 42px,#00f 0 43px,#0000ef 0 44px,#0000df 0 45px,#0000cf 0 46px,#0000bf 0 47px,#0000af 0)"></i><i style="left:250px;background:linear-gradient(90deg,#0000af 0 2px,#0000bf 0 3px,#0000cf 0 4px,#0000df 0 5px,#0000ef 0 6px,#00f 0 7px,#0010ff 0 9px,#00f 0 10px,#0000df 0 11px,#0000bf 0 13px,#0000ef 0 14px,#0010ff 0 16px,#0000ef 0 17px,#0000cf 0 18px,#0000ef 0 19px,#0020ff 0 20px,#0010ff 0 21px,#0000df 0 22px,#0000ef 0 23px,#0020ff 0 25px,#0000ef 0 26px,#0010ff 0 27px,#0030ff 0 28px,#0010ff 0 30px,#0030ff 0 31px,#0020ff 0 33px,#0030ff 0 38px,#0040ff 0 39px,#0020ff 0 40px,#0040ff 0 42px,#0020ff 0 43px,#0060ff 0 44px,#0040ff 0 45px,#0030ff 0 46px,#0070ff 0 47px,#0040ff 0 48px,#0030ff 0 49px,#0080ff 0)"></i><i style="left:300px;background:linear-gradient(90deg,#0030ff 0 1px,#0040ff 0 2px,#0080ff 0 3px,#0030ff 0 4px,#0040ff 0 5px,#008fff 0 6px,#0040ff 0 7px,#0030ff 0 8px,#008fff 0 9px,#0070ff 0 10px,#0020ff 0 11px,#0060ff 0 12px,#008fff 0 13px,#0050ff 0 14px,#0020ff 0 15px,#0060ff 0 16px,#008fff 0 17px,#0070ff 0 18px,#0030ff 0 20px,#0060ff 0 21px,#0080ff 0 23px,#0070ff 0 24px,#0050ff 0 25px,#0030ff 0 27px,#0040ff 0 28px,#0050ff 0 29px,#0060ff 0 31px,#0070ff 0 35px,#0060ff 0 37px,#0050ff 0 38px,#0040ff 0 39px,#0030ff 0 40px,#0040ff 0 41px,#0050ff 0 42px,#0070ff 0 43px,#0080ff 0 45px,#0050ff 0 46px,#0030ff 0 47px,#0040ff 0 48px,#0080ff 0)"></i><i style="left:350px;background:linear-gradient(90deg,#0050ff 0 1px,#0020ff 0 2px,#0070ff 0 3px,#008fff 0 4px,#0040ff 0 5px,#0030ff 0 6px,#0080ff 0 7px,#0070ff 0 8px,#0020ff 0 9px,#0070ff 0 10px,#0080ff 0 11px,#0020ff 0 12px,#0060ff 0 13px,#0080ff 0 14px,#0020ff 0 15px,#0050ff 0 16px,#0070ff 0 17px,#0020ff 0 18px,#0060ff 0 20px,#0020ff 0 21px,#0060ff 0 22px,#0050ff 0 23px,#0020ff 0 24px,#0050ff 0 25px,#0030ff 0 27px,#0040ff 0 28px,#0030ff 0 32px,#0020ff 0 36px,#00f 0 37px,#0020ff 0 38px,#0030ff 0 39px,#00f 0 41px,#0020ff 0 42px,#0010ff 0 43px,#0000df 0 44px,#0000ef 0 45px,#0020ff 0 46px,#0010ff 0 47px,#0000df 0 48px,#0000cf 0 49px,#00f 0)"></i><i style="left:400px;background:linear-gradient(90deg,#0020ff 0 1px,#0010ff 0 2px,#0000df 0 3px,#0000bf 0 4px,#0000cf 0 5px,#0000ef 0 6px,#0010ff 0 9px,#00f 0 10px,#0000ef 0 11px,#0000cf 0 12px,#0000bf 0 14px,#0000af 0 18px,#0000bf 0 20px,#0000cf 0 21px,#0000df 0 22px,#0000ef 0 23px,#00f 0 24px,#0010ff 0 26px,#00f 0 27px,#0000df 0 28px,#0000bf 0 29px,#0000cf 0 30px,#00f 0 31px,#0020ff 0 32px,#0010ff 0 33px,#0000df 0 34px,#0000cf 0 35px,#00f 0 36px,#0020ff 0 37px,#0010ff 0 38px,#0000df 0 39px,#00f 0 40px,#0030ff 0 41px,#0010ff 0 42px,#0000ef 0 43px,#0020ff 0 45px,#00f 0 46px,#0020ff 0 47px,#0030ff 0 48px,#0020ff 0)"></i><i style="left:450px;background:linear-gradient(90deg,#0030ff 0 4px,#0040ff 0 5px,#0030ff 0 7px,#0050ff 0 8px,#0030ff 0 10px,#0060ff 0 11px,#0030ff 0 12px,#0040ff 0 13px,#0070ff 0 14px,#0020ff 0 15px,#0060ff 0 16px,#0070ff 0 17px,#0020ff 0 18px,#0060ff 0 19px,#0080ff 0 20px,#0020ff 0 21px,#0060ff 0 22px,#0080ff 0 23px,#0020ff 0 24px,#0050ff 0 25px,#008fff 0 26px,#0050ff 0 27px,#0030ff 0 28px,#0080ff 0 30px,#0040ff 0 31px,#0030ff 0 32px,#0070ff 0 33px,#008fff 0 34px,#0060ff 0 35px,#0030ff 0 36px,#0040ff 0 37px,#0070ff 0 38px,#0080ff 0 40px,#0060ff 0 41px,#0040ff 0 42px,#0030ff 0 44px,#0040ff 0 45px,#0050ff 0 46px,#0060ff 0 47px,#0070ff 0)"></i></div>
<div class="r" style="top:1111.10px;height:35.87px"><i style="left:0px;background:linear-gradient(90deg,#0040ff 0 2px,#0030ff 0 3px,#0020ff 0 4px,#0010ff 0 5px,#0000ef 0 7px,#00f 0 8px,#0030ff 0 9px,#0050ff 0 10px,#0060ff 0 11px,#0040ff 0 12px,#0010ff 0 13px,#0000ef 0 14px,#0030ff 0 15px,#0060ff 0 16px,#0050ff 0 17px,#0010ff 0 19px,#0060ff 0 20px,#0050ff 0 21px,#0010ff 0 22px,#0030ff 0 23px,#0060ff 0 24px,#0030ff 0 25px,#0020ff 0 26px,#0060ff 0 27px,#0050ff 0 28px,#0020ff 0 29px,#0050ff 0 31px,#0030ff 0 32px,#0050ff 0 34px,#0040ff 0 35px,#0050ff 0 41px,#0040ff 0 42px,#0060ff 0 43px,#0050ff 0 44px,#0040ff 0 45px,#0070ff 0 46px,#0050ff 0 47px,#0040ff 0 48px,#0080ff 0 49px,#0050ff 0)"></i><i style="left:50px;background:linear-gradient(90deg,#0040ff 0 1px,#0080ff 0 2px,#0060ff 0 3px,#0030ff 0 4px,#0080ff 0 5px,#0070ff 0 6px,#0030ff 0 7px,#0060ff 0 8px,#008fff 0 9px,#0060ff 0 10px,#0030ff 0 11px,#0060ff 0 12px,#008fff 0 13px,#0060ff 0 14px,#0030ff 0 15px,#0040ff 0 16px,#0070ff 0 17px,#0080ff 0 18px,#0060ff 0 19px,#0040ff 0 20px,#0030ff 0 21px,#0040ff 0 22px,#0060ff 0 23px,#0070ff 0 24px,#0080ff 0 25px,#0070ff 0 26px,#0060ff 0 27px,#0050ff 0 28px,#0040ff 0 29px,#0030ff 0 36px,#0040ff 0 38px,#0050ff 0 39px,#0060ff 0 40px,#0070ff 0 41px,#0080ff 0 42px,#0070ff 0 43px,#0060ff 0 44px,#0040ff 0 45px,#0030ff 0 46px,#0040ff 0 47px,#0070ff 0 48px,#0080ff 0 49px,#0060ff 0)"></i><i style="left:100px;background:linear-gradient(90deg,#0030ff 0 1px,#0040ff 0 2px,#0070ff 0 3px,#0080ff 0 4px,#0050ff 0 5px,#0030ff 0 6px,#0070ff 0 7px,#0080ff 0 8px,#0040ff 0 10px,#0080ff 0 11px,#0060ff 0 12px,#0030ff 0 13px,#0070ff 0 15px,#0030ff 0 16px,#0070ff 0 18px,#0030ff 0 19px,#0060ff 0 21px,#0040ff 0 22px,#0060ff 0 24px,#0040ff 0 25px,#0060ff 0 26px,#0050ff 0 31px,#0040ff 0 32px,#0050ff 0 34px,#0030ff 0 35px,#0060ff 0 36px,#0040ff 0 37px,#0020ff 0 38px,#0060ff 0 39px,#0050ff 0 40px,#0010ff 0 41px,#0050ff 0 42px,#0060ff 0 43px,#0010ff 0 44px,#0020ff 0 45px,#0060ff 0 46px,#0050ff 0 47px,#00f 0 48px,#0020ff 0 49px,#0060ff 0)"></i><i style="left:150px;background:linear-gradient(90deg,#0050ff 0 1px,#0020ff 0 2px,#0000ef 0 3px,#0020ff 0 4px,#0050ff 0 5px,#0060ff 0 6px,#0050ff 0 7px,#0020ff 0 8px,#00f 0 9px,#0000ef 0 10px,#00f 0 11px,#0010ff 0 12px,#0020ff 0 13px,#0030ff 0 14px,#0040ff 0 18px,#0030ff 0 20px,#0010ff 0 21px,#00f 0 22px,#0000ef 0 24px,#0010ff 0 25px,#0040ff 0 26px,#0060ff 0 28px,#0030ff 0 29px,#00f 0 31px,#0040ff 0 32px,#0060ff 0 33px,#0040ff 0 34px,#00f 0 35px,#0030ff 0 36px,#0060ff 0 37px,#0040ff 0 38px,#00f 0 39px,#0050ff 0 40px,#0060ff 0 41px,#0020ff 0 42px,#0030ff 0 43px,#0060ff 0 44px,#0030ff 0 46px,#0060ff 0 47px,#0040ff 0 49px,#0060ff 0)"></i><i style="left:200px;background:linear-gradient(90deg,#0040ff 0 1px,#0050ff 0 6px,#0060ff 0 7px,#0050ff 0 9px,#0070ff 0 10px,#0040ff 0 11px,#0050ff 0 12px,#0070ff 0 13px,#0040ff 0 14px,#0060ff 0 15px,#0080ff 0 16px,#0040ff 0 17px,#0060ff 0 18px,#0080ff 0 19px,#0040ff 0 21px,#008fff 0 22px,#0060ff 0 23px,#0030ff 0 24px,#0070ff 0 25px,#0080ff 0 26px,#0040ff 0 27px,#0030ff 0 28px,#0070ff 0 29px,#0080ff 0 30px,#0050ff 0 31px,#0030ff 0 32px,#0050ff 0 33px,#0080ff 0 35px,#0050ff 0 36px,#0030ff 0 38px,#0050ff 0 39px,#0070ff 0 40px,#0080ff 0 41px,#0070ff 0 43px,#0060ff 0 44px,#0050ff 0 45px,#0040ff 0 46px,#0030ff 0)"></i><i style="left:250px;background:linear-gradient(90deg,#0030ff 0 3px,#0040ff 0 4px,#0050ff 0 5px,#0060ff 0 6px,#0070ff 0 8px,#0080ff 0 9px,#0070ff 0 10px,#0050ff 0 11px,#0030ff 0 13px,#0050ff 0 14px,#0080ff 0 16px,#0050ff 0 17px,#0030ff 0 18px,#0050ff 0 19px,#0080ff 0 20px,#0070ff 0 21px,#0030ff 0 22px,#0040ff 0 23px,#0080ff 0 24px,#0070ff 0 25px,#0030ff 0 26px,#0060ff 0 27px,#008fff 0 28px,#0040ff 0 30px,#0080ff 0 31px,#0060ff 0 32px,#0040ff 0 33px,#0080ff 0 34px,#0060ff 0 35px,#0040ff 0 36px,#0070ff 0 37px,#0050ff 0 38px,#0040ff 0 39px,#0070ff 0 40px,#0050ff 0 42px,#0060ff 0 43px,#0050ff 0 48px,#0040ff 0 49px,#0060ff 0)"></i><i style="left:300px;background:linear-gradient(90deg,#0040ff 0 2px,#0060ff 0 3px,#0030ff 0 5px,#0060ff 0 6px,#0030ff 0 7px,#0020ff 0 8px,#0060ff 0 9px,#0050ff 0 10px,#00f 0 11px,#0040ff 0 12px,#0060ff 0 13px,#0030ff 0 14px,#00f 0 15px,#0040ff 0 16px,#0060ff 0 17px,#0040ff 0 18px,#00f 0 20px,#0030ff 0 21px,#0060ff 0 23px,#0040ff 0 24px,#0010ff 0 25px,#0000ef 0 27px,#00f 0 28px,#0010ff 0 29px,#0030ff 0 31px,#0040ff 0 35px,#0030ff 0 36px,#0020ff 0 37px,#0010ff 0 38px,#00f 0 39px,#0000ef 0 40px,#00f 0 41px,#0020ff 0 42px,#0050ff 0 43px,#0060ff 0 44px,#0050ff 0 45px,#0020ff 0 46px,#0000ef 0 47px,#0020ff 0 48px,#0050ff 0 49px,#0060ff 0)"></i><i style="left:350px;background:linear-gradient(90deg,#0020ff 0 1px,#00f 0 2px,#0050ff 0 3px,#0060ff 0 4px,#0020ff 0 5px,#0010ff 0 6px,#0060ff 0 7px,#0050ff 0 8px,#0010ff 0 9px,#0050ff 0 10px,#0060ff 0 11px,#0020ff 0 12px,#0040ff 0 13px,#0060ff 0 14px,#0030ff 0 15px,#0050ff 0 17px,#0040ff 0 18px,#0050ff 0 23px,#0060ff 0 24px,#0040ff 0 25px,#0060ff 0 27px,#0040ff 0 28px,#0060ff 0 30px,#0030ff 0 31px,#0070ff 0 33px,#0030ff 0 34px,#0070ff 0 36px,#0030ff 0 37px,#0060ff 0 38px,#0080ff 0 39px,#0040ff 0 41px,#0080ff 0 42px,#0070ff 0 43px,#0030ff 0 44px,#0050ff 0 45px,#0080ff 0 46px,#0070ff 0 47px,#0040ff 0 48px,#0030ff 0 49px,#0060ff 0)"></i><i style="left:400px;background:linear-gradient(90deg,#0080ff 0 1px,#0070ff 0 2px,#0040ff 0 3px,#0030ff 0 4px,#0040ff 0 5px,#0060ff 0 6px,#0070ff 0 7px,#0080ff 0 8px,#0070ff 0 9px,#0060ff 0 10px,#0050ff 0 11px,#0040ff 0 13px,#0030ff 0 20px,#0040ff 0 21px,#0050ff 0 22px,#0060ff 0 23px,#0070ff 0 24px,#0080ff 0 25px,#0070ff 0 26px,#0060ff 0 27px,#0040ff 0 28px,#0030ff 0 29px,#0040ff 0 30px,#0060ff 0 31px,#0080ff 0 32px,#0070ff 0 33px,#0040ff 0 34px,#0030ff 0 35px,#0060ff 0 36px,#008fff 0 37px,#0060ff 0 38px,#0030ff 0 39px,#0060ff 0 40px,#008fff 0 41px,#0060ff 0 42px,#0030ff 0 43px,#0070ff 0 44px,#0080ff 0 45px,#0030ff 0 46px,#0060ff 0 47px,#0080ff 0 48px,#0040ff 0 49px,#0050ff 0)"></i><i style="left:450px;background:linear-gradient(90deg,#0080ff 0 1px,#0040ff 0 2px,#0050ff 0 3px,#0070ff 0 4px,#0040ff 0 5px,#0050ff 0 6px,#0060ff 0 7px,#0040ff 0 8px,#0050ff 0 14px,#0040ff 0 15px,#0050ff 0 17px,#0030ff 0 18px,#0050ff 0 20px,#0020ff 0 21px,#0050ff 0 22px,#0060ff 0 23px,#0020ff 0 24px,#0030ff 0 25px,#0060ff 0 26px,#0030ff 0 27px,#0010ff 0 28px,#0050ff 0 29px,#0060ff 0 30px,#0010ff 0 32px,#0050ff 0 33px,#0060ff 0 34px,#0030ff 0 35px,#0000ef 0 36px,#0010ff 0 37px,#0040ff 0 38px,#0060ff 0 39px,#0050ff 0 40px,#0030ff 0 41px,#00f 0 42px,#0000ef 0 44px,#0010ff 0 45px,#0020ff 0 46px,#0030ff 0 47px,#0040ff 0)"></i></div>
<div class="r" style="top:1146.38px;height:18.24px"><i style="left:0px;background:linear-gradient(90deg,#0000cf 0 2px,#0000bf 0 4px,#0000af 0 5px,#00009f 0 7px,#0000af 0 8px,#0000bf 0 9px,#0000cf 0 12px,#0000af 0 13px,#00009f 0 14px,#0000bf 0 15px,#0000cf 0 17px,#0000af 0 18px,#0000bf 0 19px,#0000cf 0 21px,#0000bf 0 22px,#0000cf 0 28px,#0000df 0 29px,#0000cf 0 30px,#0000df 0 31px,#0000ef 0 32px,#0000cf 0 33px,#0000df 0 34px,#00f 0 35px,#0000cf 0 36px,#00f 0 37px,#0010ff 0 38px,#0000cf 0 39px,#0010ff 0 41px,#0000df 0 42px,#0030ff 0 43px,#0010ff 0 44px,#0000df 0 45px,#0040ff 0 46px,#0010ff 0 47px,#0000ef 0 48px,#0040ff 0 49px,#0010ff 0)"></i><i style="left:50px;background:linear-gradient(90deg,#00f 0 1px,#0050ff 0 2px,#0020ff 0 3px,#00f 0 4px,#0040ff 0 6px,#00f 0 7px,#0030ff 0 8px,#0050ff 0 9px,#0030ff 0 10px,#0010ff 0 11px,#0030ff 0 12px,#0050ff 0 13px,#0040ff 0 14px,#0020ff 0 15px,#0030ff 0 16px,#0040ff 0 17px,#0050ff 0 18px,#0040ff 0 19px,#0030ff 0 21px,#0040ff 0 23px,#0050ff 0 25px,#0040ff 0 41px,#0050ff 0 42px,#0040ff 0 44px,#0030ff 0 47px,#0040ff 0 48px,#0050ff 0 49px,#0040ff 0)"></i><i style="left:100px;background:linear-gradient(90deg,#0020ff 0 2px,#0040ff 0 3px,#0050ff 0 4px,#0020ff 0 5px,#0010ff 0 6px,#0040ff 0 7px,#0050ff 0 8px,#0010ff 0 10px,#0050ff 0 11px,#0030ff 0 12px,#0000ef 0 13px,#0040ff 0 15px,#0000ef 0 16px,#0030ff 0 18px,#0000df 0 19px,#0030ff 0 21px,#0000df 0 22px,#0030ff 0 23px,#0010ff 0 24px,#0000df 0 25px,#0020ff 0 26px,#00f 0 27px,#0000df 0 28px,#0010ff 0 29px,#0000df 0 30px,#0000ef 0 31px,#00f 0 32px,#0000cf 0 33px,#0000df 0 34px,#0000ef 0 35px,#0000cf 0 36px,#0000df 0 38px,#0000cf 0 43px,#0000bf 0 45px,#0000cf 0 47px,#0000af 0 48px,#0000bf 0 49px,#0000cf 0)"></i><i style="left:150px;background:linear-gradient(90deg,#0000cf 0 1px,#0000af 0 2px,#00009f 0 3px,#0000bf 0 4px,#0000cf 0 7px,#0000bf 0 8px,#0000af 0 9px,#00009f 0 10px,#0000af 0 12px,#0000bf 0 14px,#0000cf 0 18px,#0000bf 0 21px,#0000af 0 22px,#00009f 0 24px,#0000af 0 25px,#0000bf 0 26px,#0000cf 0 28px,#0000bf 0 29px,#0000af 0 31px,#0000cf 0 33px,#0000bf 0 34px,#0000af 0 35px,#0000bf 0 36px,#0000cf 0 38px,#0000bf 0 39px,#0000cf 0 44px,#0000df 0 46px,#0000cf 0 47px,#0000ef 0 49px,#0000cf 0)"></i><i style="left:200px;background:linear-gradient(90deg,#00f 0 2px,#0000cf 0 3px,#0010ff 0 4px,#00f 0 5px,#0000df 0 6px,#0020ff 0 7px,#0000ef 0 9px,#0030ff 0 10px,#0000ef 0 11px,#0010ff 0 12px,#0040ff 0 13px,#0000ef 0 14px,#0020ff 0 15px,#0040ff 0 16px,#0000ef 0 17px,#0020ff 0 18px,#0050ff 0 19px,#0010ff 0 21px,#0050ff 0 22px,#0030ff 0 23px,#00f 0 24px,#0040ff 0 25px,#0050ff 0 26px,#0020ff 0 28px,#0040ff 0 29px,#0050ff 0 30px,#0030ff 0 31px,#0020ff 0 32px,#0030ff 0 33px,#0050ff 0 35px,#0040ff 0 36px,#0030ff 0 38px,#0040ff 0 40px,#0050ff 0 42px,#0040ff 0)"></i><i style="left:250px;background:linear-gradient(90deg,#0040ff 0 7px,#0050ff 0 9px,#0040ff 0 11px,#0030ff 0 13px,#0040ff 0 14px,#0050ff 0 16px,#0030ff 0 17px,#0020ff 0 18px,#0030ff 0 19px,#0050ff 0 20px,#0040ff 0 21px,#0020ff 0 23px,#0050ff 0 24px,#0040ff 0 25px,#00f 0 26px,#0030ff 0 27px,#0050ff 0 28px,#0010ff 0 30px,#0050ff 0 31px,#0020ff 0 32px,#0000ef 0 33px,#0040ff 0 34px,#0020ff 0 35px,#0000ef 0 36px,#0040ff 0 37px,#0010ff 0 38px,#0000ef 0 39px,#0030ff 0 40px,#0000ef 0 42px,#0020ff 0 43px,#0000df 0 44px,#00f 0 45px,#0010ff 0 46px,#0000cf 0 47px,#00f 0 49px,#0000cf 0)"></i><i style="left:300px;background:linear-gradient(90deg,#0000ef 0 2px,#0000cf 0 3px,#0000df 0 5px,#0000cf 0 10px,#0000bf 0 11px,#0000cf 0 13px,#0000bf 0 14px,#0000af 0 15px,#0000bf 0 16px,#0000cf 0 18px,#0000af 0 20px,#0000bf 0 21px,#0000cf 0 23px,#0000bf 0 24px,#0000af 0 25px,#00009f 0 27px,#0000af 0 28px,#0000bf 0 31px,#0000cf 0 35px,#0000bf 0 37px,#0000af 0 39px,#00009f 0 40px,#0000af 0 41px,#0000bf 0 42px,#0000cf 0 45px,#0000bf 0 46px,#00009f 0 47px,#0000af 0 48px,#0000cf 0)"></i><i style="left:350px;background:linear-gradient(90deg,#0000bf 0 1px,#0000af 0 2px,#0000cf 0 4px,#0000bf 0 6px,#0000cf 0 11px,#0000df 0 13px,#0000cf 0 14px,#0000ef 0 15px,#0000df 0 16px,#0000cf 0 17px,#00f 0 18px,#0000ef 0 19px,#0000df 0 20px,#0010ff 0 21px,#0000df 0 22px,#00f 0 23px,#0020ff 0 24px,#0000df 0 25px,#0010ff 0 26px,#0030ff 0 27px,#0000df 0 28px,#0030ff 0 30px,#0000df 0 31px,#0030ff 0 33px,#0000ef 0 34px,#0040ff 0 36px,#0000ef 0 37px,#0030ff 0 38px,#0050ff 0 39px,#0010ff 0 41px,#0050ff 0 42px,#0040ff 0 43px,#0010ff 0 44px,#0020ff 0 45px,#0050ff 0 46px,#0040ff 0 47px,#0020ff 0 49px,#0040ff 0)"></i><i style="left:400px;background:linear-gradient(90deg,#0050ff 0 1px,#0040ff 0 2px,#0030ff 0 5px,#0040ff 0 7px,#0050ff 0 8px,#0040ff 0 24px,#0050ff 0 26px,#0040ff 0 28px,#0030ff 0 30px,#0040ff 0 31px,#0050ff 0 32px,#0040ff 0 33px,#0030ff 0 34px,#0020ff 0 35px,#0040ff 0 36px,#0050ff 0 37px,#0030ff 0 38px,#0010ff 0 39px,#0030ff 0 40px,#0050ff 0 41px,#0030ff 0 42px,#00f 0 43px,#0040ff 0 45px,#00f 0 46px,#0020ff 0 47px,#0050ff 0 48px,#00f 0 49px,#0010ff 0)"></i><i style="left:450px;background:linear-gradient(90deg,#0040ff 0 1px,#0000ef 0 2px,#0010ff 0 3px,#0040ff 0 4px,#0000df 0 5px,#0010ff 0 6px,#0030ff 0 7px,#0000df 0 8px,#0010ff 0 10px,#0000cf 0 11px,#0010ff 0 12px,#00f 0 13px,#0000cf 0 14px,#00f 0 15px,#0000df 0 16px,#0000cf 0 17px,#0000ef 0 18px,#0000df 0 19px,#0000cf 0 20px,#0000df 0 21px,#0000cf 0 27px,#0000bf 0 28px,#0000cf 0 30px,#0000bf 0 31px,#0000af 0 32px,#0000cf 0 34px,#0000bf 0 35px,#00009f 0 36px,#0000af 0 37px,#0000cf 0 40px,#0000bf 0 41px,#0000af 0 42px,#00009f 0 44px,#0000af 0 45px,#0000bf 0 47px,#0000cf 0)"></i></div>
<div class="r" style="top:1164.01px;height:18.24px"><i style="left:0px;background:linear-gradient(90deg,#0000cf 0 1px,#0000df 0 7px,#0000cf 0 10px,#0000df 0 11px,#0000cf 0 15px,#0000df 0 16px,#0000cf 0 17px,#0000bf 0 19px,#0000df 0 21px,#0000af 0 22px,#0000bf 0 23px,#0000df 0 24px,#0000bf 0 25px,#0000af 0 26px,#0000df 0 27px,#0000cf 0 28px,#00009f 0 29px,#0000cf 0 31px,#00009f 0 32px,#0000cf 0 34px,#0000af 0 35px,#0000cf 0 36px,#0000bf 0 37px,#0000af 0 38px,#0000cf 0 39px,#0000bf 0 44px,#0000af 0 45px,#0000bf 0 46px,#0000af 0 48px,#0000bf 0 49px,#0000af 0)"></i><i style="left:50px;background:linear-gradient(90deg,#00009f 0 1px,#0000bf 0 2px,#0000af 0 3px,#00009f 0 4px,#0000bf 0 6px,#0000af 0 7px,#0000bf 0 14px,#0000cf 0 16px,#0000bf 0 18px,#0000cf 0 19px,#0000df 0 20px,#0000ef 0 21px,#0000df 0 22px,#0000cf 0 23px,#0000bf 0 25px,#0000cf 0 26px,#0000df 0 28px,#0000ef 0 32px,#00f 0 34px,#0000ef 0 38px,#0000df 0 39px,#0000cf 0 40px,#0000bf 0 42px,#0000cf 0 43px,#0000df 0 47px,#0000cf 0 48px,#0000bf 0 49px,#0000cf 0)"></i><i style="left:100px;background:linear-gradient(90deg,#0000cf 0 2px,#0000bf 0 8px,#0000af 0 10px,#0000bf 0 11px,#0000af 0 12px,#00009f 0 13px,#0000bf 0 15px,#00009f 0 16px,#0000bf 0 18px,#0000af 0 19px,#0000bf 0 21px,#0000af 0 22px,#0000bf 0 25px,#0000af 0 26px,#0000bf 0 27px,#0000cf 0 28px,#0000af 0 29px,#0000cf 0 31px,#0000af 0 32px,#0000cf 0 34px,#0000af 0 35px,#0000df 0 36px,#0000cf 0 37px,#00009f 0 38px,#0000df 0 39px,#0000cf 0 40px,#00009f 0 41px,#0000cf 0 42px,#0000df 0 43px,#0000af 0 44px,#0000bf 0 45px,#0000df 0 46px,#0000cf 0 47px,#0000bf 0 48px,#0000cf 0 49px,#0000df 0)"></i><i style="left:150px;background:linear-gradient(90deg,#0000df 0 1px,#0000cf 0 5px,#0000df 0 6px,#0000cf 0 9px,#0000df 0 15px,#0000cf 0 18px,#0000df 0 24px,#0000cf 0 26px,#0000df 0 28px,#0000cf 0 32px,#0000df 0 33px,#0000cf 0 34px,#0000bf 0 35px,#0000cf 0 36px,#0000df 0 37px,#0000cf 0 38px,#0000af 0 39px,#0000cf 0 40px,#0000df 0 41px,#0000af 0 42px,#0000bf 0 43px,#0000df 0 44px,#0000bf 0 45px,#0000af 0 46px,#0000df 0 47px,#0000bf 0 48px,#0000af 0 49px,#0000df 0)"></i><i style="left:200px;background:linear-gradient(90deg,#0000bf 0 2px,#0000cf 0 3px,#0000af 0 4px,#0000bf 0 5px,#0000cf 0 6px,#0000af 0 7px,#0000bf 0 11px,#0000af 0 12px,#0000bf 0 13px,#0000af 0 15px,#0000bf 0 16px,#00009f 0 17px,#0000af 0 18px,#0000bf 0 19px,#0000af 0 21px,#0000bf 0 22px,#0000af 0 24px,#0000bf 0 30px,#0000cf 0 33px,#0000bf 0 35px,#0000cf 0 36px,#0000df 0 39px,#0000cf 0 40px,#0000bf 0 42px,#0000cf 0 43px,#0000df 0 45px,#0000ef 0 49px,#00f 0)"></i><i style="left:250px;background:linear-gradient(90deg,#0000ef 0 4px,#0000df 0 6px,#0000cf 0 7px,#0000bf 0 9px,#0000cf 0 10px,#0000df 0 13px,#0000cf 0 14px,#0000bf 0 16px,#0000cf 0 19px,#0000bf 0 25px,#0000af 0 27px,#0000bf 0 28px,#0000af 0 30px,#0000bf 0 31px,#0000af 0 32px,#00009f 0 33px,#0000bf 0 34px,#0000af 0 36px,#0000bf 0 37px,#0000af 0 38px,#0000bf 0 42px,#0000af 0 43px,#0000cf 0 44px,#0000bf 0 45px,#0000af 0 46px,#0000cf 0 47px,#0000bf 0 49px,#0000df 0)"></i><i style="left:300px;background:linear-gradient(90deg,#0000af 0 1px,#0000bf 0 2px,#0000df 0 3px,#0000af 0 4px,#0000bf 0 5px,#0000df 0 6px,#0000bf 0 7px,#0000af 0 8px,#0000df 0 9px,#0000cf 0 10px,#0000af 0 11px,#0000cf 0 12px,#0000df 0 13px,#0000cf 0 14px,#0000bf 0 15px,#0000cf 0 16px,#0000df 0 17px,#0000cf 0 21px,#0000df 0 23px,#0000cf 0 25px,#0000df 0 31px,#0000cf 0 34px,#0000df 0 40px,#0000cf 0 43px,#0000df 0 44px,#0000cf 0 48px,#0000df 0)"></i><i style="left:350px;background:linear-gradient(90deg,#0000cf 0 1px,#0000bf 0 2px,#0000cf 0 3px,#0000df 0 4px,#0000bf 0 5px,#0000af 0 6px,#0000df 0 7px,#0000cf 0 8px,#00009f 0 9px,#0000cf 0 10px,#0000df 0 11px,#00009f 0 12px,#0000cf 0 13px,#0000df 0 14px,#0000af 0 15px,#0000cf 0 17px,#0000af 0 18px,#0000cf 0 20px,#0000af 0 21px,#0000cf 0 22px,#0000bf 0 23px,#0000af 0 24px,#0000bf 0 27px,#0000af 0 28px,#0000bf 0 30px,#0000af 0 31px,#0000bf 0 33px,#00009f 0 34px,#0000bf 0 36px,#00009f 0 37px,#0000af 0 38px,#0000bf 0 39px,#0000af 0 41px,#0000bf 0 47px,#0000cf 0)"></i><i style="left:400px;background:linear-gradient(90deg,#0000bf 0 1px,#0000cf 0 2px,#0000df 0 6px,#0000cf 0 7px,#0000bf 0 9px,#0000cf 0 10px,#0000df 0 11px,#0000ef 0 15px,#00f 0 17px,#0000ef 0 21px,#0000df 0 23px,#0000cf 0 24px,#0000bf 0 26px,#0000cf 0 27px,#0000df 0 28px,#0000ef 0 29px,#0000df 0 30px,#0000cf 0 31px,#0000bf 0 33px,#0000cf 0 35px,#0000bf 0 42px,#0000af 0 43px,#0000bf 0 45px,#00009f 0 46px,#0000af 0 47px,#0000bf 0 48px,#00009f 0 49px,#0000af 0)"></i><i style="left:450px;background:linear-gradient(90deg,#0000bf 0 1px,#0000af 0 3px,#0000bf 0 4px,#0000af 0 5px,#0000bf 0 10px,#0000cf 0 11px,#0000af 0 12px,#0000bf 0 13px,#0000cf 0 14px,#0000af 0 15px,#0000cf 0 17px,#00009f 0 18px,#0000cf 0 20px,#00009f 0 21px,#0000cf 0 22px,#0000df 0 23px,#0000af 0 24px,#0000bf 0 25px,#0000df 0 26px,#0000bf 0 27px,#0000af 0 28px,#0000df 0 30px,#0000bf 0 32px,#0000cf 0 33px,#0000df 0 34px,#0000cf 0 38px,#0000df 0 39px,#0000cf 0 42px,#0000df 0 48px,#0000cf 0)"></i></div>
<div class="r" style="top:1181.65px;height:18.24px"><i style="left:0px;background:linear-gradient(90deg,#0010ff 0 3px,#00f 0 4px,#0000ef 0 6px,#0000df 0 7px,#0000ef 0 8px,#0010ff 0 9px,#0020ff 0 10px,#0030ff 0 11px,#0020ff 0 12px,#0000ef 0 13px,#0000df 0 14px,#0010ff 0 15px,#0030ff 0 16px,#0020ff 0 17px,#0000df 0 18px,#0000ef 0 19px,#0030ff 0 20px,#0020ff 0 21px,#0000df 0 22px,#00f 0 23px,#0030ff 0 24px,#00f 0 25px,#0000df 0 26px,#0030ff 0 27px,#0010ff 0 28px,#0000cf 0 29px,#0020ff 0 30px,#0010ff 0 31px,#0000cf 0 32px,#0020ff 0 33px,#00f 0 34px,#0000cf 0 35px,#0020ff 0 36px,#0000ef 0 37px,#0000df 0 38px,#0010ff 0 39px,#0000df 0 40px,#0000ef 0 41px,#00f 0 42px,#0000df 0 43px,#0000ef 0 45px,#0000df 0)"></i><i style="left:50px;background:linear-gradient(90deg,#0000df 0 3px,#0000cf 0 4px,#0000df 0 6px,#0000bf 0 7px,#0000cf 0 8px,#0000ef 0 9px,#0000cf 0 10px,#0000af 0 11px,#0000cf 0 12px,#0000ef 0 13px,#0000cf 0 14px,#0000af 0 15px,#0000bf 0 16px,#0000df 0 18px,#0000cf 0 19px,#0000af 0 20px,#00009f 0 21px,#0000bf 0 22px,#0000cf 0 23px,#0000df 0 26px,#0000cf 0 27px,#0000bf 0 29px,#0000af 0 31px,#00009f 0 35px,#0000af 0 37px,#0000bf 0 38px,#0000cf 0 40px,#0000df 0 43px,#0000cf 0 44px,#0000af 0 45px,#00009f 0 46px,#0000bf 0 47px,#0000df 0 49px,#0000cf 0)"></i><i style="left:100px;background:linear-gradient(90deg,#0000af 0 2px,#0000df 0 3px,#0000ef 0 4px,#0000bf 0 5px,#0000af 0 6px,#0000df 0 7px,#0000ef 0 8px,#0000bf 0 9px,#0000cf 0 10px,#0000ef 0 11px,#0000df 0 12px,#0000cf 0 13px,#0000df 0 15px,#0000cf 0 16px,#0000df 0 21px,#0000ef 0 22px,#0000df 0 23px,#0000ef 0 24px,#00f 0 25px,#0000df 0 26px,#00f 0 27px,#0010ff 0 28px,#0000cf 0 29px,#0010ff 0 31px,#0000cf 0 32px,#0020ff 0 33px,#00f 0 34px,#0000cf 0 35px,#0020ff 0 36px,#00f 0 37px,#0000cf 0 38px,#0030ff 0 39px,#0010ff 0 40px,#0000cf 0 41px,#0020ff 0 42px,#0030ff 0 43px,#0000df 0 44px,#0000ef 0 45px,#0030ff 0 46px,#0020ff 0 47px,#0000df 0 48px,#00f 0 49px,#0030ff 0)"></i><i style="left:150px;background:linear-gradient(90deg,#0020ff 0 1px,#0000ef 0 2px,#0000df 0 3px,#00f 0 4px,#0020ff 0 5px,#0030ff 0 6px,#0020ff 0 7px,#00f 0 8px,#0000ef 0 9px,#0000df 0 10px,#0000ef 0 11px,#00f 0 13px,#0010ff 0 16px,#0020ff 0 17px,#0010ff 0 20px,#00f 0 21px,#0000ef 0 22px,#0000df 0 24px,#00f 0 25px,#0010ff 0 26px,#0030ff 0 28px,#0010ff 0 29px,#0000df 0 30px,#0000ef 0 31px,#0020ff 0 32px,#0030ff 0 33px,#0010ff 0 34px,#0000df 0 35px,#00f 0 36px,#0030ff 0 37px,#0010ff 0 38px,#0000cf 0 39px,#0010ff 0 40px,#0030ff 0 41px,#0000df 0 42px,#0000ef 0 43px,#0030ff 0 44px,#0000ef 0 46px,#0030ff 0 47px,#0000ef 0 48px,#0000df 0 49px,#0020ff 0)"></i><i style="left:200px;background:linear-gradient(90deg,#0000ef 0 2px,#0020ff 0 3px,#0000df 0 4px,#0000ef 0 5px,#0010ff 0 6px,#0000df 0 7px,#00f 0 9px,#0000df 0 10px,#0000ef 0 12px,#0000df 0 19px,#0000cf 0 21px,#0000ef 0 22px,#0000cf 0 23px,#0000bf 0 24px,#0000df 0 25px,#0000ef 0 26px,#0000bf 0 27px,#0000af 0 28px,#0000df 0 30px,#0000bf 0 31px,#00009f 0 32px,#0000cf 0 33px,#0000df 0 35px,#0000cf 0 36px,#0000af 0 38px,#0000bf 0 39px,#0000df 0 43px,#0000cf 0 44px,#0000bf 0 45px,#0000af 0 47px,#00009f 0)"></i><i style="left:250px;background:linear-gradient(90deg,#00009f 0 2px,#0000af 0 4px,#0000bf 0 5px,#0000cf 0 6px,#0000df 0 10px,#0000bf 0 11px,#0000af 0 13px,#0000cf 0 14px,#0000df 0 16px,#0000cf 0 17px,#00009f 0 18px,#0000bf 0 19px,#0000df 0 21px,#0000af 0 22px,#0000bf 0 23px,#0000ef 0 24px,#0000df 0 25px,#0000bf 0 26px,#0000cf 0 27px,#0000ef 0 28px,#0000cf 0 30px,#0000df 0 37px,#0000ef 0 39px,#0000df 0 40px,#00f 0 42px,#0000df 0 43px,#0010ff 0 44px,#0000ef 0 45px,#0000df 0 46px,#0020ff 0 47px,#0000ef 0 49px,#0020ff 0)"></i><i style="left:300px;background:linear-gradient(90deg,#0000df 0 1px,#0000ef 0 2px,#0030ff 0 3px,#0000ef 0 5px,#0030ff 0 6px,#0000ef 0 7px,#0000df 0 8px,#0030ff 0 9px,#0010ff 0 10px,#0000cf 0 11px,#0010ff 0 12px,#0030ff 0 13px,#00f 0 14px,#0000df 0 15px,#0010ff 0 16px,#0030ff 0 17px,#0020ff 0 18px,#0000ef 0 19px,#0000df 0 20px,#0010ff 0 21px,#0030ff 0 23px,#0010ff 0 24px,#00f 0 25px,#0000df 0 27px,#0000ef 0 28px,#00f 0 29px,#0010ff 0 32px,#0020ff 0 33px,#0010ff 0 36px,#00f 0 38px,#0000ef 0 39px,#0000df 0 40px,#0000ef 0 41px,#00f 0 42px,#0020ff 0 43px,#0030ff 0 44px,#0020ff 0 45px,#00f 0 46px,#0000df 0 47px,#0000ef 0 48px,#0020ff 0 49px,#0030ff 0)"></i><i style="left:350px;background:linear-gradient(90deg,#00f 0 1px,#0000df 0 2px,#0020ff 0 3px,#0030ff 0 4px,#0000ef 0 5px,#0000df 0 6px,#0030ff 0 7px,#0020ff 0 8px,#0000cf 0 9px,#0010ff 0 10px,#0030ff 0 11px,#0000cf 0 12px,#00f 0 13px,#0020ff 0 14px,#0000cf 0 15px,#00f 0 16px,#0020ff 0 17px,#0000cf 0 18px,#0010ff 0 20px,#0000cf 0 21px,#0010ff 0 22px,#00f 0 23px,#0000df 0 24px,#00f 0 25px,#0000ef 0 26px,#0000df 0 27px,#0000ef 0 28px,#0000df 0 33px,#0000cf 0 34px,#0000df 0 36px,#0000cf 0 37px,#0000df 0 38px,#0000ef 0 39px,#0000cf 0 40px,#0000bf 0 41px,#0000ef 0 42px,#0000df 0 43px,#0000af 0 44px,#0000bf 0 45px,#0000ef 0 46px,#0000df 0 47px,#0000af 0 49px,#0000cf 0)"></i><i style="left:400px;background:linear-gradient(90deg,#0000df 0 2px,#0000bf 0 3px,#00009f 0 4px,#0000af 0 5px,#0000cf 0 6px,#0000df 0 9px,#0000cf 0 11px,#0000bf 0 12px,#0000af 0 14px,#00009f 0 18px,#0000af 0 20px,#0000bf 0 22px,#0000cf 0 23px,#0000df 0 26px,#0000cf 0 27px,#0000bf 0 28px,#00009f 0 29px,#0000af 0 30px,#0000cf 0 31px,#0000df 0 33px,#0000bf 0 34px,#0000af 0 35px,#0000cf 0 36px,#0000ef 0 37px,#0000cf 0 38px,#0000af 0 39px,#0000cf 0 40px,#0000ef 0 41px,#0000cf 0 42px,#0000bf 0 43px,#0000df 0 45px,#0000cf 0 46px,#0000df 0)"></i><i style="left:450px;background:linear-gradient(90deg,#0000df 0 4px,#0000ef 0 6px,#0000df 0 7px,#00f 0 8px,#0000ef 0 9px,#0000df 0 10px,#0010ff 0 11px,#0000df 0 12px,#0000ef 0 13px,#0020ff 0 14px,#0000cf 0 15px,#00f 0 16px,#0020ff 0 17px,#0000cf 0 18px,#0010ff 0 19px,#0020ff 0 20px,#0000cf 0 21px,#0010ff 0 22px,#0030ff 0 23px,#0000df 0 24px,#00f 0 25px,#0030ff 0 26px,#00f 0 27px,#0000df 0 28px,#0020ff 0 29px,#0030ff 0 30px,#0000ef 0 31px,#0000df 0 32px,#0020ff 0 33px,#0030ff 0 34px,#0010ff 0 35px,#0000df 0 36px,#0000ef 0 37px,#0020ff 0 38px,#0030ff 0 39px,#0020ff 0 40px,#0010ff 0 41px,#0000ef 0 42px,#0000df 0 43px,#0000ef 0 45px,#00f 0 46px,#0010ff 0 49px,#0020ff 0)"></i></div>
<div class="r" style="top:1199.29px;height:35.87px"><i style="left:0px;background:linear-gradient(90deg,#00f 0 3px,#0000ef 0 4px,#0000df 0 5px,#0000bf 0 7px,#0000cf 0 8px,#0000ef 0 9px,#0010ff 0 10px,#0020ff 0 11px,#0010ff 0 12px,#0000df 0 13px,#0000bf 0 14px,#00f 0 15px,#0020ff 0 16px,#0010ff 0 17px,#0000cf 0 18px,#0000df 0 19px,#0020ff 0 20px,#0010ff 0 21px,#0000cf 0 22px,#0000ef 0 23px,#0020ff 0 24px,#0000ef 0 25px,#0000df 0 26px,#0010ff 0 27px,#00f 0 28px,#0000df 0 29px,#0010ff 0 30px,#00f 0 31px,#0000ef 0 32px,#0010ff 0 33px,#00f 0 39px,#0010ff 0 41px,#0000ef 0 42px,#0010ff 0 43px,#00f 0 44px,#0000ef 0 45px,#0020ff 0 46px,#00f 0 47px,#0000ef 0 48px,#0020ff 0 49px,#00f 0)"></i><i style="left:50px;background:linear-gradient(90deg,#0000ef 0 1px,#0030ff 0 2px,#0010ff 0 3px,#0000df 0 4px,#0020ff 0 6px,#0000df 0 7px,#00f 0 8px,#0030ff 0 9px,#00f 0 10px,#0000df 0 11px,#0010ff 0 12px,#0030ff 0 13px,#0010ff 0 14px,#0000df 0 15px,#0000ef 0 16px,#0020ff 0 18px,#0010ff 0 19px,#0000ef 0 20px,#0000df 0 21px,#0000ef 0 22px,#0010ff 0 23px,#0020ff 0 26px,#0010ff 0 27px,#00f 0 28px,#0000ef 0 29px,#0000df 0 36px,#0000ef 0 38px,#00f 0 39px,#0010ff 0 40px,#0020ff 0 43px,#00f 0 44px,#0000ef 0 45px,#0000df 0 46px,#0000ef 0 47px,#0020ff 0 48px,#0030ff 0 49px,#0010ff 0)"></i><i style="left:100px;background:linear-gradient(90deg,#0000df 0 1px,#0000ef 0 2px,#0020ff 0 3px,#0030ff 0 4px,#00f 0 5px,#0000df 0 6px,#0020ff 0 7px,#0030ff 0 8px,#0000ef 0 10px,#0030ff 0 11px,#0010ff 0 12px,#0000df 0 13px,#0020ff 0 15px,#0000df 0 16px,#0010ff 0 17px,#0020ff 0 18px,#0000ef 0 19px,#0010ff 0 21px,#0000ef 0 22px,#0010ff 0 24px,#00f 0 25px,#0010ff 0 26px,#00f 0 31px,#0000ef 0 32px,#0010ff 0 33px,#00f 0 34px,#0000ef 0 35px,#0010ff 0 36px,#00f 0 37px,#0000df 0 38px,#0010ff 0 39px,#00f 0 40px,#0000cf 0 41px,#0010ff 0 43px,#0000df 0 44px,#0000ef 0 45px,#0020ff 0 46px,#0010ff 0 47px,#0000cf 0 48px,#0000ef 0 49px,#0020ff 0)"></i><i style="left:150px;background:linear-gradient(90deg,#0010ff 0 1px,#0000df 0 2px,#0000bf 0 3px,#0000ef 0 4px,#0010ff 0 5px,#0020ff 0 6px,#0010ff 0 7px,#0000ef 0 8px,#0000cf 0 9px,#0000bf 0 10px,#0000cf 0 11px,#0000df 0 12px,#0000ef 0 13px,#00f 0 15px,#0010ff 0 17px,#00f 0 19px,#0000ef 0 20px,#0000df 0 21px,#0000cf 0 22px,#0000bf 0 24px,#0000df 0 25px,#00f 0 26px,#0020ff 0 28px,#00f 0 29px,#0000cf 0 31px,#0010ff 0 32px,#0020ff 0 33px,#00f 0 34px,#0000cf 0 35px,#0000ef 0 36px,#0020ff 0 37px,#00f 0 38px,#0000cf 0 39px,#00f 0 40px,#0020ff 0 41px,#0000df 0 42px,#0000ef 0 43px,#0020ff 0 44px,#0000ef 0 46px,#0010ff 0 47px,#00f 0 48px,#0000ef 0 49px,#0010ff 0)"></i><i style="left:200px;background:linear-gradient(90deg,#00f 0 6px,#0010ff 0 7px,#00f 0 9px,#0010ff 0 10px,#00f 0 12px,#0020ff 0 13px,#0000ef 0 14px,#0010ff 0 15px,#0020ff 0 16px,#0000ef 0 17px,#00f 0 18px,#0030ff 0 19px,#0000ef 0 21px,#0030ff 0 22px,#0010ff 0 23px,#0000df 0 24px,#0020ff 0 25px,#0030ff 0 26px,#0000ef 0 27px,#0000df 0 28px,#0020ff 0 29px,#0030ff 0 30px,#00f 0 31px,#0000df 0 32px,#00f 0 33px,#0020ff 0 35px,#00f 0 36px,#0000df 0 38px,#00f 0 39px,#0010ff 0 40px,#0020ff 0 42px,#0010ff 0 43px,#00f 0 45px,#0000ef 0 46px,#0000df 0)"></i><i style="left:250px;background:linear-gradient(90deg,#0000df 0 3px,#0000ef 0 4px,#00f 0 6px,#0010ff 0 7px,#0020ff 0 9px,#0010ff 0 10px,#00f 0 11px,#0000df 0 13px,#00f 0 14px,#0020ff 0 16px,#00f 0 17px,#0000df 0 18px,#00f 0 19px,#0030ff 0 20px,#0020ff 0 21px,#0000df 0 22px,#0000ef 0 23px,#0030ff 0 24px,#0020ff 0 25px,#0000df 0 26px,#0010ff 0 27px,#0030ff 0 28px,#0000ef 0 30px,#0030ff 0 31px,#00f 0 32px,#0000ef 0 33px,#0020ff 0 34px,#0010ff 0 35px,#0000ef 0 36px,#0020ff 0 37px,#00f 0 39px,#0010ff 0 40px,#00f 0 42px,#0010ff 0 43px,#00f 0 49px,#0010ff 0)"></i><i style="left:300px;background:linear-gradient(90deg,#0000ef 0 1px,#00f 0 2px,#0010ff 0 3px,#0000ef 0 5px,#0020ff 0 6px,#0000ef 0 7px,#0000df 0 8px,#0020ff 0 9px,#00f 0 10px,#0000cf 0 11px,#00f 0 12px,#0020ff 0 13px,#0000ef 0 14px,#0000cf 0 15px,#00f 0 16px,#0020ff 0 17px,#0010ff 0 18px,#0000cf 0 20px,#00f 0 21px,#0020ff 0 23px,#00f 0 24px,#0000df 0 25px,#0000bf 0 27px,#0000cf 0 28px,#0000df 0 29px,#0000ef 0 30px,#00f 0 32px,#0010ff 0 34px,#00f 0 36px,#0000ef 0 37px,#0000df 0 38px,#0000cf 0 39px,#0000bf 0 40px,#0000cf 0 41px,#0000ef 0 42px,#0010ff 0 43px,#0020ff 0 44px,#0010ff 0 45px,#0000ef 0 46px,#0000bf 0 47px,#0000df 0 48px,#0010ff 0 49px,#0020ff 0)"></i><i style="left:350px;background:linear-gradient(90deg,#0000ef 0 1px,#0000cf 0 2px,#0010ff 0 3px,#0020ff 0 4px,#0000ef 0 5px,#0000df 0 6px,#0010ff 0 8px,#0000cf 0 9px,#00f 0 10px,#0010ff 0 11px,#0000df 0 12px,#00f 0 13px,#0010ff 0 14px,#0000ef 0 15px,#00f 0 16px,#0010ff 0 17px,#0000ef 0 18px,#00f 0 23px,#0010ff 0 24px,#00f 0 25px,#0010ff 0 27px,#0000ef 0 28px,#0010ff 0 30px,#0000ef 0 31px,#0020ff 0 32px,#0010ff 0 33px,#0000df 0 34px,#0020ff 0 36px,#0000df 0 37px,#0010ff 0 38px,#0030ff 0 39px,#0000ef 0 41px,#0030ff 0 42px,#0020ff 0 43px,#0000df 0 44px,#00f 0 45px,#0030ff 0 46px,#0020ff 0 47px,#0000ef 0 48px,#0000df 0 49px,#0010ff 0)"></i><i style="left:400px;background:linear-gradient(90deg,#0030ff 0 1px,#0020ff 0 2px,#0000ef 0 3px,#0000df 0 4px,#0000ef 0 5px,#00f 0 6px,#0020ff 0 9px,#0010ff 0 10px,#00f 0 11px,#0000ef 0 13px,#0000df 0 20px,#0000ef 0 21px,#00f 0 22px,#0010ff 0 23px,#0020ff 0 26px,#0010ff 0 27px,#0000ef 0 28px,#0000df 0 29px,#0000ef 0 30px,#0010ff 0 31px,#0020ff 0 33px,#0000ef 0 34px,#0000df 0 35px,#0010ff 0 36px,#0030ff 0 37px,#0010ff 0 38px,#0000df 0 39px,#00f 0 40px,#0030ff 0 41px,#00f 0 42px,#0000df 0 43px,#0020ff 0 45px,#0000df 0 46px,#0010ff 0 47px,#0030ff 0 48px,#0000ef 0 49px,#00f 0)"></i><i style="left:450px;background:linear-gradient(90deg,#0020ff 0 1px,#0000ef 0 2px,#00f 0 3px,#0020ff 0 4px,#0000ef 0 5px,#00f 0 6px,#0010ff 0 7px,#0000ef 0 8px,#0010ff 0 10px,#00f 0 16px,#0010ff 0 17px,#0000ef 0 18px,#00f 0 19px,#0010ff 0 20px,#0000df 0 21px,#00f 0 22px,#0010ff 0 23px,#0000df 0 24px,#0000ef 0 25px,#0020ff 0 26px,#0000ef 0 27px,#0000cf 0 28px,#0010ff 0 29px,#0020ff 0 30px,#0000df 0 31px,#0000cf 0 32px,#0010ff 0 33px,#0020ff 0 34px,#00f 0 35px,#0000bf 0 36px,#0000df 0 37px,#0010ff 0 38px,#0020ff 0 39px,#0010ff 0 40px,#0000ef 0 41px,#0000cf 0 42px,#0000bf 0 44px,#0000df 0 45px,#0000ef 0 46px,#00f 0 49px,#0010ff 0)"></i></div>
<div class="r" style="top:1234.56px;height:18.24px"><i style="left:0px;background:linear-gradient(90deg,#0000bf 0 3px,#0000af 0 5px,#00009f 0 7px,#0000af 0 9px,#0000bf 0 12px,#0000af 0 13px,#00009f 0 14px,#0000af 0 15px,#0000bf 0 17px,#0000af 0 19px,#0000bf 0 21px,#0000af 0 23px,#0000bf 0 28px,#0000cf 0 29px,#0000bf 0 31px,#0000cf 0 32px,#0000bf 0 33px,#0000cf 0 34px,#0000df 0 35px,#0000bf 0 36px,#0000df 0 37px,#0000ef 0 38px,#0000af 0 39px,#0000ef 0 41px,#0000af 0 42px,#00f 0 43px,#0000df 0 44px,#0000bf 0 45px,#0010ff 0 46px,#0000df 0 47px,#0000cf 0 48px,#0010ff 0 49px,#0000df 0)"></i><i style="left:50px;background:linear-gradient(90deg,#0000cf 0 1px,#0010ff 0 2px,#0000ef 0 3px,#0000cf 0 4px,#0010ff 0 5px,#00f 0 6px,#0000cf 0 7px,#0000ef 0 8px,#0010ff 0 9px,#0000ef 0 10px,#0000cf 0 11px,#00f 0 12px,#0010ff 0 13px,#00f 0 14px,#0000df 0 15px,#0000ef 0 16px,#00f 0 17px,#0010ff 0 18px,#00f 0 19px,#0000ef 0 22px,#00f 0 44px,#0000ef 0 47px,#00f 0 48px,#0010ff 0 49px,#00f 0)"></i><i style="left:100px;background:linear-gradient(90deg,#0000df 0 1px,#0000ef 0 2px,#00f 0 3px,#0010ff 0 4px,#0000ef 0 5px,#0000df 0 6px,#00f 0 7px,#0010ff 0 8px,#0000df 0 10px,#0010ff 0 11px,#0000ef 0 12px,#0000bf 0 13px,#00f 0 15px,#0000bf 0 16px,#00f 0 18px,#0000bf 0 19px,#00f 0 21px,#0000af 0 22px,#00f 0 23px,#0000ef 0 24px,#0000bf 0 25px,#00f 0 26px,#0000cf 0 27px,#0000bf 0 28px,#0000ef 0 29px,#0000bf 0 30px,#0000cf 0 31px,#0000df 0 32px,#0000bf 0 33px,#0000cf 0 35px,#0000bf 0 43px,#0000af 0 45px,#0000bf 0 47px,#00009f 0 48px,#0000af 0 49px,#0000bf 0)"></i><i style="left:150px;background:linear-gradient(90deg,#0000bf 0 1px,#0000af 0 2px,#00009f 0 3px,#0000af 0 4px,#0000bf 0 7px,#0000af 0 8px,#00009f 0 10px,#0000af 0 13px,#0000bf 0 20px,#0000af 0 22px,#00009f 0 24px,#0000af 0 25px,#0000bf 0 28px,#0000af 0 29px,#00009f 0 31px,#0000bf 0 33px,#0000af 0 34px,#00009f 0 35px,#0000af 0 36px,#0000bf 0 38px,#0000af 0 39px,#0000bf 0 47px,#0000cf 0 49px,#0000af 0)"></i><i style="left:200px;background:linear-gradient(90deg,#0000df 0 2px,#0000af 0 3px,#0000ef 0 4px,#0000df 0 5px,#0000bf 0 6px,#00f 0 7px,#0000cf 0 9px,#00f 0 10px,#0000cf 0 11px,#0000df 0 12px,#0010ff 0 13px,#0000bf 0 14px,#0000ef 0 15px,#0010ff 0 16px,#0000cf 0 17px,#0000ef 0 18px,#0010ff 0 19px,#0000cf 0 20px,#0000df 0 21px,#0010ff 0 22px,#0000ef 0 23px,#0000cf 0 24px,#00f 0 25px,#0010ff 0 26px,#0000df 0 28px,#00f 0 29px,#0010ff 0 30px,#0000ef 0 31px,#0000df 0 32px,#0000ef 0 33px,#00f 0 36px,#0000ef 0 38px,#00f 0)"></i><i style="left:250px;background:linear-gradient(90deg,#00f 0 11px,#0000ef 0 13px,#00f 0 16px,#0000ef 0 17px,#0000df 0 18px,#0000ef 0 19px,#0010ff 0 20px,#00f 0 21px,#0000df 0 23px,#0010ff 0 24px,#00f 0 25px,#0000cf 0 26px,#0000ef 0 27px,#0010ff 0 28px,#0000df 0 29px,#0000cf 0 30px,#0010ff 0 31px,#0000ef 0 32px,#0000cf 0 33px,#0010ff 0 34px,#0000ef 0 35px,#0000bf 0 36px,#0010ff 0 37px,#0000df 0 38px,#0000cf 0 39px,#00f 0 40px,#0000cf 0 42px,#00f 0 43px,#0000bf 0 44px,#0000df 0 45px,#0000ef 0 46px,#0000af 0 47px,#0000df 0 49px,#0000af 0)"></i><i style="left:300px;background:linear-gradient(90deg,#0000cf 0 2px,#0000bf 0 10px,#0000af 0 11px,#0000bf 0 13px,#0000af 0 14px,#00009f 0 15px,#0000af 0 16px,#0000bf 0 18px,#00009f 0 20px,#0000af 0 21px,#0000bf 0 24px,#0000af 0 25px,#00009f 0 27px,#0000af 0 29px,#0000bf 0 36px,#0000af 0 39px,#00009f 0 41px,#0000af 0 42px,#0000bf 0 45px,#0000af 0 46px,#00009f 0 47px,#0000af 0 48px,#0000bf 0)"></i><i style="left:350px;background:linear-gradient(90deg,#0000af 0 1px,#00009f 0 2px,#0000bf 0 4px,#0000af 0 6px,#0000bf 0 14px,#0000cf 0 16px,#0000bf 0 17px,#0000df 0 18px,#0000cf 0 19px,#0000bf 0 20px,#0000ef 0 21px,#0000bf 0 22px,#0000cf 0 23px,#00f 0 24px,#0000bf 0 25px,#0000ef 0 26px,#00f 0 27px,#0000af 0 28px,#00f 0 30px,#0000bf 0 31px,#00f 0 33px,#0000bf 0 34px,#00f 0 36px,#0000bf 0 37px,#0000ef 0 38px,#0010ff 0 39px,#0000df 0 41px,#0010ff 0 42px,#00f 0 43px,#0000df 0 44px,#0000ef 0 45px,#0010ff 0 46px,#00f 0 47px,#0000ef 0 48px,#0000df 0 49px,#00f 0)"></i><i style="left:400px;background:linear-gradient(90deg,#0010ff 0 1px,#00f 0 2px,#0000ef 0 5px,#00f 0 27px,#0000ef 0 30px,#00f 0 31px,#0010ff 0 32px,#00f 0 33px,#0000ef 0 34px,#0000df 0 35px,#00f 0 36px,#0010ff 0 37px,#00f 0 38px,#0000cf 0 39px,#0000ef 0 40px,#0010ff 0 41px,#0000ef 0 42px,#0000cf 0 43px,#00f 0 44px,#0010ff 0 45px,#0000cf 0 46px,#0000ef 0 47px,#0010ff 0 48px,#0000cf 0 49px,#0000df 0)"></i><i style="left:450px;background:linear-gradient(90deg,#0010ff 0 1px,#0000cf 0 2px,#0000df 0 3px,#0010ff 0 4px,#0000bf 0 5px,#0000df 0 6px,#00f 0 7px,#0000af 0 8px,#0000ef 0 10px,#0000af 0 11px,#0000ef 0 12px,#0000df 0 13px,#0000bf 0 14px,#0000df 0 15px,#0000cf 0 16px,#0000bf 0 17px,#0000cf 0 18px,#0000bf 0 20px,#0000cf 0 21px,#0000bf 0 26px,#0000af 0 28px,#0000bf 0 30px,#0000af 0 32px,#0000bf 0 34px,#0000af 0 35px,#00009f 0 36px,#0000af 0 37px,#0000bf 0 40px,#0000af 0 42px,#00009f 0 44px,#0000af 0 46px,#0000bf 0)"></i></div>
<div class="r" style="top:1252.20px;height:18.24px"><i style="left:0px;background:linear-gradient(90deg,#0000bf 0 13px,#0000af 0 14px,#0000bf 0 17px,#0000af 0 19px,#0000bf 0 21px,#0000af 0 23px,#0000cf 0 24px,#0000af 0 25px,#00009f 0 26px,#0000cf 0 27px,#0000bf 0 28px,#00009f 0 29px,#0000cf 0 30px,#0000bf 0 31px,#00009f 0 32px,#0000cf 0 33px,#0000bf 0 34px,#0000af 0 35px,#0000bf 0 37px,#0000af 0 38px,#0000bf 0 39px,#0000af 0 41px,#0000bf 0 42px,#0000af 0)"></i><i style="left:50px;background:linear-gradient(90deg,#00009f 0 1px,#0000af 0 3px,#00009f 0 4px,#0000af 0 6px,#00009f 0 7px,#0000af 0 14px,#0000bf 0 16px,#0000af 0 18px,#0000bf 0 19px,#0000cf 0 22px,#0000bf 0 23px,#0000af 0 26px,#0000bf 0 27px,#0000cf 0 30px,#0000df 0 35px,#0000cf 0 38px,#0000bf 0 40px,#0000af 0 43px,#0000bf 0 44px,#0000cf 0 46px,#0000bf 0 47px,#0000af 0 49px,#0000bf 0)"></i><i style="left:100px;background:linear-gradient(90deg,#0000bf 0 2px,#0000af 0 12px,#00009f 0 13px,#0000af 0 15px,#00009f 0 16px,#0000af 0 24px,#0000bf 0 25px,#0000af 0 26px,#0000bf 0 28px,#0000af 0 29px,#0000bf 0 31px,#0000af 0 32px,#0000cf 0 33px,#0000bf 0 34px,#0000af 0 35px,#0000cf 0 36px,#0000bf 0 37px,#00009f 0 38px,#0000cf 0 39px,#0000bf 0 40px,#00009f 0 41px,#0000bf 0 42px,#0000cf 0 43px,#0000af 0 45px,#0000cf 0 46px,#0000bf 0 47px,#0000af 0 49px,#0000bf 0)"></i><i style="left:150px;background:linear-gradient(90deg,#0000bf 0 2px,#0000af 0 3px,#0000bf 0 30px,#0000af 0 31px,#0000bf 0 34px,#0000af 0 35px,#0000bf 0 36px,#0000cf 0 37px,#0000bf 0 38px,#00009f 0 39px,#0000bf 0 40px,#0000cf 0 41px,#0000af 0 43px,#0000cf 0 44px,#0000af 0 46px,#0000cf 0 47px,#0000af 0 49px,#0000cf 0)"></i><i style="left:200px;background:linear-gradient(90deg,#0000af 0 2px,#0000bf 0 3px,#0000af 0 4px,#0000bf 0 6px,#0000af 0 7px,#0000bf 0 9px,#0000af 0 16px,#00009f 0 17px,#0000af 0 19px,#00009f 0 21px,#0000af 0 30px,#0000bf 0 33px,#0000af 0 35px,#0000bf 0 36px,#0000cf 0 38px,#0000bf 0 40px,#0000af 0 42px,#0000bf 0 44px,#0000cf 0 47px,#0000df 0)"></i><i style="left:250px;background:linear-gradient(90deg,#0000df 0 2px,#0000cf 0 5px,#0000bf 0 7px,#0000af 0 9px,#0000bf 0 11px,#0000cf 0 13px,#0000bf 0 14px,#0000af 0 16px,#0000bf 0 19px,#0000af 0 28px,#00009f 0 30px,#0000af 0 32px,#00009f 0 33px,#0000af 0 40px,#0000bf 0 42px,#0000af 0 43px,#0000bf 0 45px,#0000af 0 46px,#0000bf 0 47px,#0000af 0 49px,#0000cf 0)"></i><i style="left:300px;background:linear-gradient(90deg,#0000af 0 2px,#0000cf 0 3px,#0000af 0 5px,#0000cf 0 6px,#0000af 0 8px,#0000cf 0 9px,#0000bf 0 10px,#00009f 0 11px,#0000bf 0 12px,#0000cf 0 13px,#0000bf 0 14px,#0000af 0 15px,#0000bf 0 18px,#0000af 0 19px,#0000bf 0 46px,#0000af 0 47px,#0000bf 0)"></i><i style="left:350px;background:linear-gradient(90deg,#0000af 0 2px,#0000bf 0 3px,#0000cf 0 4px,#0000af 0 6px,#0000cf 0 7px,#0000bf 0 8px,#00009f 0 9px,#0000bf 0 10px,#0000cf 0 11px,#00009f 0 12px,#0000bf 0 13px,#0000cf 0 14px,#0000af 0 15px,#0000bf 0 16px,#0000cf 0 17px,#0000af 0 18px,#0000bf 0 20px,#0000af 0 21px,#0000bf 0 23px,#0000af 0 24px,#0000bf 0 25px,#0000af 0 33px,#00009f 0 34px,#0000af 0 36px,#00009f 0 37px,#0000af 0 47px,#0000bf 0)"></i><i style="left:400px;background:linear-gradient(90deg,#0000af 0 2px,#0000bf 0 3px,#0000cf 0 5px,#0000bf 0 6px,#0000af 0 9px,#0000bf 0 11px,#0000cf 0 14px,#0000df 0 19px,#0000cf 0 22px,#0000bf 0 23px,#0000af 0 26px,#0000bf 0 27px,#0000cf 0 30px,#0000bf 0 31px,#0000af 0 33px,#0000bf 0 35px,#0000af 0 42px,#00009f 0 43px,#0000af 0 45px,#00009f 0 46px,#0000af 0 48px,#00009f 0 49px,#0000af 0)"></i><i style="left:450px;background:linear-gradient(90deg,#0000af 0 7px,#0000bf 0 8px,#0000af 0 10px,#0000bf 0 11px,#0000af 0 12px,#0000bf 0 14px,#0000af 0 15px,#0000bf 0 16px,#0000cf 0 17px,#00009f 0 18px,#0000bf 0 19px,#0000cf 0 20px,#00009f 0 21px,#0000bf 0 22px,#0000cf 0 23px,#00009f 0 24px,#0000af 0 25px,#0000cf 0 26px,#0000af 0 28px,#0000bf 0 30px,#0000af 0 32px,#0000bf 0 35px,#0000af 0 36px,#0000bf 0)"></i></div>
<div class="r" style="top:1269.83px;height:18.24px"><i style="left:0px;background:linear-gradient(90deg,#0000ef 0 3px,#0000df 0 4px,#0000cf 0 6px,#0000bf 0 7px,#0000cf 0 8px,#0000ef 0 9px,#00f 0 11px,#0000ef 0 12px,#0000cf 0 13px,#0000bf 0 14px,#0000df 0 15px,#00f 0 17px,#0000cf 0 19px,#00f 0 21px,#0000bf 0 22px,#0000df 0 23px,#0010ff 0 24px,#0000df 0 25px,#0000bf 0 26px,#00f 0 27px,#0000ef 0 28px,#0000af 0 29px,#00f 0 30px,#0000ef 0 31px,#0000af 0 32px,#00f 0 33px,#0000df 0 34px,#0000bf 0 35px,#0000ef 0 36px,#0000df 0 37px,#0000bf 0 38px,#0000ef 0 39px,#0000cf 0 41px,#0000df 0 42px,#0000bf 0 43px,#0000cf 0 45px,#0000bf 0 46px,#0000cf 0 49px,#0000bf 0)"></i><i style="left:50px;background:linear-gradient(90deg,#0000bf 0 1px,#0000cf 0 2px,#0000bf 0 3px,#0000af 0 4px,#0000cf 0 6px,#0000af 0 7px,#0000bf 0 8px,#0000cf 0 9px,#0000bf 0 10px,#00009f 0 11px,#0000bf 0 12px,#0000cf 0 13px,#0000bf 0 14px,#00009f 0 15px,#0000af 0 16px,#0000cf 0 18px,#0000bf 0 19px,#0000af 0 20px,#00009f 0 21px,#0000af 0 22px,#0000bf 0 23px,#0000cf 0 26px,#0000bf 0 28px,#0000af 0 31px,#00009f 0 35px,#0000af 0 38px,#0000bf 0 40px,#0000cf 0 43px,#0000bf 0 44px,#0000af 0 45px,#00009f 0 46px,#0000af 0 47px,#0000cf 0 49px,#0000bf 0)"></i><i style="left:100px;background:linear-gradient(90deg,#00009f 0 1px,#0000af 0 2px,#0000cf 0 4px,#0000af 0 5px,#00009f 0 6px,#0000cf 0 8px,#0000af 0 10px,#0000cf 0 11px,#0000bf 0 12px,#0000af 0 13px,#0000cf 0 15px,#0000bf 0 16px,#0000cf 0 21px,#0000df 0 22px,#0000bf 0 23px,#0000cf 0 24px,#0000df 0 25px,#0000bf 0 26px,#0000df 0 27px,#0000ef 0 28px,#0000bf 0 29px,#0000ef 0 31px,#0000bf 0 32px,#00f 0 33px,#0000df 0 34px,#0000bf 0 35px,#00f 0 36px,#0000df 0 37px,#0000bf 0 38px,#00f 0 39px,#0000ef 0 40px,#0000af 0 41px,#00f 0 43px,#0000bf 0 44px,#0000cf 0 45px,#0010ff 0 46px,#0000ef 0 47px,#0000bf 0 48px,#0000df 0 49px,#00f 0)"></i><i style="left:150px;background:linear-gradient(90deg,#00f 0 1px,#0000df 0 2px,#0000bf 0 3px,#0000df 0 4px,#00f 0 6px,#0000ef 0 7px,#0000df 0 8px,#0000cf 0 9px,#0000bf 0 10px,#0000cf 0 11px,#0000df 0 13px,#0000ef 0 19px,#0000df 0 21px,#0000cf 0 22px,#0000bf 0 23px,#0000cf 0 24px,#0000df 0 25px,#0000ef 0 26px,#00f 0 28px,#0000ef 0 29px,#0000bf 0 30px,#0000cf 0 31px,#0000ef 0 32px,#00f 0 33px,#0000ef 0 34px,#0000bf 0 35px,#0000df 0 36px,#0010ff 0 37px,#0000ef 0 38px,#0000bf 0 39px,#0000ef 0 40px,#00f 0 41px,#0000bf 0 42px,#0000df 0 43px,#0010ff 0 44px,#0000cf 0 46px,#00f 0 47px,#0000cf 0 49px,#00f 0)"></i><i style="left:200px;background:linear-gradient(90deg,#0000cf 0 2px,#0000ef 0 3px,#0000bf 0 4px,#0000df 0 5px,#0000ef 0 6px,#0000bf 0 7px,#0000df 0 9px,#0000bf 0 10px,#0000cf 0 12px,#0000bf 0 13px,#0000cf 0 16px,#0000bf 0 18px,#0000cf 0 19px,#0000bf 0 21px,#0000cf 0 22px,#0000bf 0 23px,#0000af 0 24px,#0000cf 0 26px,#0000af 0 28px,#0000cf 0 30px,#0000bf 0 31px,#00009f 0 32px,#0000bf 0 33px,#0000cf 0 35px,#0000bf 0 36px,#00009f 0 38px,#0000bf 0 39px,#0000cf 0 43px,#0000bf 0 44px,#0000af 0 47px,#00009f 0)"></i><i style="left:250px;background:linear-gradient(90deg,#00009f 0 2px,#0000af 0 5px,#0000bf 0 6px,#0000cf 0 10px,#0000bf 0 11px,#00009f 0 13px,#0000bf 0 14px,#0000cf 0 16px,#0000bf 0 17px,#00009f 0 18px,#0000bf 0 19px,#0000cf 0 21px,#0000af 0 23px,#0000cf 0 25px,#0000af 0 26px,#0000bf 0 27px,#0000cf 0 28px,#0000bf 0 30px,#0000cf 0 31px,#0000bf 0 33px,#0000cf 0 36px,#0000bf 0 37px,#0000cf 0 39px,#0000bf 0 40px,#0000df 0 42px,#0000bf 0 43px,#0000ef 0 44px,#0000df 0 45px,#0000bf 0 46px,#0000ef 0 47px,#0000cf 0 49px,#00f 0)"></i><i style="left:300px;background:linear-gradient(90deg,#0000cf 0 2px,#00f 0 3px,#0000cf 0 5px,#0010ff 0 6px,#0000df 0 7px,#0000bf 0 8px,#00f 0 9px,#0000ef 0 10px,#0000bf 0 11px,#0000ef 0 12px,#0010ff 0 13px,#0000df 0 14px,#0000bf 0 15px,#0000ef 0 16px,#00f 0 17px,#0000ef 0 18px,#0000cf 0 19px,#0000bf 0 20px,#0000ef 0 21px,#00f 0 23px,#0000ef 0 24px,#0000df 0 25px,#0000cf 0 26px,#0000bf 0 27px,#0000cf 0 28px,#0000df 0 30px,#0000ef 0 36px,#0000df 0 38px,#0000cf 0 39px,#0000bf 0 40px,#0000cf 0 41px,#0000df 0 42px,#0000ef 0 43px,#00f 0 45px,#0000df 0 46px,#0000bf 0 47px,#0000df 0 48px,#00f 0)"></i><i style="left:350px;background:linear-gradient(90deg,#0000df 0 1px,#0000bf 0 2px,#0000ef 0 3px,#0010ff 0 4px,#0000cf 0 5px,#0000bf 0 6px,#00f 0 8px,#0000af 0 9px,#0000ef 0 10px,#00f 0 11px,#0000bf 0 12px,#0000df 0 13px,#00f 0 14px,#0000bf 0 15px,#0000df 0 16px,#00f 0 17px,#0000bf 0 18px,#0000ef 0 20px,#0000bf 0 21px,#0000ef 0 22px,#0000df 0 23px,#0000bf 0 24px,#0000df 0 25px,#0000cf 0 26px,#0000bf 0 27px,#0000df 0 28px,#0000cf 0 33px,#0000bf 0 34px,#0000cf 0 36px,#0000af 0 37px,#0000bf 0 38px,#0000cf 0 39px,#0000af 0 41px,#0000cf 0 43px,#00009f 0 44px,#0000af 0 45px,#0000cf 0 47px,#0000af 0 48px,#00009f 0 49px,#0000bf 0)"></i><i style="left:400px;background:linear-gradient(90deg,#0000cf 0 2px,#0000af 0 3px,#00009f 0 4px,#0000af 0 5px,#0000bf 0 6px,#0000cf 0 9px,#0000bf 0 11px,#0000af 0 14px,#00009f 0 18px,#0000af 0 21px,#0000bf 0 23px,#0000cf 0 26px,#0000bf 0 27px,#0000af 0 28px,#00009f 0 29px,#0000af 0 30px,#0000bf 0 31px,#0000cf 0 33px,#0000af 0 34px,#00009f 0 35px,#0000bf 0 36px,#0000cf 0 37px,#0000bf 0 38px,#00009f 0 39px,#0000bf 0 40px,#0000cf 0 41px,#0000bf 0 42px,#0000af 0 43px,#0000cf 0 45px,#0000af 0 46px,#0000bf 0 47px,#0000cf 0 48px,#0000bf 0)"></i><i style="left:450px;background:linear-gradient(90deg,#0000cf 0 3px,#0000bf 0 4px,#0000cf 0 6px,#0000bf 0 7px,#0000df 0 8px,#0000cf 0 10px,#0000ef 0 11px,#0000bf 0 12px,#0000df 0 13px,#0000ef 0 14px,#0000bf 0 15px,#0000df 0 16px,#00f 0 17px,#0000af 0 18px,#0000ef 0 19px,#00f 0 20px,#0000af 0 21px,#0000ef 0 22px,#00f 0 23px,#0000bf 0 24px,#0000df 0 25px,#0010ff 0 26px,#0000df 0 27px,#0000bf 0 28px,#00f 0 30px,#0000cf 0 32px,#00f 0 34px,#0000df 0 35px,#0000bf 0 36px,#0000cf 0 37px,#0000ef 0 38px,#00f 0 40px,#0000ef 0 41px,#0000cf 0 42px,#0000bf 0 43px,#0000cf 0 45px,#0000df 0 46px,#0000ef 0)"></i></div>
<div class="r" style="top:1287.47px;height:18.24px"><i style="left:0px;background:linear-gradient(90deg,#0000ef 0 2px,#0000df 0 3px,#0000cf 0 4px,#0000bf 0 5px,#0000af 0 7px,#0000bf 0 8px,#0000df 0 9px,#0000ef 0 10px,#00f 0 11px,#0000ef 0 12px,#0000bf 0 13px,#0000af 0 14px,#0000df 0 15px,#00f 0 16px,#0000ef 0 17px,#0000bf 0 18px,#0000cf 0 19px,#00f 0 20px,#0000ef 0 21px,#0000bf 0 22px,#0000cf 0 23px,#00f 0 24px,#0000df 0 25px,#0000bf 0 26px,#0000ef 0 27px,#0000df 0 28px,#0000cf 0 29px,#0000ef 0 30px,#0000df 0 31px,#0000cf 0 32px,#0000ef 0 33px,#0000df 0 41px,#0000cf 0 42px,#0000ef 0 43px,#0000df 0 44px,#0000cf 0 45px,#00f 0 46px,#0000df 0 47px,#0000cf 0 48px,#00f 0 49px,#0000df 0)"></i><i style="left:50px;background:linear-gradient(90deg,#0000cf 0 1px,#00f 0 2px,#0000ef 0 3px,#0000bf 0 4px,#00f 0 6px,#0000bf 0 7px,#0000df 0 8px,#0010ff 0 9px,#0000df 0 10px,#0000bf 0 11px,#0000ef 0 12px,#00f 0 13px,#0000ef 0 14px,#0000bf 0 15px,#0000cf 0 16px,#00f 0 18px,#0000ef 0 19px,#0000cf 0 20px,#0000bf 0 21px,#0000cf 0 22px,#0000ef 0 23px,#00f 0 25px,#0000ef 0 27px,#0000df 0 28px,#0000cf 0 30px,#0000bf 0 36px,#0000cf 0 38px,#0000df 0 39px,#0000ef 0 40px,#00f 0 42px,#0000ef 0 43px,#0000df 0 44px,#0000cf 0 45px,#0000bf 0 46px,#0000cf 0 47px,#0000ef 0 48px,#00f 0 49px,#0000ef 0)"></i><i style="left:100px;background:linear-gradient(90deg,#0000bf 0 1px,#0000cf 0 2px,#00f 0 4px,#0000df 0 5px,#0000bf 0 6px,#00f 0 8px,#0000cf 0 10px,#00f 0 11px,#0000ef 0 12px,#0000bf 0 13px,#00f 0 15px,#0000bf 0 16px,#0000ef 0 18px,#0000cf 0 19px,#0000ef 0 21px,#0000cf 0 22px,#0000ef 0 23px,#0000df 0 25px,#0000ef 0 26px,#0000df 0 32px,#0000ef 0 33px,#0000df 0 34px,#0000cf 0 35px,#0000ef 0 36px,#0000df 0 37px,#0000cf 0 38px,#0000ef 0 40px,#0000bf 0 41px,#0000ef 0 43px,#0000bf 0 44px,#0000cf 0 45px,#00f 0 46px,#0000ef 0 47px,#0000af 0 48px,#0000cf 0 49px,#00f 0)"></i><i style="left:150px;background:linear-gradient(90deg,#00f 0 1px,#0000cf 0 2px,#0000af 0 3px,#0000cf 0 4px,#0000ef 0 5px,#00f 0 6px,#0000ef 0 7px,#0000cf 0 8px,#0000bf 0 9px,#0000af 0 10px,#0000bf 0 11px,#0000cf 0 12px,#0000df 0 14px,#0000ef 0 18px,#0000df 0 20px,#0000cf 0 21px,#0000bf 0 22px,#0000af 0 24px,#0000cf 0 25px,#0000ef 0 26px,#00f 0 28px,#0000df 0 29px,#0000bf 0 31px,#0000ef 0 32px,#00f 0 33px,#0000df 0 34px,#0000af 0 35px,#0000df 0 36px,#00f 0 37px,#0000df 0 38px,#0000bf 0 39px,#0000ef 0 40px,#00f 0 41px,#0000cf 0 43px,#00f 0 44px,#0000cf 0 46px,#0000ef 0 47px,#0000df 0 49px,#0000ef 0)"></i><i style="left:200px;background:linear-gradient(90deg,#0000df 0 6px,#0000ef 0 7px,#0000df 0 9px,#0000ef 0 10px,#0000df 0 12px,#00f 0 13px,#0000cf 0 14px,#0000df 0 15px,#00f 0 16px,#0000cf 0 17px,#0000df 0 18px,#00f 0 19px,#0000cf 0 20px,#0000df 0 21px,#00f 0 22px,#0000ef 0 23px,#0000bf 0 24px,#00f 0 26px,#0000cf 0 28px,#00f 0 30px,#0000df 0 31px,#0000bf 0 32px,#0000df 0 33px,#00f 0 35px,#0000df 0 36px,#0000bf 0 38px,#0000df 0 39px,#0000ef 0 40px,#00f 0 42px,#0000ef 0 43px,#0000df 0 45px,#0000cf 0 47px,#0000bf 0)"></i><i style="left:250px;background:linear-gradient(90deg,#0000bf 0 2px,#0000cf 0 4px,#0000df 0 6px,#0000ef 0 7px,#00f 0 9px,#0000ef 0 10px,#0000df 0 11px,#0000bf 0 13px,#0000df 0 14px,#00f 0 16px,#0000df 0 17px,#0000bf 0 18px,#0000df 0 19px,#00f 0 21px,#0000cf 0 23px,#00f 0 25px,#0000bf 0 26px,#0000ef 0 27px,#00f 0 28px,#0000df 0 29px,#0000cf 0 30px,#00f 0 31px,#0000df 0 32px,#0000cf 0 33px,#00f 0 34px,#0000df 0 35px,#0000cf 0 36px,#00f 0 37px,#0000df 0 39px,#0000ef 0 40px,#0000df 0 42px,#0000ef 0 43px,#0000df 0 49px,#0000ef 0)"></i><i style="left:300px;background:linear-gradient(90deg,#0000df 0 2px,#0000ef 0 3px,#0000cf 0 5px,#00f 0 6px,#0000cf 0 8px,#00f 0 9px,#0000ef 0 10px,#0000bf 0 11px,#0000df 0 12px,#00f 0 13px,#0000df 0 14px,#0000af 0 15px,#0000df 0 16px,#00f 0 17px,#0000ef 0 18px,#0000bf 0 20px,#0000df 0 21px,#00f 0 23px,#0000ef 0 24px,#0000cf 0 25px,#0000af 0 27px,#0000bf 0 28px,#0000cf 0 29px,#0000df 0 31px,#0000ef 0 35px,#0000df 0 37px,#0000cf 0 38px,#0000bf 0 39px,#0000af 0 40px,#0000bf 0 41px,#0000cf 0 42px,#0000ef 0 43px,#00f 0 44px,#0000ef 0 45px,#0000cf 0 46px,#0000af 0 47px,#0000cf 0 48px,#00f 0)"></i><i style="left:350px;background:linear-gradient(90deg,#0000cf 0 1px,#0000af 0 2px,#0000ef 0 3px,#00f 0 4px,#0000cf 0 5px,#0000bf 0 6px,#0000ef 0 8px,#0000bf 0 9px,#0000ef 0 11px,#0000cf 0 12px,#0000df 0 13px,#0000ef 0 14px,#0000cf 0 15px,#0000df 0 16px,#0000ef 0 17px,#0000df 0 23px,#0000ef 0 24px,#0000df 0 26px,#0000ef 0 27px,#0000cf 0 28px,#0000ef 0 30px,#0000cf 0 31px,#0000ef 0 33px,#0000bf 0 34px,#00f 0 36px,#0000bf 0 37px,#0000ef 0 38px,#00f 0 39px,#0000cf 0 41px,#00f 0 43px,#0000bf 0 44px,#0000df 0 45px,#00f 0 47px,#0000cf 0 48px,#0000bf 0 49px,#0000ef 0)"></i><i style="left:400px;background:linear-gradient(90deg,#00f 0 1px,#0000ef 0 2px,#0000cf 0 3px,#0000bf 0 4px,#0000cf 0 5px,#0000df 0 6px,#0000ef 0 7px,#00f 0 9px,#0000ef 0 10px,#0000df 0 11px,#0000cf 0 13px,#0000bf 0 19px,#0000cf 0 21px,#0000df 0 22px,#0000ef 0 24px,#00f 0 26px,#0000ef 0 27px,#0000cf 0 28px,#0000bf 0 29px,#0000cf 0 30px,#0000ef 0 31px,#00f 0 33px,#0000cf 0 34px,#0000bf 0 35px,#0000ef 0 36px,#00f 0 37px,#0000ef 0 38px,#0000bf 0 39px,#0000df 0 40px,#0010ff 0 41px,#0000df 0 42px,#0000bf 0 43px,#00f 0 45px,#0000bf 0 46px,#0000ef 0 47px,#00f 0 48px,#0000cf 0 49px,#0000df 0)"></i><i style="left:450px;background:linear-gradient(90deg,#00f 0 1px,#0000cf 0 2px,#0000df 0 3px,#00f 0 4px,#0000cf 0 5px,#0000df 0 6px,#0000ef 0 7px,#0000cf 0 8px,#0000df 0 16px,#0000ef 0 17px,#0000cf 0 18px,#0000df 0 19px,#0000ef 0 20px,#0000cf 0 21px,#0000df 0 22px,#0000ef 0 23px,#0000bf 0 24px,#0000df 0 25px,#00f 0 26px,#0000cf 0 27px,#0000bf 0 28px,#0000ef 0 29px,#00f 0 30px,#0000cf 0 31px,#0000bf 0 32px,#0000ef 0 33px,#00f 0 34px,#0000df 0 35px,#0000af 0 36px,#0000bf 0 37px,#0000ef 0 38px,#00f 0 39px,#0000ef 0 40px,#0000df 0 41px,#0000bf 0 42px,#0000af 0 44px,#0000bf 0 45px,#0000cf 0 46px,#0000df 0 47px,#0000ef 0)"></i></div>
<div class="r" style="top:1305.11px;height:35.87px"><i style="left:0px;background:linear-gradient(90deg,#0000bf 0 1px,#0000af 0 5px,#00009f 0 7px,#0000af 0 9px,#0000bf 0 11px,#0000af 0 13px,#00009f 0 14px,#0000af 0 15px,#0000bf 0 16px,#0000af 0 17px,#00009f 0 19px,#0000af 0 28px,#0000bf 0 29px,#0000af 0 31px,#0000bf 0 32px,#0000af 0 33px,#0000bf 0 34px,#0000cf 0 35px,#0000af 0 36px,#0000cf 0 38px,#0000af 0 39px,#0000df 0 40px,#0000cf 0 41px,#0000af 0 42px,#0000df 0 43px,#0000cf 0 44px,#0000af 0 45px,#0000ef 0 46px,#0000cf 0 47px,#0000bf 0 48px,#0000ef 0 49px,#0000cf 0)"></i><i style="left:50px;background:linear-gradient(90deg,#0000bf 0 1px,#0000ef 0 2px,#0000df 0 3px,#0000af 0 4px,#0000ef 0 6px,#0000bf 0 7px,#0000df 0 8px,#0000ef 0 9px,#0000df 0 10px,#0000bf 0 11px,#0000df 0 12px,#0000ef 0 13px,#0000df 0 14px,#0000cf 0 16px,#0000df 0 17px,#0000ef 0 18px,#0000df 0 19px,#0000cf 0 21px,#0000df 0 44px,#0000cf 0 46px,#0000df 0 48px,#0000ef 0 49px,#0000df 0)"></i><i style="left:100px;background:linear-gradient(90deg,#0000cf 0 2px,#0000ef 0 4px,#0000cf 0 5px,#0000bf 0 6px,#0000df 0 7px,#0000ef 0 8px,#0000bf 0 9px,#0000cf 0 10px,#0000ef 0 11px,#0000df 0 12px,#0000af 0 13px,#0000ef 0 15px,#0000af 0 16px,#0000df 0 17px,#0000ef 0 18px,#0000af 0 19px,#0000df 0 21px,#0000af 0 22px,#0000df 0 23px,#0000cf 0 24px,#0000af 0 25px,#0000df 0 26px,#0000bf 0 27px,#0000af 0 28px,#0000df 0 29px,#0000bf 0 31px,#0000cf 0 32px,#0000af 0 33px,#0000bf 0 35px,#0000af 0 37px,#0000bf 0 38px,#0000af 0 47px,#00009f 0 48px,#0000af 0 49px,#0000bf 0)"></i><i style="left:150px;background:linear-gradient(90deg,#0000bf 0 1px,#0000af 0 2px,#00009f 0 3px,#0000af 0 4px,#0000bf 0 7px,#0000af 0 8px,#00009f 0 10px,#0000af 0 14px,#0000bf 0 18px,#0000af 0 22px,#00009f 0 24px,#0000af 0 26px,#0000bf 0 28px,#0000af 0 29px,#00009f 0 31px,#0000af 0 32px,#0000bf 0 33px,#0000af 0 34px,#00009f 0 35px,#0000af 0 36px,#0000bf 0 37px,#0000af 0 45px,#0000bf 0 46px,#0000af 0 47px,#0000bf 0 49px,#0000af 0)"></i><i style="left:200px;background:linear-gradient(90deg,#0000cf 0 2px,#0000af 0 3px,#0000cf 0 5px,#0000af 0 6px,#0000df 0 7px,#0000bf 0 9px,#0000ef 0 10px,#0000bf 0 11px,#0000cf 0 12px,#0000ef 0 13px,#0000af 0 14px,#0000cf 0 15px,#0000ef 0 16px,#0000bf 0 17px,#0000cf 0 18px,#0000ef 0 19px,#0000bf 0 20px,#0000cf 0 21px,#0000ef 0 22px,#0000df 0 23px,#0000bf 0 24px,#0000df 0 25px,#0000ef 0 26px,#0000cf 0 27px,#0000bf 0 28px,#0000ef 0 30px,#0000cf 0 32px,#0000df 0 33px,#0000ef 0 35px,#0000df 0 36px,#0000cf 0 38px,#0000df 0)"></i><i style="left:250px;background:linear-gradient(90deg,#0000df 0 11px,#0000cf 0 13px,#0000df 0 14px,#0000ef 0 16px,#0000df 0 17px,#0000cf 0 19px,#0000ef 0 21px,#0000bf 0 22px,#0000cf 0 23px,#0000ef 0 24px,#0000df 0 25px,#0000bf 0 26px,#0000df 0 27px,#0000ef 0 28px,#0000cf 0 29px,#0000bf 0 30px,#0000ef 0 31px,#0000cf 0 32px,#0000bf 0 33px,#0000ef 0 34px,#0000cf 0 35px,#0000af 0 36px,#0000ef 0 37px,#0000cf 0 38px,#0000bf 0 39px,#0000ef 0 40px,#0000bf 0 42px,#0000df 0 43px,#0000af 0 44px,#0000cf 0 46px,#0000af 0 47px,#0000cf 0 49px,#0000af 0)"></i><i style="left:300px;background:linear-gradient(90deg,#0000bf 0 2px,#0000af 0 3px,#0000bf 0 4px,#0000af 0 12px,#0000bf 0 13px,#0000af 0 14px,#00009f 0 15px,#0000af 0 16px,#0000bf 0 17px,#0000af 0 18px,#00009f 0 20px,#0000af 0 21px,#0000bf 0 23px,#0000af 0 25px,#00009f 0 27px,#0000af 0 31px,#0000bf 0 35px,#0000af 0 39px,#00009f 0 41px,#0000af 0 42px,#0000bf 0 45px,#0000af 0 46px,#00009f 0 47px,#0000af 0 48px,#0000bf 0)"></i><i style="left:350px;background:linear-gradient(90deg,#0000af 0 1px,#00009f 0 2px,#0000af 0 11px,#0000bf 0 12px,#0000af 0 14px,#0000bf 0 16px,#0000af 0 17px,#0000cf 0 18px,#0000bf 0 20px,#0000df 0 21px,#0000af 0 22px,#0000bf 0 23px,#0000df 0 24px,#0000af 0 25px,#0000cf 0 26px,#0000df 0 27px,#0000af 0 28px,#0000df 0 30px,#0000af 0 31px,#0000ef 0 32px,#0000df 0 33px,#0000af 0 34px,#0000ef 0 36px,#0000af 0 37px,#0000df 0 38px,#0000ef 0 39px,#0000cf 0 40px,#0000bf 0 41px,#0000ef 0 42px,#0000df 0 43px,#0000bf 0 44px,#0000cf 0 45px,#0000ef 0 47px,#0000cf 0 49px,#0000df 0)"></i><i style="left:400px;background:linear-gradient(90deg,#0000ef 0 1px,#0000df 0 3px,#0000cf 0 5px,#0000df 0 28px,#0000cf 0 30px,#0000df 0 31px,#0000ef 0 32px,#0000df 0 33px,#0000cf 0 35px,#0000df 0 36px,#0000ef 0 37px,#0000df 0 38px,#0000bf 0 39px,#0000df 0 40px,#0000ef 0 41px,#0000df 0 42px,#0000bf 0 43px,#0000ef 0 45px,#0000af 0 46px,#0000df 0 47px,#0000ef 0 48px,#0000bf 0 49px,#0000cf 0)"></i><i style="left:450px;background:linear-gradient(90deg,#0000ef 0 1px,#0000bf 0 2px,#0000cf 0 3px,#0000ef 0 4px,#0000af 0 5px,#0000cf 0 6px,#0000df 0 7px,#0000af 0 8px,#0000cf 0 9px,#0000df 0 10px,#0000af 0 11px,#0000cf 0 13px,#0000af 0 14px,#0000cf 0 15px,#0000bf 0 16px,#0000af 0 17px,#0000bf 0 18px,#0000af 0 20px,#0000bf 0 21px,#0000af 0 30px,#00009f 0 32px,#0000af 0 33px,#0000bf 0 34px,#0000af 0 35px,#00009f 0 36px,#0000af 0 38px,#0000bf 0 40px,#0000af 0 42px,#00009f 0 44px,#0000af 0 48px,#0000bf 0)"></i></div>
<div class="r" style="top:1340.38px;height:18.24px"><i style="left:0px;background:linear-gradient(90deg,#0000af 0 3px,#0000bf 0 6px,#0000af 0 15px,#0000bf 0 17px,#0000af 0 19px,#0000bf 0 21px,#00009f 0 22px,#0000af 0 23px,#0000bf 0 24px,#0000af 0 25px,#00009f 0 26px,#0000bf 0 28px,#00009f 0 29px,#0000bf 0 31px,#0000af 0 32px,#0000bf 0 34px,#0000af 0 35px,#0000bf 0 36px,#0000af 0 38px,#0000bf 0 39px,#0000af 0)"></i><i style="left:50px;background:linear-gradient(90deg,#00009f 0 1px,#0000af 0 3px,#00009f 0 4px,#0000af 0 6px,#00009f 0 7px,#0000af 0 19px,#0000bf 0 22px,#0000af 0 24px,#00009f 0 25px,#0000af 0 27px,#0000bf 0 29px,#0000cf 0 36px,#0000bf 0 39px,#0000af 0 41px,#00009f 0 42px,#0000af 0 44px,#0000bf 0 47px,#0000af 0)"></i><i style="left:100px;background:linear-gradient(90deg,#0000af 0 8px,#00009f 0 10px,#0000af 0 12px,#00009f 0 13px,#0000af 0 15px,#00009f 0 16px,#0000af 0 27px,#0000bf 0 28px,#0000af 0 29px,#0000bf 0 31px,#0000af 0 32px,#0000bf 0 34px,#0000af 0 35px,#0000bf 0 36px,#0000af 0 37px,#00009f 0 38px,#0000bf 0 40px,#00009f 0 41px,#0000bf 0 43px,#00009f 0 44px,#0000af 0 45px,#0000bf 0 46px,#0000af 0 47px,#00009f 0 48px,#0000af 0 49px,#0000bf 0)"></i><i style="left:150px;background:linear-gradient(90deg,#0000bf 0 1px,#0000af 0 9px,#0000bf 0 12px,#0000af 0 20px,#0000bf 0 23px,#0000af 0 32px,#0000bf 0 33px,#0000af 0 34px,#00009f 0 35px,#0000af 0 36px,#0000bf 0 37px,#0000af 0 38px,#00009f 0 39px,#0000bf 0 41px,#00009f 0 42px,#0000af 0 43px,#0000bf 0 44px,#0000af 0 46px,#0000bf 0 47px,#0000af 0 49px,#0000bf 0)"></i><i style="left:200px;background:linear-gradient(90deg,#0000af 0 2px,#0000bf 0 3px,#0000af 0 5px,#0000bf 0 6px,#0000af 0 16px,#00009f 0 17px,#0000af 0 19px,#00009f 0 21px,#0000af 0 23px,#00009f 0 24px,#0000af 0 36px,#0000bf 0 39px,#0000af 0 40px,#00009f 0 41px,#0000af 0 43px,#0000bf 0 46px,#0000cf 0)"></i><i style="left:250px;background:linear-gradient(90deg,#0000cf 0 3px,#0000bf 0 6px,#0000af 0 8px,#00009f 0 9px,#0000af 0 10px,#0000bf 0 13px,#0000af 0 25px,#00009f 0 26px,#0000af 0 28px,#00009f 0 30px,#0000af 0 32px,#00009f 0 33px,#0000af 0 43px,#0000bf 0 44px,#0000af 0 46px,#0000bf 0 47px,#0000af 0 49px,#0000bf 0)"></i><i style="left:300px;background:linear-gradient(90deg,#0000af 0 2px,#0000bf 0 3px,#0000af 0 5px,#0000bf 0 6px,#0000af 0 7px,#00009f 0 8px,#0000bf 0 10px,#00009f 0 11px,#0000af 0 12px,#0000bf 0 13px,#0000af 0 14px,#00009f 0 15px,#0000af 0 16px,#0000bf 0 17px,#0000af 0 26px,#0000bf 0 29px,#0000af 0 37px,#0000bf 0 40px,#0000af 0 48px,#0000bf 0)"></i><i style="left:350px;background:linear-gradient(90deg,#0000af 0 1px,#00009f 0 2px,#0000af 0 3px,#0000bf 0 4px,#0000af 0 5px,#00009f 0 6px,#0000bf 0 8px,#00009f 0 9px,#0000bf 0 11px,#00009f 0 12px,#0000af 0 13px,#0000bf 0 14px,#0000af 0 15px,#0000bf 0 17px,#0000af 0 18px,#0000bf 0 20px,#0000af 0 21px,#0000bf 0 22px,#0000af 0 33px,#00009f 0 34px,#0000af 0 36px,#00009f 0 37px,#0000af 0 39px,#00009f 0 41px,#0000af 0)"></i><i style="left:400px;background:linear-gradient(90deg,#0000af 0 2px,#0000bf 0 5px,#0000af 0 7px,#00009f 0 8px,#0000af 0 10px,#0000bf 0 13px,#0000cf 0 20px,#0000bf 0 22px,#0000af 0 24px,#00009f 0 25px,#0000af 0 27px,#0000bf 0 30px,#0000af 0 42px,#00009f 0 43px,#0000af 0 45px,#00009f 0 46px,#0000af 0 48px,#00009f 0 49px,#0000af 0)"></i><i style="left:450px;background:linear-gradient(90deg,#0000af 0 10px,#0000bf 0 11px,#0000af 0 13px,#0000bf 0 14px,#0000af 0 15px,#0000bf 0 17px,#0000af 0 18px,#0000bf 0 20px,#00009f 0 21px,#0000bf 0 23px,#00009f 0 24px,#0000af 0 25px,#0000bf 0 26px,#0000af 0 27px,#00009f 0 28px,#0000bf 0 30px,#0000af 0 32px,#0000bf 0 34px,#0000af 0 43px,#0000bf 0 46px,#0000af 0)"></i></div>
<div class="r" style="top:1358.02px;height:18.24px"><i style="left:0px;background:linear-gradient(90deg,#0000df 0 2px,#0000cf 0 4px,#0000bf 0 8px,#0000cf 0 9px,#0000ef 0 11px,#0000df 0 12px,#0000bf 0 13px,#0000af 0 14px,#0000cf 0 15px,#0000ef 0 16px,#0000df 0 17px,#0000bf 0 19px,#0000ef 0 21px,#0000af 0 22px,#0000cf 0 23px,#0000ef 0 24px,#0000cf 0 25px,#0000af 0 26px,#0000ef 0 27px,#0000df 0 28px,#0000af 0 29px,#0000df 0 31px,#0000af 0 32px,#0000df 0 33px,#0000cf 0 34px,#0000af 0 35px,#0000df 0 36px,#0000cf 0 37px,#0000bf 0 38px,#0000df 0 39px,#0000bf 0 41px,#0000cf 0 42px,#0000af 0 43px,#0000bf 0)"></i><i style="left:50px;background:linear-gradient(90deg,#0000af 0 1px,#0000bf 0 3px,#0000af 0 4px,#0000bf 0 6px,#00009f 0 7px,#0000af 0 8px,#0000bf 0 9px,#0000af 0 10px,#00009f 0 11px,#0000bf 0 12px,#0000cf 0 13px,#0000bf 0 14px,#00009f 0 15px,#0000af 0 16px,#0000bf 0 17px,#0000cf 0 18px,#0000bf 0 19px,#0000af 0 20px,#00009f 0 21px,#0000af 0 22px,#0000bf 0 27px,#0000af 0 31px,#00009f 0 35px,#0000af 0 38px,#0000bf 0 44px,#0000af 0 45px,#00009f 0 46px,#0000af 0 47px,#0000bf 0 48px,#0000cf 0 49px,#0000bf 0)"></i><i style="left:100px;background:linear-gradient(90deg,#00009f 0 1px,#0000af 0 2px,#0000bf 0 4px,#0000af 0 5px,#00009f 0 6px,#0000bf 0 8px,#0000af 0 10px,#0000bf 0 12px,#0000af 0 13px,#0000bf 0 15px,#0000af 0 16px,#0000bf 0 21px,#0000cf 0 22px,#0000bf 0 24px,#0000cf 0 25px,#0000af 0 26px,#0000cf 0 28px,#0000af 0 29px,#0000df 0 30px,#0000cf 0 31px,#0000af 0 32px,#0000df 0 33px,#0000cf 0 34px,#0000af 0 35px,#0000ef 0 36px,#0000cf 0 37px,#0000af 0 38px,#0000ef 0 39px,#0000df 0 40px,#0000af 0 41px,#0000df 0 42px,#0000ef 0 43px,#0000bf 0 45px,#0000ef 0 46px,#0000df 0 47px,#0000af 0 48px,#0000cf 0 49px,#0000ef 0)"></i><i style="left:150px;background:linear-gradient(90deg,#0000ef 0 1px,#0000cf 0 2px,#0000af 0 3px,#0000cf 0 4px,#0000df 0 5px,#0000ef 0 6px,#0000df 0 7px,#0000cf 0 8px,#0000bf 0 11px,#0000cf 0 13px,#0000df 0 19px,#0000cf 0 21px,#0000bf 0 24px,#0000cf 0 25px,#0000df 0 26px,#0000ef 0 28px,#0000df 0 29px,#0000bf 0 31px,#0000df 0 32px,#0000ef 0 33px,#0000df 0 34px,#0000af 0 35px,#0000cf 0 36px,#0000ef 0 37px,#0000df 0 38px,#0000af 0 39px,#0000df 0 40px,#0000ef 0 41px,#0000bf 0 42px,#0000cf 0 43px,#0000ef 0 44px,#0000bf 0 46px,#0000ef 0 47px,#0000cf 0 48px,#0000bf 0 49px,#0000ef 0)"></i><i style="left:200px;background:linear-gradient(90deg,#0000bf 0 2px,#0000df 0 3px,#0000af 0 4px,#0000cf 0 5px,#0000df 0 6px,#0000af 0 7px,#0000cf 0 9px,#0000af 0 10px,#0000bf 0 16px,#0000af 0 17px,#0000bf 0 19px,#0000af 0 21px,#0000bf 0 23px,#00009f 0 24px,#0000bf 0 26px,#0000af 0 27px,#00009f 0 28px,#0000bf 0 30px,#0000af 0 31px,#00009f 0 32px,#0000af 0 33px,#0000bf 0 35px,#0000af 0 36px,#00009f 0 38px,#0000af 0 39px,#0000bf 0 44px,#0000af 0 48px,#00009f 0)"></i><i style="left:250px;background:linear-gradient(90deg,#00009f 0 1px,#0000af 0 5px,#0000bf 0 10px,#0000af 0 11px,#00009f 0 13px,#0000af 0 14px,#0000bf 0 16px,#0000af 0 17px,#00009f 0 18px,#0000af 0 19px,#0000bf 0 21px,#00009f 0 22px,#0000af 0 23px,#0000bf 0 25px,#00009f 0 26px,#0000bf 0 28px,#0000af 0 30px,#0000bf 0 32px,#0000af 0 33px,#0000bf 0 39px,#0000af 0 40px,#0000cf 0 42px,#0000af 0 43px,#0000df 0 44px,#0000cf 0 45px,#0000af 0 46px,#0000df 0 47px,#0000bf 0 49px,#0000ef 0)"></i><i style="left:300px;background:linear-gradient(90deg,#0000bf 0 1px,#0000cf 0 2px,#0000ef 0 3px,#0000bf 0 5px,#0000ef 0 6px,#0000cf 0 7px,#0000bf 0 8px,#0000ef 0 9px,#0000df 0 10px,#0000af 0 11px,#0000df 0 12px,#0000ef 0 13px,#0000cf 0 14px,#0000af 0 15px,#0000df 0 16px,#0000ef 0 17px,#0000df 0 18px,#0000bf 0 20px,#0000df 0 21px,#0000ef 0 23px,#0000df 0 24px,#0000cf 0 25px,#0000bf 0 28px,#0000cf 0 30px,#0000df 0 36px,#0000cf 0 38px,#0000bf 0 41px,#0000cf 0 42px,#0000df 0 43px,#0000ef 0 44px,#0000df 0 45px,#0000cf 0 46px,#0000af 0 47px,#0000cf 0 48px,#0000ef 0)"></i><i style="left:350px;background:linear-gradient(90deg,#0000cf 0 1px,#0000af 0 2px,#0000df 0 3px,#0000ef 0 4px,#0000bf 0 6px,#0000ef 0 7px,#0000df 0 8px,#0000af 0 9px,#0000df 0 10px,#0000ef 0 11px,#0000af 0 12px,#0000cf 0 13px,#0000ef 0 14px,#0000af 0 15px,#0000cf 0 16px,#0000df 0 17px,#0000af 0 18px,#0000cf 0 19px,#0000df 0 20px,#0000af 0 21px,#0000cf 0 23px,#0000af 0 24px,#0000cf 0 25px,#0000bf 0 27px,#0000cf 0 28px,#0000bf 0 33px,#0000af 0 34px,#0000bf 0 36px,#0000af 0 37px,#0000bf 0 39px,#0000af 0 41px,#0000bf 0 43px,#00009f 0 44px,#0000af 0 45px,#0000bf 0 47px,#0000af 0 48px,#00009f 0 49px,#0000bf 0)"></i><i style="left:400px;background:linear-gradient(90deg,#0000cf 0 1px,#0000bf 0 2px,#0000af 0 3px,#00009f 0 4px,#0000af 0 5px,#0000bf 0 11px,#0000af 0 14px,#00009f 0 18px,#0000af 0 22px,#0000bf 0 27px,#0000af 0 28px,#00009f 0 29px,#0000af 0 30px,#0000bf 0 31px,#0000cf 0 32px,#0000bf 0 33px,#0000af 0 34px,#00009f 0 35px,#0000bf 0 36px,#0000cf 0 37px,#0000bf 0 38px,#00009f 0 39px,#0000af 0 40px,#0000bf 0 41px,#0000af 0 42px,#00009f 0 43px,#0000bf 0 45px,#0000af 0 46px,#0000bf 0 48px,#0000af 0 49px,#0000bf 0)"></i><i style="left:450px;background:linear-gradient(90deg,#0000bf 0 6px,#0000af 0 7px,#0000cf 0 8px,#0000bf 0 10px,#0000df 0 11px,#0000bf 0 12px,#0000cf 0 13px,#0000df 0 14px,#0000af 0 15px,#0000cf 0 16px,#0000df 0 17px,#0000af 0 18px,#0000df 0 20px,#0000af 0 21px,#0000df 0 22px,#0000ef 0 23px,#0000af 0 24px,#0000cf 0 25px,#0000ef 0 26px,#0000cf 0 27px,#0000af 0 28px,#0000ef 0 30px,#0000bf 0 32px,#0000df 0 33px,#0000ef 0 34px,#0000cf 0 35px,#0000af 0 36px,#0000bf 0 37px,#0000df 0 38px,#0000ef 0 40px,#0000cf 0 41px,#0000bf 0 45px,#0000cf 0 47px,#0000df 0)"></i></div>
<div class="r" style="top:1375.65px;height:18.24px"><i style="left:0px;background:linear-gradient(90deg,#0000df 0 2px,#0000cf 0 4px,#0000bf 0 5px,#0000af 0 6px,#00009f 0 7px,#0000bf 0 8px,#0000cf 0 9px,#0000df 0 10px,#0000ef 0 11px,#0000df 0 12px,#0000bf 0 13px,#0000af 0 14px,#0000cf 0 15px,#0000ef 0 16px,#0000df 0 17px,#0000af 0 18px,#0000bf 0 19px,#0000df 0 21px,#0000af 0 22px,#0000cf 0 23px,#0000ef 0 24px,#0000cf 0 25px,#0000bf 0 26px,#0000df 0 27px,#0000cf 0 28px,#0000bf 0 29px,#0000df 0 30px,#0000cf 0 31px,#0000bf 0 32px,#0000df 0 33px,#0000cf 0 41px,#0000bf 0 42px,#0000df 0 43px,#0000cf 0 44px,#0000bf 0 45px,#0000df 0 46px,#0000cf 0 47px,#0000bf 0 48px,#0000ef 0 49px,#0000cf 0)"></i><i style="left:50px;background:linear-gradient(90deg,#0000bf 0 1px,#0000ef 0 2px,#0000cf 0 3px,#0000af 0 4px,#0000ef 0 5px,#0000df 0 6px,#0000af 0 7px,#0000cf 0 8px,#0000ef 0 9px,#0000cf 0 10px,#0000af 0 11px,#0000df 0 12px,#0000ef 0 13px,#0000df 0 14px,#0000af 0 15px,#0000bf 0 16px,#0000df 0 17px,#0000ef 0 18px,#0000df 0 19px,#0000bf 0 20px,#0000af 0 21px,#0000bf 0 22px,#0000df 0 24px,#0000ef 0 25px,#0000df 0 27px,#0000cf 0 28px,#0000bf 0 30px,#0000af 0 35px,#0000bf 0 38px,#0000cf 0 39px,#0000df 0 41px,#0000ef 0 42px,#0000df 0 43px,#0000cf 0 44px,#0000bf 0 45px,#0000af 0 46px,#0000bf 0 47px,#0000df 0 48px,#0000ef 0 49px,#0000df 0)"></i><i style="left:100px;background:linear-gradient(90deg,#0000af 0 1px,#0000bf 0 2px,#0000df 0 3px,#0000ef 0 4px,#0000cf 0 5px,#0000af 0 6px,#0000df 0 7px,#0000ef 0 8px,#0000bf 0 10px,#0000ef 0 11px,#0000df 0 12px,#0000af 0 13px,#0000df 0 15px,#0000af 0 16px,#0000df 0 18px,#0000bf 0 19px,#0000df 0 21px,#0000bf 0 22px,#0000df 0 23px,#0000cf 0 25px,#0000df 0 26px,#0000cf 0 32px,#0000df 0 33px,#0000cf 0 34px,#0000bf 0 35px,#0000df 0 36px,#0000cf 0 37px,#0000bf 0 38px,#0000df 0 40px,#0000af 0 41px,#0000df 0 43px,#0000bf 0 45px,#0000ef 0 46px,#0000df 0 47px,#0000af 0 48px,#0000bf 0 49px,#0000ef 0)"></i><i style="left:150px;background:linear-gradient(90deg,#0000df 0 1px,#0000bf 0 2px,#0000af 0 3px,#0000cf 0 4px,#0000df 0 5px,#0000ef 0 6px,#0000df 0 7px,#0000cf 0 8px,#0000af 0 9px,#00009f 0 10px,#0000af 0 11px,#0000bf 0 12px,#0000cf 0 14px,#0000df 0 19px,#0000cf 0 20px,#0000bf 0 21px,#0000af 0 24px,#0000bf 0 25px,#0000df 0 26px,#0000ef 0 28px,#0000cf 0 29px,#0000af 0 31px,#0000df 0 32px,#0000ef 0 33px,#0000cf 0 34px,#0000af 0 35px,#0000cf 0 36px,#0000ef 0 37px,#0000cf 0 38px,#0000af 0 39px,#0000df 0 41px,#0000bf 0 42px,#0000cf 0 43px,#0000df 0 44px,#0000cf 0 45px,#0000bf 0 46px,#0000df 0 47px,#0000cf 0 49px,#0000df 0)"></i><i style="left:200px;background:linear-gradient(90deg,#0000cf 0 6px,#0000df 0 7px,#0000cf 0 9px,#0000df 0 10px,#0000cf 0 12px,#0000df 0 13px,#0000bf 0 14px,#0000cf 0 15px,#0000ef 0 16px,#0000bf 0 17px,#0000cf 0 18px,#0000ef 0 19px,#0000bf 0 20px,#0000cf 0 21px,#0000ef 0 22px,#0000cf 0 23px,#0000af 0 24px,#0000df 0 25px,#0000ef 0 26px,#0000bf 0 28px,#0000df 0 29px,#0000ef 0 30px,#0000cf 0 31px,#0000af 0 32px,#0000cf 0 33px,#0000ef 0 35px,#0000cf 0 36px,#0000af 0 38px,#0000cf 0 39px,#0000df 0 40px,#0000ef 0 41px,#0000df 0 43px,#0000cf 0 45px,#0000bf 0 47px,#0000af 0)"></i><i style="left:250px;background:linear-gradient(90deg,#0000af 0 2px,#0000bf 0 4px,#0000cf 0 6px,#0000df 0 8px,#0000ef 0 9px,#0000df 0 10px,#0000cf 0 11px,#0000af 0 13px,#0000cf 0 14px,#0000ef 0 16px,#0000cf 0 17px,#0000af 0 18px,#0000cf 0 19px,#0000ef 0 20px,#0000df 0 21px,#0000bf 0 23px,#0000ef 0 24px,#0000df 0 25px,#0000af 0 26px,#0000cf 0 27px,#0000ef 0 28px,#0000cf 0 29px,#0000bf 0 30px,#0000ef 0 31px,#0000cf 0 32px,#0000bf 0 33px,#0000ef 0 34px,#0000cf 0 35px,#0000bf 0 36px,#0000df 0 37px,#0000cf 0 39px,#0000df 0 40px,#0000cf 0 42px,#0000df 0 43px,#0000cf 0 49px,#0000df 0)"></i><i style="left:300px;background:linear-gradient(90deg,#0000cf 0 2px,#0000df 0 3px,#0000bf 0 4px,#0000cf 0 5px,#0000df 0 6px,#0000cf 0 7px,#0000bf 0 8px,#0000df 0 10px,#0000af 0 11px,#0000cf 0 12px,#0000ef 0 13px,#0000cf 0 14px,#0000af 0 15px,#0000cf 0 16px,#0000ef 0 17px,#0000df 0 18px,#0000af 0 20px,#0000cf 0 21px,#0000ef 0 23px,#0000df 0 24px,#0000bf 0 25px,#0000af 0 28px,#0000bf 0 29px,#0000cf 0 30px,#0000df 0 35px,#0000cf 0 37px,#0000bf 0 38px,#0000af 0 39px,#00009f 0 40px,#0000af 0 41px,#0000cf 0 42px,#0000df 0 43px,#0000ef 0 44px,#0000df 0 45px,#0000cf 0 46px,#0000af 0 47px,#0000bf 0 48px,#0000df 0 49px,#0000ef 0)"></i><i style="left:350px;background:linear-gradient(90deg,#0000bf 0 1px,#0000af 0 2px,#0000df 0 3px,#0000ef 0 4px,#0000bf 0 6px,#0000df 0 8px,#0000af 0 9px,#0000df 0 11px,#0000bf 0 12px,#0000cf 0 13px,#0000df 0 14px,#0000bf 0 15px,#0000cf 0 16px,#0000df 0 17px,#0000cf 0 23px,#0000df 0 24px,#0000cf 0 26px,#0000df 0 27px,#0000bf 0 28px,#0000df 0 30px,#0000bf 0 31px,#0000df 0 33px,#0000af 0 34px,#0000df 0 36px,#0000af 0 37px,#0000df 0 38px,#0000ef 0 39px,#0000bf 0 41px,#0000ef 0 42px,#0000df 0 43px,#0000af 0 44px,#0000cf 0 45px,#0000ef 0 46px,#0000df 0 47px,#0000bf 0 48px,#0000af 0 49px,#0000df 0)"></i><i style="left:400px;background:linear-gradient(90deg,#0000ef 0 1px,#0000df 0 2px,#0000bf 0 3px,#0000af 0 4px,#0000bf 0 5px,#0000cf 0 6px,#0000df 0 7px,#0000ef 0 8px,#0000df 0 10px,#0000cf 0 11px,#0000bf 0 14px,#0000af 0 19px,#0000bf 0 21px,#0000cf 0 22px,#0000df 0 24px,#0000ef 0 25px,#0000df 0 27px,#0000bf 0 28px,#0000af 0 29px,#0000bf 0 30px,#0000df 0 31px,#0000ef 0 32px,#0000df 0 33px,#0000bf 0 34px,#0000af 0 35px,#0000df 0 36px,#0000ef 0 37px,#0000df 0 38px,#0000af 0 39px,#0000cf 0 40px,#0000ef 0 41px,#0000cf 0 42px,#0000af 0 43px,#0000df 0 44px,#0000ef 0 45px,#0000af 0 46px,#0000cf 0 47px,#0000ef 0 48px,#0000bf 0 49px,#0000cf 0)"></i><i style="left:450px;background:linear-gradient(90deg,#0000ef 0 1px,#0000bf 0 2px,#0000cf 0 3px,#0000df 0 4px,#0000bf 0 5px,#0000cf 0 6px,#0000df 0 7px,#0000bf 0 8px,#0000cf 0 16px,#0000df 0 17px,#0000bf 0 18px,#0000cf 0 19px,#0000df 0 20px,#0000bf 0 21px,#0000cf 0 22px,#0000df 0 23px,#0000bf 0 24px,#0000cf 0 25px,#0000ef 0 26px,#0000cf 0 27px,#0000af 0 28px,#0000df 0 30px,#0000bf 0 31px,#0000af 0 32px,#0000df 0 33px,#0000ef 0 34px,#0000cf 0 35px,#0000af 0 36px,#0000bf 0 37px,#0000df 0 38px,#0000ef 0 39px,#0000df 0 40px,#0000cf 0 41px,#0000bf 0 42px,#00009f 0 43px,#0000af 0 44px,#0000bf 0 45px,#0000cf 0 47px,#0000df 0)"></i></div>
<div class="r" style="top:1393.29px;height:35.87px"><i style="left:0px;background:linear-gradient(90deg,#0000af 0 5px,#00009f 0 7px,#0000af 0 10px,#0000bf 0 11px,#0000af 0 12px,#00009f 0 14px,#0000af 0 17px,#00009f 0 19px,#0000af 0 21px,#00009f 0 22px,#0000af 0 31px,#0000bf 0 32px,#0000af 0 34px,#0000bf 0 35px,#0000af 0 36px,#0000bf 0 37px,#0000cf 0 38px,#00009f 0 39px,#0000cf 0 41px,#00009f 0 42px,#0000df 0 43px,#0000cf 0 44px,#0000af 0 45px,#0000df 0 46px,#0000bf 0 47px,#0000af 0 48px,#0000df 0 49px,#0000bf 0)"></i><i style="left:50px;background:linear-gradient(90deg,#0000af 0 1px,#0000df 0 2px,#0000cf 0 3px,#0000af 0 4px,#0000df 0 6px,#0000af 0 7px,#0000cf 0 8px,#0000df 0 9px,#0000cf 0 10px,#0000af 0 11px,#0000cf 0 12px,#0000df 0 13px,#0000cf 0 14px,#0000bf 0 16px,#0000cf 0 17px,#0000df 0 18px,#0000cf 0 19px,#0000bf 0 21px,#0000cf 0 44px,#0000bf 0 46px,#0000cf 0 48px,#0000df 0 49px,#0000cf 0)"></i><i style="left:100px;background:linear-gradient(90deg,#0000bf 0 2px,#0000cf 0 3px,#0000df 0 4px,#0000bf 0 5px,#0000af 0 6px,#0000cf 0 7px,#0000df 0 8px,#0000bf 0 10px,#0000df 0 11px,#0000cf 0 12px,#0000af 0 13px,#0000df 0 15px,#00009f 0 16px,#0000cf 0 17px,#0000df 0 18px,#00009f 0 19px,#0000cf 0 21px,#00009f 0 22px,#0000cf 0 24px,#0000af 0 25px,#0000cf 0 26px,#0000bf 0 27px,#0000af 0 28px,#0000cf 0 29px,#0000af 0 31px,#0000bf 0 32px,#0000af 0 34px,#0000bf 0 35px,#0000af 0 43px,#00009f 0 44px,#0000af 0 47px,#00009f 0 48px,#0000af 0)"></i><i style="left:150px;background:linear-gradient(90deg,#0000af 0 2px,#00009f 0 3px,#0000af 0 5px,#0000bf 0 6px,#0000af 0 8px,#00009f 0 11px,#0000af 0 22px,#00009f 0 24px,#0000af 0 29px,#00009f 0 31px,#0000af 0 34px,#00009f 0 35px,#0000af 0 38px,#00009f 0 39px,#0000af 0 48px,#0000bf 0 49px,#00009f 0)"></i><i style="left:200px;background:linear-gradient(90deg,#0000bf 0 2px,#00009f 0 3px,#0000cf 0 4px,#0000bf 0 5px,#0000af 0 6px,#0000cf 0 7px,#0000bf 0 8px,#0000af 0 9px,#0000df 0 10px,#0000af 0 11px,#0000bf 0 12px,#0000df 0 13px,#0000af 0 14px,#0000cf 0 15px,#0000df 0 16px,#0000af 0 17px,#0000cf 0 18px,#0000df 0 19px,#0000bf 0 21px,#0000df 0 22px,#0000cf 0 23px,#0000af 0 24px,#0000df 0 26px,#0000bf 0 28px,#0000df 0 30px,#0000cf 0 31px,#0000bf 0 32px,#0000cf 0 33px,#0000df 0 35px,#0000cf 0 36px,#0000bf 0 38px,#0000cf 0)"></i><i style="left:250px;background:linear-gradient(90deg,#0000cf 0 11px,#0000bf 0 13px,#0000cf 0 14px,#0000df 0 16px,#0000cf 0 17px,#0000bf 0 18px,#0000cf 0 19px,#0000df 0 21px,#0000bf 0 23px,#0000df 0 25px,#0000af 0 26px,#0000cf 0 27px,#0000df 0 28px,#0000bf 0 30px,#0000df 0 31px,#0000cf 0 32px,#0000af 0 33px,#0000df 0 34px,#0000cf 0 35px,#0000af 0 36px,#0000df 0 37px,#0000bf 0 38px,#0000af 0 39px,#0000df 0 40px,#0000af 0 41px,#0000bf 0 42px,#0000cf 0 43px,#0000af 0 44px,#0000bf 0 45px,#0000cf 0 46px,#00009f 0 47px,#0000bf 0 49px,#00009f 0)"></i><i style="left:300px;background:linear-gradient(90deg,#0000bf 0 1px,#0000af 0 10px,#00009f 0 11px,#0000af 0 14px,#00009f 0 15px,#0000af 0 18px,#00009f 0 20px,#0000af 0 25px,#00009f 0 27px,#0000af 0 38px,#00009f 0 41px,#0000af 0 43px,#0000bf 0 44px,#0000af 0 46px,#00009f 0 47px,#0000af 0)"></i><i style="left:350px;background:linear-gradient(90deg,#0000af 0 1px,#00009f 0 2px,#0000af 0 5px,#00009f 0 6px,#0000af 0 14px,#0000bf 0 15px,#0000af 0 17px,#0000bf 0 18px,#0000af 0 20px,#0000cf 0 21px,#0000af 0 22px,#0000bf 0 23px,#0000cf 0 24px,#0000af 0 25px,#0000cf 0 27px,#00009f 0 28px,#0000cf 0 30px,#00009f 0 31px,#0000df 0 32px,#0000cf 0 33px,#00009f 0 34px,#0000df 0 36px,#0000af 0 37px,#0000cf 0 38px,#0000df 0 39px,#0000bf 0 41px,#0000df 0 42px,#0000cf 0 43px,#0000af 0 44px,#0000bf 0 45px,#0000df 0 46px,#0000cf 0 47px,#0000bf 0 49px,#0000cf 0)"></i><i style="left:400px;background:linear-gradient(90deg,#0000df 0 1px,#0000cf 0 3px,#0000bf 0 5px,#0000cf 0 28px,#0000bf 0 30px,#0000cf 0 31px,#0000df 0 32px,#0000cf 0 33px,#0000bf 0 35px,#0000cf 0 36px,#0000df 0 37px,#0000cf 0 38px,#0000af 0 39px,#0000cf 0 40px,#0000df 0 41px,#0000cf 0 42px,#0000af 0 43px,#0000df 0 45px,#0000af 0 46px,#0000cf 0 47px,#0000df 0 48px,#0000af 0 49px,#0000bf 0)"></i><i style="left:450px;background:linear-gradient(90deg,#0000df 0 1px,#0000af 0 2px,#0000bf 0 3px,#0000df 0 4px,#0000af 0 5px,#0000cf 0 6px,#0000df 0 7px,#00009f 0 8px,#0000cf 0 10px,#00009f 0 11px,#0000cf 0 12px,#0000bf 0 13px,#0000af 0 14px,#0000bf 0 15px,#0000af 0 17px,#0000bf 0 18px,#0000af 0 27px,#00009f 0 28px,#0000af 0 30px,#00009f 0 32px,#0000af 0 35px,#00009f 0 37px,#0000af 0 38px,#0000bf 0 39px,#0000af 0 42px,#00009f 0 44px,#0000af 0)"></i></div>
<div class="r" style="top:1428.56px;height:18.24px"><i style="left:0px;background:linear-gradient(90deg,#0000af 0 17px,#00009f 0 19px,#0000af 0 21px,#00009f 0 22px,#0000af 0 23px,#0000bf 0 24px,#0000af 0 25px,#00009f 0 26px,#0000bf 0 27px,#0000af 0 28px,#00009f 0 29px,#0000bf 0 30px,#0000af 0 32px,#0000bf 0 33px,#0000af 0 35px,#0000bf 0 36px,#0000af 0 38px,#0000bf 0 39px,#0000af 0)"></i><i style="left:50px;background:linear-gradient(90deg,#00009f 0 1px,#0000af 0 2px,#00009f 0 4px,#0000af 0 6px,#00009f 0 8px,#0000af 0 12px,#00009f 0 13px,#0000af 0 17px,#00009f 0 18px,#0000af 0 20px,#0000bf 0 21px,#0000af 0 23px,#00009f 0 25px,#0000af 0 28px,#0000bf 0 38px,#0000af 0 40px,#00009f 0 42px,#0000af 0 44px,#0000bf 0 46px,#0000af 0 48px,#00009f 0 49px,#0000af 0)"></i><i style="left:100px;background:linear-gradient(90deg,#0000af 0 3px,#00009f 0 4px,#0000af 0 8px,#00009f 0 10px,#0000af 0 11px,#00009f 0 13px,#0000af 0 15px,#00009f 0 16px,#0000af 0 29px,#0000bf 0 30px,#0000af 0 32px,#0000bf 0 33px,#0000af 0 35px,#0000bf 0 36px,#0000af 0 37px,#00009f 0 38px,#0000bf 0 39px,#0000af 0 40px,#00009f 0 41px,#0000af 0 42px,#0000bf 0 43px,#00009f 0 44px,#0000af 0 47px,#00009f 0 48px,#0000af 0)"></i><i style="left:150px;background:linear-gradient(90deg,#0000af 0 34px,#00009f 0 35px,#0000af 0 36px,#0000bf 0 37px,#0000af 0 38px,#00009f 0 39px,#0000af 0 40px,#0000bf 0 41px,#00009f 0 42px,#0000af 0 43px,#0000bf 0 44px,#0000af 0 46px,#0000bf 0 47px,#0000af 0 49px,#0000bf 0)"></i><i style="left:200px;background:linear-gradient(90deg,#0000af 0 2px,#0000bf 0 3px,#0000af 0 16px,#00009f 0 17px,#0000af 0 19px,#00009f 0 21px,#0000af 0 22px,#00009f 0 24px,#0000af 0 29px,#00009f 0 30px,#0000af 0 33px,#00009f 0 35px,#0000af 0 36px,#0000bf 0 38px,#0000af 0 40px,#00009f 0 42px,#0000af 0 44px,#0000bf 0)"></i><i style="left:250px;background:linear-gradient(90deg,#0000bf 0 5px,#0000af 0 7px,#00009f 0 9px,#0000af 0 11px,#0000bf 0 13px,#0000af 0 14px,#00009f 0 16px,#0000af 0 19px,#00009f 0 20px,#0000af 0 25px,#00009f 0 27px,#0000af 0 28px,#00009f 0 30px,#0000af 0 32px,#00009f 0 33px,#0000af 0 46px,#0000bf 0 47px,#0000af 0 49px,#0000bf 0)"></i><i style="left:300px;background:linear-gradient(90deg,#0000af 0 2px,#0000bf 0 3px,#0000af 0 5px,#0000bf 0 6px,#0000af 0 7px,#00009f 0 8px,#0000bf 0 9px,#0000af 0 10px,#00009f 0 11px,#0000af 0 12px,#0000bf 0 13px,#0000af 0 14px,#00009f 0 15px,#0000af 0)"></i><i style="left:350px;background:linear-gradient(90deg,#0000af 0 1px,#00009f 0 2px,#0000af 0 5px,#00009f 0 6px,#0000bf 0 7px,#0000af 0 8px,#00009f 0 9px,#0000af 0 10px,#0000bf 0 11px,#00009f 0 12px,#0000af 0 13px,#0000bf 0 14px,#0000af 0 16px,#0000bf 0 17px,#0000af 0 19px,#0000bf 0 20px,#0000af 0 33px,#00009f 0 34px,#0000af 0 36px,#00009f 0 38px,#0000af 0 39px,#00009f 0 41px,#0000af 0 45px,#00009f 0 46px,#0000af 0)"></i><i style="left:400px;background:linear-gradient(90deg,#00009f 0 1px,#0000af 0 3px,#0000bf 0 5px,#0000af 0 7px,#00009f 0 9px,#0000af 0 11px,#0000bf 0 21px,#0000af 0 24px,#00009f 0 26px,#0000af 0 28px,#0000bf 0 29px,#0000af 0 31px,#00009f 0 32px,#0000af 0 36px,#00009f 0 37px,#0000af 0 41px,#00009f 0 43px,#0000af 0 45px,#00009f 0 47px,#0000af 0 48px,#00009f 0 49px,#0000af 0)"></i><i style="left:450px;background:linear-gradient(90deg,#0000af 0 10px,#0000bf 0 11px,#0000af 0 13px,#0000bf 0 14px,#0000af 0 16px,#0000bf 0 17px,#0000af 0 19px,#0000bf 0 20px,#00009f 0 21px,#0000af 0 22px,#0000bf 0 23px,#00009f 0 24px,#0000af 0 25px,#0000bf 0 26px,#0000af 0 27px,#00009f 0 28px,#0000af 0 30px,#00009f 0 32px,#0000af 0)"></i></div>
</div>
<svg class="ov" width="2044" height="1640" viewBox="0 0 2044 1640">
<line x1="182.4" y1="1473.3" x2="2009.2" y2="27.1" stroke="#ffffff" stroke-opacity="0.3" stroke-width="0.8"/>
<g stroke="#262626" stroke-width="2" fill="none" stroke-linecap="butt">
<rect x="182.4" y="27.1" width="1826.8" height="1446.2"/>
<path d="M182.4 1473.3v-18.3M182.4 27.1v18.3"/>
<path d="M365.2 1473.3v-18.3M365.2 27.1v18.3"/>
<path d="M547.9 1473.3v-18.3M547.9 27.1v18.3"/>
<path d="M730.7 1473.3v-18.3M730.7 27.1v18.3"/>
<path d="M913.4 1473.3v-18.3M913.4 27.1v18.3"/>
<path d="M1096.2 1473.3v-18.3M1096.2 27.1v18.3"/>
<path d="M1278.9 1473.3v-18.3M1278.9 27.1v18.3"/>
<path d="M1461.7 1473.3v-18.3M1461.7 27.1v18.3"/>
<path d="M1644.4 1473.3v-18.3M1644.4 27.1v18.3"/>
<path d="M1827.2 1473.3v-18.3M1827.2 27.1v18.3"/>
<path d="M182.4 88.1h18.3M2009.2 88.1h-18.3"/>
<path d="M182.4 232.9h18.3M2009.2 232.9h-18.3"/>
<path d="M182.4 377.7h18.3M2009.2 377.7h-18.3"/>
<path d="M182.4 522.5h18.3M2009.2 522.5h-18.3"/>
<path d="M182.4 667.3h18.3M2009.2 667.3h-18.3"/>
<path d="M182.4 812.1h18.3M2009.2 812.1h-18.3"/>
<path d="M182.4 956.9h18.3M2009.2 956.9h-18.3"/>
<path d="M182.4 1101.7h18.3M2009.2 1101.7h-18.3"/>
<path d="M182.4 1246.5h18.3M2009.2 1246.5h-18.3"/>
<path d="M182.4 1391.3h18.3M2009.2 1391.3h-18.3"/>
</g>
<g fill="#ff0000" stroke="none"><polygon points="969.0,419.2 1042.7,564.3 1034.9,568.3 961.2,423.2"/><polygon points="1043.2,536.0 1050.1,588.6 1011.7,552.0 1033.8,556.5"/><polygon points="1005.9,1210.5 1039.6,1062.4 1048.2,1064.4 1014.5,1212.5"/><polygon points="1021.1,1083.8 1049.4,1039.0 1055.6,1091.7 1041.4,1074.1"/></g>
</svg>
<div class="xt" style="left:81.1px">0</div>
<div class="xt" style="left:263.9px">0.1</div>
<div class="xt" style="left:446.6px">0.2</div>
<div class="xt" style="left:629.4px">0.3</div>
<div class="xt" style="left:812.1px">0.4</div>
<div class="xt" style="left:994.9px">0.5</div>
<div class="xt" style="left:1177.6px">0.6</div>
<div class="xt" style="left:1360.4px">0.7</div>
<div class="xt" style="left:1543.1px">0.8</div>
<div class="xt" style="left:1725.9px">0.9</div>
<div class="yt" style="top:62.6px">-2.5</div>
<div class="yt" style="top:207.4px">-2</div>
<div class="yt" style="top:352.2px">-1.5</div>
<div class="yt" style="top:497.0px">-1</div>
<div class="yt" style="top:641.8px">-0.5</div>
<div class="yt" style="top:786.6px">0</div>
<div class="yt" style="top:931.4px">0.5</div>
<div class="yt" style="top:1076.2px">1</div>
<div class="yt" style="top:1221.0px">1.5</div>
<div class="yt" style="top:1365.8px">2</div>
<div class="xl">Time (s)</div>
<div class="yl">Range (m)</div>
<div class="box" style="left:732.3px;top:316.9px;width:767.3px;height:95px"><span style="left:36.4px;top:20.3px">The cone-top  point  scatterer</span></div>
<div class="box" style="left:781.2px;top:1217.1px;width:839.6px;height:94.9px"><span style="left:36.6px;top:20.9px;letter-spacing:-0.2px">The cone-bottom  point  scatterer</span></div>
</body></html>
